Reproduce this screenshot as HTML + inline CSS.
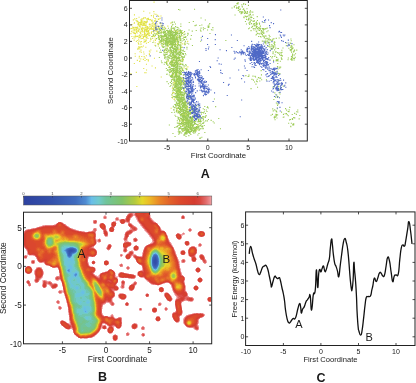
<!DOCTYPE html>
<html><head><meta charset="utf-8"><title>Figure</title>
<style>html,body{margin:0;padding:0;background:#fff;width:416px;height:383px;overflow:hidden}svg{display:block}</style>
</head><body>
<svg width="416" height="383" viewBox="0 0 416 383"><rect width="416" height="383" fill="#fff"/><defs><filter id="soft" x="-5%" y="-5%" width="110%" height="110%"><feGaussianBlur stdDeviation="0.45"/></filter><linearGradient id="cb" x1="0" x2="1" y1="0" y2="0"><stop offset="0.0000" stop-color="#2d41a0"/><stop offset="0.1538" stop-color="#3452ac"/><stop offset="0.2769" stop-color="#406cbe"/><stop offset="0.3308" stop-color="#508cd2"/><stop offset="0.3615" stop-color="#69bee8"/><stop offset="0.4000" stop-color="#70cacd"/><stop offset="0.4385" stop-color="#70c49b"/><stop offset="0.5231" stop-color="#80c269"/><stop offset="0.5923" stop-color="#b4ca3e"/><stop offset="0.6308" stop-color="#e4d82a"/><stop offset="0.6692" stop-color="#ecba28"/><stop offset="0.7231" stop-color="#ea8428"/><stop offset="0.7769" stop-color="#e2622a"/><stop offset="0.8308" stop-color="#dc4a2c"/><stop offset="0.9077" stop-color="#d53c30"/><stop offset="0.9385" stop-color="#d84840"/><stop offset="0.9692" stop-color="#e26c6c"/><stop offset="1.0000" stop-color="#f0a0a4"/></linearGradient></defs><g filter="url(#soft)"><path fill="#e2e246" d="M146 30.7h1.1v1.1h-1.1zM148.8 32.6h1.1v1.1h-1.1zM143.4 41.7h1.1v1.1h-1.1zM137.5 27.7h1.1v1.1h-1.1zM141.7 25.1h1.1v1.1h-1.1zM136.6 20.2h1.1v1.1h-1.1zM146.6 29.3h1.1v1.1h-1.1zM158.7 38.6h1.1v1.1h-1.1zM141.3 35.2h1.1v1.1h-1.1zM140.1 22.9h1.1v1.1h-1.1zM150.7 23.4h1.1v1.1h-1.1zM149.4 25.7h1.1v1.1h-1.1zM147 30.9h1.1v1.1h-1.1zM137.2 27.7h1.1v1.1h-1.1zM145.7 30.4h1.1v1.1h-1.1zM152.6 30.9h1.1v1.1h-1.1zM133.2 27.1h1.1v1.1h-1.1zM141.7 28.7h1.1v1.1h-1.1zM133.7 28.5h1.1v1.1h-1.1zM143.8 41.2h1.1v1.1h-1.1zM134 32.8h1.1v1.1h-1.1zM148.6 29.4h1.1v1.1h-1.1zM147.5 18h1.1v1.1h-1.1zM144.2 31.5h1.1v1.1h-1.1zM140.9 19.8h1.1v1.1h-1.1zM145.5 34.6h1.1v1.1h-1.1zM147.1 33.6h1.1v1.1h-1.1zM131.5 28h1.1v1.1h-1.1zM141.5 17.9h1.1v1.1h-1.1zM136.7 26.6h1.1v1.1h-1.1zM138.3 24.6h1.1v1.1h-1.1zM156.1 33.1h1.1v1.1h-1.1zM138.3 43.7h1.1v1.1h-1.1zM145.7 30.4h1.1v1.1h-1.1zM154.4 23.9h1.1v1.1h-1.1zM140.5 21.4h1.1v1.1h-1.1zM144.9 28.6h1.1v1.1h-1.1zM147 27.9h1.1v1.1h-1.1zM146.6 21.5h1.1v1.1h-1.1zM134.4 29.8h1.1v1.1h-1.1zM146.7 21.5h1.1v1.1h-1.1zM158.9 36.2h1.1v1.1h-1.1zM131.3 35.9h1.1v1.1h-1.1zM154.2 36.1h1.1v1.1h-1.1zM147.1 25.9h1.1v1.1h-1.1zM139.9 32.3h1.1v1.1h-1.1zM165 28.1h1.1v1.1h-1.1zM153.2 26.5h1.1v1.1h-1.1zM134.6 26.8h1.1v1.1h-1.1zM146.7 20.6h1.1v1.1h-1.1zM151.5 19.6h1.1v1.1h-1.1zM144.2 34.2h1.1v1.1h-1.1zM152.5 27.8h1.1v1.1h-1.1zM145.4 30.4h1.1v1.1h-1.1zM152.3 35.5h1.1v1.1h-1.1zM159.7 17.7h1.1v1.1h-1.1zM139.6 23.9h1.1v1.1h-1.1zM147.9 30.1h1.1v1.1h-1.1zM141.6 31.5h1.1v1.1h-1.1zM147.2 26.5h1.1v1.1h-1.1zM134.7 35.7h1.1v1.1h-1.1zM140.5 30.4h1.1v1.1h-1.1zM144.1 21.1h1.1v1.1h-1.1zM154.5 23h1.1v1.1h-1.1zM156.9 34.2h1.1v1.1h-1.1zM133.4 32h1.1v1.1h-1.1zM138.5 16.7h1.1v1.1h-1.1zM152.1 37.8h1.1v1.1h-1.1zM141.6 37.7h1.1v1.1h-1.1zM145.1 26.5h1.1v1.1h-1.1zM157.9 27.1h1.1v1.1h-1.1zM152.5 21.7h1.1v1.1h-1.1zM142.9 45.5h1.1v1.1h-1.1zM142.5 27.9h1.1v1.1h-1.1zM143.6 39.3h1.1v1.1h-1.1zM160.5 24.8h1.1v1.1h-1.1zM141.9 30.1h1.1v1.1h-1.1zM143.1 18.1h1.1v1.1h-1.1zM149.3 26.5h1.1v1.1h-1.1zM144.9 35.4h1.1v1.1h-1.1zM144.1 20.9h1.1v1.1h-1.1zM135.4 36h1.1v1.1h-1.1zM145.9 31.2h1.1v1.1h-1.1zM141.8 22.2h1.1v1.1h-1.1zM157.1 25.7h1.1v1.1h-1.1zM152.2 26h1.1v1.1h-1.1zM145.8 28.7h1.1v1.1h-1.1zM152.3 25.5h1.1v1.1h-1.1zM142.8 23.6h1.1v1.1h-1.1zM156 27h1.1v1.1h-1.1zM145.9 22.3h1.1v1.1h-1.1zM151.5 20.6h1.1v1.1h-1.1zM133.7 28.7h1.1v1.1h-1.1zM149.3 34.7h1.1v1.1h-1.1zM143.1 24.8h1.1v1.1h-1.1zM137.5 22.6h1.1v1.1h-1.1zM147.6 34.5h1.1v1.1h-1.1zM167.3 25.6h1.1v1.1h-1.1zM138.1 38.7h1.1v1.1h-1.1zM140.1 23.9h1.1v1.1h-1.1zM148 31.5h1.1v1.1h-1.1zM150.7 27.5h1.1v1.1h-1.1zM144.3 24.1h1.1v1.1h-1.1zM144 32.8h1.1v1.1h-1.1zM152.7 28h1.1v1.1h-1.1zM150.9 32.9h1.1v1.1h-1.1zM136.2 28.7h1.1v1.1h-1.1zM145.2 21.9h1.1v1.1h-1.1zM146.3 28.3h1.1v1.1h-1.1zM136 29.3h1.1v1.1h-1.1zM148.5 35.2h1.1v1.1h-1.1zM137.8 23.1h1.1v1.1h-1.1zM155.2 28.7h1.1v1.1h-1.1zM147.8 17.8h1.1v1.1h-1.1zM146.8 33.2h1.1v1.1h-1.1zM140.4 22h1.1v1.1h-1.1zM144.9 17.3h1.1v1.1h-1.1zM135.3 36.2h1.1v1.1h-1.1zM149.4 19.1h1.1v1.1h-1.1zM154 24.2h1.1v1.1h-1.1zM153.2 31.5h1.1v1.1h-1.1zM138 23.8h1.1v1.1h-1.1zM153.4 24.3h1.1v1.1h-1.1zM147.2 32.8h1.1v1.1h-1.1zM131.4 24.1h1.1v1.1h-1.1zM157.9 31.8h1.1v1.1h-1.1zM159.7 22.7h1.1v1.1h-1.1zM145.4 21.1h1.1v1.1h-1.1zM143.4 17.1h1.1v1.1h-1.1zM144.5 41.1h1.1v1.1h-1.1zM136.7 26.9h1.1v1.1h-1.1zM156.4 30.6h1.1v1.1h-1.1zM140.8 28.8h1.1v1.1h-1.1zM145.5 30h1.1v1.1h-1.1zM138.5 29.3h1.1v1.1h-1.1zM140.1 41.4h1.1v1.1h-1.1zM133.9 22.2h1.1v1.1h-1.1zM157.9 18.9h1.1v1.1h-1.1zM144.5 22.4h1.1v1.1h-1.1zM155.2 20.3h1.1v1.1h-1.1zM146.1 33.9h1.1v1.1h-1.1zM139.4 34.3h1.1v1.1h-1.1zM142.9 22.8h1.1v1.1h-1.1zM140.7 20h1.1v1.1h-1.1zM146.1 26.7h1.1v1.1h-1.1zM142.4 38h1.1v1.1h-1.1zM143.2 10.7h1.1v1.1h-1.1zM132.9 32.4h1.1v1.1h-1.1zM138.3 22h1.1v1.1h-1.1zM161.7 35.8h1.1v1.1h-1.1zM139.6 22h1.1v1.1h-1.1zM136 27.1h1.1v1.1h-1.1zM149.2 19.2h1.1v1.1h-1.1zM159.4 22.6h1.1v1.1h-1.1zM132.2 38h1.1v1.1h-1.1zM144 34.3h1.1v1.1h-1.1zM140 26.4h1.1v1.1h-1.1zM153 16.7h1.1v1.1h-1.1zM145.8 26.4h1.1v1.1h-1.1zM146.7 28.8h1.1v1.1h-1.1zM138.9 28.5h1.1v1.1h-1.1zM150.3 28.4h1.1v1.1h-1.1zM140.9 21.7h1.1v1.1h-1.1zM144.6 28.6h1.1v1.1h-1.1zM135.5 28.7h1.1v1.1h-1.1zM134.4 37.4h1.1v1.1h-1.1zM158.7 41.1h1.1v1.1h-1.1zM141.2 28.1h1.1v1.1h-1.1zM148.8 24h1.1v1.1h-1.1zM145.7 28.6h1.1v1.1h-1.1zM141.8 25.1h1.1v1.1h-1.1zM141.2 24.2h1.1v1.1h-1.1zM152 28.6h1.1v1.1h-1.1zM143.1 22.2h1.1v1.1h-1.1zM144.6 32.9h1.1v1.1h-1.1zM146.2 28.3h1.1v1.1h-1.1zM157.2 30.6h1.1v1.1h-1.1zM152.5 27.8h1.1v1.1h-1.1zM149.6 24.3h1.1v1.1h-1.1zM140.6 22.8h1.1v1.1h-1.1zM132.9 27.5h1.1v1.1h-1.1zM155 25.4h1.1v1.1h-1.1zM155.2 30.5h1.1v1.1h-1.1zM144.7 29h1.1v1.1h-1.1zM151.1 20.1h1.1v1.1h-1.1zM153.4 29.4h1.1v1.1h-1.1zM153.9 20.3h1.1v1.1h-1.1zM154.8 25h1.1v1.1h-1.1zM141.7 27.1h1.1v1.1h-1.1zM160.4 15.5h1.1v1.1h-1.1zM134.2 29.6h1.1v1.1h-1.1zM154.2 30h1.1v1.1h-1.1zM150.7 28h1.1v1.1h-1.1zM154.3 26.2h1.1v1.1h-1.1zM163.9 26.6h1.1v1.1h-1.1zM160.1 22.7h1.1v1.1h-1.1zM135.1 27.2h1.1v1.1h-1.1zM153.8 29.6h1.1v1.1h-1.1zM136.4 21.2h1.1v1.1h-1.1zM145.9 30.5h1.1v1.1h-1.1zM154 29.9h1.1v1.1h-1.1zM130.4 28.1h1.1v1.1h-1.1zM148.5 32.6h1.1v1.1h-1.1zM146.4 18.2h1.1v1.1h-1.1zM143.7 32h1.1v1.1h-1.1zM146.4 30.6h1.1v1.1h-1.1zM137.8 30.8h1.1v1.1h-1.1zM131.6 31.5h1.1v1.1h-1.1zM144.4 24.8h1.1v1.1h-1.1zM136.8 27.3h1.1v1.1h-1.1zM130.4 33.1h1.1v1.1h-1.1zM150.8 31.8h1.1v1.1h-1.1zM145.4 30.3h1.1v1.1h-1.1zM149.9 19.2h1.1v1.1h-1.1zM136.6 32.5h1.1v1.1h-1.1zM139.7 36.6h1.1v1.1h-1.1zM136.5 35.6h1.1v1.1h-1.1zM137.6 30.5h1.1v1.1h-1.1zM147.9 18.9h1.1v1.1h-1.1zM138.6 35.1h1.1v1.1h-1.1zM149.4 28h1.1v1.1h-1.1zM149.2 12.5h1.1v1.1h-1.1zM165.2 31.5h1.1v1.1h-1.1zM132.8 19.3h1.1v1.1h-1.1zM154.4 20.6h1.1v1.1h-1.1zM145.1 24.9h1.1v1.1h-1.1zM145.9 37.3h1.1v1.1h-1.1zM132.2 26.6h1.1v1.1h-1.1zM141.6 30.8h1.1v1.1h-1.1zM153.1 40.4h1.1v1.1h-1.1zM145.2 39.4h1.1v1.1h-1.1zM146.8 28.3h1.1v1.1h-1.1zM143.2 27.4h1.1v1.1h-1.1zM157 20.8h1.1v1.1h-1.1zM145.8 24.5h1.1v1.1h-1.1zM139.4 31.6h1.1v1.1h-1.1zM141 24h1.1v1.1h-1.1zM158.7 28.6h1.1v1.1h-1.1zM146.4 33.8h1.1v1.1h-1.1zM134.9 32.8h1.1v1.1h-1.1zM137.1 36h1.1v1.1h-1.1zM156.7 31.6h1.1v1.1h-1.1zM147.5 27h1.1v1.1h-1.1zM146.5 31.4h1.1v1.1h-1.1zM145.5 22.5h1.1v1.1h-1.1zM146.4 18.3h1.1v1.1h-1.1zM153.7 32.8h1.1v1.1h-1.1zM151.2 28.6h1.1v1.1h-1.1zM148 31h1.1v1.1h-1.1zM136.1 18h1.1v1.1h-1.1zM150.9 26.6h1.1v1.1h-1.1zM139.5 25.1h1.1v1.1h-1.1zM156.4 23.4h1.1v1.1h-1.1zM133.9 14.3h1.1v1.1h-1.1zM144.7 26.8h1.1v1.1h-1.1zM145.9 34.8h1.1v1.1h-1.1zM133.4 31.5h1.1v1.1h-1.1zM162.4 25.1h1.1v1.1h-1.1zM159.9 28.9h1.1v1.1h-1.1zM141.6 33.9h1.1v1.1h-1.1zM153.3 11.1h1.1v1.1h-1.1zM149.6 28.2h1.1v1.1h-1.1zM148.4 33.4h1.1v1.1h-1.1zM145.4 40.1h1.1v1.1h-1.1zM146.8 36.4h1.1v1.1h-1.1zM135.8 31h1.1v1.1h-1.1zM143.4 31h1.1v1.1h-1.1zM144.3 34.1h1.1v1.1h-1.1zM157.3 25.5h1.1v1.1h-1.1zM149.2 28.7h1.1v1.1h-1.1zM145.9 34.9h1.1v1.1h-1.1zM160.5 41.7h1.1v1.1h-1.1zM140.7 28h1.1v1.1h-1.1zM142.3 28.7h1.1v1.1h-1.1zM160.9 37.7h1.1v1.1h-1.1zM155.2 28.8h1.1v1.1h-1.1zM154.7 38.6h1.1v1.1h-1.1zM152.4 22.7h1.1v1.1h-1.1zM147 27.8h1.1v1.1h-1.1zM148 27.7h1.1v1.1h-1.1zM143.6 34.1h1.1v1.1h-1.1zM144.1 35.8h1.1v1.1h-1.1zM146.5 19.2h1.1v1.1h-1.1zM160.4 23.1h1.1v1.1h-1.1zM151.3 31.2h1.1v1.1h-1.1zM145.4 24.7h1.1v1.1h-1.1zM140.5 19.1h1.1v1.1h-1.1zM140 35.8h1.1v1.1h-1.1zM161.2 32.2h1.1v1.1h-1.1zM150.8 32.2h1.1v1.1h-1.1zM146.6 25.9h1.1v1.1h-1.1zM142.7 35.7h1.1v1.1h-1.1zM135.5 27.4h1.1v1.1h-1.1zM145.4 36.1h1.1v1.1h-1.1zM154.3 23.1h1.1v1.1h-1.1zM142.3 23.4h1.1v1.1h-1.1zM143.8 30.3h1.1v1.1h-1.1zM143.9 24.4h1.1v1.1h-1.1zM147 33.4h1.1v1.1h-1.1zM130.9 30.7h1.1v1.1h-1.1zM143.8 23h1.1v1.1h-1.1zM137.9 29.5h1.1v1.1h-1.1zM154.4 26.7h1.1v1.1h-1.1zM138.7 35h1.1v1.1h-1.1zM151.5 24.9h1.1v1.1h-1.1zM160.5 26.1h1.1v1.1h-1.1zM143 36.9h1.1v1.1h-1.1zM140.3 43.6h1.1v1.1h-1.1zM147.8 42h1.1v1.1h-1.1zM146 29.4h1.1v1.1h-1.1zM136.6 30.4h1.1v1.1h-1.1zM150.4 39h1.1v1.1h-1.1zM165.1 28.2h1.1v1.1h-1.1zM143.5 22.7h1.1v1.1h-1.1zM144.1 29.8h1.1v1.1h-1.1zM136.1 31.9h1.1v1.1h-1.1zM149 23.6h1.1v1.1h-1.1zM134.2 18.3h1.1v1.1h-1.1zM135.5 19.7h1.1v1.1h-1.1zM158.2 33.3h1.1v1.1h-1.1zM137.4 24.1h1.1v1.1h-1.1zM156.3 28.1h1.1v1.1h-1.1zM160.5 30.4h1.1v1.1h-1.1zM145.3 46.7h1.1v1.1h-1.1zM138.7 57.5h1.1v1.1h-1.1zM144.5 59.9h1.1v1.1h-1.1zM134.8 34.4h1.1v1.1h-1.1zM138.5 47.1h1.1v1.1h-1.1zM133.8 62.9h1.1v1.1h-1.1zM148.9 53.8h1.1v1.1h-1.1zM140.8 51.7h1.1v1.1h-1.1zM135.8 71.8h1.1v1.1h-1.1zM138.5 40.5h1.1v1.1h-1.1zM139.4 51.2h1.1v1.1h-1.1zM145.9 42.7h1.1v1.1h-1.1zM133.7 22.7h1.1v1.1h-1.1zM138.4 40.6h1.1v1.1h-1.1zM158.7 42.6h1.1v1.1h-1.1zM147.7 59.3h1.1v1.1h-1.1zM140.2 58.5h1.1v1.1h-1.1zM146 69.5h1.1v1.1h-1.1zM155.4 28h1.1v1.1h-1.1zM139.4 60.5h1.1v1.1h-1.1zM138.4 45.9h1.1v1.1h-1.1zM149.5 40.7h1.1v1.1h-1.1zM144.5 57.6h1.1v1.1h-1.1zM145.7 37.1h1.1v1.1h-1.1zM137.4 20.9h1.1v1.1h-1.1zM154.5 44.8h1.1v1.1h-1.1zM153 29h1.1v1.1h-1.1zM145 40.9h1.1v1.1h-1.1zM145.8 55.2h1.1v1.1h-1.1zM145.5 72.2h1.1v1.1h-1.1zM139.6 47.2h1.1v1.1h-1.1zM144 28.5h1.1v1.1h-1.1zM145.8 39.4h1.1v1.1h-1.1zM138.6 37.1h1.1v1.1h-1.1zM143.6 56.1h1.1v1.1h-1.1zM135.8 41h1.1v1.1h-1.1zM138.7 22.3h1.1v1.1h-1.1zM136.8 59.8h1.1v1.1h-1.1zM138.6 48.4h1.1v1.1h-1.1zM149.5 51.5h1.1v1.1h-1.1zM142.8 58.8h1.1v1.1h-1.1zM148.8 50.5h1.1v1.1h-1.1zM154.9 67.3h1.1v1.1h-1.1zM141.2 55.9h1.1v1.1h-1.1zM134.7 55.7h1.1v1.1h-1.1zM132.6 29.6h1.1v1.1h-1.1zM137.5 47.7h1.1v1.1h-1.1zM141.6 46.4h1.1v1.1h-1.1zM143.4 31h1.1v1.1h-1.1zM130.4 72.9h1.1v1.1h-1.1zM143.1 51.5h1.1v1.1h-1.1zM140.2 33h1.1v1.1h-1.1zM138.8 26.1h1.1v1.1h-1.1zM140.5 46.1h1.1v1.1h-1.1zM137.2 48.7h1.1v1.1h-1.1zM136.7 39.9h1.1v1.1h-1.1zM140.8 41h1.1v1.1h-1.1zM153.9 57.7h1.1v1.1h-1.1zM154.9 39.9h1.1v1.1h-1.1zM150.3 49.5h1.1v1.1h-1.1zM145.9 63.7h1.1v1.1h-1.1zM136.3 86h1.1v1.1h-1.1zM151.1 35.9h1.1v1.1h-1.1zM140.6 43.5h1.1v1.1h-1.1zM140.5 38.2h1.1v1.1h-1.1zM139 61h1.1v1.1h-1.1zM141.6 33.9h1.1v1.1h-1.1zM138 43.2h1.1v1.1h-1.1zM140.4 49.6h1.1v1.1h-1.1zM133.4 36.3h1.1v1.1h-1.1zM138.4 36.6h1.1v1.1h-1.1zM157 43.3h1.1v1.1h-1.1zM140.5 20.6h1.1v1.1h-1.1zM144.2 72.2h1.1v1.1h-1.1zM152.1 23.3h1.1v1.1h-1.1zM147.4 38h1.1v1.1h-1.1zM143.5 53.4h1.1v1.1h-1.1zM161.2 32.1h1.1v1.1h-1.1zM157.8 45.5h1.1v1.1h-1.1zM148.9 35h1.1v1.1h-1.1zM137.6 42.2h1.1v1.1h-1.1zM158.8 37.6h1.1v1.1h-1.1zM141.9 19.5h1.1v1.1h-1.1zM133.6 39.6h1.1v1.1h-1.1zM138.8 55.8h1.1v1.1h-1.1zM170.3 22.6h1.1v1.1h-1.1zM153.1 35.7h1.1v1.1h-1.1zM166.2 52h1.1v1.1h-1.1zM143.3 20.7h1.1v1.1h-1.1zM163.1 43.3h1.1v1.1h-1.1zM141.6 20.9h1.1v1.1h-1.1zM147.8 60.4h1.1v1.1h-1.1zM184.8 81.6h1.1v1.1h-1.1zM160.7 76.4h1.1v1.1h-1.1zM143 36.1h1.1v1.1h-1.1zM148.8 53.3h1.1v1.1h-1.1zM154.6 42.2h1.1v1.1h-1.1zM166.9 41.8h1.1v1.1h-1.1zM143.2 67.9h1.1v1.1h-1.1zM146.1 59h1.1v1.1h-1.1zM150.2 39.1h1.1v1.1h-1.1zM151.5 65.4h1.1v1.1h-1.1zM168.4 43.4h1.1v1.1h-1.1zM154.4 27.9h1.1v1.1h-1.1zM161.4 45h1.1v1.1h-1.1zM134.6 53.2h1.1v1.1h-1.1zM162.2 40.6h1.1v1.1h-1.1zM179.3 48.8h1.1v1.1h-1.1zM160.8 30.6h1.1v1.1h-1.1zM153.5 1.6h1.1v1.1h-1.1zM157.7 18.4h1.1v1.1h-1.1zM157.1 14.7h1.1v1.1h-1.1zM155.4 13.8h1.1v1.1h-1.1zM155.2 18.5h1.1v1.1h-1.1zM158.1 15.8h1.1v1.1h-1.1zM153.6 13.4h1.1v1.1h-1.1zM152.9 15.3h1.1v1.1h-1.1zM154.4 17.9h1.1v1.1h-1.1zM158.6 18.4h1.1v1.1h-1.1zM150.8 15.1h1.1v1.1h-1.1zM164.2 36.4h1.1v1.1h-1.1zM176.7 74.3h1.1v1.1h-1.1zM176.9 98.6h1.1v1.1h-1.1zM170.1 36h1.1v1.1h-1.1zM175.4 55.9h1.1v1.1h-1.1zM176.8 31.5h1.1v1.1h-1.1zM174.8 86.3h1.1v1.1h-1.1zM175.8 69.4h1.1v1.1h-1.1zM180.2 81.6h1.1v1.1h-1.1zM175.3 60.5h1.1v1.1h-1.1zM173.6 98.8h1.1v1.1h-1.1zM181 46.8h1.1v1.1h-1.1zM194.7 120.8h1.1v1.1h-1.1zM182.7 129.5h1.1v1.1h-1.1zM182.4 80.2h1.1v1.1h-1.1zM172.2 78.8h1.1v1.1h-1.1zM189.7 117h1.1v1.1h-1.1zM172.6 60.2h1.1v1.1h-1.1zM179.4 114.2h1.1v1.1h-1.1zM168.1 60.6h1.1v1.1h-1.1zM179.1 105h1.1v1.1h-1.1zM175.3 64.5h1.1v1.1h-1.1zM180.2 92.1h1.1v1.1h-1.1zM189.9 124.1h1.1v1.1h-1.1zM162.3 36.3h1.1v1.1h-1.1zM183.8 113h1.1v1.1h-1.1zM174.2 86.6h1.1v1.1h-1.1zM185.9 67.7h1.1v1.1h-1.1zM177 66h1.1v1.1h-1.1zM170.2 37.3h1.1v1.1h-1.1zM176.1 56.4h1.1v1.1h-1.1zM172.1 95.4h1.1v1.1h-1.1zM179.3 39.6h1.1v1.1h-1.1zM178.4 99.4h1.1v1.1h-1.1zM185.2 129.1h1.1v1.1h-1.1zM194 128.9h1.1v1.1h-1.1zM183.5 121.7h1.1v1.1h-1.1zM183.3 113.1h1.1v1.1h-1.1zM156.3 50.6h1.1v1.1h-1.1zM182.5 130.7h1.1v1.1h-1.1zM173.5 50.9h1.1v1.1h-1.1zM182.4 119.8h1.1v1.1h-1.1zM185.3 120.1h1.1v1.1h-1.1zM181 94h1.1v1.1h-1.1zM175.6 84.2h1.1v1.1h-1.1zM170.4 51.1h1.1v1.1h-1.1zM172.3 84.5h1.1v1.1h-1.1zM181.4 59h1.1v1.1h-1.1zM180.6 42.5h1.1v1.1h-1.1zM177 43h1.1v1.1h-1.1zM182 113h1.1v1.1h-1.1zM183.2 125.4h1.1v1.1h-1.1zM173.2 44.7h1.1v1.1h-1.1zM170 31.5h1.1v1.1h-1.1zM173.8 57.3h1.1v1.1h-1.1zM182.2 43.3h1.1v1.1h-1.1zM177.7 48.9h1.1v1.1h-1.1zM175.6 90.7h1.1v1.1h-1.1zM173 74.1h1.1v1.1h-1.1zM171.9 75h1.1v1.1h-1.1zM169.4 51.8h1.1v1.1h-1.1zM188.7 97.3h1.1v1.1h-1.1zM172.9 60.1h1.1v1.1h-1.1zM174.5 71.5h1.1v1.1h-1.1zM181.8 77.2h1.1v1.1h-1.1zM178.8 124.5h1.1v1.1h-1.1zM174.6 55.4h1.1v1.1h-1.1zM178.3 105.2h1.1v1.1h-1.1zM170.9 62.6h1.1v1.1h-1.1zM184.7 122h1.1v1.1h-1.1zM170.1 71.6h1.1v1.1h-1.1zM178.1 82.1h1.1v1.1h-1.1zM182.6 120.7h1.1v1.1h-1.1zM178.6 99.7h1.1v1.1h-1.1zM179.6 39.3h1.1v1.1h-1.1zM176.2 43.9h1.1v1.1h-1.1zM195.9 129.5h1.1v1.1h-1.1zM183 32.2h1.1v1.1h-1.1zM182.1 60h1.1v1.1h-1.1zM187 128.3h1.1v1.1h-1.1zM180.7 30.9h1.1v1.1h-1.1zM166.9 47.5h1.1v1.1h-1.1zM174.7 51.9h1.1v1.1h-1.1zM173.7 38.8h1.1v1.1h-1.1zM181.5 78.1h1.1v1.1h-1.1zM177.6 91.4h1.1v1.1h-1.1zM179.1 62.3h1.1v1.1h-1.1zM168.2 41.5h1.1v1.1h-1.1zM182.1 114h1.1v1.1h-1.1zM192.4 109.4h1.1v1.1h-1.1zM176.8 88.3h1.1v1.1h-1.1zM184.8 43.5h1.1v1.1h-1.1zM175.3 86.4h1.1v1.1h-1.1zM186.8 93.9h1.1v1.1h-1.1zM180.5 73.6h1.1v1.1h-1.1zM180.6 119.7h1.1v1.1h-1.1zM174.9 70.5h1.1v1.1h-1.1zM175.3 83.1h1.1v1.1h-1.1zM187.2 40.8h1.1v1.1h-1.1zM175.8 88.6h1.1v1.1h-1.1zM186.9 107.3h1.1v1.1h-1.1zM176 107.5h1.1v1.1h-1.1zM173.7 56.6h1.1v1.1h-1.1zM190.7 131h1.1v1.1h-1.1zM187.7 101.8h1.1v1.1h-1.1zM180 73.2h1.1v1.1h-1.1zM176.4 72.9h1.1v1.1h-1.1zM178.3 111.9h1.1v1.1h-1.1zM165.5 49.2h1.1v1.1h-1.1zM180.6 95.9h1.1v1.1h-1.1zM186 102.3h1.1v1.1h-1.1zM182.1 82.7h1.1v1.1h-1.1zM178.9 121.2h1.1v1.1h-1.1zM176 78.6h1.1v1.1h-1.1zM180.9 77.4h1.1v1.1h-1.1zM166.7 60.5h1.1v1.1h-1.1zM185.6 124.4h1.1v1.1h-1.1zM171.1 63.3h1.1v1.1h-1.1zM177.9 102.7h1.1v1.1h-1.1zM174.7 72.5h1.1v1.1h-1.1zM191.2 124.8h1.1v1.1h-1.1zM197 124.7h1.1v1.1h-1.1zM180.3 32.5h1.1v1.1h-1.1zM194.5 130.3h1.1v1.1h-1.1zM177.3 92.7h1.1v1.1h-1.1zM176.6 37.3h1.1v1.1h-1.1zM174.6 81.8h1.1v1.1h-1.1zM166 35.5h1.1v1.1h-1.1zM172.9 87.5h1.1v1.1h-1.1zM164.1 50.4h1.1v1.1h-1.1zM187.3 66.3h1.1v1.1h-1.1zM166.6 62.7h1.1v1.1h-1.1zM178.2 92.3h1.1v1.1h-1.1zM184.8 114.3h1.1v1.1h-1.1zM191.7 124.8h1.1v1.1h-1.1zM173.6 64.2h1.1v1.1h-1.1zM178.1 88.9h1.1v1.1h-1.1zM175.7 30.3h1.1v1.1h-1.1zM183.5 67.3h1.1v1.1h-1.1zM182.6 129.6h1.1v1.1h-1.1zM168.6 42.6h1.1v1.1h-1.1zM191.8 117.6h1.1v1.1h-1.1zM181.4 97.1h1.1v1.1h-1.1zM170.4 61h1.1v1.1h-1.1zM186.1 108.9h1.1v1.1h-1.1zM172.6 60.2h1.1v1.1h-1.1zM182.4 122.6h1.1v1.1h-1.1zM166.3 39h1.1v1.1h-1.1zM172.9 42.3h1.1v1.1h-1.1zM186.2 105.7h1.1v1.1h-1.1zM177.9 76.2h1.1v1.1h-1.1zM167.6 45.9h1.1v1.1h-1.1zM178.1 83h1.1v1.1h-1.1zM166.1 62h1.1v1.1h-1.1zM171.8 87.7h1.1v1.1h-1.1zM176.7 108.6h1.1v1.1h-1.1zM182.9 118.4h1.1v1.1h-1.1zM179.1 35.6h1.1v1.1h-1.1zM172.8 92.1h1.1v1.1h-1.1zM185.9 131.3h1.1v1.1h-1.1zM179.1 77.2h1.1v1.1h-1.1zM187 107.6h1.1v1.1h-1.1zM175.6 39.9h1.1v1.1h-1.1zM186.1 119.4h1.1v1.1h-1.1zM183.5 89.4h1.1v1.1h-1.1zM181.4 122.1h1.1v1.1h-1.1zM185.5 110.1h1.1v1.1h-1.1zM184 119.5h1.1v1.1h-1.1zM182.2 35.2h1.1v1.1h-1.1zM170.6 107.7h1.1v1.1h-1.1zM167 51.2h1.1v1.1h-1.1zM174.3 57.5h1.1v1.1h-1.1zM180.2 62.8h1.1v1.1h-1.1zM173.5 91.9h1.1v1.1h-1.1zM180.7 94.6h1.1v1.1h-1.1zM190.5 124.5h1.1v1.1h-1.1zM177.1 30.9h1.1v1.1h-1.1zM179.9 49.1h1.1v1.1h-1.1zM175.6 67.4h1.1v1.1h-1.1zM185.2 113.7h1.1v1.1h-1.1zM179.6 86.6h1.1v1.1h-1.1zM181.4 82.3h1.1v1.1h-1.1zM177.1 110.3h1.1v1.1h-1.1zM174.2 98.5h1.1v1.1h-1.1zM178.5 59.4h1.1v1.1h-1.1zM163.8 39.6h1.1v1.1h-1.1zM176.7 77.8h1.1v1.1h-1.1zM187.5 119.7h1.1v1.1h-1.1zM171.9 92.8h1.1v1.1h-1.1zM178.7 35.1h1.1v1.1h-1.1zM173.5 75.9h1.1v1.1h-1.1zM176.1 69.7h1.1v1.1h-1.1zM178.4 90.2h1.1v1.1h-1.1zM183.2 90h1.1v1.1h-1.1zM191.2 126.5h1.1v1.1h-1.1zM169 65.9h1.1v1.1h-1.1zM175.7 72.2h1.1v1.1h-1.1zM176.6 93.7h1.1v1.1h-1.1zM183.5 121.4h1.1v1.1h-1.1zM184.1 101.6h1.1v1.1h-1.1zM177.4 78.6h1.1v1.1h-1.1zM185.8 113.1h1.1v1.1h-1.1zM178.6 79.9h1.1v1.1h-1.1zM190.8 127.9h1.1v1.1h-1.1zM173.4 59.3h1.1v1.1h-1.1zM168 43.5h1.1v1.1h-1.1zM186.6 114.5h1.1v1.1h-1.1zM177.6 60.3h1.1v1.1h-1.1zM180.8 117.9h1.1v1.1h-1.1zM180 92.8h1.1v1.1h-1.1zM173.7 83.2h1.1v1.1h-1.1zM176.9 38.7h1.1v1.1h-1.1zM188.7 108.8h1.1v1.1h-1.1zM176.8 36.5h1.1v1.1h-1.1zM193.5 127.4h1.1v1.1h-1.1zM184.9 120.1h1.1v1.1h-1.1zM173.6 61.5h1.1v1.1h-1.1zM169.9 43.4h1.1v1.1h-1.1zM187.4 120.4h1.1v1.1h-1.1zM176 79.8h1.1v1.1h-1.1zM176.9 42.6h1.1v1.1h-1.1zM173.3 82.1h1.1v1.1h-1.1zM172.4 55.7h1.1v1.1h-1.1zM179.2 71.7h1.1v1.1h-1.1zM171.9 97.3h1.1v1.1h-1.1zM190.4 122.8h1.1v1.1h-1.1zM185.2 111.8h1.1v1.1h-1.1zM171.1 46.9h1.1v1.1h-1.1zM176.2 79.5h1.1v1.1h-1.1zM176.2 81h1.1v1.1h-1.1zM196.7 129.2h1.1v1.1h-1.1zM172 39h1.1v1.1h-1.1zM184.9 81.7h1.1v1.1h-1.1zM189.7 122.9h1.1v1.1h-1.1zM176.7 71.1h1.1v1.1h-1.1zM171.5 57.4h1.1v1.1h-1.1zM181.3 87h1.1v1.1h-1.1zM173.8 63.3h1.1v1.1h-1.1zM190.9 123.9h1.1v1.1h-1.1zM171.9 38.8h1.1v1.1h-1.1zM178.7 50.7h1.1v1.1h-1.1zM166.4 39.1h1.1v1.1h-1.1zM178.5 104.4h1.1v1.1h-1.1zM182.6 59.1h1.1v1.1h-1.1zM189.5 121.4h1.1v1.1h-1.1zM189.8 120.6h1.1v1.1h-1.1zM198.7 123h1.1v1.1h-1.1zM180.9 55.6h1.1v1.1h-1.1zM173.7 29.9h1.1v1.1h-1.1zM181.3 69.2h1.1v1.1h-1.1zM189.1 128.2h1.1v1.1h-1.1zM180.9 109.2h1.1v1.1h-1.1zM176.4 35.9h1.1v1.1h-1.1zM179.3 103h1.1v1.1h-1.1zM181.9 125.1h1.1v1.1h-1.1zM193 127.8h1.1v1.1h-1.1zM177.7 105.1h1.1v1.1h-1.1zM181.4 119.4h1.1v1.1h-1.1zM180.2 118.2h1.1v1.1h-1.1zM175.5 67h1.1v1.1h-1.1z"/><path fill="#9ccb55" d="M175.8 70.7h1.1v1.1h-1.1zM191.1 119.4h1.1v1.1h-1.1zM187.7 126.7h1.1v1.1h-1.1zM192.7 121h1.1v1.1h-1.1zM183.1 115.5h1.1v1.1h-1.1zM164.2 55.4h1.1v1.1h-1.1zM171.9 33.3h1.1v1.1h-1.1zM176.2 76.8h1.1v1.1h-1.1zM157.7 37.5h1.1v1.1h-1.1zM189.5 127.9h1.1v1.1h-1.1zM178 30.4h1.1v1.1h-1.1zM172.8 64h1.1v1.1h-1.1zM177.8 50.4h1.1v1.1h-1.1zM166.9 31.7h1.1v1.1h-1.1zM181.4 81h1.1v1.1h-1.1zM170.9 38h1.1v1.1h-1.1zM182 123.3h1.1v1.1h-1.1zM179 101.5h1.1v1.1h-1.1zM180 67.6h1.1v1.1h-1.1zM185 116.4h1.1v1.1h-1.1zM183.9 111.8h1.1v1.1h-1.1zM167.4 64.9h1.1v1.1h-1.1zM188 116.1h1.1v1.1h-1.1zM189.4 124.6h1.1v1.1h-1.1zM177.6 94.3h1.1v1.1h-1.1zM176 66.3h1.1v1.1h-1.1zM192.3 120.7h1.1v1.1h-1.1zM192 125.4h1.1v1.1h-1.1zM174.3 66h1.1v1.1h-1.1zM171.7 39h1.1v1.1h-1.1zM191.1 117.5h1.1v1.1h-1.1zM180.6 98.6h1.1v1.1h-1.1zM172.8 54.1h1.1v1.1h-1.1zM185.3 87.5h1.1v1.1h-1.1zM181.5 60.8h1.1v1.1h-1.1zM197.5 121.4h1.1v1.1h-1.1zM182.4 64.3h1.1v1.1h-1.1zM179.9 49.4h1.1v1.1h-1.1zM174.7 34.3h1.1v1.1h-1.1zM176.4 65.2h1.1v1.1h-1.1zM190.6 130.7h1.1v1.1h-1.1zM175 52.4h1.1v1.1h-1.1zM178 77.2h1.1v1.1h-1.1zM180.1 131.5h1.1v1.1h-1.1zM169.8 30.8h1.1v1.1h-1.1zM177.8 60h1.1v1.1h-1.1zM190.3 112.1h1.1v1.1h-1.1zM172.3 39.9h1.1v1.1h-1.1zM178.7 127.1h1.1v1.1h-1.1zM184.1 115.9h1.1v1.1h-1.1zM178.7 44.4h1.1v1.1h-1.1zM177.2 91.4h1.1v1.1h-1.1zM181.3 86.9h1.1v1.1h-1.1zM177.3 102.8h1.1v1.1h-1.1zM175.9 61.5h1.1v1.1h-1.1zM169.3 70.7h1.1v1.1h-1.1zM167.4 55.8h1.1v1.1h-1.1zM175.9 60h1.1v1.1h-1.1zM164 49.4h1.1v1.1h-1.1zM198 119.7h1.1v1.1h-1.1zM178.5 122.8h1.1v1.1h-1.1zM181.1 66.4h1.1v1.1h-1.1zM180.9 101.4h1.1v1.1h-1.1zM178.8 80.4h1.1v1.1h-1.1zM176.2 58.8h1.1v1.1h-1.1zM178.6 65.6h1.1v1.1h-1.1zM189.8 128.3h1.1v1.1h-1.1zM173.1 65.6h1.1v1.1h-1.1zM176.6 90.1h1.1v1.1h-1.1zM183.3 127.8h1.1v1.1h-1.1zM165.4 62.1h1.1v1.1h-1.1zM185 112.7h1.1v1.1h-1.1zM166.4 42.2h1.1v1.1h-1.1zM182.4 105.3h1.1v1.1h-1.1zM192.7 109.6h1.1v1.1h-1.1zM182.3 116.9h1.1v1.1h-1.1zM195.6 127.9h1.1v1.1h-1.1zM183.1 102.5h1.1v1.1h-1.1zM187.4 130.2h1.1v1.1h-1.1zM176.8 58.5h1.1v1.1h-1.1zM180.8 83.4h1.1v1.1h-1.1zM170.6 52.5h1.1v1.1h-1.1zM165.9 39.1h1.1v1.1h-1.1zM178.7 75h1.1v1.1h-1.1zM183 103.6h1.1v1.1h-1.1zM182.4 110.3h1.1v1.1h-1.1zM171.1 31.8h1.1v1.1h-1.1zM190 125.8h1.1v1.1h-1.1zM164.4 56.8h1.1v1.1h-1.1zM175.8 60h1.1v1.1h-1.1zM186.3 114.9h1.1v1.1h-1.1zM197.8 118.7h1.1v1.1h-1.1zM179.9 106.6h1.1v1.1h-1.1zM176.4 64.2h1.1v1.1h-1.1zM173.9 78.3h1.1v1.1h-1.1zM187.2 114.8h1.1v1.1h-1.1zM174.8 67h1.1v1.1h-1.1zM185.3 112.2h1.1v1.1h-1.1zM184 110.1h1.1v1.1h-1.1zM180.4 77.9h1.1v1.1h-1.1zM181.3 123.1h1.1v1.1h-1.1zM182.1 68.8h1.1v1.1h-1.1zM188.9 104.7h1.1v1.1h-1.1zM177.3 96.4h1.1v1.1h-1.1zM178.7 63.7h1.1v1.1h-1.1zM177.5 85h1.1v1.1h-1.1zM181.8 92.2h1.1v1.1h-1.1zM175.6 85.8h1.1v1.1h-1.1zM178.1 41.1h1.1v1.1h-1.1zM191 130.8h1.1v1.1h-1.1zM190.4 128.3h1.1v1.1h-1.1zM175.7 33.6h1.1v1.1h-1.1zM188.8 126.3h1.1v1.1h-1.1zM181.1 84.4h1.1v1.1h-1.1zM170.9 43.1h1.1v1.1h-1.1zM190.9 111.8h1.1v1.1h-1.1zM171.6 75.5h1.1v1.1h-1.1zM176.1 105.4h1.1v1.1h-1.1zM186.9 114.1h1.1v1.1h-1.1zM179.8 85.3h1.1v1.1h-1.1zM169.3 35.3h1.1v1.1h-1.1zM182.1 115.3h1.1v1.1h-1.1zM181.3 101.3h1.1v1.1h-1.1zM184.5 123.7h1.1v1.1h-1.1zM171.2 58.3h1.1v1.1h-1.1zM187.2 109.3h1.1v1.1h-1.1zM191.4 118h1.1v1.1h-1.1zM184.4 65.4h1.1v1.1h-1.1zM166.3 73.9h1.1v1.1h-1.1zM179.9 63.8h1.1v1.1h-1.1zM162.7 31.2h1.1v1.1h-1.1zM169.9 54.5h1.1v1.1h-1.1zM176.4 64.1h1.1v1.1h-1.1zM171.3 41.3h1.1v1.1h-1.1zM185.2 107.8h1.1v1.1h-1.1zM174.5 74.4h1.1v1.1h-1.1zM177.8 88.8h1.1v1.1h-1.1zM171.3 59.8h1.1v1.1h-1.1zM176.4 67.1h1.1v1.1h-1.1zM185 106.5h1.1v1.1h-1.1zM176.9 78.6h1.1v1.1h-1.1zM178.6 91.7h1.1v1.1h-1.1zM180.5 73.1h1.1v1.1h-1.1zM181.1 87.1h1.1v1.1h-1.1zM199.7 118.6h1.1v1.1h-1.1zM182.2 56.6h1.1v1.1h-1.1zM174.6 84.1h1.1v1.1h-1.1zM179.9 101.1h1.1v1.1h-1.1zM159.6 39.8h1.1v1.1h-1.1zM183.6 129.5h1.1v1.1h-1.1zM181 81h1.1v1.1h-1.1zM174.4 55.3h1.1v1.1h-1.1zM181.7 108.6h1.1v1.1h-1.1zM181.6 114.7h1.1v1.1h-1.1zM177.6 95.4h1.1v1.1h-1.1zM185.4 124.1h1.1v1.1h-1.1zM165.7 39.6h1.1v1.1h-1.1zM174.5 85h1.1v1.1h-1.1zM180 107.3h1.1v1.1h-1.1zM183.8 124.6h1.1v1.1h-1.1zM179.1 96.3h1.1v1.1h-1.1zM183.6 91.5h1.1v1.1h-1.1zM172.8 70.6h1.1v1.1h-1.1zM180.5 88.7h1.1v1.1h-1.1zM173.1 88.1h1.1v1.1h-1.1zM177.5 124.9h1.1v1.1h-1.1zM189.5 113.1h1.1v1.1h-1.1zM175.8 108.2h1.1v1.1h-1.1zM180.5 126.2h1.1v1.1h-1.1zM162.2 37.5h1.1v1.1h-1.1zM189.8 106.6h1.1v1.1h-1.1zM173.3 78.4h1.1v1.1h-1.1zM176 109.8h1.1v1.1h-1.1zM175.3 60.5h1.1v1.1h-1.1zM177.8 78.2h1.1v1.1h-1.1zM186.6 113.9h1.1v1.1h-1.1zM170.1 33.7h1.1v1.1h-1.1zM161.4 62.1h1.1v1.1h-1.1zM178.7 80.3h1.1v1.1h-1.1zM192.2 115.5h1.1v1.1h-1.1zM183.2 56.7h1.1v1.1h-1.1zM182.6 115.2h1.1v1.1h-1.1zM173.7 55.3h1.1v1.1h-1.1zM171.8 61.8h1.1v1.1h-1.1zM181.1 86.8h1.1v1.1h-1.1zM179.3 97.6h1.1v1.1h-1.1zM191 118.9h1.1v1.1h-1.1zM181.4 121.2h1.1v1.1h-1.1zM167.8 56.7h1.1v1.1h-1.1zM179.1 107.9h1.1v1.1h-1.1zM177 96h1.1v1.1h-1.1zM179.4 69.4h1.1v1.1h-1.1zM180.9 110.6h1.1v1.1h-1.1zM180.7 123.3h1.1v1.1h-1.1zM175.8 79.7h1.1v1.1h-1.1zM183 124.7h1.1v1.1h-1.1zM172.3 43.2h1.1v1.1h-1.1zM166.6 48h1.1v1.1h-1.1zM181.1 109.2h1.1v1.1h-1.1zM169 62.4h1.1v1.1h-1.1zM175.7 90.9h1.1v1.1h-1.1zM178.7 81.2h1.1v1.1h-1.1zM176.8 44.5h1.1v1.1h-1.1zM184.7 106.8h1.1v1.1h-1.1zM181.2 106.7h1.1v1.1h-1.1zM178.6 44.2h1.1v1.1h-1.1zM177.7 56.4h1.1v1.1h-1.1zM184.5 112h1.1v1.1h-1.1zM176.7 125.9h1.1v1.1h-1.1zM183.1 119.8h1.1v1.1h-1.1zM184.1 80.9h1.1v1.1h-1.1zM172.8 68.4h1.1v1.1h-1.1zM175 76.3h1.1v1.1h-1.1zM174.6 48h1.1v1.1h-1.1zM186.6 79.9h1.1v1.1h-1.1zM178.2 53.3h1.1v1.1h-1.1zM170.9 47h1.1v1.1h-1.1zM168.1 70.5h1.1v1.1h-1.1zM166.1 37h1.1v1.1h-1.1zM178.2 78.4h1.1v1.1h-1.1zM182.1 101.3h1.1v1.1h-1.1zM178.1 97.5h1.1v1.1h-1.1zM187.6 129.9h1.1v1.1h-1.1zM180.9 122h1.1v1.1h-1.1zM188.8 94h1.1v1.1h-1.1zM187.7 121.6h1.1v1.1h-1.1zM177.5 75.8h1.1v1.1h-1.1zM187.3 110.7h1.1v1.1h-1.1zM176.2 59.2h1.1v1.1h-1.1zM180.2 84.1h1.1v1.1h-1.1zM192.1 129.3h1.1v1.1h-1.1zM176.6 92.2h1.1v1.1h-1.1zM176.1 82.6h1.1v1.1h-1.1zM178.9 112.6h1.1v1.1h-1.1zM177.1 61.9h1.1v1.1h-1.1zM191.5 112.7h1.1v1.1h-1.1zM168.3 32.1h1.1v1.1h-1.1zM175 54.5h1.1v1.1h-1.1zM163.7 49.6h1.1v1.1h-1.1zM172.9 56.8h1.1v1.1h-1.1zM185.5 127.3h1.1v1.1h-1.1zM181.3 31.8h1.1v1.1h-1.1zM176.7 60.6h1.1v1.1h-1.1zM172.4 90.3h1.1v1.1h-1.1zM182.1 102h1.1v1.1h-1.1zM182.9 109.6h1.1v1.1h-1.1zM175.8 69.6h1.1v1.1h-1.1zM177.3 52.3h1.1v1.1h-1.1zM185.2 117.3h1.1v1.1h-1.1zM165.6 43.1h1.1v1.1h-1.1zM170 36.9h1.1v1.1h-1.1zM175.9 53.7h1.1v1.1h-1.1zM169.8 82h1.1v1.1h-1.1zM184.3 127.2h1.1v1.1h-1.1zM181.7 105h1.1v1.1h-1.1zM178.3 88.3h1.1v1.1h-1.1zM170.3 85h1.1v1.1h-1.1zM178.2 102.4h1.1v1.1h-1.1zM181.3 94.4h1.1v1.1h-1.1zM171.9 65.2h1.1v1.1h-1.1zM165.9 40h1.1v1.1h-1.1zM182.7 49.5h1.1v1.1h-1.1zM190.8 107.6h1.1v1.1h-1.1zM175.4 96.1h1.1v1.1h-1.1zM183.4 112h1.1v1.1h-1.1zM163.3 35.2h1.1v1.1h-1.1zM181 123.6h1.1v1.1h-1.1zM175.4 69.6h1.1v1.1h-1.1zM195 122.8h1.1v1.1h-1.1zM179.1 91.4h1.1v1.1h-1.1zM179.3 86.4h1.1v1.1h-1.1zM180.8 115.3h1.1v1.1h-1.1zM176.5 95h1.1v1.1h-1.1zM181.4 99.5h1.1v1.1h-1.1zM170.3 46.6h1.1v1.1h-1.1zM180.6 92.2h1.1v1.1h-1.1zM175.9 66.8h1.1v1.1h-1.1zM168.5 38.1h1.1v1.1h-1.1zM171.4 43.9h1.1v1.1h-1.1zM178.5 79.4h1.1v1.1h-1.1zM177.2 56.7h1.1v1.1h-1.1zM175.8 111.3h1.1v1.1h-1.1zM161.9 43.4h1.1v1.1h-1.1zM172.6 31.3h1.1v1.1h-1.1zM186.9 132.5h1.1v1.1h-1.1zM182.2 61.2h1.1v1.1h-1.1zM180.9 82.2h1.1v1.1h-1.1zM174.1 51.6h1.1v1.1h-1.1zM179.2 50.8h1.1v1.1h-1.1zM181 70.8h1.1v1.1h-1.1zM185.2 110.5h1.1v1.1h-1.1zM175.6 33.8h1.1v1.1h-1.1zM179.9 117.8h1.1v1.1h-1.1zM198.5 128.8h1.1v1.1h-1.1zM182.1 87.2h1.1v1.1h-1.1zM171.1 67.9h1.1v1.1h-1.1zM168.5 54.9h1.1v1.1h-1.1zM164.1 50.1h1.1v1.1h-1.1zM176.7 63.2h1.1v1.1h-1.1zM190.3 116h1.1v1.1h-1.1zM163.6 30.8h1.1v1.1h-1.1zM180.1 112h1.1v1.1h-1.1zM182.8 98.5h1.1v1.1h-1.1zM157.6 32.9h1.1v1.1h-1.1zM170 37.3h1.1v1.1h-1.1zM178.1 107.1h1.1v1.1h-1.1zM179.8 99.5h1.1v1.1h-1.1zM176.2 62.2h1.1v1.1h-1.1zM183.2 118.8h1.1v1.1h-1.1zM172.8 51.8h1.1v1.1h-1.1zM175.4 74.3h1.1v1.1h-1.1zM173.9 41.8h1.1v1.1h-1.1zM179.3 96.7h1.1v1.1h-1.1zM167.1 39.3h1.1v1.1h-1.1zM186.4 46.8h1.1v1.1h-1.1zM180.2 109.8h1.1v1.1h-1.1zM184.2 80.7h1.1v1.1h-1.1zM176.5 98.8h1.1v1.1h-1.1zM183.8 104.8h1.1v1.1h-1.1zM174.7 93.3h1.1v1.1h-1.1zM173.3 50.4h1.1v1.1h-1.1zM175.1 104.1h1.1v1.1h-1.1zM172.4 42h1.1v1.1h-1.1zM177.8 57.4h1.1v1.1h-1.1zM179.1 75.9h1.1v1.1h-1.1zM169.6 42h1.1v1.1h-1.1zM167.7 41.3h1.1v1.1h-1.1zM182.6 96.9h1.1v1.1h-1.1zM173.4 109.6h1.1v1.1h-1.1zM177.3 68.1h1.1v1.1h-1.1zM176.2 70.2h1.1v1.1h-1.1zM180.2 50.6h1.1v1.1h-1.1zM174.1 84.4h1.1v1.1h-1.1zM178.3 90h1.1v1.1h-1.1zM193.3 124h1.1v1.1h-1.1zM175.6 33.9h1.1v1.1h-1.1zM184.1 123.7h1.1v1.1h-1.1zM194.6 129.9h1.1v1.1h-1.1zM177 65.5h1.1v1.1h-1.1zM182.4 104.5h1.1v1.1h-1.1zM185.4 114.4h1.1v1.1h-1.1zM180.3 97.2h1.1v1.1h-1.1zM175.6 59.7h1.1v1.1h-1.1zM184.1 93.6h1.1v1.1h-1.1zM191 118.5h1.1v1.1h-1.1zM172.3 41.1h1.1v1.1h-1.1zM182.7 78.8h1.1v1.1h-1.1zM173.1 32.2h1.1v1.1h-1.1zM184.3 116.8h1.1v1.1h-1.1zM178.3 111.9h1.1v1.1h-1.1zM171.4 34.8h1.1v1.1h-1.1zM186.1 105.3h1.1v1.1h-1.1zM179.6 101.7h1.1v1.1h-1.1zM171.8 43.1h1.1v1.1h-1.1zM175.5 84.6h1.1v1.1h-1.1zM179.4 101.5h1.1v1.1h-1.1zM177.2 64.4h1.1v1.1h-1.1zM175.6 82.3h1.1v1.1h-1.1zM190.5 129.3h1.1v1.1h-1.1zM171.5 96.9h1.1v1.1h-1.1zM178 81.8h1.1v1.1h-1.1zM178.7 36.4h1.1v1.1h-1.1zM160.9 43.3h1.1v1.1h-1.1zM183.2 117.7h1.1v1.1h-1.1zM181.9 106.5h1.1v1.1h-1.1zM186.5 115.1h1.1v1.1h-1.1zM178.1 89.8h1.1v1.1h-1.1zM177.3 89.7h1.1v1.1h-1.1zM184.7 83.8h1.1v1.1h-1.1zM173.3 108.9h1.1v1.1h-1.1zM176.1 64h1.1v1.1h-1.1zM176.2 81.5h1.1v1.1h-1.1zM174.2 79h1.1v1.1h-1.1zM176.4 98.8h1.1v1.1h-1.1zM184.1 51h1.1v1.1h-1.1zM175.6 32.3h1.1v1.1h-1.1zM175.4 39h1.1v1.1h-1.1zM166.6 49.4h1.1v1.1h-1.1zM181.3 118.8h1.1v1.1h-1.1zM179.3 104.6h1.1v1.1h-1.1zM182.7 107h1.1v1.1h-1.1zM174.4 76.2h1.1v1.1h-1.1zM167.2 41h1.1v1.1h-1.1zM174.1 78.5h1.1v1.1h-1.1zM179 120h1.1v1.1h-1.1zM181.3 82h1.1v1.1h-1.1zM181.6 94.9h1.1v1.1h-1.1zM176.7 68.5h1.1v1.1h-1.1zM163.1 46.8h1.1v1.1h-1.1zM180.5 94.5h1.1v1.1h-1.1zM174.2 80.6h1.1v1.1h-1.1zM173.3 66h1.1v1.1h-1.1zM172.5 56.9h1.1v1.1h-1.1zM176.5 103.3h1.1v1.1h-1.1zM173.9 63h1.1v1.1h-1.1zM176.4 89.8h1.1v1.1h-1.1zM168.8 57.6h1.1v1.1h-1.1zM179 108.8h1.1v1.1h-1.1zM181.6 67.9h1.1v1.1h-1.1zM177.5 79.4h1.1v1.1h-1.1zM186.1 125.2h1.1v1.1h-1.1zM174.9 106.5h1.1v1.1h-1.1zM176.9 107.7h1.1v1.1h-1.1zM170.8 65.7h1.1v1.1h-1.1zM186.6 115.6h1.1v1.1h-1.1zM174 70.1h1.1v1.1h-1.1zM198.7 128.6h1.1v1.1h-1.1zM190.8 120.6h1.1v1.1h-1.1zM181.2 97.9h1.1v1.1h-1.1zM187.5 114.3h1.1v1.1h-1.1zM174.4 86.8h1.1v1.1h-1.1zM181.8 105.5h1.1v1.1h-1.1zM170 43.1h1.1v1.1h-1.1zM192.4 130.2h1.1v1.1h-1.1zM193.5 108.6h1.1v1.1h-1.1zM180.3 44.3h1.1v1.1h-1.1zM173.3 55.2h1.1v1.1h-1.1zM178.6 89.4h1.1v1.1h-1.1zM185 107.6h1.1v1.1h-1.1zM179.4 44.5h1.1v1.1h-1.1zM200.4 125.2h1.1v1.1h-1.1zM168.3 66.8h1.1v1.1h-1.1zM193.9 130.5h1.1v1.1h-1.1zM179.4 108.6h1.1v1.1h-1.1zM180.1 79.7h1.1v1.1h-1.1zM174 67.7h1.1v1.1h-1.1zM163.1 40.6h1.1v1.1h-1.1zM180.6 38.5h1.1v1.1h-1.1zM173.1 95.9h1.1v1.1h-1.1zM182.6 109.7h1.1v1.1h-1.1zM192.7 121.4h1.1v1.1h-1.1zM177.7 67.4h1.1v1.1h-1.1zM188 125.8h1.1v1.1h-1.1zM178.7 60.1h1.1v1.1h-1.1zM196.2 124h1.1v1.1h-1.1zM190.2 123.2h1.1v1.1h-1.1zM178.5 45.3h1.1v1.1h-1.1zM181.4 119.2h1.1v1.1h-1.1zM178.8 103.4h1.1v1.1h-1.1zM182.1 102h1.1v1.1h-1.1zM181.4 117.6h1.1v1.1h-1.1zM174.4 86h1.1v1.1h-1.1zM183.1 81.5h1.1v1.1h-1.1zM179 67.4h1.1v1.1h-1.1zM183.8 119.1h1.1v1.1h-1.1zM186.9 122.2h1.1v1.1h-1.1zM174 46.4h1.1v1.1h-1.1zM182.9 109.4h1.1v1.1h-1.1zM175.8 58.3h1.1v1.1h-1.1zM174.8 48.8h1.1v1.1h-1.1zM176.1 50h1.1v1.1h-1.1zM174.5 89.8h1.1v1.1h-1.1zM179 58.3h1.1v1.1h-1.1zM176.4 54.7h1.1v1.1h-1.1zM182.9 39.5h1.1v1.1h-1.1zM171.2 64.1h1.1v1.1h-1.1zM180 110.7h1.1v1.1h-1.1zM176.2 31.9h1.1v1.1h-1.1zM182.6 79.1h1.1v1.1h-1.1zM183.8 91.5h1.1v1.1h-1.1zM165.8 35.5h1.1v1.1h-1.1zM179.7 59.6h1.1v1.1h-1.1zM186.7 122.8h1.1v1.1h-1.1zM185.7 132.5h1.1v1.1h-1.1zM192.5 115.3h1.1v1.1h-1.1zM172.1 47.7h1.1v1.1h-1.1zM182.1 108.8h1.1v1.1h-1.1zM178.7 76.3h1.1v1.1h-1.1zM164.6 48.8h1.1v1.1h-1.1zM179.9 79.3h1.1v1.1h-1.1zM186.2 124.7h1.1v1.1h-1.1zM187.7 119.4h1.1v1.1h-1.1zM170.3 71.3h1.1v1.1h-1.1zM180.3 36h1.1v1.1h-1.1zM187.1 122h1.1v1.1h-1.1zM190.8 130.3h1.1v1.1h-1.1zM179.1 82.6h1.1v1.1h-1.1zM173.4 53.3h1.1v1.1h-1.1zM176.4 86.4h1.1v1.1h-1.1zM182.3 101.2h1.1v1.1h-1.1zM180.8 79.3h1.1v1.1h-1.1zM177.2 66.2h1.1v1.1h-1.1zM179.5 54.9h1.1v1.1h-1.1zM182.5 59.5h1.1v1.1h-1.1zM174.8 35h1.1v1.1h-1.1zM172.8 56.5h1.1v1.1h-1.1zM185 128.2h1.1v1.1h-1.1zM167.9 31.1h1.1v1.1h-1.1zM182.2 104.7h1.1v1.1h-1.1zM182.9 111.3h1.1v1.1h-1.1zM174.4 72.1h1.1v1.1h-1.1zM175.9 91.9h1.1v1.1h-1.1zM180.3 52h1.1v1.1h-1.1zM180.4 98.9h1.1v1.1h-1.1zM182.6 102.4h1.1v1.1h-1.1zM179.5 106.5h1.1v1.1h-1.1zM177.8 80.7h1.1v1.1h-1.1zM182.3 130.8h1.1v1.1h-1.1zM185.5 118.8h1.1v1.1h-1.1zM176.6 89.4h1.1v1.1h-1.1zM179.6 100.7h1.1v1.1h-1.1zM174.1 58.4h1.1v1.1h-1.1zM187.3 126.6h1.1v1.1h-1.1zM178.4 96.8h1.1v1.1h-1.1zM192.3 120.1h1.1v1.1h-1.1zM178.2 59.4h1.1v1.1h-1.1zM187.8 130.6h1.1v1.1h-1.1zM170.4 41.1h1.1v1.1h-1.1zM182.8 84.1h1.1v1.1h-1.1zM177.3 41.1h1.1v1.1h-1.1zM180.4 48.7h1.1v1.1h-1.1zM178 110.4h1.1v1.1h-1.1zM172.1 36.8h1.1v1.1h-1.1zM175.8 69.6h1.1v1.1h-1.1zM172.9 49.9h1.1v1.1h-1.1zM180.7 118.2h1.1v1.1h-1.1zM169.9 38.7h1.1v1.1h-1.1zM173.4 65.1h1.1v1.1h-1.1zM184.7 117.9h1.1v1.1h-1.1zM183.4 99.7h1.1v1.1h-1.1zM184.5 101.2h1.1v1.1h-1.1zM188.7 131.4h1.1v1.1h-1.1zM176.6 32.1h1.1v1.1h-1.1zM183.3 98.1h1.1v1.1h-1.1zM181.4 106.9h1.1v1.1h-1.1zM179.7 108h1.1v1.1h-1.1zM179.4 104.3h1.1v1.1h-1.1zM164.9 37.9h1.1v1.1h-1.1zM175.7 38.5h1.1v1.1h-1.1zM180.5 110.4h1.1v1.1h-1.1zM176.6 93.6h1.1v1.1h-1.1zM180.9 56.3h1.1v1.1h-1.1zM179 30.4h1.1v1.1h-1.1zM180.3 84.8h1.1v1.1h-1.1zM168.8 39.6h1.1v1.1h-1.1zM182.9 106.8h1.1v1.1h-1.1zM174.9 65.3h1.1v1.1h-1.1zM183.8 113h1.1v1.1h-1.1zM174.1 39.8h1.1v1.1h-1.1zM176.3 81.2h1.1v1.1h-1.1zM179.9 39.8h1.1v1.1h-1.1zM186.7 108.9h1.1v1.1h-1.1zM177 88.1h1.1v1.1h-1.1zM176.6 53.9h1.1v1.1h-1.1zM195 126.8h1.1v1.1h-1.1zM178.5 101h1.1v1.1h-1.1zM182.4 63.7h1.1v1.1h-1.1zM186.5 117.3h1.1v1.1h-1.1zM171.2 70h1.1v1.1h-1.1zM197.5 123.9h1.1v1.1h-1.1zM172.1 61.1h1.1v1.1h-1.1zM187.9 130.9h1.1v1.1h-1.1zM160.8 37.2h1.1v1.1h-1.1zM182.7 105.3h1.1v1.1h-1.1zM164.2 61.7h1.1v1.1h-1.1zM171.6 74.5h1.1v1.1h-1.1zM182.8 95.2h1.1v1.1h-1.1zM173.9 34.6h1.1v1.1h-1.1zM171.7 53.4h1.1v1.1h-1.1zM168.5 41h1.1v1.1h-1.1zM178.2 107.6h1.1v1.1h-1.1zM175.4 52.6h1.1v1.1h-1.1zM180.3 81.1h1.1v1.1h-1.1zM174.7 64h1.1v1.1h-1.1zM184.8 52.9h1.1v1.1h-1.1zM192.5 124.4h1.1v1.1h-1.1zM178.9 82.2h1.1v1.1h-1.1zM183.5 96.6h1.1v1.1h-1.1zM172.8 105.7h1.1v1.1h-1.1zM182.1 115.2h1.1v1.1h-1.1zM174.1 57.2h1.1v1.1h-1.1zM167.1 38.5h1.1v1.1h-1.1zM176.8 78.3h1.1v1.1h-1.1zM176.1 47.2h1.1v1.1h-1.1zM167.8 32.3h1.1v1.1h-1.1zM194 122.4h1.1v1.1h-1.1zM181.9 94.3h1.1v1.1h-1.1zM172.1 73.4h1.1v1.1h-1.1zM171.1 44.2h1.1v1.1h-1.1zM179.9 109.3h1.1v1.1h-1.1zM176.7 85.2h1.1v1.1h-1.1zM179.8 47.1h1.1v1.1h-1.1zM191.7 129.7h1.1v1.1h-1.1zM183.7 128.3h1.1v1.1h-1.1zM188.8 124.5h1.1v1.1h-1.1zM181.8 115.9h1.1v1.1h-1.1zM177.6 85h1.1v1.1h-1.1zM179.9 60.3h1.1v1.1h-1.1zM176.5 97.8h1.1v1.1h-1.1zM174 45.5h1.1v1.1h-1.1zM185.3 92.8h1.1v1.1h-1.1zM161.7 37.5h1.1v1.1h-1.1zM172.2 31.3h1.1v1.1h-1.1zM183.5 102.9h1.1v1.1h-1.1zM185.2 63.9h1.1v1.1h-1.1zM182.2 101.3h1.1v1.1h-1.1zM182.6 110.4h1.1v1.1h-1.1zM194.4 112.1h1.1v1.1h-1.1zM180.5 93.4h1.1v1.1h-1.1zM197.1 113.8h1.1v1.1h-1.1zM176.5 98.5h1.1v1.1h-1.1zM188 124.7h1.1v1.1h-1.1zM183 122.7h1.1v1.1h-1.1zM160.7 35.2h1.1v1.1h-1.1zM177.1 57.3h1.1v1.1h-1.1zM186.4 68.6h1.1v1.1h-1.1zM168.5 56.8h1.1v1.1h-1.1zM177.5 47.7h1.1v1.1h-1.1zM196.9 116.7h1.1v1.1h-1.1zM168.2 32.8h1.1v1.1h-1.1zM177.2 48.3h1.1v1.1h-1.1zM175.8 110.8h1.1v1.1h-1.1zM169.4 53.7h1.1v1.1h-1.1zM184 55.4h1.1v1.1h-1.1zM189.2 128.7h1.1v1.1h-1.1zM185.7 107.3h1.1v1.1h-1.1zM173.6 76.8h1.1v1.1h-1.1zM173.6 44.1h1.1v1.1h-1.1zM167.5 58.7h1.1v1.1h-1.1zM186.5 130.9h1.1v1.1h-1.1zM174.5 114.7h1.1v1.1h-1.1zM168.6 37.5h1.1v1.1h-1.1zM183.3 102h1.1v1.1h-1.1zM175.7 68.9h1.1v1.1h-1.1zM184.5 103h1.1v1.1h-1.1zM179.6 59.8h1.1v1.1h-1.1zM170.8 43.6h1.1v1.1h-1.1zM167.8 32.3h1.1v1.1h-1.1zM175.8 60.4h1.1v1.1h-1.1zM186.3 117.9h1.1v1.1h-1.1zM192.2 119.8h1.1v1.1h-1.1zM182.5 99.7h1.1v1.1h-1.1zM184.5 106.1h1.1v1.1h-1.1zM186.4 48.4h1.1v1.1h-1.1zM183.4 65.4h1.1v1.1h-1.1zM190.4 121.1h1.1v1.1h-1.1zM195.2 129.2h1.1v1.1h-1.1zM178.1 75.6h1.1v1.1h-1.1zM192.2 106.4h1.1v1.1h-1.1zM186.6 125.7h1.1v1.1h-1.1zM184.2 133.1h1.1v1.1h-1.1zM175.2 60.5h1.1v1.1h-1.1zM178.3 97.8h1.1v1.1h-1.1zM175.6 70.3h1.1v1.1h-1.1zM174.3 78.5h1.1v1.1h-1.1zM176.8 77.7h1.1v1.1h-1.1zM181.8 57.8h1.1v1.1h-1.1zM160.4 32.7h1.1v1.1h-1.1zM189.9 106.2h1.1v1.1h-1.1zM179 102.4h1.1v1.1h-1.1zM182.6 117.2h1.1v1.1h-1.1zM180.3 44.8h1.1v1.1h-1.1zM176.1 54.2h1.1v1.1h-1.1zM180.2 91.4h1.1v1.1h-1.1zM188.3 125.6h1.1v1.1h-1.1zM174.3 79.2h1.1v1.1h-1.1zM180.5 49.8h1.1v1.1h-1.1zM179.7 91.3h1.1v1.1h-1.1zM185 128.7h1.1v1.1h-1.1zM182.3 119.8h1.1v1.1h-1.1zM182.7 123h1.1v1.1h-1.1zM173 72.9h1.1v1.1h-1.1zM175.3 57h1.1v1.1h-1.1zM192.1 117.6h1.1v1.1h-1.1zM179.7 112.4h1.1v1.1h-1.1zM183.1 117.8h1.1v1.1h-1.1zM180 69.8h1.1v1.1h-1.1zM182.5 58.5h1.1v1.1h-1.1zM171.7 55.1h1.1v1.1h-1.1zM179.5 120.7h1.1v1.1h-1.1zM191 123.1h1.1v1.1h-1.1zM181.2 67.1h1.1v1.1h-1.1zM184.9 119.8h1.1v1.1h-1.1zM174.1 69.7h1.1v1.1h-1.1zM178.7 76h1.1v1.1h-1.1zM183.6 87.7h1.1v1.1h-1.1zM165.3 54h1.1v1.1h-1.1zM176.3 57.4h1.1v1.1h-1.1zM166.9 58.5h1.1v1.1h-1.1zM181.6 55.9h1.1v1.1h-1.1zM176.8 83.4h1.1v1.1h-1.1zM177.1 40.1h1.1v1.1h-1.1zM185.2 109.5h1.1v1.1h-1.1zM170.2 48.4h1.1v1.1h-1.1zM177.8 75.7h1.1v1.1h-1.1zM177.2 96.6h1.1v1.1h-1.1zM170.9 44.4h1.1v1.1h-1.1zM179.1 71.8h1.1v1.1h-1.1zM183 87.5h1.1v1.1h-1.1zM181.6 86.3h1.1v1.1h-1.1zM183.6 122.1h1.1v1.1h-1.1zM188.8 108.6h1.1v1.1h-1.1zM184.4 41.7h1.1v1.1h-1.1zM182.5 116.4h1.1v1.1h-1.1zM174.8 87.3h1.1v1.1h-1.1zM184.3 98.4h1.1v1.1h-1.1zM169.2 47h1.1v1.1h-1.1zM179.5 78.4h1.1v1.1h-1.1zM185 100.6h1.1v1.1h-1.1zM182.6 112.3h1.1v1.1h-1.1zM189.6 110.6h1.1v1.1h-1.1zM170.2 52.9h1.1v1.1h-1.1zM186.7 114.8h1.1v1.1h-1.1zM182.8 88.1h1.1v1.1h-1.1zM176.9 99.5h1.1v1.1h-1.1zM190.2 116h1.1v1.1h-1.1zM177.6 71.7h1.1v1.1h-1.1zM185.7 124.5h1.1v1.1h-1.1zM181.8 121.3h1.1v1.1h-1.1zM187.5 111.7h1.1v1.1h-1.1zM175.8 69.3h1.1v1.1h-1.1zM181.2 84.1h1.1v1.1h-1.1zM181.8 46.7h1.1v1.1h-1.1zM182 108.3h1.1v1.1h-1.1zM184.8 121.6h1.1v1.1h-1.1zM165.4 47.6h1.1v1.1h-1.1zM183.5 106.1h1.1v1.1h-1.1zM174.3 104h1.1v1.1h-1.1zM177.4 33.4h1.1v1.1h-1.1zM191.5 122.7h1.1v1.1h-1.1zM176.3 79.6h1.1v1.1h-1.1zM183.3 56.6h1.1v1.1h-1.1zM168.7 33.3h1.1v1.1h-1.1zM184.6 109.9h1.1v1.1h-1.1zM174.7 65h1.1v1.1h-1.1zM182.9 82.3h1.1v1.1h-1.1zM175 49.9h1.1v1.1h-1.1zM177.6 92.9h1.1v1.1h-1.1zM173.5 71.4h1.1v1.1h-1.1zM184.6 112.6h1.1v1.1h-1.1zM177.6 99.2h1.1v1.1h-1.1zM174.1 107.1h1.1v1.1h-1.1zM174.7 55.9h1.1v1.1h-1.1zM179.5 36.1h1.1v1.1h-1.1zM176.8 122.4h1.1v1.1h-1.1zM192.8 124.4h1.1v1.1h-1.1zM175.5 97.1h1.1v1.1h-1.1zM186.3 124.5h1.1v1.1h-1.1zM184.2 101.6h1.1v1.1h-1.1zM176.5 93h1.1v1.1h-1.1zM168.8 74.4h1.1v1.1h-1.1zM185.8 65.2h1.1v1.1h-1.1zM176.2 80.8h1.1v1.1h-1.1zM172.9 53.1h1.1v1.1h-1.1zM170.4 75.1h1.1v1.1h-1.1zM175 82.8h1.1v1.1h-1.1zM179 32.7h1.1v1.1h-1.1zM186.1 69.1h1.1v1.1h-1.1zM171.9 59.7h1.1v1.1h-1.1zM176.8 95.9h1.1v1.1h-1.1zM187 112.3h1.1v1.1h-1.1zM179.9 93.4h1.1v1.1h-1.1zM183.6 98h1.1v1.1h-1.1zM176.8 93.8h1.1v1.1h-1.1zM173.6 56.5h1.1v1.1h-1.1zM172.5 69.4h1.1v1.1h-1.1zM187.8 115.8h1.1v1.1h-1.1zM192.8 125.5h1.1v1.1h-1.1zM176.4 48.3h1.1v1.1h-1.1zM159.6 31.9h1.1v1.1h-1.1zM183.3 129.5h1.1v1.1h-1.1zM181.8 119h1.1v1.1h-1.1zM174.8 93.4h1.1v1.1h-1.1zM186.2 113.2h1.1v1.1h-1.1zM178.9 91.4h1.1v1.1h-1.1zM194.4 120.7h1.1v1.1h-1.1zM170.1 55.7h1.1v1.1h-1.1zM172.1 76.6h1.1v1.1h-1.1zM181.3 99h1.1v1.1h-1.1zM163.4 53.6h1.1v1.1h-1.1zM184.9 102.3h1.1v1.1h-1.1zM174.5 57.1h1.1v1.1h-1.1zM180.8 103.3h1.1v1.1h-1.1zM180 114.1h1.1v1.1h-1.1zM171.3 74.6h1.1v1.1h-1.1zM193.6 130h1.1v1.1h-1.1zM176.3 95.7h1.1v1.1h-1.1zM171.3 112h1.1v1.1h-1.1zM174.9 31.9h1.1v1.1h-1.1zM167.2 42h1.1v1.1h-1.1zM182.1 103h1.1v1.1h-1.1zM184.5 127.3h1.1v1.1h-1.1zM180.3 94.7h1.1v1.1h-1.1zM183.7 124.2h1.1v1.1h-1.1zM190.8 34.9h1.1v1.1h-1.1zM191 120.1h1.1v1.1h-1.1zM186 119.8h1.1v1.1h-1.1zM177.1 95.3h1.1v1.1h-1.1zM176.1 74.4h1.1v1.1h-1.1zM183.1 101.9h1.1v1.1h-1.1zM165.1 56.4h1.1v1.1h-1.1zM186.9 97.9h1.1v1.1h-1.1zM181.9 101.1h1.1v1.1h-1.1zM174.2 86.3h1.1v1.1h-1.1zM175 56.8h1.1v1.1h-1.1zM168.2 30.4h1.1v1.1h-1.1zM171 50.5h1.1v1.1h-1.1zM187.3 114.6h1.1v1.1h-1.1zM172.8 52h1.1v1.1h-1.1zM179.4 37.2h1.1v1.1h-1.1zM174.7 55.4h1.1v1.1h-1.1zM178 83.6h1.1v1.1h-1.1zM178.5 90.6h1.1v1.1h-1.1zM190.8 118.6h1.1v1.1h-1.1zM189.7 116.5h1.1v1.1h-1.1zM198.5 126.5h1.1v1.1h-1.1zM182.3 121.5h1.1v1.1h-1.1zM179 76.2h1.1v1.1h-1.1zM178.3 44.3h1.1v1.1h-1.1zM199.6 124.8h1.1v1.1h-1.1zM176.7 53.3h1.1v1.1h-1.1zM176.1 94.7h1.1v1.1h-1.1zM165.4 58.5h1.1v1.1h-1.1zM194.3 110.1h1.1v1.1h-1.1zM164.2 52h1.1v1.1h-1.1zM178.6 73.1h1.1v1.1h-1.1zM179 52h1.1v1.1h-1.1zM186.9 117.8h1.1v1.1h-1.1zM179.8 93.9h1.1v1.1h-1.1zM176.4 95.6h1.1v1.1h-1.1zM175.5 62.4h1.1v1.1h-1.1zM174 48.1h1.1v1.1h-1.1zM186.4 117.6h1.1v1.1h-1.1zM181.1 109.2h1.1v1.1h-1.1zM177.5 107.3h1.1v1.1h-1.1zM189.6 131.8h1.1v1.1h-1.1zM176.2 88.1h1.1v1.1h-1.1zM167.4 49.2h1.1v1.1h-1.1zM176.8 93.3h1.1v1.1h-1.1zM173.5 59.8h1.1v1.1h-1.1zM180.2 82.6h1.1v1.1h-1.1zM178.6 77.2h1.1v1.1h-1.1zM180.7 87.9h1.1v1.1h-1.1zM180.6 125.9h1.1v1.1h-1.1zM191.9 110.3h1.1v1.1h-1.1zM171.8 73.6h1.1v1.1h-1.1zM180.1 115.5h1.1v1.1h-1.1zM184.4 118.4h1.1v1.1h-1.1zM185.6 108.6h1.1v1.1h-1.1zM177.8 87h1.1v1.1h-1.1zM185.4 122.3h1.1v1.1h-1.1zM176.9 80.9h1.1v1.1h-1.1zM181.6 40.4h1.1v1.1h-1.1zM177.8 57.7h1.1v1.1h-1.1zM180.6 97.8h1.1v1.1h-1.1zM179 68.7h1.1v1.1h-1.1zM174.9 73.9h1.1v1.1h-1.1zM175.6 71.6h1.1v1.1h-1.1zM163 51.2h1.1v1.1h-1.1zM174 39.6h1.1v1.1h-1.1zM172.5 35h1.1v1.1h-1.1zM174.5 100.3h1.1v1.1h-1.1zM170.5 64.2h1.1v1.1h-1.1zM180.1 76.7h1.1v1.1h-1.1zM184.9 126.3h1.1v1.1h-1.1zM182.1 94.3h1.1v1.1h-1.1zM183 113.7h1.1v1.1h-1.1zM173.9 111.7h1.1v1.1h-1.1zM189.9 127.1h1.1v1.1h-1.1zM165.7 37.3h1.1v1.1h-1.1zM172.9 70.1h1.1v1.1h-1.1zM181.5 128.7h1.1v1.1h-1.1zM178.4 77.8h1.1v1.1h-1.1zM188.1 126.9h1.1v1.1h-1.1zM168.7 49.7h1.1v1.1h-1.1zM173.1 36.1h1.1v1.1h-1.1zM189.8 120.8h1.1v1.1h-1.1zM174.6 72.7h1.1v1.1h-1.1zM174.6 83h1.1v1.1h-1.1zM185.5 126.3h1.1v1.1h-1.1zM177.1 52.2h1.1v1.1h-1.1zM187.9 129.1h1.1v1.1h-1.1zM175 71.1h1.1v1.1h-1.1zM166.5 56.6h1.1v1.1h-1.1zM176.6 53.8h1.1v1.1h-1.1zM178.6 83.4h1.1v1.1h-1.1zM170.9 79.2h1.1v1.1h-1.1zM188.3 120.2h1.1v1.1h-1.1zM176.7 34.9h1.1v1.1h-1.1zM173.7 34.4h1.1v1.1h-1.1zM174.6 45.5h1.1v1.1h-1.1zM180.4 92.3h1.1v1.1h-1.1zM177.5 112.5h1.1v1.1h-1.1zM179.2 79.3h1.1v1.1h-1.1zM183.8 92.7h1.1v1.1h-1.1zM175.1 97h1.1v1.1h-1.1zM169.7 32.1h1.1v1.1h-1.1zM170.6 55.9h1.1v1.1h-1.1zM188.8 132.1h1.1v1.1h-1.1zM172.4 64.6h1.1v1.1h-1.1zM185.5 127.4h1.1v1.1h-1.1zM176.2 81h1.1v1.1h-1.1zM180.8 52.1h1.1v1.1h-1.1zM170.5 30.3h1.1v1.1h-1.1zM177.8 51.9h1.1v1.1h-1.1zM173 63.5h1.1v1.1h-1.1zM175.9 75.5h1.1v1.1h-1.1zM171.3 77h1.1v1.1h-1.1zM185.5 85.5h1.1v1.1h-1.1zM179.7 78.6h1.1v1.1h-1.1zM176.9 33h1.1v1.1h-1.1zM178.5 57h1.1v1.1h-1.1zM186.3 128.8h1.1v1.1h-1.1zM177.6 32.4h1.1v1.1h-1.1zM185.6 104.2h1.1v1.1h-1.1zM174.4 79.6h1.1v1.1h-1.1zM185 101.4h1.1v1.1h-1.1zM181.5 63.4h1.1v1.1h-1.1zM179.3 67.7h1.1v1.1h-1.1zM177.1 83.5h1.1v1.1h-1.1zM194 121.3h1.1v1.1h-1.1zM174.5 64h1.1v1.1h-1.1zM175.8 38.6h1.1v1.1h-1.1zM165.8 34.3h1.1v1.1h-1.1zM188 119.8h1.1v1.1h-1.1zM166 63.7h1.1v1.1h-1.1zM172.5 42.4h1.1v1.1h-1.1zM181.5 91.2h1.1v1.1h-1.1zM185.8 116.4h1.1v1.1h-1.1zM179.6 91.8h1.1v1.1h-1.1zM175.2 45.3h1.1v1.1h-1.1zM166.5 73.4h1.1v1.1h-1.1zM167.4 58.5h1.1v1.1h-1.1zM164.6 32.2h1.1v1.1h-1.1zM184.2 129.8h1.1v1.1h-1.1zM179.9 77h1.1v1.1h-1.1zM175.1 43.8h1.1v1.1h-1.1zM192.6 119h1.1v1.1h-1.1zM184.5 131.8h1.1v1.1h-1.1zM177.2 116.4h1.1v1.1h-1.1zM175.5 56h1.1v1.1h-1.1zM173 49.7h1.1v1.1h-1.1zM179 84.1h1.1v1.1h-1.1zM177.3 90.5h1.1v1.1h-1.1zM186.2 119.9h1.1v1.1h-1.1zM187.7 129.1h1.1v1.1h-1.1zM185.3 123.5h1.1v1.1h-1.1zM174.2 65.5h1.1v1.1h-1.1zM179.4 90.4h1.1v1.1h-1.1zM164.2 43.4h1.1v1.1h-1.1zM176.1 83.9h1.1v1.1h-1.1zM176 37.1h1.1v1.1h-1.1zM163.3 42.1h1.1v1.1h-1.1zM172.2 42.7h1.1v1.1h-1.1zM169.9 61.9h1.1v1.1h-1.1zM174.6 62h1.1v1.1h-1.1zM175.1 104.9h1.1v1.1h-1.1zM161 38.6h1.1v1.1h-1.1zM171.5 41.6h1.1v1.1h-1.1zM180.1 97.7h1.1v1.1h-1.1zM180.9 99.4h1.1v1.1h-1.1zM179.4 103.9h1.1v1.1h-1.1zM179.5 104.9h1.1v1.1h-1.1zM190.6 96.9h1.1v1.1h-1.1zM184.3 86.2h1.1v1.1h-1.1zM185.7 105h1.1v1.1h-1.1zM163.1 39h1.1v1.1h-1.1zM171.9 52.1h1.1v1.1h-1.1zM189.6 103.5h1.1v1.1h-1.1zM172.5 50h1.1v1.1h-1.1zM180.2 84.5h1.1v1.1h-1.1zM175.6 56.7h1.1v1.1h-1.1zM179.8 74.1h1.1v1.1h-1.1zM187.5 114.6h1.1v1.1h-1.1zM183.4 97.7h1.1v1.1h-1.1zM178.2 75.8h1.1v1.1h-1.1zM177.9 57.8h1.1v1.1h-1.1zM181 113.8h1.1v1.1h-1.1zM180.9 97.7h1.1v1.1h-1.1zM175.5 75.6h1.1v1.1h-1.1zM189.7 118h1.1v1.1h-1.1zM178.1 102.4h1.1v1.1h-1.1zM188.6 130.3h1.1v1.1h-1.1zM181.4 98.4h1.1v1.1h-1.1zM182.5 123.1h1.1v1.1h-1.1zM178.7 86.8h1.1v1.1h-1.1zM172.8 106.3h1.1v1.1h-1.1zM184.9 116.3h1.1v1.1h-1.1zM170.7 39.5h1.1v1.1h-1.1zM176.2 79.1h1.1v1.1h-1.1zM174.4 93.2h1.1v1.1h-1.1zM170.2 36.1h1.1v1.1h-1.1zM185.8 110.2h1.1v1.1h-1.1zM185.5 102.2h1.1v1.1h-1.1zM180.1 127.6h1.1v1.1h-1.1zM169.8 69.3h1.1v1.1h-1.1zM171.3 79.3h1.1v1.1h-1.1zM188 123h1.1v1.1h-1.1zM180.2 71.9h1.1v1.1h-1.1zM184.4 115.8h1.1v1.1h-1.1zM179.5 73.1h1.1v1.1h-1.1zM176.9 64.7h1.1v1.1h-1.1zM167.7 59.6h1.1v1.1h-1.1zM175.7 51.8h1.1v1.1h-1.1zM180.8 73.9h1.1v1.1h-1.1zM171.7 46.9h1.1v1.1h-1.1zM193 111.8h1.1v1.1h-1.1zM186.8 130h1.1v1.1h-1.1zM177.4 39.8h1.1v1.1h-1.1zM163.1 36.3h1.1v1.1h-1.1zM179.8 29.8h1.1v1.1h-1.1zM194.1 123.7h1.1v1.1h-1.1zM174.3 37.5h1.1v1.1h-1.1zM188.4 97.1h1.1v1.1h-1.1zM180.2 60.6h1.1v1.1h-1.1zM173.6 50.5h1.1v1.1h-1.1zM170.8 55.9h1.1v1.1h-1.1zM181.3 100.9h1.1v1.1h-1.1zM168.3 32.1h1.1v1.1h-1.1zM185.8 118.5h1.1v1.1h-1.1zM178.5 88.6h1.1v1.1h-1.1zM178.1 53.8h1.1v1.1h-1.1zM174.5 51.4h1.1v1.1h-1.1zM176.4 98.1h1.1v1.1h-1.1zM176.2 95.5h1.1v1.1h-1.1zM171.8 63.3h1.1v1.1h-1.1zM178.4 64h1.1v1.1h-1.1zM172.3 78.6h1.1v1.1h-1.1zM191.2 122.1h1.1v1.1h-1.1zM177.8 85.6h1.1v1.1h-1.1zM178.2 118.7h1.1v1.1h-1.1zM185.8 95.3h1.1v1.1h-1.1zM178.2 88.1h1.1v1.1h-1.1zM174.5 81h1.1v1.1h-1.1zM181.2 99.9h1.1v1.1h-1.1zM183.2 79.9h1.1v1.1h-1.1zM178.6 105.9h1.1v1.1h-1.1zM165.8 49.8h1.1v1.1h-1.1zM167.4 64.4h1.1v1.1h-1.1zM191.9 117.9h1.1v1.1h-1.1zM182 69.9h1.1v1.1h-1.1zM184.7 116.5h1.1v1.1h-1.1zM179 128.1h1.1v1.1h-1.1zM179.3 89.7h1.1v1.1h-1.1zM165.7 41h1.1v1.1h-1.1zM185.3 106.8h1.1v1.1h-1.1zM177.9 99.1h1.1v1.1h-1.1zM170.4 60.7h1.1v1.1h-1.1zM188.4 117.7h1.1v1.1h-1.1zM170.9 80.8h1.1v1.1h-1.1zM159.9 36.7h1.1v1.1h-1.1zM175.6 36.8h1.1v1.1h-1.1zM179.7 52.8h1.1v1.1h-1.1zM185.2 92.1h1.1v1.1h-1.1zM180.3 115.2h1.1v1.1h-1.1zM170.3 40.4h1.1v1.1h-1.1zM173.7 32.1h1.1v1.1h-1.1zM181.6 93.9h1.1v1.1h-1.1zM177.8 72.1h1.1v1.1h-1.1zM171.4 76.4h1.1v1.1h-1.1zM182.7 114.9h1.1v1.1h-1.1zM198.9 121.1h1.1v1.1h-1.1zM195.7 127.1h1.1v1.1h-1.1zM190.1 107.5h1.1v1.1h-1.1zM169 30.5h1.1v1.1h-1.1zM171.5 45.7h1.1v1.1h-1.1zM175.5 91.1h1.1v1.1h-1.1zM191.1 126.9h1.1v1.1h-1.1zM173.9 38.3h1.1v1.1h-1.1zM179.7 82.9h1.1v1.1h-1.1zM172.8 71.5h1.1v1.1h-1.1zM180.5 71.4h1.1v1.1h-1.1zM176.7 57.4h1.1v1.1h-1.1zM183.6 56.8h1.1v1.1h-1.1zM169.3 55.2h1.1v1.1h-1.1zM180.2 40.2h1.1v1.1h-1.1zM179.9 87h1.1v1.1h-1.1zM176.7 76.1h1.1v1.1h-1.1zM182.8 102.9h1.1v1.1h-1.1zM187.4 94.9h1.1v1.1h-1.1zM186.4 127.8h1.1v1.1h-1.1zM171.4 65.7h1.1v1.1h-1.1zM186.6 120.2h1.1v1.1h-1.1zM177.3 69.5h1.1v1.1h-1.1zM180.1 98.2h1.1v1.1h-1.1zM175.3 115.9h1.1v1.1h-1.1zM179.7 70.5h1.1v1.1h-1.1zM173.3 76.6h1.1v1.1h-1.1zM173.1 96.1h1.1v1.1h-1.1zM165.3 41.9h1.1v1.1h-1.1zM177.7 85h1.1v1.1h-1.1zM190.1 38.6h1.1v1.1h-1.1zM163.5 54.6h1.1v1.1h-1.1zM181 94.1h1.1v1.1h-1.1zM186.5 129.9h1.1v1.1h-1.1zM198.5 129.8h1.1v1.1h-1.1zM169.2 57.6h1.1v1.1h-1.1zM172.3 45.2h1.1v1.1h-1.1zM173 84.3h1.1v1.1h-1.1zM186.2 74.2h1.1v1.1h-1.1zM173.7 69.5h1.1v1.1h-1.1zM183.6 108.8h1.1v1.1h-1.1zM181.9 102.8h1.1v1.1h-1.1zM177.4 88.2h1.1v1.1h-1.1zM180.2 94h1.1v1.1h-1.1zM175.8 90.5h1.1v1.1h-1.1zM184.1 99.3h1.1v1.1h-1.1zM185.9 125.3h1.1v1.1h-1.1zM183.1 128h1.1v1.1h-1.1zM194.3 128.7h1.1v1.1h-1.1zM176.8 120.2h1.1v1.1h-1.1zM172.1 40.9h1.1v1.1h-1.1zM179 76.3h1.1v1.1h-1.1zM181.5 111h1.1v1.1h-1.1zM171.6 60.9h1.1v1.1h-1.1zM177.8 92.9h1.1v1.1h-1.1zM168.4 35.9h1.1v1.1h-1.1zM173.1 51.1h1.1v1.1h-1.1zM183 70.3h1.1v1.1h-1.1zM162.5 37.9h1.1v1.1h-1.1zM175.1 74h1.1v1.1h-1.1zM180 53h1.1v1.1h-1.1zM182.7 119h1.1v1.1h-1.1zM171.8 63.4h1.1v1.1h-1.1zM173.5 69.7h1.1v1.1h-1.1zM182.2 113h1.1v1.1h-1.1zM173 88.6h1.1v1.1h-1.1zM178.7 34.7h1.1v1.1h-1.1zM166.7 53.4h1.1v1.1h-1.1zM171.3 94.3h1.1v1.1h-1.1zM171 50.9h1.1v1.1h-1.1zM185.3 54.2h1.1v1.1h-1.1zM179.4 94.3h1.1v1.1h-1.1zM180.9 80.6h1.1v1.1h-1.1zM179.4 57.1h1.1v1.1h-1.1zM179.7 87.6h1.1v1.1h-1.1zM173.9 96.3h1.1v1.1h-1.1zM176.1 33.8h1.1v1.1h-1.1zM173.8 58.4h1.1v1.1h-1.1zM170.3 62.5h1.1v1.1h-1.1zM188.8 119.3h1.1v1.1h-1.1zM166.2 35.7h1.1v1.1h-1.1zM177.2 65.6h1.1v1.1h-1.1zM160.7 51.8h1.1v1.1h-1.1zM179.7 102h1.1v1.1h-1.1zM187.2 112.2h1.1v1.1h-1.1zM173.5 35.8h1.1v1.1h-1.1zM189.6 117.4h1.1v1.1h-1.1zM181.7 101.4h1.1v1.1h-1.1zM175.7 52.1h1.1v1.1h-1.1zM197.9 121h1.1v1.1h-1.1zM174.7 60.3h1.1v1.1h-1.1zM191.4 108.1h1.1v1.1h-1.1zM176.6 37.5h1.1v1.1h-1.1zM178.1 76.9h1.1v1.1h-1.1zM178.5 82.1h1.1v1.1h-1.1zM187.8 121.4h1.1v1.1h-1.1zM182.8 116.6h1.1v1.1h-1.1zM179.3 86.3h1.1v1.1h-1.1zM164 35.8h1.1v1.1h-1.1zM172.2 75.1h1.1v1.1h-1.1zM172 69.3h1.1v1.1h-1.1zM187.9 132h1.1v1.1h-1.1zM179.6 100.5h1.1v1.1h-1.1zM175.7 71.9h1.1v1.1h-1.1zM176.8 67.5h1.1v1.1h-1.1zM182.3 109.1h1.1v1.1h-1.1zM183.9 39.1h1.1v1.1h-1.1zM192.3 110.9h1.1v1.1h-1.1zM179.4 99.4h1.1v1.1h-1.1zM169.9 76h1.1v1.1h-1.1zM183.2 102.4h1.1v1.1h-1.1zM178.9 70.7h1.1v1.1h-1.1zM184.4 44.1h1.1v1.1h-1.1zM176 73.1h1.1v1.1h-1.1zM173.5 35.2h1.1v1.1h-1.1zM176.2 38.8h1.1v1.1h-1.1zM183.1 74.4h1.1v1.1h-1.1zM178.4 117h1.1v1.1h-1.1zM170.8 51.4h1.1v1.1h-1.1zM172.3 82.5h1.1v1.1h-1.1zM185.6 130.8h1.1v1.1h-1.1zM189.9 113h1.1v1.1h-1.1zM187.4 122.1h1.1v1.1h-1.1zM178.4 100h1.1v1.1h-1.1zM179.9 90.7h1.1v1.1h-1.1zM179.9 89.9h1.1v1.1h-1.1zM181.1 91.8h1.1v1.1h-1.1zM179.1 77.7h1.1v1.1h-1.1zM175 67.3h1.1v1.1h-1.1zM182.3 53.6h1.1v1.1h-1.1zM185.3 35.9h1.1v1.1h-1.1zM177.4 67.9h1.1v1.1h-1.1zM190.9 106.2h1.1v1.1h-1.1zM177.8 87.2h1.1v1.1h-1.1zM176.9 46.4h1.1v1.1h-1.1zM185.7 113h1.1v1.1h-1.1zM160.6 35h1.1v1.1h-1.1zM190.1 124.6h1.1v1.1h-1.1zM179.1 97.4h1.1v1.1h-1.1zM177.3 87.6h1.1v1.1h-1.1zM172 73.3h1.1v1.1h-1.1zM190 112.7h1.1v1.1h-1.1zM164.9 31.1h1.1v1.1h-1.1zM170.8 31.7h1.1v1.1h-1.1zM177.1 83.8h1.1v1.1h-1.1zM171 61.2h1.1v1.1h-1.1zM172.2 72.1h1.1v1.1h-1.1zM176.6 85.6h1.1v1.1h-1.1zM161.2 35.2h1.1v1.1h-1.1zM181.1 132.4h1.1v1.1h-1.1zM177.3 100.4h1.1v1.1h-1.1zM166.5 40.6h1.1v1.1h-1.1zM177.9 107.6h1.1v1.1h-1.1zM176.3 85.3h1.1v1.1h-1.1zM175.8 102.6h1.1v1.1h-1.1zM184.8 104.9h1.1v1.1h-1.1zM186.2 132h1.1v1.1h-1.1zM174.5 42.1h1.1v1.1h-1.1zM192.9 130.9h1.1v1.1h-1.1zM173.3 79.8h1.1v1.1h-1.1zM166.1 51.7h1.1v1.1h-1.1zM170.4 69.4h1.1v1.1h-1.1zM176.8 67.5h1.1v1.1h-1.1zM185.8 121.8h1.1v1.1h-1.1zM179.2 84h1.1v1.1h-1.1zM173.1 36.8h1.1v1.1h-1.1zM179.5 104.3h1.1v1.1h-1.1zM176.9 81.5h1.1v1.1h-1.1zM181.8 114.6h1.1v1.1h-1.1zM172 34.8h1.1v1.1h-1.1zM197.4 115.7h1.1v1.1h-1.1zM179.8 123h1.1v1.1h-1.1zM168 31.1h1.1v1.1h-1.1zM178.5 79.1h1.1v1.1h-1.1zM160.6 43.4h1.1v1.1h-1.1zM169.5 86h1.1v1.1h-1.1zM176.1 39h1.1v1.1h-1.1zM189.3 120h1.1v1.1h-1.1zM179.8 48.1h1.1v1.1h-1.1zM181.7 98.7h1.1v1.1h-1.1zM181.9 97.2h1.1v1.1h-1.1zM175.6 63.1h1.1v1.1h-1.1zM179.5 51.4h1.1v1.1h-1.1zM191.4 122.5h1.1v1.1h-1.1zM158 35h1.1v1.1h-1.1zM164 57.6h1.1v1.1h-1.1zM174.9 63.8h1.1v1.1h-1.1zM178.5 90.4h1.1v1.1h-1.1zM176.5 68h1.1v1.1h-1.1zM169.7 41.7h1.1v1.1h-1.1zM179.6 88.7h1.1v1.1h-1.1zM183.4 103.9h1.1v1.1h-1.1zM176.7 104.3h1.1v1.1h-1.1zM179.6 80.2h1.1v1.1h-1.1zM174.9 61.7h1.1v1.1h-1.1zM178.9 30.5h1.1v1.1h-1.1zM176.4 85.3h1.1v1.1h-1.1zM183.3 94.3h1.1v1.1h-1.1zM182.8 74.7h1.1v1.1h-1.1zM193.8 126.7h1.1v1.1h-1.1zM175.1 50.7h1.1v1.1h-1.1zM189.6 111.6h1.1v1.1h-1.1zM175.1 106.4h1.1v1.1h-1.1zM186 122.2h1.1v1.1h-1.1zM188.4 124.3h1.1v1.1h-1.1zM173 54.6h1.1v1.1h-1.1zM185.4 124.7h1.1v1.1h-1.1zM176.7 71.6h1.1v1.1h-1.1zM176.1 101.6h1.1v1.1h-1.1zM189.3 127.1h1.1v1.1h-1.1zM179.7 91.4h1.1v1.1h-1.1zM175.9 90.6h1.1v1.1h-1.1zM172.7 37.3h1.1v1.1h-1.1zM184.4 90.8h1.1v1.1h-1.1zM182.9 53.7h1.1v1.1h-1.1zM176.7 70h1.1v1.1h-1.1zM175 69.2h1.1v1.1h-1.1zM178.8 131.9h1.1v1.1h-1.1zM183.5 95.3h1.1v1.1h-1.1zM184 103.7h1.1v1.1h-1.1zM175.7 47.5h1.1v1.1h-1.1zM166.1 62.7h1.1v1.1h-1.1zM188.4 119.2h1.1v1.1h-1.1zM172.9 42.4h1.1v1.1h-1.1zM186.3 127.9h1.1v1.1h-1.1zM188.1 72.4h1.1v1.1h-1.1zM171 71h1.1v1.1h-1.1zM177.3 83.2h1.1v1.1h-1.1zM174 76.2h1.1v1.1h-1.1zM183.1 77.7h1.1v1.1h-1.1zM171.8 74.5h1.1v1.1h-1.1zM178.2 103.3h1.1v1.1h-1.1zM160.9 60.4h1.1v1.1h-1.1zM172.5 47.3h1.1v1.1h-1.1zM171 75.7h1.1v1.1h-1.1zM165.9 39.6h1.1v1.1h-1.1zM176.6 76.2h1.1v1.1h-1.1zM183.6 80.1h1.1v1.1h-1.1zM179.9 111.9h1.1v1.1h-1.1zM171.6 41.3h1.1v1.1h-1.1zM169 72.1h1.1v1.1h-1.1zM183.4 110.2h1.1v1.1h-1.1zM181.4 64h1.1v1.1h-1.1zM185.3 115.7h1.1v1.1h-1.1zM181.1 104.1h1.1v1.1h-1.1zM168.3 34.5h1.1v1.1h-1.1zM172.5 70.3h1.1v1.1h-1.1zM183.2 108.7h1.1v1.1h-1.1zM183.5 83.5h1.1v1.1h-1.1zM184.2 98.9h1.1v1.1h-1.1zM189.5 131.1h1.1v1.1h-1.1zM179.7 99.8h1.1v1.1h-1.1zM174.1 87h1.1v1.1h-1.1zM185.3 116.6h1.1v1.1h-1.1zM172.1 75.1h1.1v1.1h-1.1zM169.3 31.2h1.1v1.1h-1.1zM175.6 58h1.1v1.1h-1.1zM172.3 92.4h1.1v1.1h-1.1zM188.9 126.7h1.1v1.1h-1.1zM179.1 92.7h1.1v1.1h-1.1zM172.9 59.5h1.1v1.1h-1.1zM184.9 132.5h1.1v1.1h-1.1zM176.6 71.3h1.1v1.1h-1.1zM171.7 53.8h1.1v1.1h-1.1zM180.1 86.8h1.1v1.1h-1.1zM172.7 65.9h1.1v1.1h-1.1zM185 40.7h1.1v1.1h-1.1zM183.6 102.6h1.1v1.1h-1.1zM182.2 100.7h1.1v1.1h-1.1zM190.1 129h1.1v1.1h-1.1zM174.4 44.1h1.1v1.1h-1.1zM182.8 124.2h1.1v1.1h-1.1zM181.1 112.9h1.1v1.1h-1.1zM178.4 55.6h1.1v1.1h-1.1zM176 79.7h1.1v1.1h-1.1zM174.1 95.9h1.1v1.1h-1.1zM177.1 62.2h1.1v1.1h-1.1zM173.5 41.1h1.1v1.1h-1.1zM183.2 116.5h1.1v1.1h-1.1zM180.1 46.1h1.1v1.1h-1.1zM177.3 80.7h1.1v1.1h-1.1zM171.3 76h1.1v1.1h-1.1zM178.7 124.4h1.1v1.1h-1.1zM181.2 87.3h1.1v1.1h-1.1zM171.2 74.6h1.1v1.1h-1.1zM194.9 128.3h1.1v1.1h-1.1zM165.8 67.9h1.1v1.1h-1.1zM179.5 105.6h1.1v1.1h-1.1zM173.5 54.2h1.1v1.1h-1.1zM183.9 107.4h1.1v1.1h-1.1zM180.1 108.1h1.1v1.1h-1.1zM178.1 117.5h1.1v1.1h-1.1zM174.5 80.5h1.1v1.1h-1.1zM166.2 54h1.1v1.1h-1.1zM175.4 95.9h1.1v1.1h-1.1zM182.7 124.2h1.1v1.1h-1.1zM163.7 63.7h1.1v1.1h-1.1zM163 32.6h1.1v1.1h-1.1zM171.2 49.4h1.1v1.1h-1.1zM185.8 125.8h1.1v1.1h-1.1zM179.4 30.1h1.1v1.1h-1.1zM180.7 35h1.1v1.1h-1.1zM172.9 40.1h1.1v1.1h-1.1zM186.5 121.2h1.1v1.1h-1.1zM176.3 69.5h1.1v1.1h-1.1zM180.7 101.3h1.1v1.1h-1.1zM176.8 104.3h1.1v1.1h-1.1zM174.5 75.1h1.1v1.1h-1.1zM188 103.1h1.1v1.1h-1.1zM173.3 78.2h1.1v1.1h-1.1zM174.8 86.5h1.1v1.1h-1.1zM173.4 61.9h1.1v1.1h-1.1zM168.5 30.4h1.1v1.1h-1.1zM180.1 91.1h1.1v1.1h-1.1zM170.6 57.9h1.1v1.1h-1.1zM175.6 58.3h1.1v1.1h-1.1zM186.8 119.8h1.1v1.1h-1.1zM170.5 68.1h1.1v1.1h-1.1zM170.2 40.7h1.1v1.1h-1.1zM178.6 95.2h1.1v1.1h-1.1zM172.2 86.5h1.1v1.1h-1.1zM172 35.9h1.1v1.1h-1.1zM169.5 66.9h1.1v1.1h-1.1zM177.5 93.4h1.1v1.1h-1.1zM175.7 58.7h1.1v1.1h-1.1zM191 130.3h1.1v1.1h-1.1zM181.3 113h1.1v1.1h-1.1zM170.9 83.1h1.1v1.1h-1.1zM191.4 122.6h1.1v1.1h-1.1zM177.7 33.2h1.1v1.1h-1.1zM164.6 54.4h1.1v1.1h-1.1zM183 124.6h1.1v1.1h-1.1zM176.1 82.8h1.1v1.1h-1.1zM180 46.7h1.1v1.1h-1.1zM174 89.6h1.1v1.1h-1.1zM187 103.2h1.1v1.1h-1.1zM175.2 92.9h1.1v1.1h-1.1zM171.9 34.7h1.1v1.1h-1.1zM170 33.9h1.1v1.1h-1.1zM176.8 72h1.1v1.1h-1.1zM175.6 31.4h1.1v1.1h-1.1zM173.2 38.6h1.1v1.1h-1.1zM177 96.8h1.1v1.1h-1.1zM183.6 74.3h1.1v1.1h-1.1zM179.5 38.4h1.1v1.1h-1.1zM182.7 120.6h1.1v1.1h-1.1zM173.4 68.4h1.1v1.1h-1.1zM177.3 122.6h1.1v1.1h-1.1zM182.8 92.4h1.1v1.1h-1.1zM182 93.7h1.1v1.1h-1.1zM175.8 73.9h1.1v1.1h-1.1zM179.1 99.5h1.1v1.1h-1.1zM171.3 55.5h1.1v1.1h-1.1zM171.7 56.9h1.1v1.1h-1.1zM182.7 120.4h1.1v1.1h-1.1zM182.2 49.9h1.1v1.1h-1.1zM174 70.2h1.1v1.1h-1.1zM184 105.9h1.1v1.1h-1.1zM176.9 63.8h1.1v1.1h-1.1zM167.3 69.1h1.1v1.1h-1.1zM188.7 122.6h1.1v1.1h-1.1zM165.3 52.4h1.1v1.1h-1.1zM158.8 56.9h1.1v1.1h-1.1zM188.1 120.3h1.1v1.1h-1.1zM173.1 58.6h1.1v1.1h-1.1zM174.4 64.3h1.1v1.1h-1.1zM185.7 120.4h1.1v1.1h-1.1zM167 64.4h1.1v1.1h-1.1zM185 132.9h1.1v1.1h-1.1zM184 114.5h1.1v1.1h-1.1zM185.3 116.7h1.1v1.1h-1.1zM177.1 52.9h1.1v1.1h-1.1zM170.3 52.9h1.1v1.1h-1.1zM187.1 105.7h1.1v1.1h-1.1zM188.4 113.4h1.1v1.1h-1.1zM171.9 53.5h1.1v1.1h-1.1zM176.2 50.9h1.1v1.1h-1.1zM180.4 54.3h1.1v1.1h-1.1zM172 44.3h1.1v1.1h-1.1zM179.6 73h1.1v1.1h-1.1zM175 82.3h1.1v1.1h-1.1zM178.2 95.1h1.1v1.1h-1.1zM179 35.2h1.1v1.1h-1.1zM169.9 50.3h1.1v1.1h-1.1zM166.9 42.5h1.1v1.1h-1.1zM172.2 58.2h1.1v1.1h-1.1zM173.1 49.2h1.1v1.1h-1.1zM190 125.2h1.1v1.1h-1.1zM166.6 69.9h1.1v1.1h-1.1zM170.3 44.5h1.1v1.1h-1.1zM179.2 98.9h1.1v1.1h-1.1zM190.2 129h1.1v1.1h-1.1zM188.8 109.7h1.1v1.1h-1.1zM180.9 96.8h1.1v1.1h-1.1zM172.4 69.6h1.1v1.1h-1.1zM173.9 72h1.1v1.1h-1.1zM172.1 61.6h1.1v1.1h-1.1zM183.6 112.9h1.1v1.1h-1.1zM188 111h1.1v1.1h-1.1zM176.5 80.7h1.1v1.1h-1.1zM181.3 119.3h1.1v1.1h-1.1zM179.3 97.4h1.1v1.1h-1.1zM187.7 98h1.1v1.1h-1.1zM177.1 57.4h1.1v1.1h-1.1zM182.8 53.8h1.1v1.1h-1.1zM177.5 53h1.1v1.1h-1.1zM176.6 126h1.1v1.1h-1.1zM185.9 111.4h1.1v1.1h-1.1zM191.2 120.9h1.1v1.1h-1.1zM192.3 111.5h1.1v1.1h-1.1zM185.3 112.2h1.1v1.1h-1.1zM171 75.9h1.1v1.1h-1.1zM186.2 107.4h1.1v1.1h-1.1zM169.2 47.7h1.1v1.1h-1.1zM178.6 97.9h1.1v1.1h-1.1zM174.5 34.2h1.1v1.1h-1.1zM185.1 129.5h1.1v1.1h-1.1zM188.5 119.4h1.1v1.1h-1.1zM176.2 46.6h1.1v1.1h-1.1zM185.7 108h1.1v1.1h-1.1zM183.8 114.8h1.1v1.1h-1.1zM158.5 35.2h1.1v1.1h-1.1zM174.6 89.1h1.1v1.1h-1.1zM178.5 73.1h1.1v1.1h-1.1zM178.6 94h1.1v1.1h-1.1zM190.8 119.6h1.1v1.1h-1.1zM184.7 103.3h1.1v1.1h-1.1zM182.6 50.6h1.1v1.1h-1.1zM176.5 87.6h1.1v1.1h-1.1zM179.9 87.8h1.1v1.1h-1.1zM171.9 31.1h1.1v1.1h-1.1zM186.7 42.7h1.1v1.1h-1.1zM173.1 67.5h1.1v1.1h-1.1zM180.1 47.5h1.1v1.1h-1.1zM179.2 53.8h1.1v1.1h-1.1zM178.1 100.1h1.1v1.1h-1.1zM187 128.6h1.1v1.1h-1.1zM175.7 77.5h1.1v1.1h-1.1zM178.6 96.9h1.1v1.1h-1.1zM180.7 109.1h1.1v1.1h-1.1zM183.2 99h1.1v1.1h-1.1zM185.9 96.9h1.1v1.1h-1.1zM175.4 29.8h1.1v1.1h-1.1zM187.2 118.7h1.1v1.1h-1.1zM172 46.8h1.1v1.1h-1.1zM169.7 49.1h1.1v1.1h-1.1zM180.7 82.2h1.1v1.1h-1.1zM176.2 91h1.1v1.1h-1.1zM186.7 106.1h1.1v1.1h-1.1zM170.6 60.9h1.1v1.1h-1.1zM192.9 125.4h1.1v1.1h-1.1zM175.2 95.5h1.1v1.1h-1.1zM185.6 116.4h1.1v1.1h-1.1zM183.2 78.4h1.1v1.1h-1.1zM173 37.3h1.1v1.1h-1.1zM156.9 32.2h1.1v1.1h-1.1zM176.1 96.6h1.1v1.1h-1.1zM178.4 73.7h1.1v1.1h-1.1zM170.5 76.4h1.1v1.1h-1.1zM174.9 63.7h1.1v1.1h-1.1zM173.5 48.4h1.1v1.1h-1.1zM174.4 79.3h1.1v1.1h-1.1zM175.7 56.1h1.1v1.1h-1.1zM187.3 121.2h1.1v1.1h-1.1zM176.4 48h1.1v1.1h-1.1zM178.3 131.5h1.1v1.1h-1.1zM191.9 116.5h1.1v1.1h-1.1zM185.1 68.2h1.1v1.1h-1.1zM177.5 111.5h1.1v1.1h-1.1zM183.4 89.3h1.1v1.1h-1.1zM173.9 78.6h1.1v1.1h-1.1zM187.8 112h1.1v1.1h-1.1zM188.5 113.9h1.1v1.1h-1.1zM168.6 51.5h1.1v1.1h-1.1zM192.7 121.2h1.1v1.1h-1.1zM170 33.4h1.1v1.1h-1.1zM167.4 30.8h1.1v1.1h-1.1zM173.5 80.5h1.1v1.1h-1.1zM177.6 60.7h1.1v1.1h-1.1zM180.6 73h1.1v1.1h-1.1zM166.5 81.1h1.1v1.1h-1.1zM180.7 77.8h1.1v1.1h-1.1zM185.6 123.2h1.1v1.1h-1.1zM187.8 123.8h1.1v1.1h-1.1zM176.5 65.6h1.1v1.1h-1.1zM166.2 60.8h1.1v1.1h-1.1zM180.7 97.4h1.1v1.1h-1.1zM166.9 51.4h1.1v1.1h-1.1zM179 70.9h1.1v1.1h-1.1zM178.2 105.2h1.1v1.1h-1.1zM180 30h1.1v1.1h-1.1zM182.2 109.7h1.1v1.1h-1.1zM181.9 105.5h1.1v1.1h-1.1zM177.6 69.8h1.1v1.1h-1.1zM178.6 55h1.1v1.1h-1.1zM179.7 85.5h1.1v1.1h-1.1zM180.3 59.7h1.1v1.1h-1.1zM188.1 112.9h1.1v1.1h-1.1zM177.9 91.1h1.1v1.1h-1.1zM170.6 62.3h1.1v1.1h-1.1zM187.1 111.8h1.1v1.1h-1.1zM176.6 93.1h1.1v1.1h-1.1zM165.3 44.2h1.1v1.1h-1.1zM175.6 72.9h1.1v1.1h-1.1zM174.8 81h1.1v1.1h-1.1zM185.6 127.2h1.1v1.1h-1.1zM177.9 62.7h1.1v1.1h-1.1zM174 76.7h1.1v1.1h-1.1zM191 129.3h1.1v1.1h-1.1zM170.9 74.9h1.1v1.1h-1.1zM187.2 113.9h1.1v1.1h-1.1zM164.7 40.5h1.1v1.1h-1.1zM177.7 70.4h1.1v1.1h-1.1zM173.8 48.9h1.1v1.1h-1.1zM188.7 119.9h1.1v1.1h-1.1zM176 87.4h1.1v1.1h-1.1zM173 52.7h1.1v1.1h-1.1zM176.7 39.2h1.1v1.1h-1.1zM175.2 73.7h1.1v1.1h-1.1zM173.4 39.9h1.1v1.1h-1.1zM176.4 80.3h1.1v1.1h-1.1zM184.5 104h1.1v1.1h-1.1zM169.2 62.9h1.1v1.1h-1.1zM177.4 46.7h1.1v1.1h-1.1zM172 67.9h1.1v1.1h-1.1zM169.7 47.6h1.1v1.1h-1.1zM177.6 118.3h1.1v1.1h-1.1zM168.2 40.2h1.1v1.1h-1.1zM183.2 105.8h1.1v1.1h-1.1zM171.1 65.1h1.1v1.1h-1.1zM183 104.5h1.1v1.1h-1.1zM189.3 106.9h1.1v1.1h-1.1zM172.6 44h1.1v1.1h-1.1zM181.7 108.1h1.1v1.1h-1.1zM188.6 126.5h1.1v1.1h-1.1zM172.4 89.5h1.1v1.1h-1.1zM181.4 96.3h1.1v1.1h-1.1zM169.6 64.1h1.1v1.1h-1.1zM169.9 48.5h1.1v1.1h-1.1zM183.1 106.3h1.1v1.1h-1.1zM188.8 112.6h1.1v1.1h-1.1zM172.3 51.5h1.1v1.1h-1.1zM176.5 41.5h1.1v1.1h-1.1zM179.6 65.8h1.1v1.1h-1.1zM183.5 94h1.1v1.1h-1.1zM169.1 68.7h1.1v1.1h-1.1zM185.7 129.2h1.1v1.1h-1.1zM185.9 110.4h1.1v1.1h-1.1zM187.2 123.7h1.1v1.1h-1.1zM181.5 91.5h1.1v1.1h-1.1zM181.6 108.1h1.1v1.1h-1.1zM191.4 126.4h1.1v1.1h-1.1zM172.6 33.6h1.1v1.1h-1.1zM180.9 89h1.1v1.1h-1.1zM175.8 49h1.1v1.1h-1.1zM182.5 112.1h1.1v1.1h-1.1zM182.8 52.9h1.1v1.1h-1.1zM177.9 107.9h1.1v1.1h-1.1zM171.9 64.9h1.1v1.1h-1.1zM186.1 96.3h1.1v1.1h-1.1zM179.1 100.5h1.1v1.1h-1.1zM189.6 122.3h1.1v1.1h-1.1zM189.7 118.4h1.1v1.1h-1.1zM177.2 75.2h1.1v1.1h-1.1zM181 100.9h1.1v1.1h-1.1zM177.4 48.3h1.1v1.1h-1.1zM174.8 40h1.1v1.1h-1.1zM177.5 105h1.1v1.1h-1.1zM195.2 120.7h1.1v1.1h-1.1zM179.1 108h1.1v1.1h-1.1zM180.4 83h1.1v1.1h-1.1zM177.6 95.3h1.1v1.1h-1.1zM179.6 106h1.1v1.1h-1.1zM179.3 88.7h1.1v1.1h-1.1zM175.3 67.6h1.1v1.1h-1.1zM187.5 116.6h1.1v1.1h-1.1zM169.4 69.1h1.1v1.1h-1.1zM179.6 124.3h1.1v1.1h-1.1zM186.6 111.1h1.1v1.1h-1.1zM185.1 110.9h1.1v1.1h-1.1zM189.9 113.6h1.1v1.1h-1.1zM187.5 131.2h1.1v1.1h-1.1zM190 130.9h1.1v1.1h-1.1zM167.9 83.2h1.1v1.1h-1.1zM175.5 69h1.1v1.1h-1.1zM182.6 105.2h1.1v1.1h-1.1zM189.6 128.7h1.1v1.1h-1.1zM176.1 95.6h1.1v1.1h-1.1zM171.3 32.7h1.1v1.1h-1.1zM170.6 34.1h1.1v1.1h-1.1zM176.7 78h1.1v1.1h-1.1zM189.6 108.7h1.1v1.1h-1.1zM178.9 122.7h1.1v1.1h-1.1zM181.4 67.9h1.1v1.1h-1.1zM178.7 83.3h1.1v1.1h-1.1zM178.3 82.9h1.1v1.1h-1.1zM169.4 40h1.1v1.1h-1.1zM167.1 30.4h1.1v1.1h-1.1zM184.4 83.1h1.1v1.1h-1.1zM171.3 33.9h1.1v1.1h-1.1zM175.3 38h1.1v1.1h-1.1zM161.8 29.1h1.1v1.1h-1.1zM165.1 34h1.1v1.1h-1.1zM173.6 34.9h1.1v1.1h-1.1zM154.8 35h1.1v1.1h-1.1zM154.5 33.4h1.1v1.1h-1.1zM168.1 37.6h1.1v1.1h-1.1zM171.9 46h1.1v1.1h-1.1zM166.1 36h1.1v1.1h-1.1zM151.7 36h1.1v1.1h-1.1zM170.1 34.5h1.1v1.1h-1.1zM159.4 51.8h1.1v1.1h-1.1zM175.1 46.3h1.1v1.1h-1.1zM169.1 40.1h1.1v1.1h-1.1zM172 41h1.1v1.1h-1.1zM175 32.6h1.1v1.1h-1.1zM165.7 35.9h1.1v1.1h-1.1zM176.5 38h1.1v1.1h-1.1zM179.7 37.5h1.1v1.1h-1.1zM173 31.8h1.1v1.1h-1.1zM180.4 32.2h1.1v1.1h-1.1zM164.9 39.8h1.1v1.1h-1.1zM177.2 38.7h1.1v1.1h-1.1zM172 24.4h1.1v1.1h-1.1zM162.1 37.4h1.1v1.1h-1.1zM169.3 44.3h1.1v1.1h-1.1zM165.7 33h1.1v1.1h-1.1zM165.5 38.2h1.1v1.1h-1.1zM170.6 28.3h1.1v1.1h-1.1zM178.3 41.7h1.1v1.1h-1.1zM167.4 30.3h1.1v1.1h-1.1zM170.9 29.4h1.1v1.1h-1.1zM158.3 34.9h1.1v1.1h-1.1zM170.8 50.8h1.1v1.1h-1.1zM179 33.2h1.1v1.1h-1.1zM176.3 29.4h1.1v1.1h-1.1zM173.7 39.5h1.1v1.1h-1.1zM165.7 38.2h1.1v1.1h-1.1zM162.2 46.6h1.1v1.1h-1.1zM169.2 29.4h1.1v1.1h-1.1zM159.3 27.4h1.1v1.1h-1.1zM160.1 35h1.1v1.1h-1.1zM177.4 39h1.1v1.1h-1.1zM162.6 38.9h1.1v1.1h-1.1zM184.1 43.2h1.1v1.1h-1.1zM158.6 28h1.1v1.1h-1.1zM173.3 32h1.1v1.1h-1.1zM160.6 36h1.1v1.1h-1.1zM171.3 41.8h1.1v1.1h-1.1zM161.7 39.6h1.1v1.1h-1.1zM170.2 34.3h1.1v1.1h-1.1zM168.7 30.8h1.1v1.1h-1.1zM166.3 42h1.1v1.1h-1.1zM174 42.4h1.1v1.1h-1.1zM181.9 52.8h1.1v1.1h-1.1zM165.2 35.8h1.1v1.1h-1.1zM176.9 46.4h1.1v1.1h-1.1zM170.6 29.7h1.1v1.1h-1.1zM169.7 33.6h1.1v1.1h-1.1zM187.3 32.8h1.1v1.1h-1.1zM152.7 34.1h1.1v1.1h-1.1zM164.5 31.7h1.1v1.1h-1.1zM155.6 33.6h1.1v1.1h-1.1zM167.4 36.5h1.1v1.1h-1.1zM168.1 34.2h1.1v1.1h-1.1zM200.1 40.7h1.1v1.1h-1.1zM172.7 36.3h1.1v1.1h-1.1zM184.1 36.8h1.1v1.1h-1.1zM180.2 45.5h1.1v1.1h-1.1zM166.4 38.7h1.1v1.1h-1.1zM173.7 37.7h1.1v1.1h-1.1zM183.1 36.7h1.1v1.1h-1.1zM171.3 37.2h1.1v1.1h-1.1zM171.6 40.2h1.1v1.1h-1.1zM173.9 32.1h1.1v1.1h-1.1zM158 43.6h1.1v1.1h-1.1zM163.5 46.1h1.1v1.1h-1.1zM172.6 43.6h1.1v1.1h-1.1zM174.2 33.9h1.1v1.1h-1.1zM162.6 27.5h1.1v1.1h-1.1zM167.3 34.3h1.1v1.1h-1.1zM168.9 37.7h1.1v1.1h-1.1zM168.7 41.7h1.1v1.1h-1.1zM175.4 35.8h1.1v1.1h-1.1zM170.7 35h1.1v1.1h-1.1zM171.2 45.8h1.1v1.1h-1.1zM158.7 32.9h1.1v1.1h-1.1zM161.5 43.1h1.1v1.1h-1.1zM172.4 42.1h1.1v1.1h-1.1zM157.3 29h1.1v1.1h-1.1zM172 38.5h1.1v1.1h-1.1zM164.6 33.5h1.1v1.1h-1.1zM163.4 31.3h1.1v1.1h-1.1zM175 25.9h1.1v1.1h-1.1zM164.5 27.6h1.1v1.1h-1.1zM163.1 39.3h1.1v1.1h-1.1zM164.5 34.5h1.1v1.1h-1.1zM170.3 38.4h1.1v1.1h-1.1zM191.7 30.6h1.1v1.1h-1.1zM153.1 34.9h1.1v1.1h-1.1zM169.7 35.2h1.1v1.1h-1.1zM167.9 27.7h1.1v1.1h-1.1zM177.4 27.1h1.1v1.1h-1.1zM166.9 39.4h1.1v1.1h-1.1zM150.2 37.7h1.1v1.1h-1.1zM180.4 31.3h1.1v1.1h-1.1zM161.2 36.2h1.1v1.1h-1.1zM169.4 40.7h1.1v1.1h-1.1zM159 47.6h1.1v1.1h-1.1zM161.1 31.6h1.1v1.1h-1.1zM165.9 40.5h1.1v1.1h-1.1zM176.6 49.3h1.1v1.1h-1.1zM176.5 37.2h1.1v1.1h-1.1zM165.1 45.5h1.1v1.1h-1.1zM173.8 21.6h1.1v1.1h-1.1zM166.9 45.3h1.1v1.1h-1.1zM170.7 36.8h1.1v1.1h-1.1zM171 25.8h1.1v1.1h-1.1zM174.7 41.4h1.1v1.1h-1.1zM164.9 43h1.1v1.1h-1.1zM168.8 43.9h1.1v1.1h-1.1zM171.5 43.9h1.1v1.1h-1.1zM170.5 36.6h1.1v1.1h-1.1zM163.5 32.4h1.1v1.1h-1.1zM183.5 34.1h1.1v1.1h-1.1zM166.1 36.6h1.1v1.1h-1.1zM175.8 39.2h1.1v1.1h-1.1zM171.4 34h1.1v1.1h-1.1zM179.5 37.1h1.1v1.1h-1.1zM152.4 42h1.1v1.1h-1.1zM186.1 38.7h1.1v1.1h-1.1zM168.1 50.3h1.1v1.1h-1.1zM160 49.5h1.1v1.1h-1.1zM170.8 30.1h1.1v1.1h-1.1zM187.7 33.5h1.1v1.1h-1.1zM173.8 29.1h1.1v1.1h-1.1zM160 30h1.1v1.1h-1.1zM166.1 40h1.1v1.1h-1.1zM180.4 31h1.1v1.1h-1.1zM158.6 30.7h1.1v1.1h-1.1zM168.3 35.2h1.1v1.1h-1.1zM167.4 41.5h1.1v1.1h-1.1zM187 34.7h1.1v1.1h-1.1zM167.4 34.7h1.1v1.1h-1.1zM180.2 42.2h1.1v1.1h-1.1zM164.4 39.6h1.1v1.1h-1.1zM163.4 39.5h1.1v1.1h-1.1zM177.7 42.4h1.1v1.1h-1.1zM174.7 30.9h1.1v1.1h-1.1zM156 38.1h1.1v1.1h-1.1zM174.8 33.1h1.1v1.1h-1.1zM174.9 42.9h1.1v1.1h-1.1zM164.9 41.6h1.1v1.1h-1.1zM171.5 30.7h1.1v1.1h-1.1zM171.9 44.7h1.1v1.1h-1.1zM165.9 29.9h1.1v1.1h-1.1zM165.1 43.7h1.1v1.1h-1.1zM164.4 38h1.1v1.1h-1.1zM167.6 31.7h1.1v1.1h-1.1zM159.2 30.2h1.1v1.1h-1.1zM169.4 35h1.1v1.1h-1.1zM157.9 36.7h1.1v1.1h-1.1zM170.3 32.6h1.1v1.1h-1.1zM169.1 40.1h1.1v1.1h-1.1zM161.5 28.6h1.1v1.1h-1.1zM176.5 36.8h1.1v1.1h-1.1zM185.1 36.8h1.1v1.1h-1.1zM180.3 25.8h1.1v1.1h-1.1zM158.9 38.6h1.1v1.1h-1.1zM179.9 29.4h1.1v1.1h-1.1zM171.5 22.1h1.1v1.1h-1.1zM169.3 33.2h1.1v1.1h-1.1zM165 35.5h1.1v1.1h-1.1zM169.7 42.2h1.1v1.1h-1.1zM180.8 34h1.1v1.1h-1.1zM174.1 45.5h1.1v1.1h-1.1zM166.4 45.3h1.1v1.1h-1.1zM164.4 43.3h1.1v1.1h-1.1zM166.4 44.6h1.1v1.1h-1.1zM174.4 38.9h1.1v1.1h-1.1zM184.5 33.5h1.1v1.1h-1.1zM161.3 40.7h1.1v1.1h-1.1zM169.7 42.5h1.1v1.1h-1.1zM166.7 38.2h1.1v1.1h-1.1zM163.8 35.4h1.1v1.1h-1.1zM172.9 27.6h1.1v1.1h-1.1zM174.1 40.8h1.1v1.1h-1.1zM158.5 38.9h1.1v1.1h-1.1zM161.5 29.1h1.1v1.1h-1.1zM179.2 37.4h1.1v1.1h-1.1zM172.2 41.1h1.1v1.1h-1.1zM173.9 36.2h1.1v1.1h-1.1zM165.7 41.5h1.1v1.1h-1.1zM166.7 41.3h1.1v1.1h-1.1zM173.4 28.1h1.1v1.1h-1.1zM165.8 35h1.1v1.1h-1.1zM160.9 39.7h1.1v1.1h-1.1zM169.7 42.2h1.1v1.1h-1.1zM176.9 45.2h1.1v1.1h-1.1zM161.6 25.5h1.1v1.1h-1.1zM178.1 36.4h1.1v1.1h-1.1zM175.3 41.1h1.1v1.1h-1.1zM162.9 44.1h1.1v1.1h-1.1zM169.8 46.8h1.1v1.1h-1.1zM169.4 31.3h1.1v1.1h-1.1zM174.7 34.6h1.1v1.1h-1.1zM175 30.6h1.1v1.1h-1.1zM159.4 41.7h1.1v1.1h-1.1zM159 29h1.1v1.1h-1.1zM177.9 43.8h1.1v1.1h-1.1zM170.6 42.4h1.1v1.1h-1.1zM173 39.7h1.1v1.1h-1.1zM172.4 24h1.1v1.1h-1.1zM181.9 32.8h1.1v1.1h-1.1zM160.2 41.3h1.1v1.1h-1.1zM178.4 28.4h1.1v1.1h-1.1zM163.2 35.4h1.1v1.1h-1.1zM175.5 36.2h1.1v1.1h-1.1zM180.3 42.1h1.1v1.1h-1.1zM158.8 38.5h1.1v1.1h-1.1zM172.9 38.4h1.1v1.1h-1.1zM167.5 34.2h1.1v1.1h-1.1zM167.4 36.8h1.1v1.1h-1.1zM170.1 36h1.1v1.1h-1.1zM161.4 41.1h1.1v1.1h-1.1zM162.1 35.8h1.1v1.1h-1.1zM174.9 42.9h1.1v1.1h-1.1zM176.4 26.7h1.1v1.1h-1.1zM165.2 43.9h1.1v1.1h-1.1zM158.2 35.8h1.1v1.1h-1.1zM188.1 43.5h1.1v1.1h-1.1zM178.4 37.3h1.1v1.1h-1.1zM172.6 41.9h1.1v1.1h-1.1zM161.6 45.7h1.1v1.1h-1.1zM165.1 33.5h1.1v1.1h-1.1zM171.6 37.3h1.1v1.1h-1.1zM162.1 35.8h1.1v1.1h-1.1zM182.4 38h1.1v1.1h-1.1zM170.8 27.2h1.1v1.1h-1.1zM172.8 35.8h1.1v1.1h-1.1zM161.6 35.3h1.1v1.1h-1.1zM162.6 32.1h1.1v1.1h-1.1zM163.5 35.7h1.1v1.1h-1.1zM171.9 27.7h1.1v1.1h-1.1zM167.6 45.1h1.1v1.1h-1.1zM167.4 39.5h1.1v1.1h-1.1zM172.2 48h1.1v1.1h-1.1zM171.5 31.6h1.1v1.1h-1.1zM181.4 29.9h1.1v1.1h-1.1zM168.2 38.5h1.1v1.1h-1.1zM161.7 26.9h1.1v1.1h-1.1zM169.6 38.1h1.1v1.1h-1.1zM181.3 32.6h1.1v1.1h-1.1zM165.4 34.8h1.1v1.1h-1.1zM170.1 38.3h1.1v1.1h-1.1zM166.9 37.1h1.1v1.1h-1.1zM172.9 47.8h1.1v1.1h-1.1zM171.8 40.5h1.1v1.1h-1.1zM163.3 29.1h1.1v1.1h-1.1zM167.9 42.6h1.1v1.1h-1.1zM177.1 28.9h1.1v1.1h-1.1zM178.4 37.3h1.1v1.1h-1.1zM177 29.4h1.1v1.1h-1.1zM176.5 31.9h1.1v1.1h-1.1zM167.1 44.6h1.1v1.1h-1.1zM166.9 33.5h1.1v1.1h-1.1zM177 33h1.1v1.1h-1.1zM160.5 33.5h1.1v1.1h-1.1zM169.3 34.9h1.1v1.1h-1.1zM155.1 45.3h1.1v1.1h-1.1zM166.7 29.8h1.1v1.1h-1.1zM164.2 29.5h1.1v1.1h-1.1zM160.3 40.2h1.1v1.1h-1.1zM174.3 27.3h1.1v1.1h-1.1zM164 34.6h1.1v1.1h-1.1zM166.8 43.5h1.1v1.1h-1.1zM167.7 36.8h1.1v1.1h-1.1zM163.9 33.9h1.1v1.1h-1.1zM180.9 32.6h1.1v1.1h-1.1zM269.2 39.3h1.1v1.1h-1.1zM241.6 5.7h1.1v1.1h-1.1zM255.9 23.3h1.1v1.1h-1.1zM277.3 47.9h1.1v1.1h-1.1zM259.8 28h1.1v1.1h-1.1zM263.3 32.3h1.1v1.1h-1.1zM261.9 34h1.1v1.1h-1.1zM280.3 55h1.1v1.1h-1.1zM249.9 10.2h1.1v1.1h-1.1zM269.6 39h1.1v1.1h-1.1zM256.9 27.7h1.1v1.1h-1.1zM248.5 14.6h1.1v1.1h-1.1zM236.5 7.1h1.1v1.1h-1.1zM265.4 35.7h1.1v1.1h-1.1zM246.9 11.1h1.1v1.1h-1.1zM262.4 35.7h1.1v1.1h-1.1zM255.8 26.8h1.1v1.1h-1.1zM256 24.3h1.1v1.1h-1.1zM277.2 52h1.1v1.1h-1.1zM245 3.8h1.1v1.1h-1.1zM261.9 34.1h1.1v1.1h-1.1zM250.5 30.1h1.1v1.1h-1.1zM241.4 12.7h1.1v1.1h-1.1zM253.7 25.4h1.1v1.1h-1.1zM275.4 51.1h1.1v1.1h-1.1zM246.4 12.8h1.1v1.1h-1.1zM264.3 42.2h1.1v1.1h-1.1zM248.2 18h1.1v1.1h-1.1zM258.4 33.2h1.1v1.1h-1.1zM262.8 32.3h1.1v1.1h-1.1zM237.9 8.2h1.1v1.1h-1.1zM271.4 48.7h1.1v1.1h-1.1zM256 21.6h1.1v1.1h-1.1zM249.2 11.6h1.1v1.1h-1.1zM244.6 15.4h1.1v1.1h-1.1zM276.1 60h1.1v1.1h-1.1zM276 56.8h1.1v1.1h-1.1zM259.4 27.4h1.1v1.1h-1.1zM252.5 14.3h1.1v1.1h-1.1zM271.5 40.1h1.1v1.1h-1.1zM236.2 7.9h1.1v1.1h-1.1zM273 51.5h1.1v1.1h-1.1zM237.2 2.6h1.1v1.1h-1.1zM236.5 7.2h1.1v1.1h-1.1zM252.4 20.6h1.1v1.1h-1.1zM259.9 25.6h1.1v1.1h-1.1zM236.4 3.1h1.1v1.1h-1.1zM251.3 16.9h1.1v1.1h-1.1zM276.1 59.9h1.1v1.1h-1.1zM274.2 44h1.1v1.1h-1.1zM238.4 6.5h1.1v1.1h-1.1zM272.5 53.1h1.1v1.1h-1.1zM258.5 27.9h1.1v1.1h-1.1zM281.2 58.3h1.1v1.1h-1.1zM249.1 22.3h1.1v1.1h-1.1zM249.6 20.7h1.1v1.1h-1.1zM265.5 41.4h1.1v1.1h-1.1zM259.6 29h1.1v1.1h-1.1zM248.1 18.8h1.1v1.1h-1.1zM261.5 30.9h1.1v1.1h-1.1zM265.3 38.3h1.1v1.1h-1.1zM250.7 20h1.1v1.1h-1.1zM275.2 47.6h1.1v1.1h-1.1zM274.3 41.8h1.1v1.1h-1.1zM273.4 42.7h1.1v1.1h-1.1zM268.6 37.6h1.1v1.1h-1.1zM245.9 16.3h1.1v1.1h-1.1zM268.3 42h1.1v1.1h-1.1zM244.8 12h1.1v1.1h-1.1zM240.8 12.3h1.1v1.1h-1.1zM256.1 33.7h1.1v1.1h-1.1zM245.2 11.5h1.1v1.1h-1.1zM240.5 11.2h1.1v1.1h-1.1zM263.5 35.6h1.1v1.1h-1.1zM277.6 58.7h1.1v1.1h-1.1zM238.5 6.1h1.1v1.1h-1.1zM262.7 21.9h1.1v1.1h-1.1zM237.8 10h1.1v1.1h-1.1zM266.6 27.6h1.1v1.1h-1.1zM267.5 30.2h1.1v1.1h-1.1zM258.9 29.9h1.1v1.1h-1.1zM236 6.7h1.1v1.1h-1.1zM267.8 41.8h1.1v1.1h-1.1zM262.8 28h1.1v1.1h-1.1zM266.3 31.2h1.1v1.1h-1.1zM267.8 39.1h1.1v1.1h-1.1zM281.5 51.7h1.1v1.1h-1.1zM253.4 29.4h1.1v1.1h-1.1zM272.1 56h1.1v1.1h-1.1zM244.7 12.2h1.1v1.1h-1.1zM258.2 27h1.1v1.1h-1.1zM243.9 13h1.1v1.1h-1.1zM249 27.4h1.1v1.1h-1.1zM279.4 52.3h1.1v1.1h-1.1zM280.8 57.3h1.1v1.1h-1.1zM257.6 29.3h1.1v1.1h-1.1zM250.3 16.9h1.1v1.1h-1.1zM249.3 22.2h1.1v1.1h-1.1zM270.1 55.9h1.1v1.1h-1.1zM255.1 28.3h1.1v1.1h-1.1zM247 12.4h1.1v1.1h-1.1zM274.1 49.3h1.1v1.1h-1.1zM261 29.9h1.1v1.1h-1.1zM259 23.6h1.1v1.1h-1.1zM274.5 54.3h1.1v1.1h-1.1zM267.6 45.8h1.1v1.1h-1.1zM235.3 4.9h1.1v1.1h-1.1zM273 59.8h1.1v1.1h-1.1zM259.7 25.7h1.1v1.1h-1.1zM244.9 12.4h1.1v1.1h-1.1zM280.8 52.3h1.1v1.1h-1.1zM255.7 25.9h1.1v1.1h-1.1zM265 42.2h1.1v1.1h-1.1zM271.3 43.9h1.1v1.1h-1.1zM246.1 12.8h1.1v1.1h-1.1zM276.4 59.8h1.1v1.1h-1.1zM259.9 36h1.1v1.1h-1.1zM238.2 6.5h1.1v1.1h-1.1zM261.8 31.7h1.1v1.1h-1.1zM233.8 6.7h1.1v1.1h-1.1zM277 59.2h1.1v1.1h-1.1zM264.6 41.7h1.1v1.1h-1.1zM255.5 22.2h1.1v1.1h-1.1zM273.1 46.8h1.1v1.1h-1.1zM274.5 45.5h1.1v1.1h-1.1zM273.4 38.2h1.1v1.1h-1.1zM249.6 13.6h1.1v1.1h-1.1zM239.1 9.2h1.1v1.1h-1.1zM272.6 51.4h1.1v1.1h-1.1zM276.9 52.2h1.1v1.1h-1.1zM253.4 20.8h1.1v1.1h-1.1zM251.2 26.8h1.1v1.1h-1.1zM256.8 23.3h1.1v1.1h-1.1zM247.7 19.3h1.1v1.1h-1.1zM280.9 54.4h1.1v1.1h-1.1zM265.3 28.1h1.1v1.1h-1.1zM269.2 41.7h1.1v1.1h-1.1zM265.2 35.3h1.1v1.1h-1.1zM241.8 6.5h1.1v1.1h-1.1zM243.1 3.7h1.1v1.1h-1.1zM242.3 11.6h1.1v1.1h-1.1zM261.7 28h1.1v1.1h-1.1zM261.8 40.6h1.1v1.1h-1.1zM277.4 60.3h1.1v1.1h-1.1zM278.1 52.7h1.1v1.1h-1.1zM273.8 41.3h1.1v1.1h-1.1zM254.3 23.6h1.1v1.1h-1.1zM253.9 20.2h1.1v1.1h-1.1zM272.5 38.5h1.1v1.1h-1.1zM250.9 23.1h1.1v1.1h-1.1zM273.9 43.5h1.1v1.1h-1.1zM268.8 43.5h1.1v1.1h-1.1zM243.1 8.3h1.1v1.1h-1.1zM272.3 47.8h1.1v1.1h-1.1zM239.8 8.6h1.1v1.1h-1.1zM248.5 22.6h1.1v1.1h-1.1zM275.8 59.3h1.1v1.1h-1.1zM269.4 36h1.1v1.1h-1.1zM272.6 51.4h1.1v1.1h-1.1zM271.4 57.3h1.1v1.1h-1.1zM250.5 15.6h1.1v1.1h-1.1zM270.9 47.9h1.1v1.1h-1.1zM253.8 23h1.1v1.1h-1.1zM238.1 7.3h1.1v1.1h-1.1zM234.5 14.4h1.1v1.1h-1.1zM247.9 4.8h1.1v1.1h-1.1zM268.6 34.8h1.1v1.1h-1.1zM266.4 37.7h1.1v1.1h-1.1zM277.9 47.9h1.1v1.1h-1.1zM250.3 18.7h1.1v1.1h-1.1zM269.1 46.3h1.1v1.1h-1.1zM248.5 17.5h1.1v1.1h-1.1zM253.1 17.9h1.1v1.1h-1.1zM265 40.4h1.1v1.1h-1.1zM253.5 25.2h1.1v1.1h-1.1zM281.3 58.9h1.1v1.1h-1.1zM249.7 21.3h1.1v1.1h-1.1zM252.2 11.6h1.1v1.1h-1.1zM281.3 49.7h1.1v1.1h-1.1zM275.1 51.7h1.1v1.1h-1.1zM244.3 11.3h1.1v1.1h-1.1zM249.1 23.9h1.1v1.1h-1.1zM260.6 30.3h1.1v1.1h-1.1zM243.2 3.1h1.1v1.1h-1.1zM248 28.2h1.1v1.1h-1.1zM271.8 45.2h1.1v1.1h-1.1zM271.3 45.4h1.1v1.1h-1.1zM246.4 8.2h1.1v1.1h-1.1zM245.9 23.5h1.1v1.1h-1.1zM244.9 21h1.1v1.1h-1.1zM264.7 42.4h1.1v1.1h-1.1zM241 11.2h1.1v1.1h-1.1zM275.6 60.3h1.1v1.1h-1.1zM239.3 11.2h1.1v1.1h-1.1zM264.5 28.5h1.1v1.1h-1.1zM265.6 43.4h1.1v1.1h-1.1zM281.3 55.1h1.1v1.1h-1.1zM263.7 37.5h1.1v1.1h-1.1zM282.4 47.4h1.1v1.1h-1.1zM259.2 33.5h1.1v1.1h-1.1zM250.5 11.5h1.1v1.1h-1.1zM253.6 27.9h1.1v1.1h-1.1zM263.8 36.7h1.1v1.1h-1.1zM260.4 32.5h1.1v1.1h-1.1zM273.2 45.3h1.1v1.1h-1.1zM261.1 32.6h1.1v1.1h-1.1zM251.9 25.8h1.1v1.1h-1.1zM262.5 29.1h1.1v1.1h-1.1zM263.4 28.6h1.1v1.1h-1.1zM233.8 5.8h1.1v1.1h-1.1zM256.7 16.1h1.1v1.1h-1.1zM260.5 36.5h1.1v1.1h-1.1zM275.7 37.8h1.1v1.1h-1.1zM256.5 25.9h1.1v1.1h-1.1zM267.4 46h1.1v1.1h-1.1zM257.1 32.8h1.1v1.1h-1.1zM256.9 19.9h1.1v1.1h-1.1zM248.5 15.3h1.1v1.1h-1.1zM270.3 48.5h1.1v1.1h-1.1zM274.2 55.9h1.1v1.1h-1.1zM278.6 37.4h1.1v1.1h-1.1zM245.2 16h1.1v1.1h-1.1zM272.1 39.5h1.1v1.1h-1.1zM255.5 34.4h1.1v1.1h-1.1zM279.1 54.1h1.1v1.1h-1.1zM231.5 7.4h1.1v1.1h-1.1zM270.4 46.4h1.1v1.1h-1.1zM255.6 30.5h1.1v1.1h-1.1zM272.3 51.5h1.1v1.1h-1.1zM263.8 36.7h1.1v1.1h-1.1zM237.7 2.2h1.1v1.1h-1.1zM270.3 39.5h1.1v1.1h-1.1zM263 30.4h1.1v1.1h-1.1zM249.9 13.8h1.1v1.1h-1.1zM242.6 8.9h1.1v1.1h-1.1zM254.6 24.9h1.1v1.1h-1.1zM263.3 32.8h1.1v1.1h-1.1zM256.1 31.2h1.1v1.1h-1.1zM237.4 3.4h1.1v1.1h-1.1zM240.5 13.2h1.1v1.1h-1.1zM267.1 40.6h1.1v1.1h-1.1zM258.1 36h1.1v1.1h-1.1zM269.2 44.5h1.1v1.1h-1.1zM252.6 28.2h1.1v1.1h-1.1zM246 18.8h1.1v1.1h-1.1zM272.8 47h1.1v1.1h-1.1zM243.6 17.2h1.1v1.1h-1.1zM241.3 4.2h1.1v1.1h-1.1zM252.8 23.5h1.1v1.1h-1.1zM256.8 28h1.1v1.1h-1.1zM243.3 16.6h1.1v1.1h-1.1zM281.9 55.4h1.1v1.1h-1.1zM246.7 15.8h1.1v1.1h-1.1zM240 11.2h1.1v1.1h-1.1zM265.5 40.5h1.1v1.1h-1.1zM243.9 9.8h1.1v1.1h-1.1zM248 19.3h1.1v1.1h-1.1zM258.8 22.5h1.1v1.1h-1.1zM248.5 18.3h1.1v1.1h-1.1zM267.2 38.2h1.1v1.1h-1.1zM241.8 11.3h1.1v1.1h-1.1zM263.5 40.6h1.1v1.1h-1.1zM239 11.4h1.1v1.1h-1.1zM262.4 35.4h1.1v1.1h-1.1zM276.1 59.5h1.1v1.1h-1.1zM272.7 46.1h1.1v1.1h-1.1zM276.2 57h1.1v1.1h-1.1zM261.1 33.3h1.1v1.1h-1.1zM244.5 10.7h1.1v1.1h-1.1zM253 23.6h1.1v1.1h-1.1zM282.7 85.6h1.1v1.1h-1.1zM278.6 66.6h1.1v1.1h-1.1zM280.1 66.6h1.1v1.1h-1.1zM277.5 68.4h1.1v1.1h-1.1zM279.2 67.7h1.1v1.1h-1.1zM272.2 108.3h1.1v1.1h-1.1zM279.1 89.3h1.1v1.1h-1.1zM278 73.2h1.1v1.1h-1.1zM274.3 84.9h1.1v1.1h-1.1zM277.2 62.9h1.1v1.1h-1.1zM275.4 71.3h1.1v1.1h-1.1zM274.3 92.3h1.1v1.1h-1.1zM277.5 96.1h1.1v1.1h-1.1zM278.6 92.1h1.1v1.1h-1.1zM281 111.6h1.1v1.1h-1.1zM275.9 110.9h1.1v1.1h-1.1zM276.8 103.4h1.1v1.1h-1.1zM277.7 84.2h1.1v1.1h-1.1zM273.3 99h1.1v1.1h-1.1zM279.3 73h1.1v1.1h-1.1zM277 105h1.1v1.1h-1.1zM277.7 72.7h1.1v1.1h-1.1zM276.2 111.5h1.1v1.1h-1.1zM279.8 60.7h1.1v1.1h-1.1zM278.4 101.5h1.1v1.1h-1.1zM278.2 86.1h1.1v1.1h-1.1zM275.8 102.4h1.1v1.1h-1.1zM280.2 87.3h1.1v1.1h-1.1zM277.7 103.4h1.1v1.1h-1.1zM277 96.8h1.1v1.1h-1.1zM279.5 93.4h1.1v1.1h-1.1zM274.2 109.3h1.1v1.1h-1.1zM276.9 66.1h1.1v1.1h-1.1zM276.8 108.2h1.1v1.1h-1.1zM272.5 86.6h1.1v1.1h-1.1zM275 96.6h1.1v1.1h-1.1zM276.2 94.6h1.1v1.1h-1.1zM278 80.3h1.1v1.1h-1.1zM275.5 87.2h1.1v1.1h-1.1zM272.7 110.3h1.1v1.1h-1.1zM293.9 54.5h1.1v1.1h-1.1zM293.4 51.1h1.1v1.1h-1.1zM292.9 51.4h1.1v1.1h-1.1zM288.3 47.7h1.1v1.1h-1.1zM296.2 49.6h1.1v1.1h-1.1zM291.6 48.3h1.1v1.1h-1.1zM291 58.1h1.1v1.1h-1.1zM287.8 57.4h1.1v1.1h-1.1zM291.3 48.1h1.1v1.1h-1.1zM293.9 49.5h1.1v1.1h-1.1zM290.2 46.4h1.1v1.1h-1.1zM293.2 50.8h1.1v1.1h-1.1zM289.6 42.4h1.1v1.1h-1.1zM291.6 59.3h1.1v1.1h-1.1zM290.9 49.3h1.1v1.1h-1.1zM290.4 38.4h1.1v1.1h-1.1zM291.3 45.6h1.1v1.1h-1.1zM290.4 58.9h1.1v1.1h-1.1zM291.4 45.9h1.1v1.1h-1.1zM290 49.2h1.1v1.1h-1.1zM293.7 59.5h1.1v1.1h-1.1zM291.8 55.4h1.1v1.1h-1.1zM291.3 47.4h1.1v1.1h-1.1zM290.2 42.8h1.1v1.1h-1.1zM292.4 47.3h1.1v1.1h-1.1zM291.4 47.7h1.1v1.1h-1.1zM292.8 57.8h1.1v1.1h-1.1zM290.3 50.2h1.1v1.1h-1.1zM290.6 58.4h1.1v1.1h-1.1zM291.2 59.7h1.1v1.1h-1.1zM291.8 57.2h1.1v1.1h-1.1zM292.1 48h1.1v1.1h-1.1zM290.4 49h1.1v1.1h-1.1zM293.6 50.4h1.1v1.1h-1.1zM295 53.2h1.1v1.1h-1.1zM294.6 56.8h1.1v1.1h-1.1zM290.9 56.1h1.1v1.1h-1.1zM290.4 46.9h1.1v1.1h-1.1zM292.3 54.4h1.1v1.1h-1.1zM289.6 49.3h1.1v1.1h-1.1zM292 55.3h1.1v1.1h-1.1zM285.8 42.4h1.1v1.1h-1.1zM291.7 56.8h1.1v1.1h-1.1zM292 53.6h1.1v1.1h-1.1zM288.3 44h1.1v1.1h-1.1zM290.6 44.9h1.1v1.1h-1.1zM293.4 44.2h1.1v1.1h-1.1zM294.1 49.7h1.1v1.1h-1.1zM294 58h1.1v1.1h-1.1zM293.5 59.4h1.1v1.1h-1.1zM291 51.6h1.1v1.1h-1.1zM285.8 45.1h1.1v1.1h-1.1zM291.8 59.5h1.1v1.1h-1.1zM287.5 59.2h1.1v1.1h-1.1zM290.7 40.2h1.1v1.1h-1.1zM254.5 75.8h1.1v1.1h-1.1zM251.4 78.8h1.1v1.1h-1.1zM257.9 77.1h1.1v1.1h-1.1zM252.4 75.6h1.1v1.1h-1.1zM245.3 75.1h1.1v1.1h-1.1zM256 80.6h1.1v1.1h-1.1zM256.7 78.7h1.1v1.1h-1.1zM259.2 77.5h1.1v1.1h-1.1zM260.6 70.1h1.1v1.1h-1.1zM257 86.7h1.1v1.1h-1.1zM255 76.5h1.1v1.1h-1.1zM252.9 79.6h1.1v1.1h-1.1zM248.3 75.7h1.1v1.1h-1.1zM254 81.5h1.1v1.1h-1.1zM260.9 74.3h1.1v1.1h-1.1zM259.2 80.4h1.1v1.1h-1.1zM265.9 79.3h1.1v1.1h-1.1zM255.4 83.6h1.1v1.1h-1.1zM247.6 75.9h1.1v1.1h-1.1zM260.1 77.6h1.1v1.1h-1.1zM261.1 79.2h1.1v1.1h-1.1zM250.5 88.1h1.1v1.1h-1.1zM248.4 74.4h1.1v1.1h-1.1zM256.8 81.2h1.1v1.1h-1.1zM259.5 77.6h1.1v1.1h-1.1zM275.6 115.3h1.1v1.1h-1.1zM276.3 114h1.1v1.1h-1.1zM275.3 113.7h1.1v1.1h-1.1zM275.5 110.3h1.1v1.1h-1.1zM275.6 115.6h1.1v1.1h-1.1zM273.9 117.3h1.1v1.1h-1.1zM274.6 117h1.1v1.1h-1.1zM271.9 113.8h1.1v1.1h-1.1zM274.3 115.8h1.1v1.1h-1.1zM273.6 116.7h1.1v1.1h-1.1zM274.5 119.2h1.1v1.1h-1.1zM276.4 117.5h1.1v1.1h-1.1zM275.7 114.4h1.1v1.1h-1.1zM275.9 114.3h1.1v1.1h-1.1zM277.1 114.5h1.1v1.1h-1.1zM270.5 114.7h1.1v1.1h-1.1zM293.2 123.3h1.1v1.1h-1.1zM286.8 114.2h1.1v1.1h-1.1zM292.6 123.4h1.1v1.1h-1.1zM283.4 116.4h1.1v1.1h-1.1zM287.8 115.2h1.1v1.1h-1.1zM290.8 122.7h1.1v1.1h-1.1zM282.7 116.7h1.1v1.1h-1.1zM293.1 124.3h1.1v1.1h-1.1zM292.2 124.3h1.1v1.1h-1.1zM282.9 113.8h1.1v1.1h-1.1zM292 119h1.1v1.1h-1.1zM290.2 125.7h1.1v1.1h-1.1zM289.1 119.3h1.1v1.1h-1.1zM289.1 119.3h1.1v1.1h-1.1zM291.8 118.1h1.1v1.1h-1.1zM290 118.9h1.1v1.1h-1.1zM293.1 117.1h1.1v1.1h-1.1zM288.1 122.7h1.1v1.1h-1.1zM290.3 126.2h1.1v1.1h-1.1zM285.9 113.1h1.1v1.1h-1.1zM298.6 118.3h1.1v1.1h-1.1zM294.2 117.3h1.1v1.1h-1.1zM295.8 113.8h1.1v1.1h-1.1zM291.7 114h1.1v1.1h-1.1zM289.2 106.8h1.1v1.1h-1.1zM297.2 109.5h1.1v1.1h-1.1zM288.4 111.1h1.1v1.1h-1.1zM297.3 111.5h1.1v1.1h-1.1zM285 108.1h1.1v1.1h-1.1zM288.6 109.3h1.1v1.1h-1.1zM286.1 109.6h1.1v1.1h-1.1zM299.3 115h1.1v1.1h-1.1zM284.6 113.2h1.1v1.1h-1.1zM287.6 111h1.1v1.1h-1.1zM296.2 111.2h1.1v1.1h-1.1zM294.1 112.8h1.1v1.1h-1.1zM188.7 21.9h1.1v1.1h-1.1zM194.5 25.1h1.1v1.1h-1.1zM174.9 23.5h1.1v1.1h-1.1zM207 29.5h1.1v1.1h-1.1zM210.9 29.2h1.1v1.1h-1.1zM202.8 27.3h1.1v1.1h-1.1zM204.4 27.9h1.1v1.1h-1.1zM202.9 29.2h1.1v1.1h-1.1zM225.3 40h1.1v1.1h-1.1zM200.7 37.2h1.1v1.1h-1.1zM180.3 23.5h1.1v1.1h-1.1zM184 31.1h1.1v1.1h-1.1zM207.5 25.4h1.1v1.1h-1.1zM212.3 27.1h1.1v1.1h-1.1zM208.3 26h1.1v1.1h-1.1zM209.2 23.1h1.1v1.1h-1.1zM200.5 17.4h1.1v1.1h-1.1zM178 8.9h1.1v1.1h-1.1zM188.5 29.4h1.1v1.1h-1.1zM173.7 37h1.1v1.1h-1.1zM192.8 20.9h1.1v1.1h-1.1zM179.7 31.8h1.1v1.1h-1.1zM199.3 24.9h1.1v1.1h-1.1zM195.7 30h1.1v1.1h-1.1zM171.8 21.6h1.1v1.1h-1.1zM207.8 26.1h1.1v1.1h-1.1zM208.2 27h1.1v1.1h-1.1zM179.3 9.5h1.1v1.1h-1.1zM199.9 29.5h1.1v1.1h-1.1zM207.6 26.8h1.1v1.1h-1.1zM194 8.7h1.1v1.1h-1.1zM209.4 32.9h1.1v1.1h-1.1zM200.5 27.6h1.1v1.1h-1.1zM212.3 29.4h1.1v1.1h-1.1zM200.4 30.6h1.1v1.1h-1.1zM195.7 24.6h1.1v1.1h-1.1zM204.8 19.5h1.1v1.1h-1.1zM208.4 24.4h1.1v1.1h-1.1zM201.3 24.5h1.1v1.1h-1.1zM191.9 45h1.1v1.1h-1.1zM201.3 136.7h1.1v1.1h-1.1zM185.5 135.9h1.1v1.1h-1.1zM186 127.5h1.1v1.1h-1.1zM191 128.5h1.1v1.1h-1.1zM192.7 130.4h1.1v1.1h-1.1zM184.2 134.6h1.1v1.1h-1.1zM182.1 129.4h1.1v1.1h-1.1zM201.9 125.5h1.1v1.1h-1.1zM196 125.9h1.1v1.1h-1.1zM178.3 133.5h1.1v1.1h-1.1zM183.2 124.7h1.1v1.1h-1.1zM190.3 117.7h1.1v1.1h-1.1zM192.5 131.9h1.1v1.1h-1.1zM186.5 127.5h1.1v1.1h-1.1zM177.9 128.5h1.1v1.1h-1.1zM190.3 134h1.1v1.1h-1.1zM192.9 128.2h1.1v1.1h-1.1zM188.8 121.3h1.1v1.1h-1.1zM185.4 118.1h1.1v1.1h-1.1zM192.7 127.6h1.1v1.1h-1.1zM188.4 122.1h1.1v1.1h-1.1zM181.2 129.3h1.1v1.1h-1.1zM189.4 121.5h1.1v1.1h-1.1zM180 126.1h1.1v1.1h-1.1zM195.3 120.5h1.1v1.1h-1.1zM192 126h1.1v1.1h-1.1zM182 125.6h1.1v1.1h-1.1zM190.2 130.8h1.1v1.1h-1.1zM197.3 134.5h1.1v1.1h-1.1zM174.2 126.9h1.1v1.1h-1.1zM187.8 123.6h1.1v1.1h-1.1zM200 137.6h1.1v1.1h-1.1zM178.2 129.7h1.1v1.1h-1.1zM187.7 130.9h1.1v1.1h-1.1zM179.1 130.9h1.1v1.1h-1.1zM188.3 135.1h1.1v1.1h-1.1zM172.4 132.9h1.1v1.1h-1.1zM177.7 131.2h1.1v1.1h-1.1zM185.1 131.7h1.1v1.1h-1.1zM189.7 123.6h1.1v1.1h-1.1zM191.4 124.8h1.1v1.1h-1.1zM191.7 127.3h1.1v1.1h-1.1zM196.6 128.3h1.1v1.1h-1.1zM193.6 128h1.1v1.1h-1.1zM193.8 129.4h1.1v1.1h-1.1zM182.1 128h1.1v1.1h-1.1zM187.7 125.7h1.1v1.1h-1.1zM210.6 119.8h1.1v1.1h-1.1zM204.3 132h1.1v1.1h-1.1zM194.5 130.8h1.1v1.1h-1.1zM193.9 123.5h1.1v1.1h-1.1zM195.6 130.4h1.1v1.1h-1.1zM186 129.8h1.1v1.1h-1.1zM202.2 128.2h1.1v1.1h-1.1zM186.2 118.7h1.1v1.1h-1.1zM188.2 121.9h1.1v1.1h-1.1zM203.7 124.9h1.1v1.1h-1.1zM174.5 135.9h1.1v1.1h-1.1zM191.3 123.6h1.1v1.1h-1.1zM177 126.1h1.1v1.1h-1.1zM184.3 122.3h1.1v1.1h-1.1zM188.2 125.4h1.1v1.1h-1.1zM186.4 129.6h1.1v1.1h-1.1zM190 117.5h1.1v1.1h-1.1zM183.5 113.7h1.1v1.1h-1.1zM188.1 131.2h1.1v1.1h-1.1zM180.6 128h1.1v1.1h-1.1zM186.1 124.9h1.1v1.1h-1.1zM179.2 132.7h1.1v1.1h-1.1zM193.3 132.7h1.1v1.1h-1.1zM179.9 117.4h1.1v1.1h-1.1zM193.6 127h1.1v1.1h-1.1zM185.9 133.4h1.1v1.1h-1.1zM186.7 124.5h1.1v1.1h-1.1zM196.9 126.3h1.1v1.1h-1.1zM189.5 132.6h1.1v1.1h-1.1zM175.7 126.5h1.1v1.1h-1.1zM192.2 121.9h1.1v1.1h-1.1zM168.8 124.4h1.1v1.1h-1.1zM190.6 121.2h1.1v1.1h-1.1zM186 130.6h1.1v1.1h-1.1zM179.1 119.3h1.1v1.1h-1.1zM189.3 132.9h1.1v1.1h-1.1zM186.7 119.7h1.1v1.1h-1.1zM202.7 128.1h1.1v1.1h-1.1zM185.8 120.5h1.1v1.1h-1.1zM202.2 126.3h1.1v1.1h-1.1zM198.4 133h1.1v1.1h-1.1zM184.6 133.5h1.1v1.1h-1.1zM183.1 134.4h1.1v1.1h-1.1zM197.9 127.4h1.1v1.1h-1.1zM187.8 128.4h1.1v1.1h-1.1zM189.9 129h1.1v1.1h-1.1zM187 130.9h1.1v1.1h-1.1zM180.4 125.9h1.1v1.1h-1.1zM186.2 133.4h1.1v1.1h-1.1zM182.1 129.5h1.1v1.1h-1.1zM178.2 133.6h1.1v1.1h-1.1zM186.8 130.3h1.1v1.1h-1.1zM202.9 118.6h1.1v1.1h-1.1zM194.5 114.5h1.1v1.1h-1.1zM196.3 109h1.1v1.1h-1.1zM191.1 117h1.1v1.1h-1.1zM197.1 117h1.1v1.1h-1.1zM197.8 125.4h1.1v1.1h-1.1zM203.9 109.2h1.1v1.1h-1.1zM191.3 127.8h1.1v1.1h-1.1zM218.2 118h1.1v1.1h-1.1zM198.1 126.1h1.1v1.1h-1.1zM206.4 110.9h1.1v1.1h-1.1zM205.1 120.2h1.1v1.1h-1.1zM183.7 126.3h1.1v1.1h-1.1zM197.3 118.5h1.1v1.1h-1.1zM207.7 107.4h1.1v1.1h-1.1zM184.3 115.4h1.1v1.1h-1.1zM203.5 121.5h1.1v1.1h-1.1zM193.3 107.9h1.1v1.1h-1.1zM196 107.6h1.1v1.1h-1.1zM200.2 119.4h1.1v1.1h-1.1zM187.6 111.1h1.1v1.1h-1.1zM200 122.5h1.1v1.1h-1.1zM195 109.5h1.1v1.1h-1.1zM194.3 104.8h1.1v1.1h-1.1zM203 112.3h1.1v1.1h-1.1zM219.9 128.2h1.1v1.1h-1.1zM200.9 111.7h1.1v1.1h-1.1zM202.2 117.7h1.1v1.1h-1.1zM198.5 119.5h1.1v1.1h-1.1zM194.5 111.1h1.1v1.1h-1.1zM200.4 125.4h1.1v1.1h-1.1zM207.9 119h1.1v1.1h-1.1zM200 120.8h1.1v1.1h-1.1zM204.2 105.9h1.1v1.1h-1.1zM197.5 105.5h1.1v1.1h-1.1zM213.9 98.4h1.1v1.1h-1.1zM188.9 116.4h1.1v1.1h-1.1zM202.3 116.1h1.1v1.1h-1.1zM202.1 122.8h1.1v1.1h-1.1zM200.4 128.1h1.1v1.1h-1.1zM192.1 116h1.1v1.1h-1.1zM192 115.8h1.1v1.1h-1.1zM197.4 120.9h1.1v1.1h-1.1zM199.4 128.5h1.1v1.1h-1.1zM191.5 112h1.1v1.1h-1.1zM192.4 122.1h1.1v1.1h-1.1zM202.2 116h1.1v1.1h-1.1zM205 115.4h1.1v1.1h-1.1zM195.4 123.5h1.1v1.1h-1.1zM194.6 112.2h1.1v1.1h-1.1zM194.4 110.2h1.1v1.1h-1.1zM213.7 122.4h1.1v1.1h-1.1zM201.7 117.6h1.1v1.1h-1.1zM198.4 115.9h1.1v1.1h-1.1zM204.8 116.8h1.1v1.1h-1.1zM212.6 121.2h1.1v1.1h-1.1zM205.8 115.2h1.1v1.1h-1.1zM190.2 123.1h1.1v1.1h-1.1zM198.3 120.6h1.1v1.1h-1.1zM196.4 128.1h1.1v1.1h-1.1zM196.7 126.6h1.1v1.1h-1.1zM191.5 123.8h1.1v1.1h-1.1zM196.4 116.3h1.1v1.1h-1.1zM192.3 118.6h1.1v1.1h-1.1zM200.8 113.6h1.1v1.1h-1.1zM199 137.7h1.1v1.1h-1.1zM190.3 116.2h1.1v1.1h-1.1zM188.5 121.6h1.1v1.1h-1.1zM195.9 127.3h1.1v1.1h-1.1zM202.7 108.2h1.1v1.1h-1.1zM201.7 112h1.1v1.1h-1.1zM198.4 115h1.1v1.1h-1.1zM178.9 110.8h1.1v1.1h-1.1zM195.8 108.9h1.1v1.1h-1.1zM194.3 114.1h1.1v1.1h-1.1zM196.7 126.8h1.1v1.1h-1.1zM191.4 122.8h1.1v1.1h-1.1zM196.2 118h1.1v1.1h-1.1zM194.8 118h1.1v1.1h-1.1zM215.1 106.1h1.1v1.1h-1.1zM203 122.6h1.1v1.1h-1.1zM197.6 120.8h1.1v1.1h-1.1zM198.5 110.2h1.1v1.1h-1.1zM198 119.2h1.1v1.1h-1.1zM199.9 116.4h1.1v1.1h-1.1zM196.3 114.1h1.1v1.1h-1.1zM198.7 110.9h1.1v1.1h-1.1zM204.9 113h1.1v1.1h-1.1zM203.8 111.2h1.1v1.1h-1.1zM200.6 121h1.1v1.1h-1.1zM206.8 120.3h1.1v1.1h-1.1zM200.1 120h1.1v1.1h-1.1zM192.9 116.5h1.1v1.1h-1.1zM188.2 114.9h1.1v1.1h-1.1zM194.6 132.1h1.1v1.1h-1.1zM198.4 104.7h1.1v1.1h-1.1zM201.2 126.2h1.1v1.1h-1.1zM205.2 120.3h1.1v1.1h-1.1zM195.3 118.3h1.1v1.1h-1.1zM193.9 114.2h1.1v1.1h-1.1zM203.4 116.3h1.1v1.1h-1.1zM205.8 109.5h1.1v1.1h-1.1zM195.9 108.1h1.1v1.1h-1.1zM200.8 117h1.1v1.1h-1.1zM207 106.2h1.1v1.1h-1.1zM200.7 123.7h1.1v1.1h-1.1zM198.4 125.6h1.1v1.1h-1.1zM186.3 93.7h1.1v1.1h-1.1zM206.7 106.9h1.1v1.1h-1.1zM202.6 119.7h1.1v1.1h-1.1z"/><path fill="#4f69c6" d="M195.1 107.5h1.1v1.1h-1.1zM197.4 112.7h1.1v1.1h-1.1zM192.1 89.9h1.1v1.1h-1.1zM182.6 87.8h1.1v1.1h-1.1zM196.7 111.4h1.1v1.1h-1.1zM185.8 83.3h1.1v1.1h-1.1zM199.5 111.8h1.1v1.1h-1.1zM197.4 103.8h1.1v1.1h-1.1zM194.5 111.9h1.1v1.1h-1.1zM190.1 102.2h1.1v1.1h-1.1zM189.9 75.8h1.1v1.1h-1.1zM193.2 105.5h1.1v1.1h-1.1zM187.1 95.8h1.1v1.1h-1.1zM184.8 80.4h1.1v1.1h-1.1zM189.2 75.7h1.1v1.1h-1.1zM183.9 84.5h1.1v1.1h-1.1zM183.5 77.7h1.1v1.1h-1.1zM185 78h1.1v1.1h-1.1zM198 110.6h1.1v1.1h-1.1zM197.8 116.2h1.1v1.1h-1.1zM195.8 119.1h1.1v1.1h-1.1zM191.1 98.2h1.1v1.1h-1.1zM190.8 98.5h1.1v1.1h-1.1zM185.6 74.1h1.1v1.1h-1.1zM186.6 76.9h1.1v1.1h-1.1zM191.7 108.8h1.1v1.1h-1.1zM187.2 99.5h1.1v1.1h-1.1zM190.3 98.7h1.1v1.1h-1.1zM194 107.2h1.1v1.1h-1.1zM194.1 110.3h1.1v1.1h-1.1zM195.3 104.6h1.1v1.1h-1.1zM186.1 71.6h1.1v1.1h-1.1zM187.8 98h1.1v1.1h-1.1zM199 109.9h1.1v1.1h-1.1zM198.4 109.2h1.1v1.1h-1.1zM193.8 117.4h1.1v1.1h-1.1zM192 96h1.1v1.1h-1.1zM190.8 96.4h1.1v1.1h-1.1zM185.4 72.4h1.1v1.1h-1.1zM186.1 96.8h1.1v1.1h-1.1zM188.6 98.9h1.1v1.1h-1.1zM193.3 115.9h1.1v1.1h-1.1zM193.5 114.2h1.1v1.1h-1.1zM188.8 73.8h1.1v1.1h-1.1zM186.3 78.1h1.1v1.1h-1.1zM185.5 90.4h1.1v1.1h-1.1zM199.6 106.8h1.1v1.1h-1.1zM192.3 78.4h1.1v1.1h-1.1zM192.1 108.9h1.1v1.1h-1.1zM194 99.2h1.1v1.1h-1.1zM195.7 113.1h1.1v1.1h-1.1zM188.1 87.8h1.1v1.1h-1.1zM185.3 91.4h1.1v1.1h-1.1zM186.8 74h1.1v1.1h-1.1zM189.9 96.3h1.1v1.1h-1.1zM190.4 109.4h1.1v1.1h-1.1zM192.1 95.6h1.1v1.1h-1.1zM193.8 95.7h1.1v1.1h-1.1zM192.5 116h1.1v1.1h-1.1zM198.4 106.5h1.1v1.1h-1.1zM192.4 85.8h1.1v1.1h-1.1zM198.9 115.5h1.1v1.1h-1.1zM191 106.7h1.1v1.1h-1.1zM186.6 86h1.1v1.1h-1.1zM186.5 81.5h1.1v1.1h-1.1zM189.6 104.6h1.1v1.1h-1.1zM192.3 95.3h1.1v1.1h-1.1zM191.8 100h1.1v1.1h-1.1zM188.7 77.1h1.1v1.1h-1.1zM193.3 108.1h1.1v1.1h-1.1zM194.8 112.5h1.1v1.1h-1.1zM192.3 90.9h1.1v1.1h-1.1zM187.7 86h1.1v1.1h-1.1zM195.1 118.3h1.1v1.1h-1.1zM194.8 118.4h1.1v1.1h-1.1zM187.7 77h1.1v1.1h-1.1zM190.2 97.4h1.1v1.1h-1.1zM190.4 92.1h1.1v1.1h-1.1zM192.7 84h1.1v1.1h-1.1zM187.6 96.8h1.1v1.1h-1.1zM189.1 104.3h1.1v1.1h-1.1zM191.3 88.4h1.1v1.1h-1.1zM189.2 85.9h1.1v1.1h-1.1zM194.3 112.8h1.1v1.1h-1.1zM190.8 103.2h1.1v1.1h-1.1zM188.2 85.9h1.1v1.1h-1.1zM187.5 78.6h1.1v1.1h-1.1zM188.6 89.9h1.1v1.1h-1.1zM199.3 115.1h1.1v1.1h-1.1zM193.8 111.3h1.1v1.1h-1.1zM188.3 81.2h1.1v1.1h-1.1zM186.5 101.4h1.1v1.1h-1.1zM182.3 71.9h1.1v1.1h-1.1zM194.5 115h1.1v1.1h-1.1zM196.8 116.1h1.1v1.1h-1.1zM185.9 81.9h1.1v1.1h-1.1zM190.9 87.4h1.1v1.1h-1.1zM185.1 86.2h1.1v1.1h-1.1zM188.3 80h1.1v1.1h-1.1zM192 104.2h1.1v1.1h-1.1zM191.3 88.9h1.1v1.1h-1.1zM188.2 71h1.1v1.1h-1.1zM183.6 82.4h1.1v1.1h-1.1zM190.6 103.5h1.1v1.1h-1.1zM193.1 104.8h1.1v1.1h-1.1zM183.9 72.2h1.1v1.1h-1.1zM191.2 97.7h1.1v1.1h-1.1zM191 102.1h1.1v1.1h-1.1zM190.8 102.1h1.1v1.1h-1.1zM187.3 103.5h1.1v1.1h-1.1zM194 108.6h1.1v1.1h-1.1zM188.1 87.4h1.1v1.1h-1.1zM194.3 112.1h1.1v1.1h-1.1zM186.4 93.2h1.1v1.1h-1.1zM189.4 73.6h1.1v1.1h-1.1zM193.7 102.3h1.1v1.1h-1.1zM190.4 87.5h1.1v1.1h-1.1zM189 102.4h1.1v1.1h-1.1zM192.6 88.5h1.1v1.1h-1.1zM187.6 95.8h1.1v1.1h-1.1zM194.4 97.3h1.1v1.1h-1.1zM192.2 105.4h1.1v1.1h-1.1zM186 85.8h1.1v1.1h-1.1zM190.4 104h1.1v1.1h-1.1zM189.3 82.2h1.1v1.1h-1.1zM193.7 109.2h1.1v1.1h-1.1zM189 82.1h1.1v1.1h-1.1zM186.8 74.5h1.1v1.1h-1.1zM189.6 72.5h1.1v1.1h-1.1zM186.3 101.1h1.1v1.1h-1.1zM191.3 86.4h1.1v1.1h-1.1zM191.7 98.8h1.1v1.1h-1.1zM191.5 85.7h1.1v1.1h-1.1zM190.1 92.3h1.1v1.1h-1.1zM197.6 112.1h1.1v1.1h-1.1zM193.2 116.2h1.1v1.1h-1.1zM188.1 72.9h1.1v1.1h-1.1zM196.8 116.4h1.1v1.1h-1.1zM187.8 96.1h1.1v1.1h-1.1zM194 106.5h1.1v1.1h-1.1zM193.5 116.5h1.1v1.1h-1.1zM187.1 80.3h1.1v1.1h-1.1zM190.9 89.3h1.1v1.1h-1.1zM196.6 113.3h1.1v1.1h-1.1zM189.3 96.5h1.1v1.1h-1.1zM193.6 114.8h1.1v1.1h-1.1zM192.7 112h1.1v1.1h-1.1zM193.9 119.9h1.1v1.1h-1.1zM190.2 103.6h1.1v1.1h-1.1zM185.4 74.5h1.1v1.1h-1.1zM195.9 114.3h1.1v1.1h-1.1zM187.7 80h1.1v1.1h-1.1zM189.9 78.3h1.1v1.1h-1.1zM190.3 88.7h1.1v1.1h-1.1zM187.8 81.1h1.1v1.1h-1.1zM188.2 77.7h1.1v1.1h-1.1zM196 101.1h1.1v1.1h-1.1zM198.2 114h1.1v1.1h-1.1zM184.7 84.4h1.1v1.1h-1.1zM192.1 88.6h1.1v1.1h-1.1zM188.7 102.7h1.1v1.1h-1.1zM187.7 85.8h1.1v1.1h-1.1zM188.8 95.3h1.1v1.1h-1.1zM194.1 115.4h1.1v1.1h-1.1zM188.2 76.6h1.1v1.1h-1.1zM192.5 96.6h1.1v1.1h-1.1zM189.1 81.2h1.1v1.1h-1.1zM191.9 108.9h1.1v1.1h-1.1zM190.4 80.8h1.1v1.1h-1.1zM193.9 110.2h1.1v1.1h-1.1zM188.7 90.8h1.1v1.1h-1.1zM194.6 116.2h1.1v1.1h-1.1zM188 88.9h1.1v1.1h-1.1zM193.4 94.4h1.1v1.1h-1.1zM182.8 76.9h1.1v1.1h-1.1zM189.7 84.3h1.1v1.1h-1.1zM187.8 91.6h1.1v1.1h-1.1zM195.5 113.9h1.1v1.1h-1.1zM191.5 99.4h1.1v1.1h-1.1zM195.3 109.7h1.1v1.1h-1.1zM191.3 113.2h1.1v1.1h-1.1zM187.8 75.3h1.1v1.1h-1.1zM191.5 85.9h1.1v1.1h-1.1zM197.4 110.2h1.1v1.1h-1.1zM194.6 107.1h1.1v1.1h-1.1zM188.4 98.9h1.1v1.1h-1.1zM190.2 90.5h1.1v1.1h-1.1zM190.1 95.3h1.1v1.1h-1.1zM183.8 72.1h1.1v1.1h-1.1zM185.3 77.6h1.1v1.1h-1.1zM186.8 88.8h1.1v1.1h-1.1zM185.8 78.1h1.1v1.1h-1.1zM187.8 82.3h1.1v1.1h-1.1zM193.4 110.1h1.1v1.1h-1.1zM192.2 108.5h1.1v1.1h-1.1zM192.3 106.6h1.1v1.1h-1.1zM190.7 98.6h1.1v1.1h-1.1zM196.8 115h1.1v1.1h-1.1zM190.1 81.9h1.1v1.1h-1.1zM192 101h1.1v1.1h-1.1zM191.3 91.1h1.1v1.1h-1.1zM199.3 115.3h1.1v1.1h-1.1zM186.6 88.1h1.1v1.1h-1.1zM190.4 82.3h1.1v1.1h-1.1zM191.4 108.8h1.1v1.1h-1.1zM192.7 110.6h1.1v1.1h-1.1zM192.7 105.8h1.1v1.1h-1.1zM190 110h1.1v1.1h-1.1zM191 79.9h1.1v1.1h-1.1zM191.1 100.4h1.1v1.1h-1.1zM187.4 97.8h1.1v1.1h-1.1zM194.7 115h1.1v1.1h-1.1zM191.1 90h1.1v1.1h-1.1zM191.1 82.6h1.1v1.1h-1.1zM188.3 86h1.1v1.1h-1.1zM193.8 95.2h1.1v1.1h-1.1zM194.7 118.8h1.1v1.1h-1.1zM191 105.3h1.1v1.1h-1.1zM197.8 104.3h1.1v1.1h-1.1zM191.2 93.5h1.1v1.1h-1.1zM186.1 91h1.1v1.1h-1.1zM194.2 116.4h1.1v1.1h-1.1zM192.2 92.5h1.1v1.1h-1.1zM190.2 76.7h1.1v1.1h-1.1zM196.4 107.9h1.1v1.1h-1.1zM189.7 80.6h1.1v1.1h-1.1zM188.1 90.2h1.1v1.1h-1.1zM190.8 100.8h1.1v1.1h-1.1zM191.1 112.2h1.1v1.1h-1.1zM183.9 71.7h1.1v1.1h-1.1zM197.6 101.5h1.1v1.1h-1.1zM187.8 77.6h1.1v1.1h-1.1zM192.7 101.4h1.1v1.1h-1.1zM193 100h1.1v1.1h-1.1zM193.3 95.5h1.1v1.1h-1.1zM196.7 90.3h1.1v1.1h-1.1zM186.3 98.2h1.1v1.1h-1.1zM198.3 116.4h1.1v1.1h-1.1zM186.3 88.7h1.1v1.1h-1.1zM191 93.7h1.1v1.1h-1.1zM186.2 78.4h1.1v1.1h-1.1zM187.8 90.2h1.1v1.1h-1.1zM183.6 74h1.1v1.1h-1.1zM197 114.3h1.1v1.1h-1.1zM188.3 87.9h1.1v1.1h-1.1zM196.9 115.8h1.1v1.1h-1.1zM185.8 77.8h1.1v1.1h-1.1zM189.1 104h1.1v1.1h-1.1zM193.4 99.9h1.1v1.1h-1.1zM190 103.7h1.1v1.1h-1.1zM194.6 109.2h1.1v1.1h-1.1zM190.7 74.1h1.1v1.1h-1.1zM199.1 104.9h1.1v1.1h-1.1zM188.7 72h1.1v1.1h-1.1zM187.4 85.9h1.1v1.1h-1.1zM194.2 112h1.1v1.1h-1.1zM192.8 98.4h1.1v1.1h-1.1zM196.7 115.5h1.1v1.1h-1.1zM194.6 112.6h1.1v1.1h-1.1zM187.6 92h1.1v1.1h-1.1zM190.7 84.4h1.1v1.1h-1.1zM188 80.9h1.1v1.1h-1.1zM188 72.9h1.1v1.1h-1.1zM195.6 104.8h1.1v1.1h-1.1zM199 108.4h1.1v1.1h-1.1zM189.5 72.9h1.1v1.1h-1.1zM189.4 95.1h1.1v1.1h-1.1zM194.3 111.1h1.1v1.1h-1.1zM192.9 101.8h1.1v1.1h-1.1zM189.4 91.3h1.1v1.1h-1.1zM199.2 115.7h1.1v1.1h-1.1zM189.3 91.7h1.1v1.1h-1.1zM185 86.8h1.1v1.1h-1.1zM188 95.6h1.1v1.1h-1.1zM186.1 88.3h1.1v1.1h-1.1zM188.3 90.3h1.1v1.1h-1.1zM190.3 95.2h1.1v1.1h-1.1zM189.8 74.4h1.1v1.1h-1.1zM192.8 100h1.1v1.1h-1.1zM186.7 100.2h1.1v1.1h-1.1zM199.2 103.4h1.1v1.1h-1.1zM186.6 83.1h1.1v1.1h-1.1zM187.3 72.9h1.1v1.1h-1.1zM198.1 103.6h1.1v1.1h-1.1zM188 89.2h1.1v1.1h-1.1zM193.9 99.5h1.1v1.1h-1.1zM189.9 84h1.1v1.1h-1.1zM191.3 87.6h1.1v1.1h-1.1zM187.3 84h1.1v1.1h-1.1zM186.2 95.8h1.1v1.1h-1.1zM193.1 102.2h1.1v1.1h-1.1zM192.6 81.8h1.1v1.1h-1.1zM194.7 85.5h1.1v1.1h-1.1zM186.7 94.2h1.1v1.1h-1.1zM193.2 104.5h1.1v1.1h-1.1zM186.8 89.5h1.1v1.1h-1.1zM186.3 74.1h1.1v1.1h-1.1zM193.2 95.7h1.1v1.1h-1.1zM195.1 92.1h1.1v1.1h-1.1zM200.6 117.7h1.1v1.1h-1.1zM192.8 98.9h1.1v1.1h-1.1zM184.9 73.5h1.1v1.1h-1.1zM190.4 102.5h1.1v1.1h-1.1zM187.2 75h1.1v1.1h-1.1zM194.8 88h1.1v1.1h-1.1zM186.8 72.7h1.1v1.1h-1.1zM191.7 100.1h1.1v1.1h-1.1zM188.2 79.3h1.1v1.1h-1.1zM199.7 115.3h1.1v1.1h-1.1zM184.8 80.9h1.1v1.1h-1.1zM199.7 116.5h1.1v1.1h-1.1zM194.6 115.3h1.1v1.1h-1.1zM192 95.9h1.1v1.1h-1.1zM187.2 94.1h1.1v1.1h-1.1zM191.1 89.6h1.1v1.1h-1.1zM195 106.7h1.1v1.1h-1.1zM185.6 80.5h1.1v1.1h-1.1zM191.3 87.8h1.1v1.1h-1.1zM185.3 74.1h1.1v1.1h-1.1zM190.7 91.6h1.1v1.1h-1.1zM188 80.3h1.1v1.1h-1.1zM193.4 116h1.1v1.1h-1.1zM187.9 93.3h1.1v1.1h-1.1zM189.2 81.7h1.1v1.1h-1.1zM187.3 84.5h1.1v1.1h-1.1zM186.5 79.9h1.1v1.1h-1.1zM185.3 75.6h1.1v1.1h-1.1zM188.1 73.4h1.1v1.1h-1.1zM188.7 107h1.1v1.1h-1.1zM188.8 75.9h1.1v1.1h-1.1zM197.6 110.7h1.1v1.1h-1.1zM197.2 117.3h1.1v1.1h-1.1zM195.4 115.1h1.1v1.1h-1.1zM182 80.4h1.1v1.1h-1.1zM195.9 108.7h1.1v1.1h-1.1zM191.6 100h1.1v1.1h-1.1zM197.6 116h1.1v1.1h-1.1zM188.4 85.3h1.1v1.1h-1.1zM192 100.3h1.1v1.1h-1.1zM188.6 101.5h1.1v1.1h-1.1zM189.8 80h1.1v1.1h-1.1zM192.9 99.8h1.1v1.1h-1.1zM191.8 106.5h1.1v1.1h-1.1zM194.1 109.9h1.1v1.1h-1.1zM192.4 113h1.1v1.1h-1.1zM187.9 72.1h1.1v1.1h-1.1zM191.3 108.3h1.1v1.1h-1.1zM190 86.6h1.1v1.1h-1.1zM195.3 107.4h1.1v1.1h-1.1zM185.6 78.7h1.1v1.1h-1.1zM188.6 89.4h1.1v1.1h-1.1zM189 90.9h1.1v1.1h-1.1zM195 103.9h1.1v1.1h-1.1zM192.9 100.6h1.1v1.1h-1.1zM193.6 110.5h1.1v1.1h-1.1zM188 71.1h1.1v1.1h-1.1zM190.9 84.5h1.1v1.1h-1.1zM194.6 106.1h1.1v1.1h-1.1zM188.3 82.7h1.1v1.1h-1.1zM197.5 110.8h1.1v1.1h-1.1zM186.6 86.4h1.1v1.1h-1.1zM195.2 102.4h1.1v1.1h-1.1zM187.5 73.6h1.1v1.1h-1.1zM195.4 115.2h1.1v1.1h-1.1zM188.7 76.3h1.1v1.1h-1.1zM189.8 91h1.1v1.1h-1.1zM193.5 89.1h1.1v1.1h-1.1zM189.9 85.6h1.1v1.1h-1.1zM189.5 97.3h1.1v1.1h-1.1zM190.2 96.6h1.1v1.1h-1.1zM194.7 109.1h1.1v1.1h-1.1zM195.7 118h1.1v1.1h-1.1zM194.9 109.4h1.1v1.1h-1.1zM193.9 105.7h1.1v1.1h-1.1zM186.2 80.9h1.1v1.1h-1.1zM189 81.2h1.1v1.1h-1.1zM188.2 71.4h1.1v1.1h-1.1zM185.3 75.8h1.1v1.1h-1.1zM189 110.3h1.1v1.1h-1.1zM191.5 73.1h1.1v1.1h-1.1zM185.3 84.6h1.1v1.1h-1.1zM185.5 90.4h1.1v1.1h-1.1zM189.2 78.4h1.1v1.1h-1.1zM192 87.1h1.1v1.1h-1.1zM186.5 83.5h1.1v1.1h-1.1zM192.6 90.3h1.1v1.1h-1.1zM191.3 79.2h1.1v1.1h-1.1zM190 71.8h1.1v1.1h-1.1zM196.1 114.6h1.1v1.1h-1.1zM191.7 107.4h1.1v1.1h-1.1zM195.2 107.7h1.1v1.1h-1.1zM186.9 83.6h1.1v1.1h-1.1zM196 116.2h1.1v1.1h-1.1zM195.8 110.8h1.1v1.1h-1.1zM192.3 90.3h1.1v1.1h-1.1zM192.4 84.5h1.1v1.1h-1.1zM197.2 108.3h1.1v1.1h-1.1zM184.5 72.3h1.1v1.1h-1.1zM192.2 98.6h1.1v1.1h-1.1zM195.2 112.7h1.1v1.1h-1.1zM189.7 116.8h1.1v1.1h-1.1zM193 116.4h1.1v1.1h-1.1zM189.1 92h1.1v1.1h-1.1zM185.3 72h1.1v1.1h-1.1zM189.5 87.9h1.1v1.1h-1.1zM188.1 84.2h1.1v1.1h-1.1zM194.8 98.4h1.1v1.1h-1.1zM195.9 105.2h1.1v1.1h-1.1zM198.6 117.5h1.1v1.1h-1.1zM183.5 87.3h1.1v1.1h-1.1zM192 88.1h1.1v1.1h-1.1zM189.9 74.8h1.1v1.1h-1.1zM191.6 112.1h1.1v1.1h-1.1zM188.3 95.7h1.1v1.1h-1.1zM193 81.7h1.1v1.1h-1.1zM190.7 95.4h1.1v1.1h-1.1zM187.2 95.2h1.1v1.1h-1.1zM194.1 110.5h1.1v1.1h-1.1zM185.6 82.6h1.1v1.1h-1.1zM193.2 95.1h1.1v1.1h-1.1zM188.9 92.8h1.1v1.1h-1.1zM190.3 75.4h1.1v1.1h-1.1zM191.7 77.1h1.1v1.1h-1.1zM188.8 82.6h1.1v1.1h-1.1zM188.5 92.4h1.1v1.1h-1.1zM191.1 98h1.1v1.1h-1.1zM194.6 106.6h1.1v1.1h-1.1zM198.7 113.8h1.1v1.1h-1.1zM187.9 75.3h1.1v1.1h-1.1zM195.2 118.2h1.1v1.1h-1.1zM203.6 88.1h1.1v1.1h-1.1zM198.9 74.7h1.1v1.1h-1.1zM205.5 91.1h1.1v1.1h-1.1zM199.4 72.4h1.1v1.1h-1.1zM198.8 79.8h1.1v1.1h-1.1zM205.3 84.5h1.1v1.1h-1.1zM201.9 76.5h1.1v1.1h-1.1zM192.7 80.8h1.1v1.1h-1.1zM200.7 79.9h1.1v1.1h-1.1zM208.1 89.6h1.1v1.1h-1.1zM200.6 80.9h1.1v1.1h-1.1zM193.5 73.3h1.1v1.1h-1.1zM198.4 78.7h1.1v1.1h-1.1zM205.3 82h1.1v1.1h-1.1zM204.1 81.3h1.1v1.1h-1.1zM204.5 93.6h1.1v1.1h-1.1zM200.5 82.2h1.1v1.1h-1.1zM204.1 88.7h1.1v1.1h-1.1zM204.3 87.3h1.1v1.1h-1.1zM199.8 81.3h1.1v1.1h-1.1zM202.8 78.4h1.1v1.1h-1.1zM201.6 80.2h1.1v1.1h-1.1zM194.6 73.7h1.1v1.1h-1.1zM193.8 73.1h1.1v1.1h-1.1zM197 72.3h1.1v1.1h-1.1zM196.4 73.1h1.1v1.1h-1.1zM196.3 71.8h1.1v1.1h-1.1zM199.8 79.2h1.1v1.1h-1.1zM195.7 74h1.1v1.1h-1.1zM205.3 93.7h1.1v1.1h-1.1zM203 77.9h1.1v1.1h-1.1zM197.5 68.9h1.1v1.1h-1.1zM200.2 86.7h1.1v1.1h-1.1zM202.7 87.2h1.1v1.1h-1.1zM210.4 89.5h1.1v1.1h-1.1zM198.3 75.5h1.1v1.1h-1.1zM198.6 77.5h1.1v1.1h-1.1zM202.9 88.1h1.1v1.1h-1.1zM200.9 85.4h1.1v1.1h-1.1zM202.1 84.7h1.1v1.1h-1.1zM208.3 90.5h1.1v1.1h-1.1zM206 93.9h1.1v1.1h-1.1zM196.2 69.6h1.1v1.1h-1.1zM198.1 79.8h1.1v1.1h-1.1zM203.8 93.6h1.1v1.1h-1.1zM194.8 70.6h1.1v1.1h-1.1zM200.6 77.2h1.1v1.1h-1.1zM206.7 86.2h1.1v1.1h-1.1zM194.9 72.2h1.1v1.1h-1.1zM198.5 85.5h1.1v1.1h-1.1zM204.6 92.3h1.1v1.1h-1.1zM200.7 82.8h1.1v1.1h-1.1zM190.7 72.3h1.1v1.1h-1.1zM193.2 74.2h1.1v1.1h-1.1zM198.6 80.2h1.1v1.1h-1.1zM195.5 70.1h1.1v1.1h-1.1zM202.4 85.6h1.1v1.1h-1.1zM200.5 75.1h1.1v1.1h-1.1zM197.9 78.6h1.1v1.1h-1.1zM203.8 88.6h1.1v1.1h-1.1zM205.4 86.1h1.1v1.1h-1.1zM205.8 87.8h1.1v1.1h-1.1zM197.6 74.2h1.1v1.1h-1.1zM200.9 77.1h1.1v1.1h-1.1zM201.2 85.5h1.1v1.1h-1.1zM201.1 81.7h1.1v1.1h-1.1zM202.3 90.3h1.1v1.1h-1.1zM198.2 80.5h1.1v1.1h-1.1zM204.6 92.1h1.1v1.1h-1.1zM198.8 74.6h1.1v1.1h-1.1zM199.9 86.7h1.1v1.1h-1.1zM205.6 88h1.1v1.1h-1.1zM207.6 92.6h1.1v1.1h-1.1zM199.9 78.6h1.1v1.1h-1.1zM206 90.4h1.1v1.1h-1.1zM202 84.1h1.1v1.1h-1.1zM203.5 84.6h1.1v1.1h-1.1zM195 77.5h1.1v1.1h-1.1zM208.7 88.4h1.1v1.1h-1.1zM200.6 69.2h1.1v1.1h-1.1zM205.1 94.3h1.1v1.1h-1.1zM202.1 83h1.1v1.1h-1.1zM199.8 84.6h1.1v1.1h-1.1zM196.4 74.4h1.1v1.1h-1.1zM200 87.3h1.1v1.1h-1.1zM197.8 73.2h1.1v1.1h-1.1zM206.8 88.3h1.1v1.1h-1.1zM200.9 89.4h1.1v1.1h-1.1zM196.7 74.1h1.1v1.1h-1.1zM201.1 90.5h1.1v1.1h-1.1zM200.3 85.9h1.1v1.1h-1.1zM198.7 76.9h1.1v1.1h-1.1zM201.1 86.4h1.1v1.1h-1.1zM203.9 85.8h1.1v1.1h-1.1zM200.6 81.8h1.1v1.1h-1.1zM204.2 85.6h1.1v1.1h-1.1zM204 88.7h1.1v1.1h-1.1zM204.8 91.4h1.1v1.1h-1.1zM203 90.6h1.1v1.1h-1.1zM198.7 71.3h1.1v1.1h-1.1zM203.5 91.2h1.1v1.1h-1.1zM207.8 91.3h1.1v1.1h-1.1zM200.3 81.5h1.1v1.1h-1.1zM205.6 91.3h1.1v1.1h-1.1zM194.9 76.6h1.1v1.1h-1.1zM196.9 70.2h1.1v1.1h-1.1zM199.4 80.9h1.1v1.1h-1.1zM198.4 71.8h1.1v1.1h-1.1zM196.4 73.1h1.1v1.1h-1.1zM198.8 81.1h1.1v1.1h-1.1zM208.7 91.4h1.1v1.1h-1.1zM204.4 80.5h1.1v1.1h-1.1zM207.6 92.5h1.1v1.1h-1.1zM198.4 83.2h1.1v1.1h-1.1zM201.5 80.3h1.1v1.1h-1.1zM195.3 70.5h1.1v1.1h-1.1zM196.9 71.5h1.1v1.1h-1.1zM204.1 91.2h1.1v1.1h-1.1zM203 86.1h1.1v1.1h-1.1zM203.7 82.2h1.1v1.1h-1.1zM208.8 88.8h1.1v1.1h-1.1zM201.5 85.8h1.1v1.1h-1.1zM200.5 75.5h1.1v1.1h-1.1zM204.2 90.9h1.1v1.1h-1.1zM199.5 89.7h1.1v1.1h-1.1zM197.4 71.1h1.1v1.1h-1.1zM208.1 87.4h1.1v1.1h-1.1zM197.5 79.5h1.1v1.1h-1.1zM204.2 90.3h1.1v1.1h-1.1zM201.8 91.3h1.1v1.1h-1.1zM208.2 89.6h1.1v1.1h-1.1zM196.8 72.4h1.1v1.1h-1.1zM204 87h1.1v1.1h-1.1zM199.4 77h1.1v1.1h-1.1zM203.5 91.2h1.1v1.1h-1.1zM195.9 72.9h1.1v1.1h-1.1zM207.8 88.9h1.1v1.1h-1.1zM202.9 95.1h1.1v1.1h-1.1zM202.8 81.2h1.1v1.1h-1.1zM202.4 82.4h1.1v1.1h-1.1zM202.8 84h1.1v1.1h-1.1zM206 90.8h1.1v1.1h-1.1zM199 70.6h1.1v1.1h-1.1zM204 90.6h1.1v1.1h-1.1zM196.9 79.3h1.1v1.1h-1.1zM202.2 78.3h1.1v1.1h-1.1zM207.3 89.2h1.1v1.1h-1.1zM194.2 74h1.1v1.1h-1.1zM196.7 73.3h1.1v1.1h-1.1zM202.4 86.3h1.1v1.1h-1.1zM207.8 84.4h1.1v1.1h-1.1zM197.1 75.6h1.1v1.1h-1.1zM204.3 85.5h1.1v1.1h-1.1zM197.2 79.4h1.1v1.1h-1.1zM195.6 70.5h1.1v1.1h-1.1zM197.8 76.3h1.1v1.1h-1.1zM194.2 75.1h1.1v1.1h-1.1zM201.8 79.8h1.1v1.1h-1.1zM198.5 81.5h1.1v1.1h-1.1zM198.9 79.3h1.1v1.1h-1.1zM205.5 91.4h1.1v1.1h-1.1zM201.3 78.2h1.1v1.1h-1.1zM197 74.6h1.1v1.1h-1.1zM207.3 91.5h1.1v1.1h-1.1zM200 86.2h1.1v1.1h-1.1zM206.4 92.2h1.1v1.1h-1.1zM201.7 79.9h1.1v1.1h-1.1zM203 83.8h1.1v1.1h-1.1zM197.3 78.5h1.1v1.1h-1.1zM207.6 91.8h1.1v1.1h-1.1zM256.6 50.8h1.1v1.1h-1.1zM259.7 50.5h1.1v1.1h-1.1zM261.5 58.4h1.1v1.1h-1.1zM248.7 54.1h1.1v1.1h-1.1zM255.1 45.5h1.1v1.1h-1.1zM252.3 56.5h1.1v1.1h-1.1zM264.1 57.2h1.1v1.1h-1.1zM256.6 48.8h1.1v1.1h-1.1zM259.7 51h1.1v1.1h-1.1zM265.9 53.3h1.1v1.1h-1.1zM255.4 51.8h1.1v1.1h-1.1zM257.6 53.6h1.1v1.1h-1.1zM259.3 56.2h1.1v1.1h-1.1zM255.8 50.5h1.1v1.1h-1.1zM263.6 63.4h1.1v1.1h-1.1zM261.4 49.4h1.1v1.1h-1.1zM262.3 50.3h1.1v1.1h-1.1zM257.5 62.8h1.1v1.1h-1.1zM255.5 64.9h1.1v1.1h-1.1zM255.4 53.2h1.1v1.1h-1.1zM255.3 52.1h1.1v1.1h-1.1zM248.8 47.6h1.1v1.1h-1.1zM259.1 58.7h1.1v1.1h-1.1zM261.4 53.9h1.1v1.1h-1.1zM257.2 48.8h1.1v1.1h-1.1zM254.7 55h1.1v1.1h-1.1zM257.4 59.9h1.1v1.1h-1.1zM258.3 56.4h1.1v1.1h-1.1zM258.9 64h1.1v1.1h-1.1zM266.4 58.8h1.1v1.1h-1.1zM252.8 55.2h1.1v1.1h-1.1zM259.1 52.8h1.1v1.1h-1.1zM260.7 55.8h1.1v1.1h-1.1zM257.6 59.1h1.1v1.1h-1.1zM256 57.3h1.1v1.1h-1.1zM252 58.3h1.1v1.1h-1.1zM254.2 54.1h1.1v1.1h-1.1zM260.8 56.8h1.1v1.1h-1.1zM264.6 59.1h1.1v1.1h-1.1zM253.9 52.2h1.1v1.1h-1.1zM259.6 46.5h1.1v1.1h-1.1zM259.8 61.6h1.1v1.1h-1.1zM262.3 55.9h1.1v1.1h-1.1zM258.4 50.8h1.1v1.1h-1.1zM259.4 54.2h1.1v1.1h-1.1zM261.7 51.8h1.1v1.1h-1.1zM251.3 44.5h1.1v1.1h-1.1zM257.4 52.1h1.1v1.1h-1.1zM248.2 45.9h1.1v1.1h-1.1zM247.2 54h1.1v1.1h-1.1zM253 52.5h1.1v1.1h-1.1zM249.4 58.7h1.1v1.1h-1.1zM259.8 52.4h1.1v1.1h-1.1zM262.2 54.9h1.1v1.1h-1.1zM255.6 51.5h1.1v1.1h-1.1zM256.5 51.1h1.1v1.1h-1.1zM256 46h1.1v1.1h-1.1zM255.9 58h1.1v1.1h-1.1zM257.9 53.9h1.1v1.1h-1.1zM259 50.1h1.1v1.1h-1.1zM254.8 54h1.1v1.1h-1.1zM253.2 50.9h1.1v1.1h-1.1zM254.6 49.4h1.1v1.1h-1.1zM261.2 54.2h1.1v1.1h-1.1zM255.1 59.1h1.1v1.1h-1.1zM264.5 51.7h1.1v1.1h-1.1zM256 45.9h1.1v1.1h-1.1zM264.1 49.9h1.1v1.1h-1.1zM251.2 62h1.1v1.1h-1.1zM253.7 48.9h1.1v1.1h-1.1zM259.6 58.9h1.1v1.1h-1.1zM259.6 51.8h1.1v1.1h-1.1zM256.4 56.7h1.1v1.1h-1.1zM267.5 52.5h1.1v1.1h-1.1zM257.5 45.1h1.1v1.1h-1.1zM258.6 50.9h1.1v1.1h-1.1zM254.3 63.6h1.1v1.1h-1.1zM265.5 52.3h1.1v1.1h-1.1zM261.5 55.8h1.1v1.1h-1.1zM259.3 51.3h1.1v1.1h-1.1zM248.9 52.3h1.1v1.1h-1.1zM259 54.6h1.1v1.1h-1.1zM254.8 55.4h1.1v1.1h-1.1zM259.2 64.1h1.1v1.1h-1.1zM261.8 52.9h1.1v1.1h-1.1zM253.4 52.1h1.1v1.1h-1.1zM258.3 49.7h1.1v1.1h-1.1zM261.6 46.4h1.1v1.1h-1.1zM258 45h1.1v1.1h-1.1zM255.5 56.3h1.1v1.1h-1.1zM251.8 43.7h1.1v1.1h-1.1zM253.8 60h1.1v1.1h-1.1zM250.8 57.3h1.1v1.1h-1.1zM262.1 51.5h1.1v1.1h-1.1zM257.7 47.2h1.1v1.1h-1.1zM251.1 53.2h1.1v1.1h-1.1zM257.1 53.1h1.1v1.1h-1.1zM250.7 58.6h1.1v1.1h-1.1zM240.7 49.3h1.1v1.1h-1.1zM263.2 51.1h1.1v1.1h-1.1zM263 52.7h1.1v1.1h-1.1zM249.8 51.6h1.1v1.1h-1.1zM253.6 49.9h1.1v1.1h-1.1zM258.2 44.4h1.1v1.1h-1.1zM255.2 44.8h1.1v1.1h-1.1zM252.9 49.6h1.1v1.1h-1.1zM254.6 51.9h1.1v1.1h-1.1zM256 58h1.1v1.1h-1.1zM254.4 64.6h1.1v1.1h-1.1zM258.2 61.6h1.1v1.1h-1.1zM256 55h1.1v1.1h-1.1zM253.3 62.4h1.1v1.1h-1.1zM257.3 52.4h1.1v1.1h-1.1zM248.8 50.4h1.1v1.1h-1.1zM264.4 64.6h1.1v1.1h-1.1zM248.4 47.7h1.1v1.1h-1.1zM256.7 50.9h1.1v1.1h-1.1zM258.9 51.7h1.1v1.1h-1.1zM259.2 60.3h1.1v1.1h-1.1zM258.5 50h1.1v1.1h-1.1zM263.5 56.9h1.1v1.1h-1.1zM251.5 51h1.1v1.1h-1.1zM256.8 46.9h1.1v1.1h-1.1zM257.9 54.2h1.1v1.1h-1.1zM254.7 53.9h1.1v1.1h-1.1zM254.2 47.2h1.1v1.1h-1.1zM263.6 48.7h1.1v1.1h-1.1zM253.6 49.1h1.1v1.1h-1.1zM254.7 57.8h1.1v1.1h-1.1zM255.8 55.3h1.1v1.1h-1.1zM256.1 54.2h1.1v1.1h-1.1zM257.9 55.5h1.1v1.1h-1.1zM256.1 50.6h1.1v1.1h-1.1zM259 55.4h1.1v1.1h-1.1zM257.8 50h1.1v1.1h-1.1zM259.5 46.4h1.1v1.1h-1.1zM264 49.5h1.1v1.1h-1.1zM252.9 54.1h1.1v1.1h-1.1zM265.4 53.5h1.1v1.1h-1.1zM254.9 58.3h1.1v1.1h-1.1zM260.5 44.6h1.1v1.1h-1.1zM257.9 51.9h1.1v1.1h-1.1zM255.6 55h1.1v1.1h-1.1zM247.3 48.2h1.1v1.1h-1.1zM265.2 54.3h1.1v1.1h-1.1zM253.3 51h1.1v1.1h-1.1zM253.2 47.4h1.1v1.1h-1.1zM262.4 58.6h1.1v1.1h-1.1zM257.5 46.1h1.1v1.1h-1.1zM266.6 58h1.1v1.1h-1.1zM265.5 51h1.1v1.1h-1.1zM260.7 48.3h1.1v1.1h-1.1zM258.4 48.6h1.1v1.1h-1.1zM260.9 49.3h1.1v1.1h-1.1zM250.6 48.8h1.1v1.1h-1.1zM258 54.4h1.1v1.1h-1.1zM257.9 43.7h1.1v1.1h-1.1zM254.8 59.2h1.1v1.1h-1.1zM258.4 57.2h1.1v1.1h-1.1zM249.8 60h1.1v1.1h-1.1zM261.6 48.1h1.1v1.1h-1.1zM263.5 41.5h1.1v1.1h-1.1zM250.7 49.9h1.1v1.1h-1.1zM257.8 52.2h1.1v1.1h-1.1zM264.8 54.6h1.1v1.1h-1.1zM259.2 50.4h1.1v1.1h-1.1zM252 52.6h1.1v1.1h-1.1zM252.2 53.8h1.1v1.1h-1.1zM261.4 45.3h1.1v1.1h-1.1zM266.2 62.1h1.1v1.1h-1.1zM251.7 47.4h1.1v1.1h-1.1zM257.3 54.4h1.1v1.1h-1.1zM253.2 58.4h1.1v1.1h-1.1zM255.7 49.1h1.1v1.1h-1.1zM258.6 53.1h1.1v1.1h-1.1zM256.9 61.2h1.1v1.1h-1.1zM253.7 51.6h1.1v1.1h-1.1zM267.6 58.3h1.1v1.1h-1.1zM256.3 54.5h1.1v1.1h-1.1zM256.2 54.2h1.1v1.1h-1.1zM262.6 56.6h1.1v1.1h-1.1zM257.2 51.9h1.1v1.1h-1.1zM256.1 52h1.1v1.1h-1.1zM261.8 57.9h1.1v1.1h-1.1zM252 54.4h1.1v1.1h-1.1zM260.8 55.5h1.1v1.1h-1.1zM262.2 47.1h1.1v1.1h-1.1zM260.4 53.1h1.1v1.1h-1.1zM256.2 59.1h1.1v1.1h-1.1zM257.1 57.6h1.1v1.1h-1.1zM248.6 54.8h1.1v1.1h-1.1zM256.5 50.5h1.1v1.1h-1.1zM258.5 50h1.1v1.1h-1.1zM261.4 55.3h1.1v1.1h-1.1zM257.8 60.2h1.1v1.1h-1.1zM255.2 53.3h1.1v1.1h-1.1zM252.9 59.6h1.1v1.1h-1.1zM256.9 51.6h1.1v1.1h-1.1zM257.8 59.1h1.1v1.1h-1.1zM263.1 48.1h1.1v1.1h-1.1zM257.1 54h1.1v1.1h-1.1zM254.6 47.7h1.1v1.1h-1.1zM256.6 56.4h1.1v1.1h-1.1zM254.7 55.9h1.1v1.1h-1.1zM255.9 48.3h1.1v1.1h-1.1zM246.2 49.4h1.1v1.1h-1.1zM249.2 50.9h1.1v1.1h-1.1zM251.2 45.6h1.1v1.1h-1.1zM259.4 48.5h1.1v1.1h-1.1zM256.7 48.8h1.1v1.1h-1.1zM257.8 57h1.1v1.1h-1.1zM262.8 60h1.1v1.1h-1.1zM251.9 50.9h1.1v1.1h-1.1zM262.7 51.6h1.1v1.1h-1.1zM259 54.1h1.1v1.1h-1.1zM253.6 50.5h1.1v1.1h-1.1zM264.5 51.7h1.1v1.1h-1.1zM250 57.3h1.1v1.1h-1.1zM251.5 54.2h1.1v1.1h-1.1zM256.1 52.7h1.1v1.1h-1.1zM259.1 50.2h1.1v1.1h-1.1zM256.1 60.4h1.1v1.1h-1.1zM246.5 50h1.1v1.1h-1.1zM255.6 53.7h1.1v1.1h-1.1zM256.7 47.9h1.1v1.1h-1.1zM269.7 50.1h1.1v1.1h-1.1zM263.9 53.5h1.1v1.1h-1.1zM257.7 51.1h1.1v1.1h-1.1zM251.7 55.7h1.1v1.1h-1.1zM258.8 53.4h1.1v1.1h-1.1zM251.3 46.2h1.1v1.1h-1.1zM258.1 41.5h1.1v1.1h-1.1zM258.9 58h1.1v1.1h-1.1zM255.1 50.2h1.1v1.1h-1.1zM258.3 60.5h1.1v1.1h-1.1zM255.5 53.1h1.1v1.1h-1.1zM254.3 49.3h1.1v1.1h-1.1zM264.7 55.9h1.1v1.1h-1.1zM260 51.7h1.1v1.1h-1.1zM255.6 53.1h1.1v1.1h-1.1zM253.3 48.4h1.1v1.1h-1.1zM258 56.3h1.1v1.1h-1.1zM259.9 58.5h1.1v1.1h-1.1zM261.3 50.4h1.1v1.1h-1.1zM264.4 62h1.1v1.1h-1.1zM259.4 50.2h1.1v1.1h-1.1zM251.6 54.3h1.1v1.1h-1.1zM267.1 44.9h1.1v1.1h-1.1zM262.8 43.5h1.1v1.1h-1.1zM261.2 63.6h1.1v1.1h-1.1zM263.7 60.2h1.1v1.1h-1.1zM249.7 58.8h1.1v1.1h-1.1zM255.2 44.6h1.1v1.1h-1.1zM254.6 54.2h1.1v1.1h-1.1zM262.9 55.2h1.1v1.1h-1.1zM251.3 53.5h1.1v1.1h-1.1zM255.5 54.6h1.1v1.1h-1.1zM264.6 48.5h1.1v1.1h-1.1zM260.3 52.3h1.1v1.1h-1.1zM255.2 47.4h1.1v1.1h-1.1zM266.3 51.3h1.1v1.1h-1.1zM250.5 54.9h1.1v1.1h-1.1zM259.3 49.2h1.1v1.1h-1.1zM255.9 51.7h1.1v1.1h-1.1zM259.6 50.9h1.1v1.1h-1.1zM255.7 53.1h1.1v1.1h-1.1zM252.9 57.7h1.1v1.1h-1.1zM258.1 54.2h1.1v1.1h-1.1zM250.6 55h1.1v1.1h-1.1zM259.7 45.9h1.1v1.1h-1.1zM255.5 51.2h1.1v1.1h-1.1zM261.6 57.1h1.1v1.1h-1.1zM254.9 48.8h1.1v1.1h-1.1zM253.8 50.9h1.1v1.1h-1.1zM259 48.2h1.1v1.1h-1.1zM263.1 59.7h1.1v1.1h-1.1zM246.9 50.8h1.1v1.1h-1.1zM257.6 49.4h1.1v1.1h-1.1zM260.1 56.1h1.1v1.1h-1.1zM250.1 58.5h1.1v1.1h-1.1zM252.7 55.5h1.1v1.1h-1.1zM260.2 58h1.1v1.1h-1.1zM253 54.1h1.1v1.1h-1.1zM253.9 52.4h1.1v1.1h-1.1zM265.5 50.8h1.1v1.1h-1.1zM252.4 50.5h1.1v1.1h-1.1zM252.8 50.1h1.1v1.1h-1.1zM245.7 54.9h1.1v1.1h-1.1zM251.7 52.5h1.1v1.1h-1.1zM251 53.5h1.1v1.1h-1.1zM265.5 56.1h1.1v1.1h-1.1zM263.1 52.8h1.1v1.1h-1.1zM250.8 46.2h1.1v1.1h-1.1zM266.7 49.1h1.1v1.1h-1.1zM260.8 47.5h1.1v1.1h-1.1zM256.2 43.5h1.1v1.1h-1.1zM261 53.6h1.1v1.1h-1.1zM258.9 47.1h1.1v1.1h-1.1zM253.3 46.6h1.1v1.1h-1.1zM248.4 47.7h1.1v1.1h-1.1zM252.6 57.4h1.1v1.1h-1.1zM257 51.5h1.1v1.1h-1.1zM255.3 58h1.1v1.1h-1.1zM253.4 52.6h1.1v1.1h-1.1zM261.8 50.9h1.1v1.1h-1.1zM251.8 55.9h1.1v1.1h-1.1zM261.4 56h1.1v1.1h-1.1zM254.7 53.6h1.1v1.1h-1.1zM257.6 47.9h1.1v1.1h-1.1zM251.5 50.7h1.1v1.1h-1.1zM257 47.1h1.1v1.1h-1.1zM253.2 51.7h1.1v1.1h-1.1zM248.4 53.5h1.1v1.1h-1.1zM256.9 60.4h1.1v1.1h-1.1zM256.8 60.1h1.1v1.1h-1.1zM261.1 56.4h1.1v1.1h-1.1zM258.4 57.8h1.1v1.1h-1.1zM252 54.2h1.1v1.1h-1.1zM254 66.9h1.1v1.1h-1.1zM244.8 60.7h1.1v1.1h-1.1zM251.5 66.2h1.1v1.1h-1.1zM263.4 54.9h1.1v1.1h-1.1zM264.5 55.1h1.1v1.1h-1.1zM260.8 58.3h1.1v1.1h-1.1zM258.5 54h1.1v1.1h-1.1zM259.9 54.6h1.1v1.1h-1.1zM259.4 48.1h1.1v1.1h-1.1zM248.5 57.7h1.1v1.1h-1.1zM252.7 53.7h1.1v1.1h-1.1zM262.9 57.1h1.1v1.1h-1.1zM262.9 51.9h1.1v1.1h-1.1zM258.2 44.1h1.1v1.1h-1.1zM255.5 55.5h1.1v1.1h-1.1zM255.1 58.8h1.1v1.1h-1.1zM254.3 46.6h1.1v1.1h-1.1zM252.5 48.2h1.1v1.1h-1.1zM247.5 51.5h1.1v1.1h-1.1zM257.8 51.8h1.1v1.1h-1.1zM254.8 44.5h1.1v1.1h-1.1zM256 61.8h1.1v1.1h-1.1zM265.5 58.1h1.1v1.1h-1.1zM259.9 49.9h1.1v1.1h-1.1zM253.6 43.9h1.1v1.1h-1.1zM259.9 54.8h1.1v1.1h-1.1zM249.6 62.9h1.1v1.1h-1.1zM262.2 57.1h1.1v1.1h-1.1zM258.3 58.8h1.1v1.1h-1.1zM256.1 48.3h1.1v1.1h-1.1zM259.8 54.2h1.1v1.1h-1.1zM264.2 45.5h1.1v1.1h-1.1zM254.7 62.9h1.1v1.1h-1.1zM252.1 55.8h1.1v1.1h-1.1zM267.5 42.5h1.1v1.1h-1.1zM257.1 43.8h1.1v1.1h-1.1zM264.4 55.4h1.1v1.1h-1.1zM253.7 53.7h1.1v1.1h-1.1zM258.9 51.4h1.1v1.1h-1.1zM253.9 56.1h1.1v1.1h-1.1zM260.2 63h1.1v1.1h-1.1zM255.7 54.8h1.1v1.1h-1.1zM253.7 44h1.1v1.1h-1.1zM264.7 52.2h1.1v1.1h-1.1zM258.7 46.4h1.1v1.1h-1.1zM247 49h1.1v1.1h-1.1zM255.9 54.6h1.1v1.1h-1.1zM252.5 52.1h1.1v1.1h-1.1zM251 47.7h1.1v1.1h-1.1zM254.1 52.8h1.1v1.1h-1.1zM254.7 48.9h1.1v1.1h-1.1zM257.2 55.6h1.1v1.1h-1.1zM253.1 51.8h1.1v1.1h-1.1zM247.8 54.9h1.1v1.1h-1.1zM254.4 51.6h1.1v1.1h-1.1zM261.4 56.7h1.1v1.1h-1.1zM250.3 52.3h1.1v1.1h-1.1zM260.1 52.9h1.1v1.1h-1.1zM259.3 50.1h1.1v1.1h-1.1zM254.8 53.7h1.1v1.1h-1.1zM258.5 44.1h1.1v1.1h-1.1zM253.3 66.3h1.1v1.1h-1.1zM255 49.6h1.1v1.1h-1.1zM251.9 53.4h1.1v1.1h-1.1zM259.3 50.6h1.1v1.1h-1.1zM263.8 50.5h1.1v1.1h-1.1zM253.6 55h1.1v1.1h-1.1zM262.9 50.4h1.1v1.1h-1.1zM246.4 50.8h1.1v1.1h-1.1zM252.6 46.1h1.1v1.1h-1.1zM252 48.3h1.1v1.1h-1.1zM265.6 47.1h1.1v1.1h-1.1zM254.1 61.9h1.1v1.1h-1.1zM260.9 46.3h1.1v1.1h-1.1zM246.8 47.6h1.1v1.1h-1.1zM257.6 53.9h1.1v1.1h-1.1zM259.8 60.1h1.1v1.1h-1.1zM256.8 44.5h1.1v1.1h-1.1zM243.5 45.2h1.1v1.1h-1.1zM257.9 53.6h1.1v1.1h-1.1zM261 54.6h1.1v1.1h-1.1zM263.6 45.9h1.1v1.1h-1.1zM259 43.9h1.1v1.1h-1.1zM248.6 48.1h1.1v1.1h-1.1zM256 56.7h1.1v1.1h-1.1zM261.5 52.7h1.1v1.1h-1.1zM252.9 56.6h1.1v1.1h-1.1zM259.8 52.4h1.1v1.1h-1.1zM254.6 52.8h1.1v1.1h-1.1zM257.5 56h1.1v1.1h-1.1zM260.8 52.3h1.1v1.1h-1.1zM253.5 54.1h1.1v1.1h-1.1zM271.3 48.4h1.1v1.1h-1.1zM257.8 49.9h1.1v1.1h-1.1zM258.7 55.3h1.1v1.1h-1.1zM253.3 51.7h1.1v1.1h-1.1zM257.3 49.2h1.1v1.1h-1.1zM255.7 56.2h1.1v1.1h-1.1zM249.7 55.6h1.1v1.1h-1.1zM249.4 52.9h1.1v1.1h-1.1zM258.4 49.1h1.1v1.1h-1.1zM256.6 57.4h1.1v1.1h-1.1zM243.9 65.4h1.1v1.1h-1.1zM246.3 48.8h1.1v1.1h-1.1zM255.5 45.2h1.1v1.1h-1.1zM256.7 49h1.1v1.1h-1.1zM260 48.2h1.1v1.1h-1.1zM250.8 46.6h1.1v1.1h-1.1zM260 47h1.1v1.1h-1.1zM255.5 57.1h1.1v1.1h-1.1zM254.5 57.2h1.1v1.1h-1.1zM256.3 60.3h1.1v1.1h-1.1zM261.9 56.6h1.1v1.1h-1.1zM259.8 50.5h1.1v1.1h-1.1zM261.4 58.3h1.1v1.1h-1.1zM253.6 49.8h1.1v1.1h-1.1zM255.6 51.1h1.1v1.1h-1.1zM251.2 47h1.1v1.1h-1.1zM254.2 59h1.1v1.1h-1.1zM255 57.9h1.1v1.1h-1.1zM254.7 50.6h1.1v1.1h-1.1zM260.6 51.3h1.1v1.1h-1.1zM259.1 53.1h1.1v1.1h-1.1zM260.8 53.9h1.1v1.1h-1.1zM257.6 57.1h1.1v1.1h-1.1zM262.4 53.2h1.1v1.1h-1.1zM257.6 54.9h1.1v1.1h-1.1zM261.8 45.4h1.1v1.1h-1.1zM259.5 51.4h1.1v1.1h-1.1zM260.7 43.9h1.1v1.1h-1.1zM256.7 61.8h1.1v1.1h-1.1zM250.8 59.8h1.1v1.1h-1.1zM249.8 56.4h1.1v1.1h-1.1zM266.8 58.4h1.1v1.1h-1.1zM258.9 62.9h1.1v1.1h-1.1zM259.2 57.6h1.1v1.1h-1.1zM256.2 44.9h1.1v1.1h-1.1zM254.7 51.8h1.1v1.1h-1.1zM271.4 41.1h1.1v1.1h-1.1zM251.4 48.8h1.1v1.1h-1.1zM256.7 46.6h1.1v1.1h-1.1zM256.7 52.8h1.1v1.1h-1.1zM251.3 54.8h1.1v1.1h-1.1zM250.6 48.2h1.1v1.1h-1.1zM253.5 51.4h1.1v1.1h-1.1zM255.3 54.2h1.1v1.1h-1.1zM254.6 52.1h1.1v1.1h-1.1zM261.1 51.9h1.1v1.1h-1.1zM251.1 40.8h1.1v1.1h-1.1zM259 50.6h1.1v1.1h-1.1zM264.3 56.8h1.1v1.1h-1.1zM261.5 54.1h1.1v1.1h-1.1zM251.3 45.4h1.1v1.1h-1.1zM242.2 51.5h1.1v1.1h-1.1zM261.2 54.2h1.1v1.1h-1.1zM259.5 48h1.1v1.1h-1.1zM254.1 56.2h1.1v1.1h-1.1zM263.4 48.8h1.1v1.1h-1.1zM255 51.2h1.1v1.1h-1.1zM257.5 52.3h1.1v1.1h-1.1zM251.8 64h1.1v1.1h-1.1zM258.6 51.2h1.1v1.1h-1.1zM276.3 73.6h1.1v1.1h-1.1zM267.1 68.6h1.1v1.1h-1.1zM284.3 84.7h1.1v1.1h-1.1zM269.3 59.7h1.1v1.1h-1.1zM271.9 73.1h1.1v1.1h-1.1zM260.7 60.1h1.1v1.1h-1.1zM265.3 67.8h1.1v1.1h-1.1zM279.8 77.9h1.1v1.1h-1.1zM271.8 77.9h1.1v1.1h-1.1zM275.6 87.9h1.1v1.1h-1.1zM266.8 61.5h1.1v1.1h-1.1zM272.7 71.4h1.1v1.1h-1.1zM262.5 62.4h1.1v1.1h-1.1zM272.9 80.8h1.1v1.1h-1.1zM262.3 62.7h1.1v1.1h-1.1zM283.7 85.7h1.1v1.1h-1.1zM273.9 71.7h1.1v1.1h-1.1zM275.3 73.2h1.1v1.1h-1.1zM271.2 68.2h1.1v1.1h-1.1zM272.7 68.7h1.1v1.1h-1.1zM281.2 84.5h1.1v1.1h-1.1zM283 79.6h1.1v1.1h-1.1zM274.4 67.4h1.1v1.1h-1.1zM274.5 84.3h1.1v1.1h-1.1zM268.5 69.9h1.1v1.1h-1.1zM268.1 56.9h1.1v1.1h-1.1zM264.6 66.7h1.1v1.1h-1.1zM275.9 68.1h1.1v1.1h-1.1zM270.7 71.5h1.1v1.1h-1.1zM263.4 65.1h1.1v1.1h-1.1zM274.5 80.3h1.1v1.1h-1.1zM262.2 69h1.1v1.1h-1.1zM272.6 79h1.1v1.1h-1.1zM273.4 73.6h1.1v1.1h-1.1zM270.6 79.9h1.1v1.1h-1.1zM276.1 86.8h1.1v1.1h-1.1zM277.1 79.3h1.1v1.1h-1.1zM275.7 76.1h1.1v1.1h-1.1zM275.4 79h1.1v1.1h-1.1zM268.1 75.8h1.1v1.1h-1.1zM272.6 91.6h1.1v1.1h-1.1zM278 83.3h1.1v1.1h-1.1zM266.4 61.9h1.1v1.1h-1.1zM265.4 62.6h1.1v1.1h-1.1zM266.5 73.3h1.1v1.1h-1.1zM275.1 88.2h1.1v1.1h-1.1zM260.4 66h1.1v1.1h-1.1zM265.7 66.3h1.1v1.1h-1.1zM282.3 89h1.1v1.1h-1.1zM276.4 81.1h1.1v1.1h-1.1zM274.4 73.8h1.1v1.1h-1.1zM266.9 61.9h1.1v1.1h-1.1zM264.9 57.2h1.1v1.1h-1.1zM265.3 70.9h1.1v1.1h-1.1zM266.6 63.2h1.1v1.1h-1.1zM276.4 86.3h1.1v1.1h-1.1zM276.5 71.6h1.1v1.1h-1.1zM266.5 76.1h1.1v1.1h-1.1zM266.4 80.6h1.1v1.1h-1.1zM273 72.4h1.1v1.1h-1.1zM268 64.3h1.1v1.1h-1.1zM279.3 79.7h1.1v1.1h-1.1zM278.4 80.1h1.1v1.1h-1.1zM280 86.2h1.1v1.1h-1.1zM271 73.2h1.1v1.1h-1.1zM265.7 61.2h1.1v1.1h-1.1zM285.3 86.7h1.1v1.1h-1.1zM263.5 57.5h1.1v1.1h-1.1zM262.3 65.2h1.1v1.1h-1.1zM275.3 80h1.1v1.1h-1.1zM276.7 85.5h1.1v1.1h-1.1zM276.7 88.5h1.1v1.1h-1.1zM272.8 76.7h1.1v1.1h-1.1zM266.7 67.2h1.1v1.1h-1.1zM259.4 61.5h1.1v1.1h-1.1zM273.6 81.5h1.1v1.1h-1.1zM276.4 76.8h1.1v1.1h-1.1zM265.1 61h1.1v1.1h-1.1zM272.6 82.2h1.1v1.1h-1.1zM280 87.8h1.1v1.1h-1.1zM263.2 65.8h1.1v1.1h-1.1zM275.5 75.6h1.1v1.1h-1.1zM274.8 68.4h1.1v1.1h-1.1zM274.5 76.7h1.1v1.1h-1.1zM267.5 59.1h1.1v1.1h-1.1zM273 87.9h1.1v1.1h-1.1zM268.4 66.6h1.1v1.1h-1.1zM268.6 80.7h1.1v1.1h-1.1zM269.6 62.9h1.1v1.1h-1.1zM261.3 67h1.1v1.1h-1.1zM277.8 88.8h1.1v1.1h-1.1zM273 61.3h1.1v1.1h-1.1zM275.8 89.2h1.1v1.1h-1.1zM281.6 83.9h1.1v1.1h-1.1zM273.3 74.9h1.1v1.1h-1.1zM275.7 73.9h1.1v1.1h-1.1zM264.8 57.2h1.1v1.1h-1.1zM277.3 81.7h1.1v1.1h-1.1zM273.7 79.8h1.1v1.1h-1.1zM272.7 76.3h1.1v1.1h-1.1zM276.2 83.7h1.1v1.1h-1.1zM272.1 71.9h1.1v1.1h-1.1zM273.1 67.8h1.1v1.1h-1.1zM280.3 79.7h1.1v1.1h-1.1zM276.6 70.7h1.1v1.1h-1.1zM272.8 77.2h1.1v1.1h-1.1zM265.2 62.6h1.1v1.1h-1.1zM266.7 63.7h1.1v1.1h-1.1zM265.7 63.6h1.1v1.1h-1.1zM275.5 83.5h1.1v1.1h-1.1zM281.1 89.1h1.1v1.1h-1.1zM277.1 89.6h1.1v1.1h-1.1zM276.6 73h1.1v1.1h-1.1zM273.6 83.4h1.1v1.1h-1.1zM263.3 62.6h1.1v1.1h-1.1zM268.5 68.3h1.1v1.1h-1.1zM280.8 87.1h1.1v1.1h-1.1zM268.7 66.6h1.1v1.1h-1.1zM269.5 59.4h1.1v1.1h-1.1zM267 73h1.1v1.1h-1.1zM277.7 81.5h1.1v1.1h-1.1zM280.3 89.1h1.1v1.1h-1.1zM262.3 59.3h1.1v1.1h-1.1zM273.1 78.2h1.1v1.1h-1.1zM280.6 83.4h1.1v1.1h-1.1zM281 82.3h1.1v1.1h-1.1zM277.2 87.4h1.1v1.1h-1.1zM273.4 78.5h1.1v1.1h-1.1zM273.2 85.9h1.1v1.1h-1.1zM269.9 70.2h1.1v1.1h-1.1zM271.8 77h1.1v1.1h-1.1zM274.2 74.1h1.1v1.1h-1.1zM271.9 70.8h1.1v1.1h-1.1zM269.7 72.2h1.1v1.1h-1.1zM274.3 80.5h1.1v1.1h-1.1zM263.1 64.2h1.1v1.1h-1.1zM281.9 82.8h1.1v1.1h-1.1zM277.6 79h1.1v1.1h-1.1zM264.9 65.1h1.1v1.1h-1.1zM269.8 68.2h1.1v1.1h-1.1zM281.9 83h1.1v1.1h-1.1zM276.8 67.6h1.1v1.1h-1.1zM285.2 82.3h1.1v1.1h-1.1zM273.4 68.3h1.1v1.1h-1.1zM281.4 89h1.1v1.1h-1.1zM271.6 68.9h1.1v1.1h-1.1zM276.6 90.1h1.1v1.1h-1.1zM268.7 70.1h1.1v1.1h-1.1zM274.2 68.8h1.1v1.1h-1.1zM267.1 62.1h1.1v1.1h-1.1zM277 82.4h1.1v1.1h-1.1zM264 60.1h1.1v1.1h-1.1zM273.7 83.2h1.1v1.1h-1.1zM270.1 74.1h1.1v1.1h-1.1zM273.5 86.3h1.1v1.1h-1.1zM273.4 77.5h1.1v1.1h-1.1zM271 90.4h1.1v1.1h-1.1zM273.1 73.2h1.1v1.1h-1.1zM267.6 64.1h1.1v1.1h-1.1zM276.3 87.9h1.1v1.1h-1.1zM275.7 86.9h1.1v1.1h-1.1zM274 85.4h1.1v1.1h-1.1zM270.7 77.9h1.1v1.1h-1.1zM263.3 69.3h1.1v1.1h-1.1zM257.9 62.1h1.1v1.1h-1.1zM274.7 84.1h1.1v1.1h-1.1zM273.6 78.9h1.1v1.1h-1.1zM273.8 69.9h1.1v1.1h-1.1zM274.8 72.3h1.1v1.1h-1.1zM276.3 82.7h1.1v1.1h-1.1zM266.6 65.2h1.1v1.1h-1.1zM261.9 59h1.1v1.1h-1.1zM261.2 63h1.1v1.1h-1.1zM278.2 89.8h1.1v1.1h-1.1zM266 64.6h1.1v1.1h-1.1zM280.2 88.8h1.1v1.1h-1.1zM265.3 56.7h1.1v1.1h-1.1zM273.6 79.4h1.1v1.1h-1.1zM274.3 73.1h1.1v1.1h-1.1zM271.6 73.2h1.1v1.1h-1.1zM267.1 53.9h1.1v1.1h-1.1zM271.9 76h1.1v1.1h-1.1zM278.1 74.9h1.1v1.1h-1.1zM278.4 83.8h1.1v1.1h-1.1zM277.3 84h1.1v1.1h-1.1zM279.3 82.7h1.1v1.1h-1.1zM265.2 58.2h1.1v1.1h-1.1zM280.3 84.9h1.1v1.1h-1.1zM274.4 73h1.1v1.1h-1.1zM277 85.6h1.1v1.1h-1.1zM272.4 88.5h1.1v1.1h-1.1zM263 61h1.1v1.1h-1.1zM273 69h1.1v1.1h-1.1zM268.7 75.1h1.1v1.1h-1.1zM279.2 73.8h1.1v1.1h-1.1zM278.1 87.9h1.1v1.1h-1.1zM259.8 61.4h1.1v1.1h-1.1zM271.2 77.8h1.1v1.1h-1.1zM270.9 73.4h1.1v1.1h-1.1zM266 61.1h1.1v1.1h-1.1zM229.5 77.5h1.1v1.1h-1.1zM208.3 46.4h1.1v1.1h-1.1zM221.7 73h1.1v1.1h-1.1zM214.9 34.1h1.1v1.1h-1.1zM236.8 39.9h1.1v1.1h-1.1zM210 66.9h1.1v1.1h-1.1zM207.1 38h1.1v1.1h-1.1zM234.6 57.6h1.1v1.1h-1.1zM233.6 58.7h1.1v1.1h-1.1zM230.9 34.5h1.1v1.1h-1.1zM198.3 76.6h1.1v1.1h-1.1zM197.1 72.1h1.1v1.1h-1.1zM242.4 74.9h1.1v1.1h-1.1zM244.6 67.6h1.1v1.1h-1.1zM205.4 47.9h1.1v1.1h-1.1zM220.1 69.8h1.1v1.1h-1.1zM218.6 63.3h1.1v1.1h-1.1zM209.5 66h1.1v1.1h-1.1zM199 72.9h1.1v1.1h-1.1zM207.9 48.3h1.1v1.1h-1.1zM244 81.4h1.1v1.1h-1.1zM217.6 57.5h1.1v1.1h-1.1zM205.5 49.8h1.1v1.1h-1.1zM198.9 61h1.1v1.1h-1.1zM227.9 84.6h1.1v1.1h-1.1zM283.5 35.4h1.1v1.1h-1.1zM264.3 21.7h1.1v1.1h-1.1zM269.5 27.1h1.1v1.1h-1.1zM282.7 34.4h1.1v1.1h-1.1zM287.9 44.4h1.1v1.1h-1.1zM279 30.8h1.1v1.1h-1.1zM278.3 31.5h1.1v1.1h-1.1zM262.8 16.5h1.1v1.1h-1.1zM268 19.4h1.1v1.1h-1.1zM282.7 40.8h1.1v1.1h-1.1zM269 25.1h1.1v1.1h-1.1zM278.8 30.8h1.1v1.1h-1.1zM280.9 36.8h1.1v1.1h-1.1zM281 31.9h1.1v1.1h-1.1zM281.1 40.1h1.1v1.1h-1.1zM280.2 35.4h1.1v1.1h-1.1zM273 23.1h1.1v1.1h-1.1zM280.3 32h1.1v1.1h-1.1zM284.3 34.4h1.1v1.1h-1.1zM264 20.1h1.1v1.1h-1.1zM287.2 45.3h1.1v1.1h-1.1zM279.7 34.5h1.1v1.1h-1.1zM288.9 44.6h1.1v1.1h-1.1zM285 42h1.1v1.1h-1.1zM261.8 21.2h1.1v1.1h-1.1zM265 19.3h1.1v1.1h-1.1zM287.8 39.6h1.1v1.1h-1.1zM270.7 22.1h1.1v1.1h-1.1zM287.6 42.5h1.1v1.1h-1.1zM291.4 43.1h1.1v1.1h-1.1zM242.6 52.2h1.1v1.1h-1.1zM241.6 52.4h1.1v1.1h-1.1zM243.3 51.8h1.1v1.1h-1.1zM239.7 52.5h1.1v1.1h-1.1zM244.2 52.2h1.1v1.1h-1.1zM244.8 53.6h1.1v1.1h-1.1zM236.8 52.1h1.1v1.1h-1.1zM241 51.2h1.1v1.1h-1.1zM238.1 52.5h1.1v1.1h-1.1zM235.7 51.1h1.1v1.1h-1.1zM239.5 51.6h1.1v1.1h-1.1zM242 50.6h1.1v1.1h-1.1zM240.6 54.2h1.1v1.1h-1.1zM239.1 51.3h1.1v1.1h-1.1zM241.2 53.2h1.1v1.1h-1.1zM240.6 52.3h1.1v1.1h-1.1zM234.3 52.7h1.1v1.1h-1.1zM242.9 53.3h1.1v1.1h-1.1zM155.6 25.6h1.1v1.1h-1.1zM161.4 17.5h1.1v1.1h-1.1zM155.5 22.1h1.1v1.1h-1.1zM158.3 25.8h1.1v1.1h-1.1zM155.1 27.1h1.1v1.1h-1.1zM156.3 15.7h1.1v1.1h-1.1zM156.2 21h1.1v1.1h-1.1zM155 23.3h1.1v1.1h-1.1zM157.7 25.9h1.1v1.1h-1.1zM161 28.1h1.1v1.1h-1.1zM162.6 22.9h1.1v1.1h-1.1zM161.4 19.4h1.1v1.1h-1.1zM156.5 28.5h1.1v1.1h-1.1zM161.4 25.3h1.1v1.1h-1.1zM158.3 31.5h1.1v1.1h-1.1zM162.4 24.4h1.1v1.1h-1.1zM153.2 30.3h1.1v1.1h-1.1zM161.5 22.5h1.1v1.1h-1.1zM155.2 28.4h1.1v1.1h-1.1zM160.5 27.5h1.1v1.1h-1.1zM155.6 29.3h1.1v1.1h-1.1zM159.8 22.3h1.1v1.1h-1.1zM201.9 35.8h1.1v1.1h-1.1zM183.6 47.1h1.1v1.1h-1.1zM201 39.4h1.1v1.1h-1.1zM220.7 63.7h1.1v1.1h-1.1zM280.2 9.5h1.1v1.1h-1.1zM205.9 81.1h1.1v1.1h-1.1zM223 81.9h1.1v1.1h-1.1zM207.9 70h1.1v1.1h-1.1zM233.6 50.8h1.1v1.1h-1.1zM216.7 60.2h1.1v1.1h-1.1zM231.3 47h1.1v1.1h-1.1zM214 92.3h1.1v1.1h-1.1zM265.4 74.3h1.1v1.1h-1.1zM239.7 116.2h1.1v1.1h-1.1zM162.2 49.8h1.1v1.1h-1.1zM212.6 100.9h1.1v1.1h-1.1zM207 43.9h1.1v1.1h-1.1zM149.6 55.3h1.1v1.1h-1.1zM273.9 96h1.1v1.1h-1.1zM278.6 102.7h1.1v1.1h-1.1zM276.8 107.5h1.1v1.1h-1.1zM278.9 97.2h1.1v1.1h-1.1zM281.5 102.2h1.1v1.1h-1.1zM276.8 96.3h1.1v1.1h-1.1zM278.2 101h1.1v1.1h-1.1zM279.7 110.5h1.1v1.1h-1.1zM276.8 101.1h1.1v1.1h-1.1zM275.4 94.2h1.1v1.1h-1.1zM278.1 102.1h1.1v1.1h-1.1zM278.5 101.3h1.1v1.1h-1.1zM279.4 106.8h1.1v1.1h-1.1zM279.5 91.8h1.1v1.1h-1.1zM225.9 50.1h1.1v1.1h-1.1zM234.3 52.3h1.1v1.1h-1.1zM219.5 49.2h1.1v1.1h-1.1zM246.5 70h1.1v1.1h-1.1zM214.8 43.9h1.1v1.1h-1.1zM226.7 94.9h1.1v1.1h-1.1zM220.3 72.1h1.1v1.1h-1.1zM228.5 83.8h1.1v1.1h-1.1zM243.1 75.4h1.1v1.1h-1.1zM241.1 78.1h1.1v1.1h-1.1zM244.4 59.3h1.1v1.1h-1.1zM241.1 99.5h1.1v1.1h-1.1zM214.7 39.1h1.1v1.1h-1.1zM238.1 69.4h1.1v1.1h-1.1zM216.6 60.2h1.1v1.1h-1.1z"/></g><rect x="129.5" y="0.5" width="177.8" height="140.5" fill="none" stroke="#222" stroke-width="1"/><path d="M167.2 141v-2.5M167.2 0.5v2.5M207.8 141v-2.5M207.8 0.5v2.5M248.4 141v-2.5M248.4 0.5v2.5M289 141v-2.5M289 0.5v2.5M129.5 124.2h2.5M307.3 124.2h-2.5M129.5 107.7h2.5M307.3 107.7h-2.5M129.5 91.1h2.5M307.3 91.1h-2.5M129.5 74.6h2.5M307.3 74.6h-2.5M129.5 58h2.5M307.3 58h-2.5M129.5 41.4h2.5M307.3 41.4h-2.5M129.5 24.9h2.5M307.3 24.9h-2.5M129.5 8.3h2.5M307.3 8.3h-2.5" stroke="#222" stroke-width="0.8" fill="none"/><g filter="url(#soft)"><path fill="#f6c4c7" d="M128 213h1v1h-1zM127 214h1v1h-1zM104 215h2v1h-2zM150 215h1v1h-1zM103 216h1v1h-1zM106 216h1v1h-1zM150 216h1v1h-1zM118 217h1v1h-1zM135 217h1v1h-1zM103 218h1v1h-1zM106 218h1v1h-1zM119 219h1v1h-1zM130 219h1v1h-1zM136 219h1v1h-1zM152 219h1v1h-1zM115 220h1v1h-1zM118 220h1v1h-1zM153 220h1v1h-1zM119 221h1v1h-1zM137 221h1v1h-1zM154 221h1v1h-1zM62 222h1v1h-1zM111 222h1v1h-1zM125 222h2v1h-2zM138 222h1v1h-1zM56 223h1v1h-1zM93 223h1v1h-1zM96 223h1v1h-1zM116 223h1v1h-1zM124 223h1v1h-1zM131 223h1v1h-1zM157 223h1v1h-1zM54 224h1v1h-1zM99 224h1v1h-1zM132 224h1v1h-1zM42 225h1v1h-1zM140 225h1v1h-1zM39 226h1v1h-1zM68 226h1v1h-1zM99 226h1v1h-1zM135 226h1v1h-1zM141 226h1v1h-1zM36 227h1v1h-1zM114 227h1v1h-1zM160 227h1v1h-1zM31 228h1v1h-1zM72 228h1v1h-1zM93 228h1v1h-1zM96 228h1v1h-1zM137 228h1v1h-1zM26 229h1v1h-1zM75 229h1v1h-1zM106 229h1v1h-1zM114 229h1v1h-1zM129 229h1v1h-1zM137 229h1v1h-1zM161 229h1v1h-1zM78 230h1v1h-1zM92 230h1v1h-1zM127 230h1v1h-1zM144 230h1v1h-1zM163 230h1v1h-1zM84 231h1v1h-1zM88 231h1v1h-1zM107 231h1v1h-1zM109 231h1v1h-1zM134 231h1v1h-1zM145 231h1v1h-1zM146 232h1v1h-1zM183 232h1v1h-1zM147 233h1v1h-1zM166 233h1v1h-1zM179 233h1v1h-1zM197 233h1v1h-1zM124 234h1v1h-1zM130 234h1v1h-1zM184 234h1v1h-1zM197 234h1v1h-1zM124 235h1v1h-1zM167 235h1v1h-1zM175 235h1v1h-1zM182 235h1v1h-1zM107 236h1v1h-1zM149 236h1v1h-1zM135 237h1v1h-1zM150 237h1v1h-1zM99 238h1v1h-1zM123 238h1v1h-1zM133 238h1v1h-1zM168 238h1v1h-1zM181 238h1v1h-1zM96 239h2v1h-2zM123 239h1v1h-1zM127 239h1v1h-1zM180 239h1v1h-1zM127 240h1v1h-1zM169 240h1v1h-1zM124 241h1v1h-1zM128 241h1v1h-1zM133 241h1v1h-1zM98 242h2v1h-2zM151 242h1v1h-1zM184 242h1v1h-1zM189 242h1v1h-1zM96 243h1v1h-1zM131 243h1v1h-1zM171 243h1v1h-1zM184 243h1v1h-1zM131 244h1v1h-1zM189 244h1v1h-1zM107 245h1v1h-1zM172 245h1v1h-1zM188 245h1v1h-1zM129 246h1v1h-1zM138 246h1v1h-1zM198 246h1v1h-1zM106 247h1v1h-1zM189 247h1v1h-1zM196 247h1v1h-1zM123 248h1v1h-1zM133 249h1v1h-1zM138 249h1v1h-1zM143 249h1v1h-1zM174 249h1v1h-1zM26 250h1v1h-1zM108 250h1v1h-1zM127 250h1v1h-1zM131 250h2v1h-2zM137 250h1v1h-1zM181 250h1v1h-1zM184 250h1v1h-1zM133 251h1v1h-1zM175 251h1v1h-1zM180 251h1v1h-1zM124 252h2v1h-2zM128 252h1v1h-1zM142 252h1v1h-1zM127 253h1v1h-1zM185 253h1v1h-1zM27 254h1v1h-1zM122 254h1v1h-1zM135 254h1v1h-1zM176 254h1v1h-1zM24 255h1v1h-1zM27 255h1v1h-1zM29 255h4v1h-4zM125 255h1v1h-1zM188 255h1v1h-1zM195 255h1v1h-1zM27 256h1v1h-1zM120 256h1v1h-1zM131 256h1v1h-1zM189 256h1v1h-1zM195 256h1v1h-1zM204 256h1v1h-1zM133 257h1v1h-1zM24 258h1v1h-1zM26 258h1v1h-1zM88 258h1v1h-1zM134 258h1v1h-1zM196 258h1v1h-1zM127 259h2v1h-2zM178 259h1v1h-1zM200 259h1v1h-1zM31 260h1v1h-1zM93 260h1v1h-1zM107 260h1v1h-1zM185 260h1v1h-1zM191 260h1v1h-1zM206 260h1v1h-1zM179 261h1v1h-1zM185 261h1v1h-1zM202 261h1v1h-1zM88 262h1v1h-1zM91 262h1v1h-1zM95 262h1v1h-1zM179 262h1v1h-1zM181 262h1v1h-1zM31 263h1v1h-1zM34 263h1v1h-1zM121 263h1v1h-1zM179 263h1v1h-1zM93 264h1v1h-1zM108 264h1v1h-1zM119 264h1v1h-1zM46 265h1v1h-1zM89 265h1v1h-1zM105 265h1v1h-1zM26 266h1v1h-1zM30 266h1v1h-1zM91 266h2v1h-2zM31 267h1v1h-1zM36 267h1v1h-1zM41 267h1v1h-1zM95 268h1v1h-1zM180 268h1v1h-1zM32 269h1v1h-1zM32 270h1v1h-1zM34 270h1v1h-1zM113 270h1v1h-1zM140 270h1v1h-1zM43 271h1v1h-1zM105 271h1v1h-1zM114 271h1v1h-1zM94 272h1v1h-1zM119 272h1v1h-1zM137 272h1v1h-1zM181 272h1v1h-1zM26 273h1v1h-1zM30 273h1v1h-1zM115 273h1v1h-1zM118 273h1v1h-1zM128 273h1v1h-1zM34 274h1v1h-1zM43 274h1v1h-1zM99 274h1v1h-1zM115 274h1v1h-1zM96 275h1v1h-1zM98 275h1v1h-1zM137 275h1v1h-1zM116 276h2v1h-2zM42 277h1v1h-1zM117 277h1v1h-1zM119 277h1v1h-1zM140 277h1v1h-1zM41 278h1v1h-1zM128 278h1v1h-1zM144 278h1v1h-1zM34 279h1v1h-1zM40 279h1v1h-1zM145 279h1v1h-1zM39 280h1v1h-1zM42 280h1v1h-1zM46 280h1v1h-1zM56 280h1v1h-1zM58 280h1v1h-1zM60 280h1v1h-1zM146 280h1v1h-1zM34 281h1v1h-1zM42 281h1v1h-1zM134 281h1v1h-1zM147 281h1v1h-1zM184 281h1v1h-1zM42 282h1v1h-1zM61 282h1v1h-1zM133 282h1v1h-1zM42 283h1v1h-1zM53 283h1v1h-1zM56 283h1v1h-1zM132 283h1v1h-1zM164 283h1v1h-1zM47 284h1v1h-1zM116 284h1v1h-1zM136 284h1v1h-1zM151 284h1v1h-1zM161 284h1v1h-1zM49 285h1v1h-1zM124 285h1v1h-1zM129 285h1v1h-1zM135 285h1v1h-1zM157 285h2v1h-2zM185 285h1v1h-1zM29 286h1v1h-1zM50 286h1v1h-1zM62 286h1v1h-1zM120 286h1v1h-1zM124 286h1v1h-1zM120 287h1v1h-1zM124 287h1v1h-1zM128 287h1v1h-1zM159 287h1v1h-1zM171 287h1v1h-1zM55 288h1v1h-1zM121 288h1v1h-1zM123 288h1v1h-1zM128 288h1v1h-1zM134 288h1v1h-1zM118 289h1v1h-1zM158 289h1v1h-1zM62 290h1v1h-1zM117 290h1v1h-1zM129 290h1v1h-1zM172 290h1v1h-1zM114 291h1v1h-1zM163 291h1v1h-1zM186 291h1v1h-1zM62 292h1v1h-1zM161 292h1v1h-1zM165 292h1v1h-1zM167 292h1v1h-1zM173 292h1v1h-1zM61 293h1v1h-1zM119 293h1v1h-1zM123 293h1v1h-1zM146 293h1v1h-1zM118 294h1v1h-1zM145 294h1v1h-1zM174 294h1v1h-1zM64 295h1v1h-1zM126 295h1v1h-1zM164 296h1v1h-1zM171 296h1v1h-1zM118 297h1v1h-1zM126 297h1v1h-1zM176 297h1v1h-1zM65 298h1v1h-1zM119 298h1v1h-1zM172 298h1v1h-1zM112 299h1v1h-1zM166 299h1v1h-1zM172 299h1v1h-1zM175 299h1v1h-1zM112 300h1v1h-1zM193 300h1v1h-1zM207 300h1v1h-1zM183 301h1v1h-1zM188 301h2v1h-2zM192 301h1v1h-1zM66 302h1v1h-1zM159 302h2v1h-2zM59 303h1v1h-1zM109 303h1v1h-1zM114 303h1v1h-1zM161 303h1v1h-1zM181 303h1v1h-1zM104 304h1v1h-1zM114 304h1v1h-1zM161 304h1v1h-1zM181 304h1v1h-1zM125 305h1v1h-1zM128 305h1v1h-1zM58 306h1v1h-1zM67 306h1v1h-1zM102 307h1v1h-1zM153 307h1v1h-1zM155 307h1v1h-1zM102 308h1v1h-1zM164 308h1v1h-1zM175 308h1v1h-1zM164 309h1v1h-1zM139 310h1v1h-1zM141 310h1v1h-1zM182 310h1v1h-1zM68 313h1v1h-1zM102 313h1v1h-1zM182 313h1v1h-1zM192 313h1v1h-1zM203 313h1v1h-1zM68 314h1v1h-1zM111 314h1v1h-1zM188 314h1v1h-1zM110 315h1v1h-1zM113 315h1v1h-1zM181 315h1v1h-1zM108 316h2v1h-2zM156 316h1v1h-1zM159 316h1v1h-1zM114 317h1v1h-1zM121 317h1v1h-1zM202 317h1v1h-1zM183 318h1v1h-1zM63 320h1v1h-1zM65 321h1v1h-1zM69 321h1v1h-1zM157 321h2v1h-2zM179 321h1v1h-1zM69 322h1v1h-1zM178 322h1v1h-1zM69 323h1v1h-1zM133 323h1v1h-1zM136 323h1v1h-1zM183 323h1v1h-1zM198 323h1v1h-1zM102 324h1v1h-1zM105 324h1v1h-1zM137 324h1v1h-1zM61 325h1v1h-1zM131 325h1v1h-1zM198 325h1v1h-1zM106 326h1v1h-1zM108 326h1v1h-1zM114 326h1v1h-1zM121 326h1v1h-1zM131 327h1v1h-1zM137 327h1v1h-1zM187 327h1v1h-1zM101 328h1v1h-1zM107 328h1v1h-1zM136 328h1v1h-1zM193 328h1v1h-1zM67 329h1v1h-1zM69 329h1v1h-1zM104 329h1v1h-1zM134 329h1v1h-1zM141 329h1v1h-1zM144 329h1v1h-1zM194 329h1v1h-1zM196 330h2v1h-2zM99 331h1v1h-1zM128 332h1v1h-1zM111 333h1v1h-1zM129 333h1v1h-1zM144 333h1v1h-1zM114 334h1v1h-1zM129 334h1v1h-1zM75 335h1v1h-1zM95 335h1v1h-1zM117 335h1v1h-1zM141 335h1v1h-1zM76 336h1v1h-1zM94 336h1v1h-1zM112 336h1v1h-1zM142 336h1v1h-1zM92 337h1v1h-1zM112 337h1v1h-1zM82 338h2v1h-2zM87 338h1v1h-1zM112 338h1v1h-1zM117 339h1v1h-1zM113 340h1v1h-1zM116 340h1v1h-1z"/><path fill="#e78081" d="M129 213h1v1h-1zM132 213h1v1h-1zM134 214h1v1h-1zM104 216h2v1h-2zM126 216h1v1h-1zM136 217h1v1h-1zM181 217h1v1h-1zM184 217h1v1h-1zM104 218h2v1h-2zM118 219h1v1h-1zM124 219h2v1h-2zM137 219h1v1h-1zM151 219h1v1h-1zM94 220h1v1h-1zM152 220h1v1h-1zM93 221h1v1h-1zM129 221h1v1h-1zM138 221h1v1h-1zM153 221h1v1h-1zM61 222h1v1h-1zM93 222h1v1h-1zM96 222h1v1h-1zM128 222h2v1h-2zM155 222h1v1h-1zM94 223h2v1h-2zM103 223h1v1h-1zM111 223h1v1h-1zM128 223h1v1h-1zM130 223h1v1h-1zM45 225h8v1h-8zM111 225h1v1h-1zM128 225h1v1h-1zM141 225h1v1h-1zM41 226h1v1h-1zM67 226h1v1h-1zM111 226h1v1h-1zM134 226h1v1h-1zM142 226h1v1h-1zM159 226h1v1h-1zM37 227h1v1h-1zM130 227h1v1h-1zM33 228h2v1h-2zM94 228h2v1h-2zM109 228h1v1h-1zM131 228h1v1h-1zM160 228h1v1h-1zM28 229h2v1h-2zM73 229h1v1h-1zM93 229h1v1h-1zM102 229h1v1h-1zM131 229h1v1h-1zM25 230h1v1h-1zM76 230h1v1h-1zM93 230h1v1h-1zM103 230h1v1h-1zM145 230h1v1h-1zM161 230h1v1h-1zM24 231h1v1h-1zM81 231h1v1h-1zM91 231h1v1h-1zM95 231h1v1h-1zM103 231h1v1h-1zM146 231h1v1h-1zM199 231h1v1h-1zM107 232h1v1h-1zM147 232h1v1h-1zM95 233h1v1h-1zM148 233h1v1h-1zM177 233h2v1h-2zM183 233h1v1h-1zM129 234h1v1h-1zM166 234h1v1h-1zM180 234h1v1h-1zM107 235h1v1h-1zM198 235h1v1h-1zM204 235h1v1h-1zM128 236h1v1h-1zM150 236h1v1h-1zM167 236h1v1h-1zM181 236h1v1h-1zM95 237h1v1h-1zM124 237h1v1h-1zM151 237h1v1h-1zM176 237h1v1h-1zM181 237h1v1h-1zM95 238h1v1h-1zM136 238h1v1h-1zM98 239h1v1h-1zM133 239h1v1h-1zM152 239h1v1h-1zM168 239h1v1h-1zM179 239h1v1h-1zM100 240h1v1h-1zM124 240h3v1h-3zM98 241h1v1h-1zM100 241h1v1h-1zM125 241h1v1h-1zM134 241h1v1h-1zM153 241h1v1h-1zM185 241h1v1h-1zM188 241h1v1h-1zM124 242h1v1h-1zM130 242h1v1h-1zM123 243h1v1h-1zM151 243h1v1h-1zM170 243h1v1h-1zM95 244h1v1h-1zM110 244h1v1h-1zM94 245h1v1h-1zM130 245h1v1h-1zM136 245h1v1h-1zM186 245h2v1h-2zM93 246h1v1h-1zM107 246h1v1h-1zM128 246h1v1h-1zM145 246h1v1h-1zM172 246h1v1h-1zM192 246h2v1h-2zM92 247h1v1h-1zM138 247h1v1h-1zM195 247h1v1h-1zM25 248h1v1h-1zM126 248h1v1h-1zM138 248h1v1h-1zM26 249h1v1h-1zM95 249h1v1h-1zM107 249h1v1h-1zM109 249h1v1h-1zM123 250h1v1h-1zM135 250h2v1h-2zM143 250h1v1h-1zM174 250h1v1h-1zM182 250h2v1h-2zM27 251h1v1h-1zM126 251h1v1h-1zM132 251h1v1h-1zM128 253h1v1h-1zM175 253h1v1h-1zM188 253h1v1h-1zM28 254h1v1h-1zM96 254h1v1h-1zM121 254h1v1h-1zM132 254h1v1h-1zM181 254h1v1h-1zM184 254h1v1h-1zM195 254h1v1h-1zM201 254h1v1h-1zM25 255h1v1h-1zM34 255h1v1h-1zM120 255h1v1h-1zM131 255h1v1h-1zM133 255h1v1h-1zM142 255h1v1h-1zM203 255h1v1h-1zM35 256h1v1h-1zM89 256h2v1h-2zM94 256h1v1h-1zM125 256h1v1h-1zM133 256h1v1h-1zM138 256h1v1h-1zM199 256h1v1h-1zM36 257h1v1h-1zM130 257h1v1h-1zM191 257h1v1h-1zM195 257h1v1h-1zM204 257h1v1h-1zM177 258h1v1h-1zM183 259h1v1h-1zM32 260h2v1h-2zM106 260h1v1h-1zM202 260h1v1h-1zM31 261h1v1h-1zM34 261h1v1h-1zM38 261h1v1h-1zM136 261h1v1h-1zM178 261h1v1h-1zM31 262h1v1h-1zM34 262h1v1h-1zM40 262h2v1h-2zM182 262h2v1h-2zM203 262h1v1h-1zM32 263h2v1h-2zM45 264h1v1h-1zM88 264h1v1h-1zM104 264h1v1h-1zM120 264h1v1h-1zM48 265h1v1h-1zM122 265h1v1h-1zM50 266h1v1h-1zM120 266h2v1h-2zM179 266h1v1h-1zM38 267h2v1h-2zM52 267h1v1h-1zM55 267h1v1h-1zM57 267h1v1h-1zM142 267h1v1h-1zM179 267h1v1h-1zM36 268h1v1h-1zM41 268h1v1h-1zM109 269h1v1h-1zM111 269h1v1h-1zM142 270h1v1h-1zM180 271h1v1h-1zM103 272h1v1h-1zM120 272h1v1h-1zM122 272h1v1h-1zM126 273h1v1h-1zM118 274h1v1h-1zM132 274h1v1h-1zM181 274h1v1h-1zM99 275h1v1h-1zM118 275h1v1h-1zM182 275h1v1h-1zM35 276h1v1h-1zM57 276h3v1h-3zM96 276h1v1h-1zM99 276h1v1h-1zM135 276h1v1h-1zM35 277h1v1h-1zM41 277h1v1h-1zM98 277h1v1h-1zM116 277h1v1h-1zM120 277h1v1h-1zM184 277h1v1h-1zM35 278h1v1h-1zM40 278h1v1h-1zM55 278h1v1h-1zM131 278h3v1h-3zM39 279h1v1h-1zM58 279h1v1h-1zM60 279h1v1h-1zM28 280h1v1h-1zM44 280h1v1h-1zM147 280h1v1h-1zM29 281h1v1h-1zM38 281h1v1h-1zM46 281h1v1h-1zM49 281h1v1h-1zM61 281h1v1h-1zM124 281h1v1h-1zM148 281h1v1h-1zM36 282h1v1h-1zM47 282h1v1h-1zM51 282h1v1h-1zM117 282h1v1h-1zM121 282h1v1h-1zM136 282h1v1h-1zM149 282h1v1h-1zM166 282h2v1h-2zM27 283h1v1h-1zM47 283h1v1h-1zM124 283h1v1h-1zM133 283h1v1h-1zM136 283h1v1h-1zM184 283h1v1h-1zM28 284h1v1h-1zM30 284h1v1h-1zM46 284h1v1h-1zM49 284h1v1h-1zM131 284h1v1h-1zM153 284h2v1h-2zM160 284h1v1h-1zM30 285h1v1h-1zM42 285h1v1h-1zM46 285h1v1h-1zM50 285h1v1h-1zM57 285h1v1h-1zM62 285h1v1h-1zM121 285h1v1h-1zM171 285h1v1h-1zM117 286h1v1h-1zM121 286h1v1h-1zM43 287h1v1h-1zM51 287h1v1h-1zM121 287h1v1h-1zM134 287h1v1h-1zM162 287h1v1h-1zM52 288h2v1h-2zM118 288h1v1h-1zM163 288h1v1h-1zM172 288h1v1h-1zM133 289h1v1h-1zM63 290h1v1h-1zM113 290h4v1h-4zM130 290h1v1h-1zM61 291h1v1h-1zM63 291h1v1h-1zM173 291h1v1h-1zM61 292h1v1h-1zM168 293h1v1h-1zM164 294h1v1h-1zM169 294h1v1h-1zM175 294h1v1h-1zM187 294h1v1h-1zM118 295h1v1h-1zM164 295h1v1h-1zM176 295h1v1h-1zM187 295h1v1h-1zM177 296h1v1h-1zM187 296h1v1h-1zM65 297h1v1h-1zM165 297h1v1h-1zM171 297h1v1h-1zM177 297h1v1h-1zM190 297h2v1h-2zM208 297h1v1h-1zM125 298h1v1h-1zM177 298h1v1h-1zM122 299h2v1h-2zM185 299h1v1h-1zM193 299h1v1h-1zM207 299h1v1h-1zM66 300h1v1h-1zM171 300h1v1h-1zM175 300h1v1h-1zM184 300h1v1h-1zM187 300h1v1h-1zM182 301h1v1h-1zM109 302h1v1h-1zM126 302h2v1h-2zM181 302h1v1h-1zM58 303h1v1h-1zM104 303h1v1h-1zM110 303h1v1h-1zM125 303h1v1h-1zM128 303h1v1h-1zM160 303h1v1h-1zM67 304h1v1h-1zM128 304h1v1h-1zM158 304h1v1h-1zM102 305h1v1h-1zM112 305h1v1h-1zM159 305h1v1h-1zM59 306h1v1h-1zM175 306h1v1h-1zM181 306h1v1h-1zM156 308h1v1h-1zM139 309h1v1h-1zM141 309h1v1h-1zM68 310h1v1h-1zM68 311h1v1h-1zM152 311h1v1h-1zM156 311h1v1h-1zM154 312h1v1h-1zM174 312h1v1h-1zM194 313h2v1h-2zM198 313h2v1h-2zM201 313h2v1h-2zM190 314h1v1h-1zM111 315h2v1h-2zM180 315h1v1h-1zM187 315h1v1h-1zM157 316h2v1h-2zM179 316h1v1h-1zM203 316h1v1h-1zM69 317h1v1h-1zM119 317h2v1h-2zM201 317h1v1h-1zM69 318h1v1h-1zM121 318h1v1h-1zM179 318h1v1h-1zM184 318h1v1h-1zM199 318h1v1h-1zM69 319h1v1h-1zM121 319h1v1h-1zM179 319h1v1h-1zM198 319h1v1h-1zM62 320h1v1h-1zM121 320h1v1h-1zM179 320h1v1h-1zM60 321h1v1h-1zM121 321h1v1h-1zM60 323h1v1h-1zM70 323h1v1h-1zM102 323h1v1h-1zM134 323h1v1h-1zM69 324h2v1h-2zM121 324h1v1h-1zM132 324h1v1h-1zM197 324h1v1h-1zM104 325h1v1h-1zM113 325h1v1h-1zM121 325h1v1h-1zM185 325h1v1h-1zM197 325h1v1h-1zM101 326h2v1h-2zM112 326h1v1h-1zM115 326h1v1h-1zM186 326h1v1h-1zM64 327h1v1h-1zM71 327h1v1h-1zM120 327h1v1h-1zM189 327h5v1h-5zM198 327h1v1h-1zM70 328h1v1h-1zM72 328h1v1h-1zM113 328h1v1h-1zM118 328h1v1h-1zM132 328h1v1h-1zM141 328h1v1h-1zM194 328h1v1h-1zM198 328h1v1h-1zM107 329h1v1h-1zM142 329h2v1h-2zM195 329h1v1h-1zM107 330h1v1h-1zM113 330h1v1h-1zM73 332h1v1h-1zM126 333h1v1h-1zM128 333h1v1h-1zM142 333h2v1h-2zM126 334h1v1h-1zM144 334h1v1h-1zM113 335h1v1h-1zM127 335h1v1h-1zM144 335h1v1h-1zM93 336h1v1h-1zM117 336h1v1h-1zM91 337h1v1h-1zM117 337h1v1h-1zM117 338h1v1h-1zM114 340h1v1h-1z"/><path fill="#e06361" d="M130 213h2v1h-2zM149 213h1v1h-1zM128 214h1v1h-1zM132 214h1v1h-1zM127 215h1v1h-1zM132 215h1v1h-1zM135 215h1v1h-1zM131 216h1v1h-1zM104 217h2v1h-2zM126 217h1v1h-1zM130 217h1v1h-1zM116 218h2v1h-2zM137 218h1v1h-1zM150 218h1v1h-1zM182 218h2v1h-2zM116 219h2v1h-2zM121 219h1v1h-1zM95 220h1v1h-1zM125 220h1v1h-1zM129 220h1v1h-1zM96 221h1v1h-1zM125 221h2v1h-2zM58 222h1v1h-1zM115 222h1v1h-1zM120 222h1v1h-1zM139 222h1v1h-1zM154 222h1v1h-1zM101 223h1v1h-1zM121 223h1v1h-1zM123 223h1v1h-1zM129 223h1v1h-1zM140 223h1v1h-1zM64 224h1v1h-1zM104 224h1v1h-1zM111 224h1v1h-1zM128 224h1v1h-1zM131 224h1v1h-1zM141 224h1v1h-1zM53 225h2v1h-2zM65 225h1v1h-1zM115 225h1v1h-1zM132 225h1v1h-1zM158 225h1v1h-1zM42 226h1v1h-1zM105 226h1v1h-1zM114 226h1v1h-1zM129 226h1v1h-1zM133 226h1v1h-1zM38 227h1v1h-1zM68 227h1v1h-1zM100 227h1v1h-1zM105 227h1v1h-1zM110 227h1v1h-1zM113 227h1v1h-1zM135 227h1v1h-1zM143 227h1v1h-1zM35 228h1v1h-1zM70 228h1v1h-1zM101 228h1v1h-1zM105 228h1v1h-1zM136 228h1v1h-1zM144 228h1v1h-1zM30 229h1v1h-1zM72 229h1v1h-1zM94 229h2v1h-2zM105 229h1v1h-1zM109 229h1v1h-1zM132 229h1v1h-1zM136 229h1v1h-1zM145 229h1v1h-1zM160 229h1v1h-1zM189 229h2v1h-2zM26 230h1v1h-1zM75 230h1v1h-1zM94 230h2v1h-2zM109 230h1v1h-1zM129 230h1v1h-1zM132 230h4v1h-4zM146 230h1v1h-1zM189 230h2v1h-2zM79 231h2v1h-2zM92 231h3v1h-3zM110 231h1v1h-1zM127 231h1v1h-1zM132 231h1v1h-1zM164 231h1v1h-1zM202 231h1v1h-1zM24 232h1v1h-1zM85 232h2v1h-2zM165 232h1v1h-1zM198 232h1v1h-1zM107 233h1v1h-1zM125 233h1v1h-1zM130 233h1v1h-1zM95 234h1v1h-1zM104 234h1v1h-1zM107 234h1v1h-1zM149 234h1v1h-1zM176 234h1v1h-1zM95 235h1v1h-1zM128 235h1v1h-1zM150 235h1v1h-1zM95 236h1v1h-1zM151 236h1v1h-1zM200 236h1v1h-1zM202 236h1v1h-1zM127 237h1v1h-1zM167 237h1v1h-1zM124 238h1v1h-1zM134 238h2v1h-2zM152 238h1v1h-1zM177 238h1v1h-1zM95 239h1v1h-1zM99 239h1v1h-1zM124 239h1v1h-1zM126 239h1v1h-1zM153 239h1v1h-1zM98 240h1v1h-1zM153 240h1v1h-1zM168 240h1v1h-1zM99 241h1v1h-1zM135 241h1v1h-1zM125 242h1v1h-1zM129 242h1v1h-1zM153 242h1v1h-1zM169 242h1v1h-1zM152 243h1v1h-1zM109 244h1v1h-1zM149 244h1v1h-1zM185 244h1v1h-1zM199 244h2v1h-2zM171 245h1v1h-1zM199 245h2v1h-2zM24 246h1v1h-1zM92 246h1v1h-1zM134 246h1v1h-1zM91 247h1v1h-1zM107 247h1v1h-1zM190 247h1v1h-1zM93 248h1v1h-1zM124 248h1v1h-1zM144 248h1v1h-1zM173 248h1v1h-1zM189 248h1v1h-1zM108 249h1v1h-1zM126 249h1v1h-1zM196 249h1v1h-1zM27 250h1v1h-1zM126 250h1v1h-1zM188 250h1v1h-1zM96 251h1v1h-1zM124 251h1v1h-1zM130 251h2v1h-2zM143 251h1v1h-1zM174 251h1v1h-1zM188 251h1v1h-1zM196 251h1v1h-1zM129 252h1v1h-1zM143 252h1v1h-1zM188 252h1v1h-1zM196 252h1v1h-1zM96 253h1v1h-1zM175 254h1v1h-1zM95 255h1v1h-1zM121 255h1v1h-1zM134 255h2v1h-2zM194 255h1v1h-1zM24 256h1v1h-1zM26 256h1v1h-1zM88 256h1v1h-1zM91 256h1v1h-1zM93 256h1v1h-1zM130 256h1v1h-1zM137 256h1v1h-1zM142 256h1v1h-1zM176 256h1v1h-1zM190 256h1v1h-1zM194 256h1v1h-1zM24 257h1v1h-1zM26 257h1v1h-1zM134 257h1v1h-1zM87 258h1v1h-1zM126 258h1v1h-1zM129 258h1v1h-1zM135 258h1v1h-1zM200 258h1v1h-1zM204 258h1v1h-1zM37 259h1v1h-1zM87 259h1v1h-1zM177 259h1v1h-1zM201 259h1v1h-1zM204 259h1v1h-1zM87 260h1v1h-1zM182 260h1v1h-1zM184 260h1v1h-1zM205 260h1v1h-1zM87 261h1v1h-1zM92 261h1v1h-1zM94 261h1v1h-1zM104 261h1v1h-1zM182 261h1v1h-1zM184 261h1v1h-1zM193 261h2v1h-2zM203 261h1v1h-1zM205 261h1v1h-1zM44 262h1v1h-1zM87 262h1v1h-1zM108 262h1v1h-1zM178 262h1v1h-1zM204 262h2v1h-2zM94 263h1v1h-1zM108 263h1v1h-1zM138 263h1v1h-1zM178 263h1v1h-1zM121 264h1v1h-1zM140 264h1v1h-1zM88 265h1v1h-1zM120 265h2v1h-2zM27 266h1v1h-1zM29 266h1v1h-1zM89 266h1v1h-1zM142 266h1v1h-1zM53 267h2v1h-2zM127 267h2v1h-2zM31 268h1v1h-1zM58 268h1v1h-1zM127 268h2v1h-2zM179 268h1v1h-1zM196 268h1v1h-1zM199 268h1v1h-1zM110 269h1v1h-1zM35 270h1v1h-1zM42 270h1v1h-1zM108 270h1v1h-1zM94 271h1v1h-1zM107 271h1v1h-1zM196 271h1v1h-1zM199 271h1v1h-1zM59 272h1v1h-1zM93 272h1v1h-1zM104 272h1v1h-1zM121 272h1v1h-1zM180 272h1v1h-1zM27 273h1v1h-1zM29 273h1v1h-1zM119 273h1v1h-1zM125 273h1v1h-1zM93 274h1v1h-1zM131 274h1v1h-1zM35 275h1v1h-1zM42 275h1v1h-1zM94 275h1v1h-1zM134 275h1v1h-1zM138 275h1v1h-1zM181 275h1v1h-1zM139 276h1v1h-1zM183 276h1v1h-1zM56 277h1v1h-1zM58 277h2v1h-2zM97 277h1v1h-1zM99 277h1v1h-1zM115 277h1v1h-1zM121 277h1v1h-1zM124 277h1v1h-1zM144 277h1v1h-1zM39 278h1v1h-1zM59 278h1v1h-1zM184 278h1v1h-1zM198 278h1v1h-1zM201 278h1v1h-1zM35 279h1v1h-1zM56 279h2v1h-2zM146 279h1v1h-1zM184 279h1v1h-1zM38 280h1v1h-1zM35 281h1v1h-1zM43 281h1v1h-1zM45 281h1v1h-1zM198 281h1v1h-1zM201 281h1v1h-1zM29 282h1v1h-1zM43 282h1v1h-1zM46 282h1v1h-1zM48 282h1v1h-1zM50 282h1v1h-1zM124 282h1v1h-1zM134 282h2v1h-2zM165 282h1v1h-1zM168 282h1v1h-1zM29 283h1v1h-1zM46 283h1v1h-1zM48 283h1v1h-1zM51 283h1v1h-1zM116 283h1v1h-1zM151 283h1v1h-1zM162 283h1v1h-1zM29 284h1v1h-1zM50 284h4v1h-4zM62 284h1v1h-1zM122 284h2v1h-2zM132 284h1v1h-1zM135 284h1v1h-1zM155 284h1v1h-1zM171 284h1v1h-1zM184 284h1v1h-1zM29 285h1v1h-1zM51 285h1v1h-1zM115 285h1v1h-1zM122 285h2v1h-2zM134 285h1v1h-1zM51 286h1v1h-1zM123 286h1v1h-1zM129 286h1v1h-1zM134 286h1v1h-1zM194 286h1v1h-1zM197 286h1v1h-1zM44 287h1v1h-1zM122 287h2v1h-2zM160 287h1v1h-1zM172 287h1v1h-1zM63 289h1v1h-1zM112 289h2v1h-2zM129 289h1v1h-1zM163 289h1v1h-1zM194 289h1v1h-1zM197 289h1v1h-1zM112 290h1v1h-1zM131 290h1v1h-1zM163 290h1v1h-1zM173 290h1v1h-1zM59 291h2v1h-2zM113 291h1v1h-1zM185 291h1v1h-1zM59 292h2v1h-2zM174 292h1v1h-1zM186 292h1v1h-1zM64 293h1v1h-1zM114 293h1v1h-1zM175 293h1v1h-1zM114 294h1v1h-1zM119 294h1v1h-1zM148 294h1v1h-1zM176 294h1v1h-1zM114 295h1v1h-1zM148 295h1v1h-1zM177 295h1v1h-1zM65 296h1v1h-1zM146 296h2v1h-2zM178 296h1v1h-1zM186 296h1v1h-1zM119 297h1v1h-1zM178 297h2v1h-2zM185 297h5v1h-5zM120 298h1v1h-1zM178 298h1v1h-1zM185 298h2v1h-2zM192 298h1v1h-1zM111 299h1v1h-1zM176 299h1v1h-1zM184 299h1v1h-1zM186 299h1v1h-1zM111 300h1v1h-1zM183 300h1v1h-1zM188 300h1v1h-1zM192 300h1v1h-1zM57 301h2v1h-2zM106 301h2v1h-2zM111 301h1v1h-1zM181 301h1v1h-1zM209 301h2v1h-2zM57 302h2v1h-2zM105 302h1v1h-1zM110 302h3v1h-3zM67 303h1v1h-1zM103 303h1v1h-1zM111 303h1v1h-1zM113 303h1v1h-1zM159 303h1v1h-1zM102 304h1v1h-1zM111 304h1v1h-1zM113 304h1v1h-1zM125 304h1v1h-1zM159 304h2v1h-2zM126 305h2v1h-2zM175 305h1v1h-1zM59 307h2v1h-2zM101 307h1v1h-1zM181 307h1v1h-1zM59 308h2v1h-2zM68 308h1v1h-1zM101 308h1v1h-1zM140 308h1v1h-1zM165 308h2v1h-2zM68 309h1v1h-1zM101 309h1v1h-1zM165 309h2v1h-2zM101 310h1v1h-1zM101 311h1v1h-1zM101 312h1v1h-1zM175 312h1v1h-1zM101 313h1v1h-1zM196 313h2v1h-2zM200 313h1v1h-1zM172 314h1v1h-1zM181 314h1v1h-1zM191 314h1v1h-1zM203 314h1v1h-1zM69 315h1v1h-1zM102 315h1v1h-1zM172 315h1v1h-1zM188 315h1v1h-1zM69 316h1v1h-1zM104 316h1v1h-1zM107 316h1v1h-1zM111 316h2v1h-2zM172 316h1v1h-1zM186 316h1v1h-1zM113 317h1v1h-1zM185 317h1v1h-1zM200 317h1v1h-1zM114 318h1v1h-1zM117 318h1v1h-1zM184 319h1v1h-1zM156 320h1v1h-1zM159 320h1v1h-1zM174 320h1v1h-1zM64 321h1v1h-1zM70 321h1v1h-1zM175 321h1v1h-1zM178 321h1v1h-1zM60 322h1v1h-1zM70 322h1v1h-1zM121 322h1v1h-1zM197 322h1v1h-1zM67 323h1v1h-1zM105 323h1v1h-1zM121 323h1v1h-1zM184 323h1v1h-1zM197 323h1v1h-1zM136 324h1v1h-1zM70 325h2v1h-2zM101 325h1v1h-1zM108 325h1v1h-1zM112 325h1v1h-1zM114 325h1v1h-1zM63 326h1v1h-1zM71 326h1v1h-1zM109 326h1v1h-1zM197 326h1v1h-1zM70 327h1v1h-1zM102 327h1v1h-1zM116 327h1v1h-1zM136 327h1v1h-1zM142 327h2v1h-2zM194 327h1v1h-1zM100 328h1v1h-1zM135 328h1v1h-1zM142 328h2v1h-2zM113 329h1v1h-1zM196 329h2v1h-2zM99 330h1v1h-1zM73 331h1v1h-1zM108 332h1v1h-1zM127 333h1v1h-1zM127 334h2v1h-2zM142 334h1v1h-1zM94 335h1v1h-1zM116 335h1v1h-1zM142 335h1v1h-1zM77 336h1v1h-1zM78 337h1v1h-1zM89 337h2v1h-2zM113 339h1v1h-1zM115 340h1v1h-1z"/><path fill="#f0a0a4" d="M133 213h2v1h-2zM133 214h1v1h-1zM133 215h2v1h-2zM182 215h2v1h-2zM132 216h1v1h-1zM135 216h1v1h-1zM181 216h1v1h-1zM184 216h1v1h-1zM103 217h1v1h-1zM106 217h1v1h-1zM116 217h2v1h-2zM131 217h1v1h-1zM150 217h1v1h-1zM115 218h1v1h-1zM118 218h1v1h-1zM125 218h1v1h-1zM130 218h1v1h-1zM136 218h1v1h-1zM151 218h1v1h-1zM181 218h1v1h-1zM184 218h1v1h-1zM115 219h1v1h-1zM120 219h1v1h-1zM93 220h1v1h-1zM96 220h1v1h-1zM116 220h2v1h-2zM119 220h1v1h-1zM137 220h1v1h-1zM113 221h3v1h-3zM127 222h1v1h-1zM63 223h1v1h-1zM100 223h1v1h-1zM139 223h1v1h-1zM55 224h1v1h-1zM65 224h1v1h-1zM140 224h1v1h-1zM43 225h2v1h-2zM66 225h1v1h-1zM99 225h1v1h-1zM105 225h1v1h-1zM133 225h1v1h-1zM40 226h1v1h-1zM69 227h1v1h-1zM136 227h1v1h-1zM142 227h1v1h-1zM32 228h1v1h-1zM71 228h1v1h-1zM130 228h1v1h-1zM143 228h1v1h-1zM189 228h2v1h-2zM27 229h1v1h-1zM74 229h1v1h-1zM96 229h1v1h-1zM130 229h1v1h-1zM144 229h1v1h-1zM188 229h1v1h-1zM191 229h1v1h-1zM77 230h1v1h-1zM96 230h1v1h-1zM106 230h1v1h-1zM128 230h1v1h-1zM136 230h1v1h-1zM162 230h1v1h-1zM188 230h1v1h-1zM191 230h1v1h-1zM82 231h2v1h-2zM89 231h2v1h-2zM113 231h1v1h-1zM126 231h1v1h-1zM133 231h1v1h-1zM189 231h2v1h-2zM203 231h1v1h-1zM95 232h1v1h-1zM103 232h1v1h-1zM125 232h1v1h-1zM132 232h1v1h-1zM204 232h1v1h-1zM103 233h1v1h-1zM131 233h1v1h-1zM182 233h1v1h-1zM184 233h1v1h-1zM148 234h1v1h-1zM181 234h3v1h-3zM104 235h1v1h-1zM149 235h1v1h-1zM181 235h1v1h-1zM105 236h2v1h-2zM124 236h1v1h-1zM199 236h1v1h-1zM203 236h1v1h-1zM127 238h1v1h-1zM151 238h1v1h-1zM100 239h1v1h-1zM137 239h1v1h-1zM178 239h1v1h-1zM96 240h2v1h-2zM133 240h1v1h-1zM137 240h1v1h-1zM152 240h1v1h-1zM96 241h2v1h-2zM126 241h2v1h-2zM136 241h1v1h-1zM152 241h1v1h-1zM169 241h1v1h-1zM96 242h1v1h-1zM152 242h1v1h-1zM170 242h1v1h-1zM150 243h1v1h-1zM189 243h1v1h-1zM199 243h2v1h-2zM108 244h1v1h-1zM148 244h1v1h-1zM171 244h1v1h-1zM198 244h1v1h-1zM201 244h1v1h-1zM111 245h1v1h-1zM135 245h1v1h-1zM146 245h1v1h-1zM198 245h1v1h-1zM201 245h1v1h-1zM111 246h1v1h-1zM191 246h1v1h-1zM194 246h1v1h-1zM199 246h2v1h-2zM24 247h1v1h-1zM93 247h1v1h-1zM123 247h1v1h-1zM127 247h1v1h-1zM133 247h1v1h-1zM144 247h1v1h-1zM173 247h1v1h-1zM94 248h1v1h-1zM106 248h1v1h-1zM110 248h1v1h-1zM133 248h1v1h-1zM196 248h1v1h-1zM123 249h1v1h-1zM188 249h1v1h-1zM96 250h1v1h-1zM134 250h1v1h-1zM123 251h1v1h-1zM129 251h1v1h-1zM27 252h1v1h-1zM133 252h1v1h-1zM175 252h1v1h-1zM180 252h1v1h-1zM185 252h1v1h-1zM27 253h1v1h-1zM133 253h1v1h-1zM142 253h1v1h-1zM180 253h1v1h-1zM196 253h1v1h-1zM120 254h1v1h-1zM126 254h1v1h-1zM133 254h2v1h-2zM142 254h1v1h-1zM188 254h1v1h-1zM200 254h1v1h-1zM202 254h1v1h-1zM26 255h1v1h-1zM33 255h1v1h-1zM122 255h1v1h-1zM132 255h1v1h-1zM136 255h1v1h-1zM176 255h1v1h-1zM199 255h1v1h-1zM121 256h1v1h-1zM139 256h3v1h-3zM88 257h1v1h-1zM125 257h1v1h-1zM177 257h1v1h-1zM199 257h1v1h-1zM25 258h1v1h-1zM36 258h1v1h-1zM191 258h1v1h-1zM135 259h1v1h-1zM182 259h1v1h-1zM184 259h1v1h-1zM191 259h1v1h-1zM196 259h1v1h-1zM205 259h1v1h-1zM34 260h1v1h-1zM37 260h1v1h-1zM105 260h1v1h-1zM178 260h1v1h-1zM181 260h1v1h-1zM108 261h1v1h-1zM181 261h1v1h-1zM192 261h1v1h-1zM195 261h1v1h-1zM206 261h1v1h-1zM39 262h1v1h-1zM42 262h2v1h-2zM184 262h1v1h-1zM206 262h1v1h-1zM44 263h1v1h-1zM88 263h1v1h-1zM204 263h2v1h-2zM122 264h1v1h-1zM139 264h1v1h-1zM179 264h1v1h-1zM47 265h1v1h-1zM106 265h1v1h-1zM119 265h1v1h-1zM141 265h1v1h-1zM179 265h1v1h-1zM90 266h1v1h-1zM122 266h1v1h-1zM127 266h2v1h-2zM25 267h1v1h-1zM37 267h1v1h-1zM40 267h1v1h-1zM56 267h1v1h-1zM94 267h1v1h-1zM126 267h1v1h-1zM129 267h1v1h-1zM197 267h2v1h-2zM126 268h1v1h-1zM129 268h1v1h-1zM142 268h1v1h-1zM35 269h1v1h-1zM42 269h1v1h-1zM58 269h1v1h-1zM95 269h1v1h-1zM127 269h2v1h-2zM142 269h1v1h-1zM180 269h1v1h-1zM195 269h1v1h-1zM200 269h1v1h-1zM95 270h1v1h-1zM141 270h1v1h-1zM180 270h1v1h-1zM195 270h1v1h-1zM200 270h1v1h-1zM34 271h1v1h-1zM106 271h1v1h-1zM138 271h1v1h-1zM25 272h1v1h-1zM31 272h1v1h-1zM34 272h1v1h-1zM43 272h1v1h-1zM102 272h1v1h-1zM123 272h1v1h-1zM197 272h2v1h-2zM34 273h1v1h-1zM43 273h1v1h-1zM59 273h1v1h-1zM93 273h1v1h-1zM100 273h1v1h-1zM127 273h1v1h-1zM137 273h1v1h-1zM181 273h1v1h-1zM59 274h1v1h-1zM94 274h1v1h-1zM133 274h1v1h-1zM137 274h1v1h-1zM59 275h1v1h-1zM95 275h1v1h-1zM115 275h1v1h-1zM135 275h1v1h-1zM42 276h1v1h-1zM56 276h1v1h-1zM97 276h2v1h-2zM115 276h1v1h-1zM118 276h1v1h-1zM55 277h1v1h-1zM135 277h1v1h-1zM141 277h3v1h-3zM199 277h2v1h-2zM117 278h1v1h-1zM129 278h2v1h-2zM134 278h1v1h-1zM55 279h1v1h-1zM59 279h1v1h-1zM197 279h1v1h-1zM202 279h1v1h-1zM27 280h1v1h-1zM34 280h1v1h-1zM43 280h1v1h-1zM45 280h1v1h-1zM57 280h1v1h-1zM122 280h2v1h-2zM184 280h1v1h-1zM197 280h1v1h-1zM202 280h1v1h-1zM26 281h1v1h-1zM47 281h2v1h-2zM50 281h1v1h-1zM121 281h1v1h-1zM135 281h1v1h-1zM26 282h1v1h-1zM35 282h1v1h-1zM37 282h1v1h-1zM184 282h1v1h-1zM199 282h2v1h-2zM30 283h1v1h-1zM52 283h1v1h-1zM54 283h2v1h-2zM121 283h1v1h-1zM150 283h1v1h-1zM163 283h1v1h-1zM169 283h1v1h-1zM42 284h1v1h-1zM48 284h1v1h-1zM57 284h1v1h-1zM121 284h1v1h-1zM124 284h1v1h-1zM152 284h1v1h-1zM170 284h1v1h-1zM28 285h1v1h-1zM116 285h1v1h-1zM195 285h2v1h-2zM42 286h1v1h-1zM46 286h1v1h-1zM57 286h1v1h-1zM171 286h1v1h-1zM185 286h1v1h-1zM45 287h1v1h-1zM56 287h1v1h-1zM118 287h1v1h-1zM185 287h1v1h-1zM193 287h1v1h-1zM198 287h1v1h-1zM54 288h1v1h-1zM122 288h1v1h-1zM185 288h1v1h-1zM193 288h1v1h-1zM198 288h1v1h-1zM172 289h1v1h-1zM185 289h1v1h-1zM59 290h3v1h-3zM132 290h1v1h-1zM185 290h1v1h-1zM195 290h2v1h-2zM58 291h1v1h-1zM62 291h1v1h-1zM159 291h1v1h-1zM58 292h1v1h-1zM63 292h1v1h-1zM114 292h1v1h-1zM166 292h1v1h-1zM59 293h2v1h-2zM120 293h3v1h-3zM147 293h1v1h-1zM164 293h1v1h-1zM174 293h1v1h-1zM187 293h1v1h-1zM64 294h1v1h-1zM125 294h1v1h-1zM145 295h1v1h-1zM170 295h1v1h-1zM175 295h1v1h-1zM114 296h1v1h-1zM118 296h1v1h-1zM126 296h1v1h-1zM148 296h1v1h-1zM176 296h1v1h-1zM188 296h1v1h-1zM113 297h1v1h-1zM192 297h1v1h-1zM112 298h1v1h-1zM176 298h1v1h-1zM193 298h1v1h-1zM207 298h1v1h-1zM121 299h1v1h-1zM124 299h1v1h-1zM57 300h2v1h-2zM167 300h1v1h-1zM185 300h2v1h-2zM56 301h1v1h-1zM59 301h1v1h-1zM66 301h1v1h-1zM112 301h1v1h-1zM169 301h2v1h-2zM190 301h2v1h-2zM208 301h1v1h-1zM56 302h1v1h-1zM59 302h1v1h-1zM106 302h3v1h-3zM113 302h1v1h-1zM57 303h1v1h-1zM105 303h1v1h-1zM158 303h1v1h-1zM103 304h1v1h-1zM110 304h1v1h-1zM67 305h1v1h-1zM111 305h1v1h-1zM113 305h1v1h-1zM158 305h1v1h-1zM160 305h1v1h-1zM181 305h1v1h-1zM60 306h1v1h-1zM102 306h1v1h-1zM58 307h1v1h-1zM61 307h1v1h-1zM154 307h1v1h-1zM165 307h2v1h-2zM175 307h1v1h-1zM58 308h1v1h-1zM61 308h1v1h-1zM139 308h1v1h-1zM141 308h1v1h-1zM152 308h1v1h-1zM167 308h1v1h-1zM59 309h2v1h-2zM167 309h1v1h-1zM140 310h1v1h-1zM165 310h2v1h-2zM175 311h1v1h-1zM182 311h1v1h-1zM68 312h1v1h-1zM153 312h1v1h-1zM155 312h1v1h-1zM173 312h1v1h-1zM182 312h1v1h-1zM172 313h1v1h-1zM193 313h1v1h-1zM102 314h1v1h-1zM112 314h1v1h-1zM189 314h1v1h-1zM204 314h1v1h-1zM103 315h1v1h-1zM186 315h1v1h-1zM204 315h1v1h-1zM110 316h1v1h-1zM113 316h1v1h-1zM185 316h1v1h-1zM118 317h1v1h-1zM172 317h1v1h-1zM179 317h1v1h-1zM184 317h1v1h-1zM115 318h2v1h-2zM155 318h1v1h-1zM160 318h1v1h-1zM155 319h1v1h-1zM160 319h1v1h-1zM173 319h1v1h-1zM183 319h1v1h-1zM61 320h1v1h-1zM69 320h1v1h-1zM183 320h1v1h-1zM198 320h1v1h-1zM183 321h1v1h-1zM198 321h1v1h-1zM66 322h1v1h-1zM176 322h2v1h-2zM183 322h1v1h-1zM198 322h1v1h-1zM68 323h1v1h-1zM103 323h2v1h-2zM135 323h1v1h-1zM106 324h1v1h-1zM184 324h1v1h-1zM102 325h2v1h-2zM105 325h1v1h-1zM107 325h1v1h-1zM137 325h1v1h-1zM113 326h1v1h-1zM131 326h1v1h-1zM137 326h1v1h-1zM142 326h2v1h-2zM198 326h1v1h-1zM101 327h1v1h-1zM106 327h1v1h-1zM108 327h1v1h-1zM113 327h1v1h-1zM141 327h1v1h-1zM144 327h1v1h-1zM188 327h1v1h-1zM65 328h1v1h-1zM71 328h1v1h-1zM102 328h1v1h-1zM106 328h1v1h-1zM117 328h1v1h-1zM119 328h1v1h-1zM144 328h1v1h-1zM68 329h1v1h-1zM72 329h1v1h-1zM100 329h1v1h-1zM198 329h1v1h-1zM107 331h1v1h-1zM98 332h1v1h-1zM112 332h1v1h-1zM127 332h1v1h-1zM97 333h1v1h-1zM109 333h2v1h-2zM74 334h1v1h-1zM96 334h1v1h-1zM115 334h1v1h-1zM141 334h1v1h-1zM126 335h1v1h-1zM128 335h1v1h-1zM143 336h1v1h-1zM80 338h2v1h-2zM84 338h3v1h-3z"/><path fill="#d94d46" d="M135 213h1v1h-1zM131 214h1v1h-1zM135 214h1v1h-1zM149 214h1v1h-1zM131 215h1v1h-1zM149 215h1v1h-1zM127 216h1v1h-1zM136 216h1v1h-1zM149 216h1v1h-1zM182 216h2v1h-2zM137 217h1v1h-1zM149 217h1v1h-1zM126 218h1v1h-1zM129 218h1v1h-1zM122 219h2v1h-2zM129 219h1v1h-1zM150 219h1v1h-1zM120 220h1v1h-1zM126 220h1v1h-1zM138 220h1v1h-1zM151 220h1v1h-1zM94 221h2v1h-2zM120 221h1v1h-1zM127 221h2v1h-2zM152 221h1v1h-1zM59 222h2v1h-2zM94 222h2v1h-2zM112 222h1v1h-1zM124 222h1v1h-1zM153 222h1v1h-1zM57 223h1v1h-1zM62 223h1v1h-1zM102 223h1v1h-1zM122 223h1v1h-1zM156 223h1v1h-1zM56 224h1v1h-1zM63 224h1v1h-1zM100 224h1v1h-1zM157 224h1v1h-1zM55 225h1v1h-1zM142 225h1v1h-1zM43 226h2v1h-2zM66 226h1v1h-1zM112 226h1v1h-1zM130 226h1v1h-1zM132 226h1v1h-1zM143 226h1v1h-1zM39 227h2v1h-2zM131 227h4v1h-4zM144 227h1v1h-1zM36 228h1v1h-1zM69 228h1v1h-1zM113 228h1v1h-1zM132 228h2v1h-2zM135 228h1v1h-1zM31 229h2v1h-2zM71 229h1v1h-1zM103 229h2v1h-2zM133 229h1v1h-1zM135 229h1v1h-1zM27 230h1v1h-1zM74 230h1v1h-1zM104 230h2v1h-2zM113 230h1v1h-1zM130 230h2v1h-2zM160 230h1v1h-1zM25 231h1v1h-1zM78 231h1v1h-1zM106 231h1v1h-1zM112 231h1v1h-1zM128 231h1v1h-1zM131 231h1v1h-1zM147 231h1v1h-1zM200 231h2v1h-2zM83 232h2v1h-2zM87 232h1v1h-1zM94 232h1v1h-1zM126 232h1v1h-1zM131 232h1v1h-1zM148 232h1v1h-1zM24 233h1v1h-1zM129 233h1v1h-1zM149 233h1v1h-1zM204 233h1v1h-1zM125 234h1v1h-1zM128 234h1v1h-1zM150 234h1v1h-1zM179 234h1v1h-1zM198 234h1v1h-1zM204 234h1v1h-1zM105 235h2v1h-2zM125 235h1v1h-1zM125 236h1v1h-1zM176 236h1v1h-1zM201 236h1v1h-1zM125 237h1v1h-1zM152 237h1v1h-1zM125 238h2v1h-2zM153 238h1v1h-1zM167 238h1v1h-1zM180 238h1v1h-1zM125 239h1v1h-1zM134 239h1v1h-1zM136 239h1v1h-1zM95 240h1v1h-1zM99 240h1v1h-1zM134 240h1v1h-1zM136 240h1v1h-1zM154 241h1v1h-1zM168 241h1v1h-1zM186 241h2v1h-2zM126 242h3v1h-3zM130 243h1v1h-1zM169 243h1v1h-1zM130 244h1v1h-1zM150 244h1v1h-1zM170 244h1v1h-1zM188 244h1v1h-1zM24 245h1v1h-1zM108 245h1v1h-1zM110 245h1v1h-1zM129 245h1v1h-1zM147 245h1v1h-1zM123 246h1v1h-1zM127 246h1v1h-1zM137 246h1v1h-1zM25 247h1v1h-1zM90 247h1v1h-1zM110 247h1v1h-1zM124 247h1v1h-1zM126 247h1v1h-1zM145 247h1v1h-1zM26 248h1v1h-1zM89 248h4v1h-4zM107 248h1v1h-1zM109 248h1v1h-1zM125 248h1v1h-1zM27 249h1v1h-1zM124 249h1v1h-1zM134 249h1v1h-1zM137 249h1v1h-1zM144 249h1v1h-1zM173 249h1v1h-1zM196 250h1v1h-1zM125 251h1v1h-1zM181 251h1v1h-1zM184 251h1v1h-1zM96 252h1v1h-1zM132 252h1v1h-1zM174 252h1v1h-1zM28 253h1v1h-1zM129 253h1v1h-1zM132 253h1v1h-1zM143 253h1v1h-1zM29 254h1v1h-1zM31 254h3v1h-3zM127 254h1v1h-1zM130 254h2v1h-2zM182 254h2v1h-2zM35 255h1v1h-1zM130 255h1v1h-1zM189 255h1v1h-1zM200 255h1v1h-1zM202 255h1v1h-1zM25 256h1v1h-1zM87 256h1v1h-1zM92 256h1v1h-1zM134 256h1v1h-1zM136 256h1v1h-1zM191 256h3v1h-3zM203 256h1v1h-1zM25 257h1v1h-1zM87 257h1v1h-1zM141 257h1v1h-1zM176 257h1v1h-1zM192 257h1v1h-1zM37 258h1v1h-1zM202 259h1v1h-1zM38 260h1v1h-1zM136 260h1v1h-1zM177 260h1v1h-1zM183 260h1v1h-1zM192 260h1v1h-1zM195 260h1v1h-1zM203 260h2v1h-2zM32 261h1v1h-1zM39 261h1v1h-1zM43 261h2v1h-2zM183 261h1v1h-1zM204 261h1v1h-1zM32 262h1v1h-1zM137 262h1v1h-1zM87 263h1v1h-1zM92 263h1v1h-1zM107 264h1v1h-1zM141 264h1v1h-1zM178 264h1v1h-1zM49 265h1v1h-1zM142 265h1v1h-1zM178 265h1v1h-1zM28 266h1v1h-1zM93 267h1v1h-1zM25 268h1v1h-1zM37 268h1v1h-1zM40 268h1v1h-1zM36 269h1v1h-1zM41 269h1v1h-1zM143 269h1v1h-1zM179 269h1v1h-1zM143 270h1v1h-1zM25 271h1v1h-1zM31 271h1v1h-1zM35 271h1v1h-1zM42 271h1v1h-1zM59 271h1v1h-1zM139 271h1v1h-1zM142 271h2v1h-2zM35 272h1v1h-1zM42 272h1v1h-1zM92 272h1v1h-1zM114 272h1v1h-1zM28 273h1v1h-1zM35 273h1v1h-1zM42 273h1v1h-1zM92 273h1v1h-1zM101 273h1v1h-1zM124 273h1v1h-1zM180 273h1v1h-1zM35 274h1v1h-1zM42 274h1v1h-1zM100 274h1v1h-1zM129 274h2v1h-2zM180 274h1v1h-1zM114 275h1v1h-1zM41 276h1v1h-1zM95 276h1v1h-1zM114 276h1v1h-1zM119 276h1v1h-1zM143 276h1v1h-1zM36 277h1v1h-1zM40 277h1v1h-1zM57 277h1v1h-1zM60 277h1v1h-1zM96 277h1v1h-1zM122 277h2v1h-2zM125 277h3v1h-3zM134 277h1v1h-1zM36 278h1v1h-1zM38 278h1v1h-1zM56 278h3v1h-3zM60 278h1v1h-1zM98 278h2v1h-2zM145 278h1v1h-1zM38 279h1v1h-1zM117 279h1v1h-1zM35 280h1v1h-1zM108 280h2v1h-2zM148 280h1v1h-1zM27 281h2v1h-2zM36 281h2v1h-2zM44 281h1v1h-1zM109 281h2v1h-2zM117 281h1v1h-1zM122 281h2v1h-2zM149 281h1v1h-1zM183 281h1v1h-1zM27 282h1v1h-1zM45 282h1v1h-1zM49 282h1v1h-1zM150 282h1v1h-1zM164 282h1v1h-1zM183 282h1v1h-1zM28 283h1v1h-1zM43 283h1v1h-1zM45 283h1v1h-1zM49 283h2v1h-2zM122 283h2v1h-2zM134 283h2v1h-2zM152 283h1v1h-1zM170 283h1v1h-1zM54 284h1v1h-1zM56 284h1v1h-1zM115 284h1v1h-1zM133 284h2v1h-2zM156 284h1v1h-1zM159 284h1v1h-1zM52 285h1v1h-1zM130 285h1v1h-1zM184 285h1v1h-1zM45 286h1v1h-1zM56 286h1v1h-1zM116 286h1v1h-1zM122 286h1v1h-1zM172 286h1v1h-1zM52 287h1v1h-1zM55 287h1v1h-1zM161 287h1v1h-1zM63 288h1v1h-1zM111 288h3v1h-3zM159 288h1v1h-1zM184 288h1v1h-1zM111 289h1v1h-1zM114 289h1v1h-1zM184 289h1v1h-1zM159 290h1v1h-1zM184 290h1v1h-1zM160 291h1v1h-1zM162 291h1v1h-1zM174 291h1v1h-1zM184 291h1v1h-1zM64 292h1v1h-1zM165 293h1v1h-1zM124 294h1v1h-1zM146 294h1v1h-1zM125 295h1v1h-1zM178 295h4v1h-4zM113 296h1v1h-1zM170 296h1v1h-1zM179 296h4v1h-4zM185 296h1v1h-1zM112 297h1v1h-1zM180 297h1v1h-1zM184 297h1v1h-1zM209 297h2v1h-2zM111 298h1v1h-1zM166 298h1v1h-1zM171 298h1v1h-1zM179 298h1v1h-1zM184 298h1v1h-1zM187 298h2v1h-2zM66 299h1v1h-1zM171 299h1v1h-1zM177 299h1v1h-1zM187 299h2v1h-2zM192 299h1v1h-1zM106 300h2v1h-2zM168 300h1v1h-1zM189 300h3v1h-3zM105 301h1v1h-1zM108 301h3v1h-3zM175 301h1v1h-1zM104 302h1v1h-1zM175 302h1v1h-1zM102 303h1v1h-1zM112 303h1v1h-1zM175 303h1v1h-1zM101 304h1v1h-1zM112 304h1v1h-1zM175 304h1v1h-1zM101 305h1v1h-1zM101 306h1v1h-1zM68 307h1v1h-1zM153 308h1v1h-1zM181 308h1v1h-1zM140 309h1v1h-1zM152 309h1v1h-1zM156 309h1v1h-1zM152 310h1v1h-1zM156 310h1v1h-1zM176 310h1v1h-1zM176 311h1v1h-1zM69 313h1v1h-1zM173 313h1v1h-1zM181 313h1v1h-1zM69 314h1v1h-1zM101 314h1v1h-1zM192 314h1v1h-1zM179 315h1v1h-1zM189 315h1v1h-1zM203 315h1v1h-1zM103 316h1v1h-1zM105 316h2v1h-2zM178 316h1v1h-1zM202 316h1v1h-1zM109 317h2v1h-2zM156 317h1v1h-1zM159 317h1v1h-1zM118 318h1v1h-1zM120 318h1v1h-1zM173 318h1v1h-1zM198 318h1v1h-1zM197 319h1v1h-1zM70 320h1v1h-1zM184 320h1v1h-1zM197 320h1v1h-1zM184 321h1v1h-1zM197 321h1v1h-1zM103 322h1v1h-1zM184 322h1v1h-1zM61 324h1v1h-1zM68 324h1v1h-1zM71 324h1v1h-1zM101 324h1v1h-1zM107 324h1v1h-1zM133 324h1v1h-1zM196 324h1v1h-1zM62 325h1v1h-1zM69 325h1v1h-1zM111 325h1v1h-1zM132 325h1v1h-1zM196 325h1v1h-1zM70 326h1v1h-1zM103 326h1v1h-1zM105 326h1v1h-1zM110 326h2v1h-2zM187 326h1v1h-1zM193 326h2v1h-2zM196 326h1v1h-1zM72 327h1v1h-1zM100 327h1v1h-1zM112 327h1v1h-1zM132 327h1v1h-1zM197 327h1v1h-1zM66 328h1v1h-1zM69 328h1v1h-1zM103 328h1v1h-1zM105 328h1v1h-1zM108 328h1v1h-1zM133 328h2v1h-2zM195 328h1v1h-1zM73 330h1v1h-1zM98 331h1v1h-1zM97 332h1v1h-1zM111 332h1v1h-1zM96 333h1v1h-1zM95 334h1v1h-1zM143 334h1v1h-1zM76 335h1v1h-1zM114 335h2v1h-2zM143 335h1v1h-1zM92 336h1v1h-1zM113 336h1v1h-1zM88 337h1v1h-1zM116 339h1v1h-1z"/><path fill="#d7402f" d="M136 213h1v1h-1zM141 213h2v1h-2zM145 213h1v1h-1zM148 213h1v1h-1zM136 214h1v1h-1zM143 214h1v1h-1zM137 215h1v1h-1zM138 216h1v1h-1zM148 216h1v1h-1zM147 217h1v1h-1zM147 218h1v1h-1zM127 219h1v1h-1zM148 219h1v1h-1zM121 220h1v1h-1zM123 220h1v1h-1zM139 220h1v1h-1zM149 220h1v1h-1zM123 222h1v1h-1zM141 222h1v1h-1zM150 222h1v1h-1zM112 223h1v1h-1zM143 223h1v1h-1zM151 223h2v1h-2zM57 224h1v1h-1zM101 224h1v1h-1zM103 224h1v1h-1zM112 224h1v1h-1zM144 224h1v1h-1zM113 225h1v1h-1zM144 225h1v1h-1zM157 225h1v1h-1zM56 226h1v1h-1zM64 226h1v1h-1zM104 226h1v1h-1zM145 226h1v1h-1zM44 227h10v1h-10zM65 227h1v1h-1zM101 227h1v1h-1zM146 227h1v1h-1zM39 228h4v1h-4zM66 228h1v1h-1zM112 228h1v1h-1zM147 228h1v1h-1zM68 229h1v1h-1zM110 229h1v1h-1zM148 229h1v1h-1zM159 229h1v1h-1zM32 230h2v1h-2zM70 230h1v1h-1zM112 230h1v1h-1zM149 230h1v1h-1zM159 230h1v1h-1zM28 231h3v1h-3zM72 231h3v1h-3zM149 231h1v1h-1zM26 232h1v1h-1zM77 232h1v1h-1zM89 232h4v1h-4zM150 232h1v1h-1zM160 232h1v1h-1zM164 232h1v1h-1zM81 233h3v1h-3zM151 233h1v1h-1zM25 234h1v1h-1zM152 234h1v1h-1zM25 235h1v1h-1zM153 235h1v1h-1zM179 235h1v1h-1zM25 236h1v1h-1zM166 236h1v1h-1zM25 237h1v1h-1zM94 237h1v1h-1zM154 237h1v1h-1zM25 238h1v1h-1zM94 238h1v1h-1zM25 239h1v1h-1zM155 239h1v1h-1zM25 240h1v1h-1zM155 240h1v1h-1zM25 241h1v1h-1zM155 241h1v1h-1zM25 242h1v1h-1zM155 242h1v1h-1zM167 242h1v1h-1zM186 242h2v1h-2zM25 243h1v1h-1zM125 243h2v1h-2zM25 244h1v1h-1zM128 244h1v1h-1zM153 244h1v1h-1zM92 245h1v1h-1zM127 245h1v1h-1zM150 245h2v1h-2zM26 246h1v1h-1zM124 246h1v1h-1zM126 246h1v1h-1zM27 247h1v1h-1zM88 247h1v1h-1zM137 247h1v1h-1zM28 248h1v1h-1zM87 248h1v1h-1zM137 248h1v1h-1zM172 248h1v1h-1zM190 248h1v1h-1zM194 248h1v1h-1zM87 249h1v1h-1zM91 249h2v1h-2zM145 249h1v1h-1zM195 249h1v1h-1zM87 250h1v1h-1zM89 250h1v1h-1zM145 250h1v1h-1zM195 250h1v1h-1zM87 251h2v1h-2zM95 251h1v1h-1zM195 251h1v1h-1zM87 252h2v1h-2zM173 252h1v1h-1zM195 252h1v1h-1zM29 253h1v1h-1zM31 253h1v1h-1zM34 253h1v1h-1zM87 253h2v1h-2zM144 253h1v1h-1zM182 253h2v1h-2zM86 254h1v1h-1zM89 254h1v1h-1zM193 254h1v1h-1zM36 255h1v1h-1zM86 255h1v1h-1zM91 255h1v1h-1zM127 255h1v1h-1zM174 255h1v1h-1zM37 256h1v1h-1zM129 256h1v1h-1zM201 256h2v1h-2zM138 257h1v1h-1zM143 257h1v1h-1zM175 257h1v1h-1zM201 257h2v1h-2zM38 258h1v1h-1zM141 258h2v1h-2zM193 258h2v1h-2zM44 259h3v1h-3zM39 260h1v1h-1zM42 260h1v1h-1zM46 260h1v1h-1zM176 260h1v1h-1zM193 260h2v1h-2zM106 261h1v1h-1zM137 261h1v1h-1zM93 262h1v1h-1zM107 262h1v1h-1zM107 263h1v1h-1zM140 263h3v1h-3zM86 264h1v1h-1zM143 264h1v1h-1zM177 264h1v1h-1zM50 265h1v1h-1zM86 265h1v1h-1zM143 265h1v1h-1zM177 265h1v1h-1zM58 266h1v1h-1zM87 266h1v1h-1zM89 267h1v1h-1zM144 268h1v1h-1zM38 269h2v1h-2zM59 269h1v1h-1zM144 269h1v1h-1zM178 269h1v1h-1zM37 270h1v1h-1zM40 270h1v1h-1zM109 270h1v1h-1zM91 271h2v1h-2zM36 272h1v1h-1zM41 272h1v1h-1zM90 272h1v1h-1zM108 272h1v1h-1zM145 272h1v1h-1zM36 273h1v1h-1zM41 273h1v1h-1zM90 273h1v1h-1zM104 273h1v1h-1zM121 273h2v1h-2zM145 273h1v1h-1zM60 274h1v1h-1zM90 274h1v1h-1zM101 274h1v1h-1zM124 274h2v1h-2zM145 274h1v1h-1zM179 274h1v1h-1zM37 275h1v1h-1zM40 275h1v1h-1zM92 275h1v1h-1zM127 275h4v1h-4zM139 275h1v1h-1zM142 275h1v1h-1zM38 276h2v1h-2zM113 276h1v1h-1zM121 276h1v1h-1zM123 276h10v1h-10zM180 276h1v1h-1zM95 277h1v1h-1zM96 278h1v1h-1zM101 278h1v1h-1zM114 278h2v1h-2zM146 278h1v1h-1zM61 279h1v1h-1zM97 279h1v1h-1zM109 279h1v1h-1zM148 279h2v1h-2zM183 279h1v1h-1zM98 280h1v1h-1zM101 280h1v1h-1zM150 280h1v1h-1zM182 280h1v1h-1zM100 281h1v1h-1zM105 281h1v1h-1zM112 281h1v1h-1zM152 281h1v1h-1zM165 281h1v1h-1zM168 281h1v1h-1zM105 282h4v1h-4zM112 282h1v1h-1zM116 282h1v1h-1zM154 282h1v1h-1zM182 282h1v1h-1zM110 283h2v1h-2zM156 283h1v1h-1zM160 283h1v1h-1zM183 284h1v1h-1zM44 285h1v1h-1zM63 285h1v1h-1zM109 287h1v1h-1zM112 287h1v1h-1zM115 287h2v1h-2zM130 287h1v1h-1zM173 287h1v1h-1zM130 288h1v1h-1zM132 288h1v1h-1zM160 288h2v1h-2zM116 289h1v1h-1zM162 289h1v1h-1zM183 289h1v1h-1zM64 290h1v1h-1zM110 290h1v1h-1zM162 290h1v1h-1zM111 291h1v1h-1zM175 291h1v1h-1zM182 291h1v1h-1zM112 292h1v1h-1zM181 292h1v1h-1zM113 293h1v1h-1zM178 293h3v1h-3zM184 293h2v1h-2zM65 294h1v1h-1zM184 294h2v1h-2zM113 295h1v1h-1zM124 295h1v1h-1zM106 296h2v1h-2zM112 296h1v1h-1zM120 296h1v1h-1zM66 297h1v1h-1zM105 297h1v1h-1zM109 297h1v1h-1zM121 297h1v1h-1zM124 297h1v1h-1zM105 298h1v1h-1zM167 298h1v1h-1zM170 298h1v1h-1zM109 299h1v1h-1zM168 299h1v1h-1zM170 299h1v1h-1zM208 299h1v1h-1zM177 300h2v1h-2zM209 300h2v1h-2zM176 301h1v1h-1zM179 301h1v1h-1zM100 302h1v1h-1zM100 303h1v1h-1zM68 304h1v1h-1zM176 305h1v1h-1zM176 306h1v1h-1zM180 306h1v1h-1zM180 307h1v1h-1zM69 308h1v1h-1zM69 309h1v1h-1zM153 309h1v1h-1zM155 309h1v1h-1zM153 310h1v1h-1zM155 310h1v1h-1zM177 311h1v1h-1zM177 312h1v1h-1zM180 313h1v1h-1zM70 314h1v1h-1zM100 314h1v1h-1zM176 314h1v1h-1zM195 314h3v1h-3zM70 315h1v1h-1zM173 315h1v1h-1zM192 315h1v1h-1zM200 315h2v1h-2zM101 316h1v1h-1zM173 316h1v1h-1zM177 316h1v1h-1zM189 316h2v1h-2zM199 316h1v1h-1zM102 317h1v1h-1zM104 317h1v1h-1zM157 317h2v1h-2zM187 317h1v1h-1zM197 317h1v1h-1zM113 318h1v1h-1zM174 318h1v1h-1zM186 318h1v1h-1zM196 318h1v1h-1zM117 319h2v1h-2zM196 319h1v1h-1zM71 320h1v1h-1zM176 320h2v1h-2zM185 320h1v1h-1zM71 321h1v1h-1zM102 321h1v1h-1zM185 321h1v1h-1zM61 322h1v1h-1zM64 322h1v1h-1zM105 322h1v1h-1zM120 322h1v1h-1zM72 323h1v1h-1zM112 323h1v1h-1zM114 323h1v1h-1zM120 323h1v1h-1zM185 323h1v1h-1zM195 323h1v1h-1zM62 324h1v1h-1zM111 324h1v1h-1zM115 324h1v1h-1zM194 324h1v1h-1zM63 325h1v1h-1zM68 325h1v1h-1zM100 325h1v1h-1zM116 325h1v1h-1zM133 325h3v1h-3zM192 325h1v1h-1zM73 326h1v1h-1zM133 326h1v1h-1zM135 326h1v1h-1zM189 326h1v1h-1zM66 327h1v1h-1zM104 327h1v1h-1zM110 327h1v1h-1zM118 327h1v1h-1zM134 327h1v1h-1zM99 328h1v1h-1zM112 328h1v1h-1zM98 330h1v1h-1zM108 330h1v1h-1zM112 330h1v1h-1zM95 333h1v1h-1zM77 335h1v1h-1zM78 336h1v1h-1zM90 336h1v1h-1zM115 336h1v1h-1zM80 337h2v1h-2zM84 337h3v1h-3zM114 337h1v1h-1zM114 338h1v1h-1z"/><path fill="#db472d" d="M137 213h2v1h-2zM147 213h1v1h-1zM137 214h3v1h-3zM145 214h1v1h-1zM145 215h1v1h-1zM140 216h7v1h-7zM144 217h2v1h-2zM139 218h1v1h-1zM145 218h1v1h-1zM139 219h1v1h-1zM145 219h2v1h-2zM145 220h3v1h-3zM122 221h1v1h-1zM141 221h1v1h-1zM144 221h4v1h-4zM144 222h5v1h-5zM59 223h1v1h-1zM145 223h5v1h-5zM113 224h1v1h-1zM146 224h5v1h-5zM154 224h2v1h-2zM61 225h1v1h-1zM101 225h1v1h-1zM103 225h1v1h-1zM147 225h6v1h-6zM61 226h1v1h-1zM101 226h1v1h-1zM103 226h1v1h-1zM147 226h6v1h-6zM157 226h1v1h-1zM57 227h6v1h-6zM148 227h5v1h-5zM158 227h1v1h-1zM52 228h13v1h-13zM149 228h4v1h-4zM37 229h1v1h-1zM40 229h1v1h-1zM43 229h9v1h-9zM57 229h3v1h-3zM64 229h2v1h-2zM111 229h1v1h-1zM150 229h3v1h-3zM35 230h1v1h-1zM42 230h9v1h-9zM65 230h2v1h-2zM151 230h2v1h-2zM32 231h1v1h-1zM42 231h5v1h-5zM66 231h3v1h-3zM152 231h1v1h-1zM30 232h2v1h-2zM66 232h7v1h-7zM152 232h1v1h-1zM162 232h2v1h-2zM201 232h1v1h-1zM28 233h3v1h-3zM68 233h4v1h-4zM77 233h2v1h-2zM93 233h1v1h-1zM153 233h1v1h-1zM159 233h2v1h-2zM203 233h1v1h-1zM27 234h3v1h-3zM80 234h3v1h-3zM154 234h1v1h-1zM203 234h1v1h-1zM27 235h3v1h-3zM84 235h3v1h-3zM155 235h1v1h-1zM201 235h1v1h-1zM27 236h3v1h-3zM155 236h2v1h-2zM178 236h1v1h-1zM27 237h3v1h-3zM156 237h1v1h-1zM166 237h1v1h-1zM27 238h3v1h-3zM156 238h1v1h-1zM166 238h1v1h-1zM27 239h4v1h-4zM166 239h1v1h-1zM27 240h4v1h-4zM94 240h1v1h-1zM166 240h1v1h-1zM27 241h6v1h-6zM27 242h7v1h-7zM27 243h9v1h-9zM94 243h1v1h-1zM166 243h1v1h-1zM27 244h9v1h-9zM93 244h1v1h-1zM125 244h2v1h-2zM167 244h1v1h-1zM28 245h8v1h-8zM90 245h1v1h-1zM125 245h2v1h-2zM168 245h1v1h-1zM28 246h8v1h-8zM88 246h1v1h-1zM148 246h3v1h-3zM29 247h6v1h-6zM87 247h1v1h-1zM136 247h1v1h-1zM30 248h5v1h-5zM86 248h1v1h-1zM136 248h1v1h-1zM146 248h1v1h-1zM191 248h3v1h-3zM31 249h4v1h-4zM85 249h1v1h-1zM172 249h1v1h-1zM194 249h1v1h-1zM30 250h5v1h-5zM84 250h2v1h-2zM172 250h1v1h-1zM30 251h3v1h-3zM34 251h2v1h-2zM84 251h2v1h-2zM172 251h1v1h-1zM30 252h2v1h-2zM36 252h1v1h-1zM84 252h1v1h-1zM89 252h1v1h-1zM145 252h1v1h-1zM172 252h1v1h-1zM194 252h1v1h-1zM36 253h1v1h-1zM84 253h1v1h-1zM145 253h1v1h-1zM190 253h1v1h-1zM193 253h1v1h-1zM45 254h2v1h-2zM83 254h2v1h-2zM90 254h1v1h-1zM94 254h1v1h-1zM173 254h1v1h-1zM191 254h1v1h-1zM37 255h1v1h-1zM45 255h5v1h-5zM83 255h2v1h-2zM44 256h6v1h-6zM84 256h1v1h-1zM127 256h2v1h-2zM144 256h1v1h-1zM44 257h1v1h-1zM47 257h3v1h-3zM85 257h1v1h-1zM144 257h1v1h-1zM174 257h1v1h-1zM43 258h1v1h-1zM48 258h2v1h-2zM85 258h1v1h-1zM140 258h1v1h-1zM39 259h1v1h-1zM42 259h1v1h-1zM48 259h1v1h-1zM143 259h1v1h-1zM175 259h1v1h-1zM47 260h1v1h-1zM85 260h1v1h-1zM137 260h1v1h-1zM143 260h1v1h-1zM143 261h1v1h-1zM46 262h1v1h-1zM84 262h1v1h-1zM106 262h1v1h-1zM142 262h2v1h-2zM83 263h2v1h-2zM106 263h1v1h-1zM176 263h1v1h-1zM49 264h1v1h-1zM83 264h2v1h-2zM176 264h1v1h-1zM57 265h1v1h-1zM84 265h1v1h-1zM144 265h1v1h-1zM53 266h2v1h-2zM84 266h2v1h-2zM144 266h1v1h-1zM28 267h1v1h-1zM84 267h4v1h-4zM26 268h1v1h-1zM90 268h3v1h-3zM145 268h1v1h-1zM177 268h1v1h-1zM93 269h1v1h-1zM145 269h1v1h-1zM90 270h3v1h-3zM110 270h1v1h-1zM26 271h1v1h-1zM38 271h2v1h-2zM89 271h1v1h-1zM146 271h1v1h-1zM178 271h1v1h-1zM28 272h1v1h-1zM37 272h1v1h-1zM40 272h1v1h-1zM60 272h1v1h-1zM87 272h2v1h-2zM113 272h1v1h-1zM140 272h1v1h-1zM146 272h1v1h-1zM178 272h1v1h-1zM37 273h1v1h-1zM40 273h1v1h-1zM87 273h2v1h-2zM106 273h1v1h-1zM109 273h1v1h-1zM139 273h1v1h-1zM146 273h1v1h-1zM38 274h2v1h-2zM88 274h1v1h-1zM102 274h3v1h-3zM113 274h1v1h-1zM121 274h2v1h-2zM139 274h1v1h-1zM88 275h3v1h-3zM101 275h1v1h-1zM109 275h1v1h-1zM121 275h3v1h-3zM140 275h2v1h-2zM89 276h2v1h-2zM92 276h1v1h-1zM101 276h1v1h-1zM107 276h2v1h-2zM61 277h1v1h-1zM94 277h1v1h-1zM107 277h2v1h-2zM179 277h1v1h-1zM181 277h2v1h-2zM102 278h1v1h-1zM147 278h5v1h-5zM179 278h2v1h-2zM106 279h1v1h-1zM110 279h4v1h-4zM152 279h1v1h-1zM179 279h4v1h-4zM103 280h2v1h-2zM153 280h1v1h-1zM179 280h2v1h-2zM116 281h1v1h-1zM154 281h1v1h-1zM164 281h1v1h-1zM169 281h1v1h-1zM100 282h1v1h-1zM104 282h1v1h-1zM113 282h1v1h-1zM161 282h1v1h-1zM181 282h1v1h-1zM105 283h1v1h-1zM107 283h1v1h-1zM109 283h1v1h-1zM157 283h1v1h-1zM159 283h1v1h-1zM182 283h1v1h-1zM63 284h1v1h-1zM110 284h4v1h-4zM110 285h1v1h-1zM113 285h1v1h-1zM173 285h1v1h-1zM108 286h1v1h-1zM111 286h2v1h-2zM183 286h1v1h-1zM108 287h1v1h-1zM131 287h1v1h-1zM183 287h1v1h-1zM116 288h1v1h-1zM109 289h1v1h-1zM161 289h1v1h-1zM175 290h1v1h-1zM110 291h1v1h-1zM111 292h1v1h-1zM112 293h1v1h-1zM105 295h3v1h-3zM112 295h1v1h-1zM166 295h2v1h-2zM66 296h1v1h-1zM110 296h1v1h-1zM122 296h2v1h-2zM168 296h1v1h-1zM123 297h1v1h-1zM167 297h1v1h-1zM169 297h1v1h-1zM168 298h2v1h-2zM67 299h1v1h-1zM104 299h1v1h-1zM209 299h2v1h-2zM99 300h2v1h-2zM98 301h1v1h-1zM98 302h1v1h-1zM178 302h1v1h-1zM68 303h1v1h-1zM179 304h1v1h-1zM179 305h1v1h-1zM69 306h1v1h-1zM177 307h1v1h-1zM98 308h1v1h-1zM177 308h1v1h-1zM98 309h1v1h-1zM98 310h1v1h-1zM180 310h1v1h-1zM98 311h1v1h-1zM180 311h1v1h-1zM70 312h1v1h-1zM98 312h1v1h-1zM178 312h2v1h-2zM99 314h1v1h-1zM174 315h2v1h-2zM194 315h3v1h-3zM100 316h1v1h-1zM174 316h1v1h-1zM176 316h1v1h-1zM192 316h2v1h-2zM196 316h1v1h-1zM71 317h1v1h-1zM101 317h1v1h-1zM105 317h2v1h-2zM176 317h1v1h-1zM189 317h2v1h-2zM195 317h1v1h-1zM71 318h1v1h-1zM157 318h2v1h-2zM175 318h2v1h-2zM195 318h1v1h-1zM102 319h2v1h-2zM113 319h1v1h-1zM176 319h1v1h-1zM102 320h1v1h-1zM113 320h1v1h-1zM115 320h1v1h-1zM112 321h3v1h-3zM106 322h1v1h-1zM114 322h1v1h-1zM194 322h1v1h-1zM62 323h3v1h-3zM111 323h1v1h-1zM115 323h1v1h-1zM63 324h1v1h-1zM65 324h1v1h-1zM73 324h1v1h-1zM100 324h1v1h-1zM109 324h2v1h-2zM116 324h1v1h-1zM119 324h1v1h-1zM64 325h1v1h-1zM67 325h1v1h-1zM119 325h1v1h-1zM187 325h1v1h-1zM191 325h1v1h-1zM66 326h2v1h-2zM117 326h1v1h-1zM119 326h1v1h-1zM74 327h1v1h-1zM99 327h1v1h-1zM111 328h1v1h-1zM74 330h1v1h-1zM74 331h1v1h-1zM110 331h1v1h-1zM76 334h1v1h-1zM93 334h1v1h-1zM91 335h1v1h-1z"/><path fill="#d9442e" d="M139 213h2v1h-2zM146 213h1v1h-1zM140 214h3v1h-3zM144 214h1v1h-1zM148 214h1v1h-1zM138 215h7v1h-7zM148 215h1v1h-1zM139 216h1v1h-1zM147 216h1v1h-1zM139 217h1v1h-1zM146 217h1v1h-1zM146 218h1v1h-1zM147 219h1v1h-1zM122 220h1v1h-1zM148 220h1v1h-1zM121 221h1v1h-1zM123 221h1v1h-1zM140 221h1v1h-1zM148 221h2v1h-2zM122 222h1v1h-1zM142 222h2v1h-2zM149 222h1v1h-1zM58 223h1v1h-1zM60 223h1v1h-1zM113 223h2v1h-2zM144 223h1v1h-1zM150 223h1v1h-1zM61 224h1v1h-1zM102 224h1v1h-1zM114 224h1v1h-1zM145 224h1v1h-1zM151 224h3v1h-3zM156 224h1v1h-1zM57 225h1v1h-1zM62 225h1v1h-1zM145 225h2v1h-2zM57 226h1v1h-1zM62 226h2v1h-2zM146 226h1v1h-1zM54 227h3v1h-3zM63 227h2v1h-2zM102 227h2v1h-2zM147 227h1v1h-1zM43 228h9v1h-9zM65 228h1v1h-1zM111 228h1v1h-1zM148 228h1v1h-1zM36 229h1v1h-1zM41 229h2v1h-2zM66 229h2v1h-2zM112 229h1v1h-1zM149 229h1v1h-1zM34 230h1v1h-1zM67 230h3v1h-3zM111 230h1v1h-1zM150 230h1v1h-1zM31 231h1v1h-1zM69 231h3v1h-3zM150 231h2v1h-2zM159 231h1v1h-1zM27 232h3v1h-3zM73 232h4v1h-4zM151 232h1v1h-1zM159 232h1v1h-1zM161 232h1v1h-1zM200 232h1v1h-1zM202 232h1v1h-1zM26 233h2v1h-2zM79 233h2v1h-2zM87 233h1v1h-1zM152 233h1v1h-1zM199 233h1v1h-1zM26 234h1v1h-1zM83 234h4v1h-4zM94 234h1v1h-1zM153 234h1v1h-1zM165 234h1v1h-1zM199 234h1v1h-1zM26 235h1v1h-1zM94 235h1v1h-1zM154 235h1v1h-1zM177 235h2v1h-2zM200 235h1v1h-1zM202 235h1v1h-1zM26 236h1v1h-1zM94 236h1v1h-1zM154 236h1v1h-1zM177 236h1v1h-1zM179 236h1v1h-1zM26 237h1v1h-1zM155 237h1v1h-1zM178 237h2v1h-2zM26 238h1v1h-1zM155 238h1v1h-1zM26 239h1v1h-1zM94 239h1v1h-1zM26 240h1v1h-1zM26 241h1v1h-1zM166 241h1v1h-1zM26 242h1v1h-1zM166 242h1v1h-1zM26 243h1v1h-1zM155 243h1v1h-1zM167 243h1v1h-1zM186 243h2v1h-2zM26 244h1v1h-1zM124 244h1v1h-1zM127 244h1v1h-1zM154 244h1v1h-1zM168 244h1v1h-1zM26 245h2v1h-2zM91 245h1v1h-1zM124 245h1v1h-1zM152 245h1v1h-1zM169 245h1v1h-1zM27 246h1v1h-1zM89 246h1v1h-1zM125 246h1v1h-1zM147 246h1v1h-1zM170 246h1v1h-1zM28 247h1v1h-1zM135 247h1v1h-1zM146 247h1v1h-1zM171 247h1v1h-1zM29 248h1v1h-1zM135 248h1v1h-1zM29 249h2v1h-2zM86 249h1v1h-1zM29 250h1v1h-1zM86 250h1v1h-1zM90 250h1v1h-1zM94 250h1v1h-1zM189 250h1v1h-1zM29 251h1v1h-1zM33 251h1v1h-1zM86 251h1v1h-1zM89 251h1v1h-1zM145 251h1v1h-1zM189 251h1v1h-1zM29 252h1v1h-1zM32 252h4v1h-4zM85 252h2v1h-2zM95 252h1v1h-1zM182 252h2v1h-2zM189 252h1v1h-1zM30 253h1v1h-1zM35 253h1v1h-1zM85 253h2v1h-2zM89 253h1v1h-1zM95 253h1v1h-1zM173 253h1v1h-1zM194 253h1v1h-1zM36 254h1v1h-1zM85 254h1v1h-1zM144 254h1v1h-1zM190 254h1v1h-1zM192 254h1v1h-1zM85 255h1v1h-1zM92 255h2v1h-2zM128 255h1v1h-1zM144 255h1v1h-1zM85 256h1v1h-1zM174 256h1v1h-1zM38 257h1v1h-1zM45 257h2v1h-2zM127 257h2v1h-2zM44 258h4v1h-4zM137 258h1v1h-1zM143 258h1v1h-1zM175 258h1v1h-1zM43 259h1v1h-1zM47 259h1v1h-1zM142 259h1v1h-1zM193 259h2v1h-2zM40 260h2v1h-2zM46 261h1v1h-1zM85 261h1v1h-1zM176 261h1v1h-1zM85 262h1v1h-1zM105 262h1v1h-1zM138 262h1v1h-1zM176 262h1v1h-1zM46 263h1v1h-1zM85 263h1v1h-1zM105 263h1v1h-1zM143 263h1v1h-1zM48 264h1v1h-1zM85 264h1v1h-1zM85 265h1v1h-1zM52 266h1v1h-1zM55 266h1v1h-1zM86 266h1v1h-1zM177 266h1v1h-1zM27 267h1v1h-1zM29 267h1v1h-1zM88 267h1v1h-1zM144 267h1v1h-1zM177 267h1v1h-1zM30 268h1v1h-1zM59 268h1v1h-1zM93 268h1v1h-1zM197 269h2v1h-2zM38 270h2v1h-2zM93 270h1v1h-1zM111 270h1v1h-1zM145 270h1v1h-1zM178 270h1v1h-1zM197 270h2v1h-2zM30 271h1v1h-1zM37 271h1v1h-1zM40 271h1v1h-1zM90 271h1v1h-1zM145 271h1v1h-1zM27 272h1v1h-1zM29 272h1v1h-1zM89 272h1v1h-1zM139 272h1v1h-1zM141 272h1v1h-1zM60 273h1v1h-1zM89 273h1v1h-1zM105 273h1v1h-1zM107 273h2v1h-2zM142 273h1v1h-1zM37 274h1v1h-1zM40 274h1v1h-1zM89 274h1v1h-1zM108 274h2v1h-2zM120 274h1v1h-1zM123 274h1v1h-1zM142 274h1v1h-1zM38 275h2v1h-2zM91 275h1v1h-1zM108 275h1v1h-1zM113 275h1v1h-1zM120 275h1v1h-1zM124 275h3v1h-3zM145 275h1v1h-1zM179 275h1v1h-1zM93 276h1v1h-1zM122 276h1v1h-1zM145 276h1v1h-1zM179 276h1v1h-1zM101 277h1v1h-1zM113 277h1v1h-1zM180 277h1v1h-1zM61 278h1v1h-1zM107 278h2v1h-2zM113 278h1v1h-1zM183 278h1v1h-1zM102 279h1v1h-1zM116 279h1v1h-1zM150 279h2v1h-2zM199 279h2v1h-2zM102 280h1v1h-1zM105 280h1v1h-1zM112 280h1v1h-1zM151 280h2v1h-2zM181 280h1v1h-1zM199 280h2v1h-2zM62 281h1v1h-1zM99 281h1v1h-1zM101 281h4v1h-4zM153 281h1v1h-1zM181 281h1v1h-1zM155 282h1v1h-1zM162 282h1v1h-1zM170 282h1v1h-1zM106 283h1v1h-1zM112 283h3v1h-3zM172 283h1v1h-1zM183 285h1v1h-1zM109 286h2v1h-2zM113 286h1v1h-1zM131 286h2v1h-2zM173 286h1v1h-1zM132 287h1v1h-1zM195 287h2v1h-2zM109 288h1v1h-1zM115 288h1v1h-1zM131 288h1v1h-1zM183 288h1v1h-1zM195 288h2v1h-2zM64 289h1v1h-1zM160 289h1v1h-1zM174 289h1v1h-1zM160 290h2v1h-2zM182 290h1v1h-1zM176 291h1v1h-1zM181 291h1v1h-1zM177 292h4v1h-4zM65 293h1v1h-1zM113 294h1v1h-1zM166 294h2v1h-2zM121 295h3v1h-3zM168 295h1v1h-1zM105 296h1v1h-1zM108 296h2v1h-2zM111 296h1v1h-1zM121 296h1v1h-1zM124 296h1v1h-1zM166 296h1v1h-1zM169 296h1v1h-1zM122 297h1v1h-1zM209 298h2v1h-2zM169 299h1v1h-1zM67 300h1v1h-1zM104 300h1v1h-1zM99 301h5v1h-5zM177 301h2v1h-2zM99 302h1v1h-1zM176 302h1v1h-1zM179 302h1v1h-1zM99 303h1v1h-1zM176 303h1v1h-1zM179 303h1v1h-1zM99 304h1v1h-1zM176 304h1v1h-1zM99 305h1v1h-1zM99 306h1v1h-1zM69 307h1v1h-1zM99 307h1v1h-1zM99 308h1v1h-1zM180 308h1v1h-1zM99 309h1v1h-1zM154 309h1v1h-1zM177 309h1v1h-1zM180 309h1v1h-1zM99 310h1v1h-1zM154 310h1v1h-1zM177 310h1v1h-1zM99 311h1v1h-1zM99 312h1v1h-1zM180 312h1v1h-1zM70 313h1v1h-1zM99 313h1v1h-1zM178 313h2v1h-2zM174 314h2v1h-2zM100 315h1v1h-1zM176 315h1v1h-1zM193 315h1v1h-1zM197 315h3v1h-3zM191 316h1v1h-1zM197 316h2v1h-2zM107 317h1v1h-1zM174 317h1v1h-1zM177 317h1v1h-1zM188 317h1v1h-1zM196 317h1v1h-1zM102 318h2v1h-2zM109 318h4v1h-4zM177 318h1v1h-1zM187 318h1v1h-1zM71 319h1v1h-1zM157 319h2v1h-2zM175 319h1v1h-1zM177 319h1v1h-1zM186 319h1v1h-1zM195 319h1v1h-1zM103 320h1v1h-1zM114 320h1v1h-1zM119 320h1v1h-1zM195 320h1v1h-1zM104 321h1v1h-1zM195 321h1v1h-1zM62 322h2v1h-2zM72 322h1v1h-1zM101 322h1v1h-1zM112 322h2v1h-2zM185 322h1v1h-1zM195 322h1v1h-1zM65 323h1v1h-1zM107 323h1v1h-1zM194 323h1v1h-1zM66 324h1v1h-1zM108 324h1v1h-1zM193 324h1v1h-1zM73 325h1v1h-1zM65 326h1v1h-1zM68 326h1v1h-1zM134 326h1v1h-1zM67 327h2v1h-2zM74 328h1v1h-1zM109 328h1v1h-1zM74 329h1v1h-1zM112 329h1v1h-1zM97 331h1v1h-1zM109 331h1v1h-1zM111 331h1v1h-1zM74 332h1v1h-1zM96 332h1v1h-1zM92 335h1v1h-1zM88 336h2v1h-2zM115 337h1v1h-1zM115 338h1v1h-1z"/><path fill="#d53d30" d="M143 213h2v1h-2zM129 215h1v1h-1zM128 216h2v1h-2zM128 217h1v1h-1zM138 217h1v1h-1zM148 217h1v1h-1zM127 218h2v1h-2zM138 218h1v1h-1zM148 218h1v1h-1zM128 219h1v1h-1zM149 219h1v1h-1zM127 220h2v1h-2zM150 221h1v1h-1zM113 222h1v1h-1zM121 222h1v1h-1zM151 222h1v1h-1zM61 223h1v1h-1zM142 223h1v1h-1zM153 223h3v1h-3zM62 224h1v1h-1zM143 224h1v1h-1zM56 225h1v1h-1zM63 225h1v1h-1zM100 225h1v1h-1zM104 225h1v1h-1zM112 225h1v1h-1zM114 225h1v1h-1zM130 225h1v1h-1zM54 226h2v1h-2zM65 226h1v1h-1zM100 226h1v1h-1zM144 226h1v1h-1zM158 226h1v1h-1zM42 227h2v1h-2zM66 227h1v1h-1zM104 227h1v1h-1zM145 227h1v1h-1zM38 228h1v1h-1zM67 228h1v1h-1zM103 228h1v1h-1zM110 228h1v1h-1zM146 228h1v1h-1zM159 228h1v1h-1zM35 229h1v1h-1zM69 229h1v1h-1zM147 229h1v1h-1zM30 230h2v1h-2zM71 230h2v1h-2zM110 230h1v1h-1zM148 230h1v1h-1zM27 231h1v1h-1zM75 231h1v1h-1zM160 231h1v1h-1zM78 232h3v1h-3zM88 232h1v1h-1zM93 232h1v1h-1zM105 232h1v1h-1zM199 232h1v1h-1zM203 232h1v1h-1zM25 233h1v1h-1zM84 233h3v1h-3zM94 233h1v1h-1zM105 233h2v1h-2zM127 233h1v1h-1zM150 233h1v1h-1zM165 233h1v1h-1zM126 234h2v1h-2zM151 234h1v1h-1zM178 234h1v1h-1zM126 235h2v1h-2zM152 235h1v1h-1zM203 235h1v1h-1zM126 236h1v1h-1zM153 236h1v1h-1zM180 236h1v1h-1zM177 237h1v1h-1zM180 237h1v1h-1zM154 238h1v1h-1zM178 238h2v1h-2zM167 241h1v1h-1zM95 242h1v1h-1zM124 243h1v1h-1zM127 243h3v1h-3zM154 243h1v1h-1zM168 243h1v1h-1zM94 244h1v1h-1zM129 244h1v1h-1zM152 244h1v1h-1zM169 244h1v1h-1zM186 244h2v1h-2zM25 245h1v1h-1zM149 245h1v1h-1zM90 246h1v1h-1zM109 246h1v1h-1zM135 246h2v1h-2zM26 247h1v1h-1zM109 247h1v1h-1zM134 247h1v1h-1zM192 247h2v1h-2zM27 248h1v1h-1zM88 248h1v1h-1zM134 248h1v1h-1zM145 248h1v1h-1zM28 249h1v1h-1zM88 249h1v1h-1zM90 249h1v1h-1zM93 249h1v1h-1zM135 249h2v1h-2zM189 249h1v1h-1zM28 250h1v1h-1zM88 250h1v1h-1zM28 251h1v1h-1zM144 251h1v1h-1zM173 251h1v1h-1zM182 251h2v1h-2zM28 252h1v1h-1zM144 252h1v1h-1zM181 252h1v1h-1zM184 252h1v1h-1zM32 253h2v1h-2zM189 253h1v1h-1zM35 254h1v1h-1zM87 254h2v1h-2zM95 254h1v1h-1zM174 254h1v1h-1zM90 255h1v1h-1zM94 255h1v1h-1zM129 255h1v1h-1zM190 255h3v1h-3zM86 256h1v1h-1zM126 256h1v1h-1zM143 256h1v1h-1zM175 256h1v1h-1zM37 257h1v1h-1zM86 257h1v1h-1zM126 257h1v1h-1zM129 257h1v1h-1zM137 257h1v1h-1zM139 257h1v1h-1zM86 258h1v1h-1zM136 258h1v1h-1zM202 258h1v1h-1zM38 259h1v1h-1zM86 259h1v1h-1zM136 259h1v1h-1zM176 259h1v1h-1zM192 259h1v1h-1zM195 259h1v1h-1zM43 260h3v1h-3zM86 260h1v1h-1zM41 261h1v1h-1zM45 261h1v1h-1zM86 261h1v1h-1zM105 261h1v1h-1zM45 262h1v1h-1zM86 262h1v1h-1zM177 262h1v1h-1zM86 263h1v1h-1zM139 263h1v1h-1zM177 263h1v1h-1zM47 264h1v1h-1zM106 264h1v1h-1zM51 266h1v1h-1zM56 266h1v1h-1zM143 266h1v1h-1zM178 268h1v1h-1zM197 268h2v1h-2zM25 269h1v1h-1zM37 269h1v1h-1zM40 269h1v1h-1zM94 269h1v1h-1zM196 269h1v1h-1zM199 269h1v1h-1zM25 270h1v1h-1zM144 270h1v1h-1zM196 270h1v1h-1zM199 270h1v1h-1zM36 271h1v1h-1zM41 271h1v1h-1zM93 271h1v1h-1zM108 271h1v1h-1zM113 271h1v1h-1zM144 271h1v1h-1zM197 271h2v1h-2zM91 272h1v1h-1zM106 272h2v1h-2zM142 272h1v1h-1zM144 272h1v1h-1zM179 272h1v1h-1zM102 273h2v1h-2zM120 273h1v1h-1zM123 273h1v1h-1zM138 273h1v1h-1zM143 273h2v1h-2zM179 273h1v1h-1zM36 274h1v1h-1zM41 274h1v1h-1zM91 274h1v1h-1zM126 274h1v1h-1zM138 274h1v1h-1zM143 274h2v1h-2zM36 275h1v1h-1zM60 275h1v1h-1zM100 275h1v1h-1zM131 275h2v1h-2zM143 275h2v1h-2zM37 276h1v1h-1zM40 276h1v1h-1zM94 276h1v1h-1zM100 276h1v1h-1zM120 276h1v1h-1zM133 276h1v1h-1zM141 276h1v1h-1zM181 276h1v1h-1zM130 277h3v1h-3zM145 277h1v1h-1zM183 277h1v1h-1zM199 278h2v1h-2zM101 279h1v1h-1zM107 279h2v1h-2zM198 279h1v1h-1zM201 279h1v1h-1zM99 280h2v1h-2zM106 280h1v1h-1zM111 280h1v1h-1zM149 280h1v1h-1zM198 280h1v1h-1zM201 280h1v1h-1zM106 281h1v1h-1zM151 281h1v1h-1zM166 281h2v1h-2zM182 281h1v1h-1zM199 281h2v1h-2zM62 282h1v1h-1zM109 282h1v1h-1zM152 282h2v1h-2zM163 282h1v1h-1zM115 283h1v1h-1zM155 283h1v1h-1zM171 283h1v1h-1zM183 283h1v1h-1zM44 284h1v1h-1zM114 284h1v1h-1zM158 284h1v1h-1zM172 284h1v1h-1zM54 285h2v1h-2zM114 285h1v1h-1zM131 285h2v1h-2zM44 286h1v1h-1zM53 286h3v1h-3zM63 286h1v1h-1zM114 286h1v1h-1zM130 286h1v1h-1zM133 286h1v1h-1zM195 286h2v1h-2zM110 287h2v1h-2zM113 287h2v1h-2zM133 287h1v1h-1zM194 287h1v1h-1zM197 287h1v1h-1zM114 288h1v1h-1zM117 288h1v1h-1zM162 288h1v1h-1zM173 288h1v1h-1zM194 288h1v1h-1zM197 288h1v1h-1zM110 289h1v1h-1zM115 289h1v1h-1zM131 289h1v1h-1zM195 289h2v1h-2zM174 290h1v1h-1zM183 290h1v1h-1zM64 291h1v1h-1zM183 291h1v1h-1zM176 292h1v1h-1zM182 292h3v1h-3zM177 293h1v1h-1zM181 293h3v1h-3zM165 294h1v1h-1zM168 294h1v1h-1zM183 294h1v1h-1zM186 294h1v1h-1zM120 295h1v1h-1zM165 295h1v1h-1zM184 295h2v1h-2zM106 297h3v1h-3zM110 297h1v1h-1zM120 297h1v1h-1zM166 297h1v1h-1zM170 297h1v1h-1zM108 298h3v1h-3zM122 298h2v1h-2zM181 298h2v1h-2zM208 298h1v1h-1zM105 299h1v1h-1zM108 299h1v1h-1zM110 299h1v1h-1zM181 299h2v1h-2zM109 300h1v1h-1zM169 300h1v1h-1zM179 300h1v1h-1zM67 301h1v1h-1zM104 301h1v1h-1zM101 302h2v1h-2zM100 304h1v1h-1zM68 305h1v1h-1zM100 305h1v1h-1zM180 305h1v1h-1zM100 306h1v1h-1zM100 307h1v1h-1zM176 307h1v1h-1zM100 308h1v1h-1zM154 308h1v1h-1zM100 309h1v1h-1zM69 310h1v1h-1zM69 311h1v1h-1zM154 311h1v1h-1zM181 311h1v1h-1zM100 312h1v1h-1zM100 313h1v1h-1zM175 313h3v1h-3zM173 314h1v1h-1zM177 314h3v1h-3zM194 314h1v1h-1zM198 314h4v1h-4zM101 315h1v1h-1zM177 315h1v1h-1zM191 315h1v1h-1zM202 315h1v1h-1zM70 316h1v1h-1zM188 316h1v1h-1zM200 316h1v1h-1zM70 317h1v1h-1zM103 317h1v1h-1zM198 317h1v1h-1zM70 318h1v1h-1zM156 318h1v1h-1zM159 318h1v1h-1zM197 318h1v1h-1zM114 319h1v1h-1zM116 319h1v1h-1zM119 319h1v1h-1zM156 319h1v1h-1zM159 319h1v1h-1zM178 319h1v1h-1zM185 319h1v1h-1zM120 320h1v1h-1zM175 320h1v1h-1zM196 320h1v1h-1zM62 321h1v1h-1zM103 321h1v1h-1zM120 321h1v1h-1zM196 321h1v1h-1zM71 322h1v1h-1zM196 322h1v1h-1zM61 323h1v1h-1zM66 323h1v1h-1zM101 323h1v1h-1zM113 323h1v1h-1zM67 324h1v1h-1zM72 324h1v1h-1zM120 324h1v1h-1zM195 324h1v1h-1zM120 325h1v1h-1zM186 325h1v1h-1zM193 325h2v1h-2zM64 326h1v1h-1zM69 326h1v1h-1zM100 326h1v1h-1zM104 326h1v1h-1zM116 326h1v1h-1zM188 326h1v1h-1zM190 326h1v1h-1zM69 327h1v1h-1zM73 327h1v1h-1zM103 327h1v1h-1zM111 327h1v1h-1zM117 327h1v1h-1zM119 327h1v1h-1zM133 327h1v1h-1zM135 327h1v1h-1zM108 329h1v1h-1zM110 332h1v1h-1zM94 334h1v1h-1zM93 335h1v1h-1zM91 336h1v1h-1zM114 336h1v1h-1zM82 337h2v1h-2zM116 337h1v1h-1zM116 338h1v1h-1zM114 339h2v1h-2z"/><path fill="#d64238" d="M129 214h2v1h-2zM128 215h1v1h-1zM130 215h1v1h-1zM136 215h1v1h-1zM130 216h1v1h-1zM137 216h1v1h-1zM127 217h1v1h-1zM129 217h1v1h-1zM182 217h2v1h-2zM149 218h1v1h-1zM126 219h1v1h-1zM138 219h1v1h-1zM124 220h1v1h-1zM150 220h1v1h-1zM124 221h1v1h-1zM139 221h1v1h-1zM151 221h1v1h-1zM114 222h1v1h-1zM140 222h1v1h-1zM152 222h1v1h-1zM115 223h1v1h-1zM141 223h1v1h-1zM115 224h1v1h-1zM129 224h2v1h-2zM142 224h1v1h-1zM64 225h1v1h-1zM129 225h1v1h-1zM131 225h1v1h-1zM143 225h1v1h-1zM45 226h9v1h-9zM113 226h1v1h-1zM131 226h1v1h-1zM41 227h1v1h-1zM67 227h1v1h-1zM111 227h2v1h-2zM159 227h1v1h-1zM37 228h1v1h-1zM68 228h1v1h-1zM102 228h1v1h-1zM104 228h1v1h-1zM134 228h1v1h-1zM145 228h1v1h-1zM33 229h2v1h-2zM70 229h1v1h-1zM113 229h1v1h-1zM134 229h1v1h-1zM146 229h1v1h-1zM28 230h2v1h-2zM73 230h1v1h-1zM147 230h1v1h-1zM26 231h1v1h-1zM76 231h2v1h-2zM104 231h2v1h-2zM111 231h1v1h-1zM129 231h2v1h-2zM148 231h1v1h-1zM161 231h3v1h-3zM25 232h1v1h-1zM81 232h2v1h-2zM104 232h1v1h-1zM106 232h1v1h-1zM127 232h4v1h-4zM149 232h1v1h-1zM104 233h1v1h-1zM126 233h1v1h-1zM128 233h1v1h-1zM198 233h1v1h-1zM24 234h1v1h-1zM105 234h2v1h-2zM177 234h1v1h-1zM24 235h1v1h-1zM151 235h1v1h-1zM166 235h1v1h-1zM176 235h1v1h-1zM180 235h1v1h-1zM199 235h1v1h-1zM24 236h1v1h-1zM127 236h1v1h-1zM152 236h1v1h-1zM24 237h1v1h-1zM126 237h1v1h-1zM153 237h1v1h-1zM24 238h1v1h-1zM24 239h1v1h-1zM135 239h1v1h-1zM154 239h1v1h-1zM167 239h1v1h-1zM24 240h1v1h-1zM135 240h1v1h-1zM154 240h1v1h-1zM167 240h1v1h-1zM24 241h1v1h-1zM95 241h1v1h-1zM24 242h1v1h-1zM154 242h1v1h-1zM168 242h1v1h-1zM185 242h1v1h-1zM188 242h1v1h-1zM24 243h1v1h-1zM95 243h1v1h-1zM153 243h1v1h-1zM185 243h1v1h-1zM188 243h1v1h-1zM24 244h1v1h-1zM123 244h1v1h-1zM151 244h1v1h-1zM93 245h1v1h-1zM109 245h1v1h-1zM123 245h1v1h-1zM128 245h1v1h-1zM148 245h1v1h-1zM170 245h1v1h-1zM25 246h1v1h-1zM91 246h1v1h-1zM108 246h1v1h-1zM110 246h1v1h-1zM146 246h1v1h-1zM171 246h1v1h-1zM89 247h1v1h-1zM108 247h1v1h-1zM125 247h1v1h-1zM172 247h1v1h-1zM191 247h1v1h-1zM194 247h1v1h-1zM108 248h1v1h-1zM195 248h1v1h-1zM89 249h1v1h-1zM94 249h1v1h-1zM125 249h1v1h-1zM95 250h1v1h-1zM124 250h2v1h-2zM144 250h1v1h-1zM173 250h1v1h-1zM130 252h2v1h-2zM130 253h2v1h-2zM174 253h1v1h-1zM181 253h1v1h-1zM184 253h1v1h-1zM195 253h1v1h-1zM30 254h1v1h-1zM34 254h1v1h-1zM128 254h2v1h-2zM143 254h1v1h-1zM189 254h1v1h-1zM194 254h1v1h-1zM87 255h3v1h-3zM126 255h1v1h-1zM143 255h1v1h-1zM175 255h1v1h-1zM193 255h1v1h-1zM201 255h1v1h-1zM36 256h1v1h-1zM135 256h1v1h-1zM200 256h1v1h-1zM135 257h2v1h-2zM140 257h1v1h-1zM142 257h1v1h-1zM193 257h2v1h-2zM200 257h1v1h-1zM203 257h1v1h-1zM127 258h2v1h-2zM176 258h1v1h-1zM192 258h1v1h-1zM195 258h1v1h-1zM201 258h1v1h-1zM203 258h1v1h-1zM203 259h1v1h-1zM33 261h1v1h-1zM40 261h1v1h-1zM42 261h1v1h-1zM93 261h1v1h-1zM107 261h1v1h-1zM177 261h1v1h-1zM33 262h1v1h-1zM92 262h1v1h-1zM94 262h1v1h-1zM104 262h1v1h-1zM45 263h1v1h-1zM93 263h1v1h-1zM104 263h1v1h-1zM46 264h1v1h-1zM87 264h1v1h-1zM105 264h1v1h-1zM142 264h1v1h-1zM87 265h1v1h-1zM57 266h1v1h-1zM88 266h1v1h-1zM178 266h1v1h-1zM26 267h1v1h-1zM30 267h1v1h-1zM58 267h1v1h-1zM90 267h3v1h-3zM143 267h1v1h-1zM178 267h1v1h-1zM38 268h2v1h-2zM94 268h1v1h-1zM143 268h1v1h-1zM31 269h1v1h-1zM31 270h1v1h-1zM36 270h1v1h-1zM41 270h1v1h-1zM59 270h1v1h-1zM94 270h1v1h-1zM112 270h1v1h-1zM179 270h1v1h-1zM140 271h2v1h-2zM179 271h1v1h-1zM26 272h1v1h-1zM30 272h1v1h-1zM105 272h1v1h-1zM138 272h1v1h-1zM143 272h1v1h-1zM91 273h1v1h-1zM114 273h1v1h-1zM92 274h1v1h-1zM114 274h1v1h-1zM119 274h1v1h-1zM127 274h2v1h-2zM41 275h1v1h-1zM93 275h1v1h-1zM119 275h1v1h-1zM133 275h1v1h-1zM180 275h1v1h-1zM36 276h1v1h-1zM60 276h1v1h-1zM134 276h1v1h-1zM140 276h1v1h-1zM142 276h1v1h-1zM144 276h1v1h-1zM182 276h1v1h-1zM37 277h3v1h-3zM100 277h1v1h-1zM114 277h1v1h-1zM128 277h2v1h-2zM133 277h1v1h-1zM37 278h1v1h-1zM97 278h1v1h-1zM100 278h1v1h-1zM116 278h1v1h-1zM36 279h2v1h-2zM98 279h3v1h-3zM147 279h1v1h-1zM36 280h2v1h-2zM61 280h1v1h-1zM107 280h1v1h-1zM110 280h1v1h-1zM117 280h1v1h-1zM183 280h1v1h-1zM107 281h2v1h-2zM111 281h1v1h-1zM150 281h1v1h-1zM28 282h1v1h-1zM44 282h1v1h-1zM110 282h2v1h-2zM122 282h2v1h-2zM151 282h1v1h-1zM169 282h1v1h-1zM44 283h1v1h-1zM62 283h1v1h-1zM153 283h2v1h-2zM161 283h1v1h-1zM43 284h1v1h-1zM45 284h1v1h-1zM55 284h1v1h-1zM157 284h1v1h-1zM43 285h1v1h-1zM45 285h1v1h-1zM53 285h1v1h-1zM56 285h1v1h-1zM133 285h1v1h-1zM172 285h1v1h-1zM43 286h1v1h-1zM52 286h1v1h-1zM115 286h1v1h-1zM184 286h1v1h-1zM53 287h2v1h-2zM63 287h1v1h-1zM117 287h1v1h-1zM129 287h1v1h-1zM184 287h1v1h-1zM110 288h1v1h-1zM129 288h1v1h-1zM133 288h1v1h-1zM117 289h1v1h-1zM130 289h1v1h-1zM132 289h1v1h-1zM159 289h1v1h-1zM173 289h1v1h-1zM111 290h1v1h-1zM112 291h1v1h-1zM161 291h1v1h-1zM113 292h1v1h-1zM175 292h1v1h-1zM185 292h1v1h-1zM166 293h2v1h-2zM176 293h1v1h-1zM186 293h1v1h-1zM120 294h4v1h-4zM147 294h1v1h-1zM177 294h6v1h-6zM65 295h1v1h-1zM119 295h1v1h-1zM146 295h2v1h-2zM169 295h1v1h-1zM182 295h2v1h-2zM186 295h1v1h-1zM119 296h1v1h-1zM125 296h1v1h-1zM165 296h1v1h-1zM183 296h2v1h-2zM111 297h1v1h-1zM125 297h1v1h-1zM181 297h3v1h-3zM66 298h1v1h-1zM106 298h2v1h-2zM121 298h1v1h-1zM124 298h1v1h-1zM180 298h1v1h-1zM183 298h1v1h-1zM189 298h3v1h-3zM106 299h2v1h-2zM167 299h1v1h-1zM178 299h3v1h-3zM183 299h1v1h-1zM189 299h3v1h-3zM105 300h1v1h-1zM108 300h1v1h-1zM110 300h1v1h-1zM170 300h1v1h-1zM176 300h1v1h-1zM180 300h3v1h-3zM208 300h1v1h-1zM180 301h1v1h-1zM67 302h1v1h-1zM103 302h1v1h-1zM180 302h1v1h-1zM101 303h1v1h-1zM126 303h2v1h-2zM180 303h1v1h-1zM126 304h2v1h-2zM180 304h1v1h-1zM68 306h1v1h-1zM155 308h1v1h-1zM176 308h1v1h-1zM176 309h1v1h-1zM181 309h1v1h-1zM100 310h1v1h-1zM181 310h1v1h-1zM100 311h1v1h-1zM153 311h1v1h-1zM155 311h1v1h-1zM69 312h1v1h-1zM176 312h1v1h-1zM181 312h1v1h-1zM174 313h1v1h-1zM180 314h1v1h-1zM193 314h1v1h-1zM202 314h1v1h-1zM178 315h1v1h-1zM190 315h1v1h-1zM102 316h1v1h-1zM187 316h1v1h-1zM201 316h1v1h-1zM108 317h1v1h-1zM111 317h2v1h-2zM173 317h1v1h-1zM178 317h1v1h-1zM186 317h1v1h-1zM199 317h1v1h-1zM119 318h1v1h-1zM178 318h1v1h-1zM185 318h1v1h-1zM70 319h1v1h-1zM115 319h1v1h-1zM120 319h1v1h-1zM174 319h1v1h-1zM157 320h2v1h-2zM178 320h1v1h-1zM61 321h1v1h-1zM63 321h1v1h-1zM176 321h2v1h-2zM65 322h1v1h-1zM102 322h1v1h-1zM104 322h1v1h-1zM71 323h1v1h-1zM106 323h1v1h-1zM196 323h1v1h-1zM112 324h3v1h-3zM134 324h2v1h-2zM185 324h1v1h-1zM72 325h1v1h-1zM109 325h2v1h-2zM115 325h1v1h-1zM136 325h1v1h-1zM195 325h1v1h-1zM72 326h1v1h-1zM120 326h1v1h-1zM132 326h1v1h-1zM136 326h1v1h-1zM191 326h2v1h-2zM195 326h1v1h-1zM65 327h1v1h-1zM105 327h1v1h-1zM109 327h1v1h-1zM195 327h2v1h-2zM67 328h2v1h-2zM73 328h1v1h-1zM104 328h1v1h-1zM196 328h2v1h-2zM73 329h1v1h-1zM99 329h1v1h-1zM108 331h1v1h-1zM112 331h1v1h-1zM109 332h1v1h-1zM74 333h1v1h-1zM75 334h1v1h-1zM116 336h1v1h-1zM79 337h1v1h-1zM87 337h1v1h-1zM113 337h1v1h-1zM113 338h1v1h-1z"/><path fill="#dc4c2c" d="M146 214h2v1h-2zM146 215h2v1h-2zM140 217h1v1h-1zM143 217h1v1h-1zM144 218h1v1h-1zM144 219h1v1h-1zM140 220h1v1h-1zM144 220h1v1h-1zM142 221h2v1h-2zM58 224h1v1h-1zM58 225h1v1h-1zM102 225h1v1h-1zM153 225h1v1h-1zM156 225h1v1h-1zM58 226h3v1h-3zM102 226h1v1h-1zM153 226h1v1h-1zM153 227h2v1h-2zM153 228h2v1h-2zM158 228h1v1h-1zM38 229h2v1h-2zM52 229h1v1h-1zM56 229h1v1h-1zM60 229h4v1h-4zM153 229h1v1h-1zM41 230h1v1h-1zM51 230h1v1h-1zM57 230h4v1h-4zM64 230h1v1h-1zM153 230h1v1h-1zM158 230h1v1h-1zM33 231h1v1h-1zM41 231h1v1h-1zM47 231h5v1h-5zM58 231h2v1h-2zM65 231h1v1h-1zM153 231h1v1h-1zM158 231h1v1h-1zM42 232h8v1h-8zM65 232h1v1h-1zM153 232h1v1h-1zM158 232h1v1h-1zM31 233h1v1h-1zM42 233h1v1h-1zM65 233h3v1h-3zM72 233h5v1h-5zM88 233h1v1h-1zM92 233h1v1h-1zM154 233h1v1h-1zM158 233h1v1h-1zM164 233h1v1h-1zM200 233h1v1h-1zM30 234h1v1h-1zM66 234h7v1h-7zM78 234h2v1h-2zM87 234h1v1h-1zM155 234h5v1h-5zM200 234h1v1h-1zM30 235h1v1h-1zM81 235h3v1h-3zM87 235h1v1h-1zM156 235h2v1h-2zM165 235h1v1h-1zM30 236h1v1h-1zM84 236h4v1h-4zM157 236h1v1h-1zM30 237h1v1h-1zM87 237h1v1h-1zM93 237h1v1h-1zM30 238h1v1h-1zM31 239h1v1h-1zM41 239h2v1h-2zM156 239h1v1h-1zM31 240h3v1h-3zM40 240h3v1h-3zM33 241h9v1h-9zM94 241h1v1h-1zM34 242h8v1h-8zM94 242h1v1h-1zM165 242h1v1h-1zM36 243h6v1h-6zM165 243h1v1h-1zM36 244h6v1h-6zM91 244h2v1h-2zM155 244h1v1h-1zM166 244h1v1h-1zM36 245h6v1h-6zM89 245h1v1h-1zM153 245h1v1h-1zM36 246h7v1h-7zM151 246h1v1h-1zM169 246h1v1h-1zM35 247h2v1h-2zM40 247h4v1h-4zM86 247h1v1h-1zM35 248h1v1h-1zM41 248h3v1h-3zM85 248h1v1h-1zM35 249h1v1h-1zM84 249h1v1h-1zM146 249h1v1h-1zM190 249h1v1h-1zM35 250h1v1h-1zM83 250h1v1h-1zM91 250h3v1h-3zM146 250h1v1h-1zM194 250h1v1h-1zM36 251h1v1h-1zM45 251h2v1h-2zM83 251h1v1h-1zM90 251h1v1h-1zM94 251h1v1h-1zM146 251h1v1h-1zM194 251h1v1h-1zM37 252h1v1h-1zM45 252h2v1h-2zM83 252h1v1h-1zM37 253h1v1h-1zM44 253h4v1h-4zM51 253h2v1h-2zM83 253h1v1h-1zM90 253h1v1h-1zM172 253h1v1h-1zM191 253h2v1h-2zM37 254h1v1h-1zM43 254h2v1h-2zM47 254h7v1h-7zM82 254h1v1h-1zM91 254h1v1h-1zM145 254h1v1h-1zM43 255h2v1h-2zM50 255h3v1h-3zM82 255h1v1h-1zM145 255h1v1h-1zM173 255h1v1h-1zM38 256h1v1h-1zM43 256h1v1h-1zM50 256h3v1h-3zM82 256h2v1h-2zM39 257h1v1h-1zM43 257h1v1h-1zM50 257h2v1h-2zM84 257h1v1h-1zM39 258h1v1h-1zM42 258h1v1h-1zM50 258h1v1h-1zM138 258h2v1h-2zM144 258h1v1h-1zM174 258h1v1h-1zM40 259h2v1h-2zM49 259h1v1h-1zM85 259h1v1h-1zM137 259h1v1h-1zM141 259h1v1h-1zM144 259h1v1h-1zM48 260h1v1h-1zM142 260h1v1h-1zM175 260h1v1h-1zM47 261h1v1h-1zM84 261h1v1h-1zM142 261h1v1h-1zM175 261h1v1h-1zM82 262h2v1h-2zM139 262h1v1h-1zM141 262h1v1h-1zM47 263h1v1h-1zM82 263h1v1h-1zM144 263h1v1h-1zM82 264h1v1h-1zM144 264h1v1h-1zM51 265h1v1h-1zM56 265h1v1h-1zM58 265h1v1h-1zM82 265h2v1h-2zM176 265h1v1h-1zM83 266h1v1h-1zM176 266h1v1h-1zM59 267h1v1h-1zM83 267h1v1h-1zM145 267h1v1h-1zM176 267h1v1h-1zM84 268h3v1h-3zM89 268h1v1h-1zM30 269h1v1h-1zM84 269h2v1h-2zM90 269h3v1h-3zM177 269h1v1h-1zM30 270h1v1h-1zM84 270h2v1h-2zM146 270h1v1h-1zM60 271h1v1h-1zM85 271h4v1h-4zM109 271h1v1h-1zM112 271h1v1h-1zM38 272h2v1h-2zM85 272h2v1h-2zM109 272h1v1h-1zM147 272h1v1h-1zM38 273h2v1h-2zM86 273h1v1h-1zM113 273h1v1h-1zM141 273h1v1h-1zM147 273h1v1h-1zM178 273h1v1h-1zM86 274h2v1h-2zM105 274h1v1h-1zM107 274h1v1h-1zM110 274h1v1h-1zM140 274h2v1h-2zM146 274h1v1h-1zM178 274h1v1h-1zM87 275h1v1h-1zM107 275h1v1h-1zM112 275h1v1h-1zM178 275h1v1h-1zM61 276h1v1h-1zM87 276h2v1h-2zM91 276h1v1h-1zM109 276h1v1h-1zM88 277h3v1h-3zM102 277h1v1h-1zM146 277h1v1h-1zM150 277h2v1h-2zM178 277h1v1h-1zM89 278h1v1h-1zM95 278h1v1h-1zM109 278h1v1h-1zM112 278h1v1h-1zM152 278h2v1h-2zM178 278h1v1h-1zM181 278h2v1h-2zM114 279h2v1h-2zM153 279h1v1h-1zM178 279h1v1h-1zM62 280h1v1h-1zM97 280h1v1h-1zM113 280h1v1h-1zM116 280h1v1h-1zM154 280h1v1h-1zM165 280h4v1h-4zM178 280h1v1h-1zM98 281h1v1h-1zM155 281h1v1h-1zM163 281h1v1h-1zM180 281h1v1h-1zM99 282h1v1h-1zM101 282h1v1h-1zM103 282h1v1h-1zM115 282h1v1h-1zM156 282h1v1h-1zM160 282h1v1h-1zM171 282h1v1h-1zM63 283h1v1h-1zM108 283h1v1h-1zM158 283h1v1h-1zM105 284h2v1h-2zM109 284h1v1h-1zM173 284h1v1h-1zM106 285h2v1h-2zM109 285h1v1h-1zM111 285h2v1h-2zM107 286h1v1h-1zM64 288h1v1h-1zM174 288h1v1h-1zM182 289h1v1h-1zM181 290h1v1h-1zM177 291h4v1h-4zM65 292h1v1h-1zM110 292h1v1h-1zM105 294h2v1h-2zM112 294h1v1h-1zM66 295h1v1h-1zM108 295h2v1h-2zM111 295h1v1h-1zM167 296h1v1h-1zM168 297h1v1h-1zM104 298h1v1h-1zM98 299h2v1h-2zM98 300h1v1h-1zM101 300h1v1h-1zM103 300h1v1h-1zM68 302h1v1h-1zM177 302h1v1h-1zM98 303h1v1h-1zM177 303h2v1h-2zM98 304h1v1h-1zM177 304h2v1h-2zM98 305h1v1h-1zM177 305h1v1h-1zM98 306h1v1h-1zM177 306h1v1h-1zM179 306h1v1h-1zM98 307h1v1h-1zM179 307h1v1h-1zM178 308h2v1h-2zM178 309h2v1h-2zM70 310h1v1h-1zM178 310h2v1h-2zM70 311h1v1h-1zM178 311h2v1h-2zM98 313h1v1h-1zM98 314h1v1h-1zM71 315h1v1h-1zM99 315h1v1h-1zM71 316h1v1h-1zM175 316h1v1h-1zM194 316h2v1h-2zM175 317h1v1h-1zM191 317h4v1h-4zM101 318h1v1h-1zM104 318h1v1h-1zM108 318h1v1h-1zM188 318h2v1h-2zM193 318h2v1h-2zM104 319h1v1h-1zM112 319h1v1h-1zM187 319h1v1h-1zM194 319h1v1h-1zM104 320h1v1h-1zM116 320h3v1h-3zM186 320h1v1h-1zM194 320h1v1h-1zM72 321h1v1h-1zM101 321h1v1h-1zM105 321h1v1h-1zM119 321h1v1h-1zM194 321h1v1h-1zM107 322h1v1h-1zM111 322h1v1h-1zM73 323h1v1h-1zM108 323h1v1h-1zM119 323h1v1h-1zM193 323h1v1h-1zM64 324h1v1h-1zM117 324h1v1h-1zM186 324h1v1h-1zM192 324h1v1h-1zM65 325h2v1h-2zM117 325h2v1h-2zM74 326h1v1h-1zM99 326h1v1h-1zM118 326h1v1h-1zM110 328h1v1h-1zM98 329h1v1h-1zM109 329h1v1h-1zM109 330h1v1h-1zM111 330h1v1h-1zM75 333h1v1h-1zM94 333h1v1h-1zM79 336h1v1h-1zM87 336h1v1h-1z"/><path fill="#df542b" d="M141 217h2v1h-2zM140 218h1v1h-1zM143 218h1v1h-1zM140 219h1v1h-1zM143 219h1v1h-1zM143 220h1v1h-1zM59 224h2v1h-2zM59 225h2v1h-2zM154 225h2v1h-2zM154 226h1v1h-1zM156 226h1v1h-1zM155 227h1v1h-1zM157 227h1v1h-1zM155 228h1v1h-1zM53 229h3v1h-3zM154 229h1v1h-1zM158 229h1v1h-1zM36 230h1v1h-1zM40 230h1v1h-1zM52 230h1v1h-1zM56 230h1v1h-1zM61 230h3v1h-3zM154 230h1v1h-1zM34 231h1v1h-1zM57 231h1v1h-1zM60 231h1v1h-1zM64 231h1v1h-1zM154 231h1v1h-1zM32 232h1v1h-1zM41 232h1v1h-1zM50 232h2v1h-2zM58 232h2v1h-2zM64 232h1v1h-1zM154 232h1v1h-1zM43 233h2v1h-2zM64 233h1v1h-1zM89 233h3v1h-3zM155 233h3v1h-3zM161 233h1v1h-1zM202 233h1v1h-1zM31 234h1v1h-1zM42 234h1v1h-1zM65 234h1v1h-1zM73 234h1v1h-1zM77 234h1v1h-1zM93 234h1v1h-1zM160 234h1v1h-1zM202 234h1v1h-1zM66 235h6v1h-6zM79 235h2v1h-2zM158 235h1v1h-1zM42 236h1v1h-1zM82 236h2v1h-2zM88 236h1v1h-1zM93 236h1v1h-1zM158 236h1v1h-1zM31 237h1v1h-1zM42 237h1v1h-1zM84 237h3v1h-3zM88 237h3v1h-3zM157 237h1v1h-1zM31 238h1v1h-1zM41 238h3v1h-3zM86 238h5v1h-5zM93 238h1v1h-1zM157 238h1v1h-1zM32 239h1v1h-1zM40 239h1v1h-1zM43 239h1v1h-1zM88 239h2v1h-2zM93 239h1v1h-1zM34 240h1v1h-1zM39 240h1v1h-1zM89 240h1v1h-1zM156 240h1v1h-1zM42 241h1v1h-1zM156 241h1v1h-1zM165 241h1v1h-1zM42 242h1v1h-1zM156 242h1v1h-1zM164 242h1v1h-1zM42 243h1v1h-1zM93 243h1v1h-1zM156 243h1v1h-1zM163 243h2v1h-2zM42 244h1v1h-1zM90 244h1v1h-1zM165 244h1v1h-1zM42 245h1v1h-1zM154 245h1v1h-1zM167 245h1v1h-1zM43 246h1v1h-1zM87 246h1v1h-1zM152 246h1v1h-1zM37 247h3v1h-3zM44 247h1v1h-1zM85 247h1v1h-1zM147 247h1v1h-1zM170 247h1v1h-1zM36 248h1v1h-1zM40 248h1v1h-1zM44 248h1v1h-1zM84 248h1v1h-1zM171 248h1v1h-1zM36 249h1v1h-1zM43 249h3v1h-3zM83 249h1v1h-1zM191 249h1v1h-1zM193 249h1v1h-1zM36 250h1v1h-1zM44 250h3v1h-3zM52 250h1v1h-1zM190 250h1v1h-1zM37 251h1v1h-1zM44 251h1v1h-1zM52 251h1v1h-1zM44 252h1v1h-1zM47 252h1v1h-1zM51 252h2v1h-2zM82 252h1v1h-1zM90 252h1v1h-1zM94 252h1v1h-1zM146 252h1v1h-1zM190 252h1v1h-1zM193 252h1v1h-1zM43 253h1v1h-1zM48 253h3v1h-3zM53 253h1v1h-1zM82 253h1v1h-1zM94 253h1v1h-1zM146 253h1v1h-1zM42 254h1v1h-1zM54 254h1v1h-1zM92 254h2v1h-2zM172 254h1v1h-1zM42 255h1v1h-1zM53 255h2v1h-2zM42 256h1v1h-1zM53 256h1v1h-1zM81 256h1v1h-1zM145 256h1v1h-1zM173 256h1v1h-1zM40 257h3v1h-3zM52 257h1v1h-1zM81 257h3v1h-3zM40 258h2v1h-2zM51 258h1v1h-1zM50 259h1v1h-1zM174 259h1v1h-1zM49 260h1v1h-1zM141 260h1v1h-1zM144 260h1v1h-1zM81 261h3v1h-3zM138 261h1v1h-1zM141 261h1v1h-1zM144 261h1v1h-1zM47 262h1v1h-1zM81 262h1v1h-1zM140 262h1v1h-1zM144 262h1v1h-1zM175 262h1v1h-1zM48 263h1v1h-1zM81 263h1v1h-1zM175 263h1v1h-1zM50 264h1v1h-1zM57 264h1v1h-1zM175 264h1v1h-1zM145 265h1v1h-1zM82 266h1v1h-1zM145 266h1v1h-1zM29 268h1v1h-1zM83 268h1v1h-1zM87 268h2v1h-2zM146 268h1v1h-1zM176 268h1v1h-1zM26 269h1v1h-1zM83 269h1v1h-1zM86 269h1v1h-1zM89 269h1v1h-1zM146 269h1v1h-1zM26 270h1v1h-1zM60 270h1v1h-1zM86 270h2v1h-2zM89 270h1v1h-1zM147 270h1v1h-1zM177 270h1v1h-1zM29 271h1v1h-1zM84 271h1v1h-1zM147 271h1v1h-1zM84 272h1v1h-1zM148 272h1v1h-1zM85 273h1v1h-1zM110 273h1v1h-1zM140 273h1v1h-1zM148 273h1v1h-1zM85 274h1v1h-1zM106 274h1v1h-1zM112 274h1v1h-1zM147 274h1v1h-1zM165 274h2v1h-2zM61 275h1v1h-1zM86 275h1v1h-1zM102 275h3v1h-3zM106 275h1v1h-1zM110 275h2v1h-2zM146 275h1v1h-1zM164 275h3v1h-3zM86 276h1v1h-1zM102 276h1v1h-1zM106 276h1v1h-1zM112 276h1v1h-1zM146 276h1v1h-1zM163 276h3v1h-3zM178 276h1v1h-1zM87 277h1v1h-1zM91 277h3v1h-3zM109 277h1v1h-1zM112 277h1v1h-1zM147 277h3v1h-3zM152 277h2v1h-2zM159 277h1v1h-1zM88 278h1v1h-1zM90 278h1v1h-1zM106 278h1v1h-1zM159 278h1v1h-1zM89 279h2v1h-2zM96 279h1v1h-1zM103 279h1v1h-1zM105 279h1v1h-1zM154 279h1v1h-1zM177 279h1v1h-1zM177 280h1v1h-1zM113 281h1v1h-1zM178 281h2v1h-2zM102 282h1v1h-1zM114 282h1v1h-1zM159 282h1v1h-1zM180 282h1v1h-1zM100 283h1v1h-1zM104 283h1v1h-1zM173 283h1v1h-1zM107 284h2v1h-2zM182 284h1v1h-1zM105 285h1v1h-1zM108 285h1v1h-1zM106 286h1v1h-1zM64 287h1v1h-1zM108 288h1v1h-1zM182 288h1v1h-1zM175 289h1v1h-1zM109 290h1v1h-1zM176 290h1v1h-1zM65 291h1v1h-1zM105 293h1v1h-1zM110 293h2v1h-2zM107 294h2v1h-2zM111 294h1v1h-1zM104 295h1v1h-1zM110 295h1v1h-1zM104 296h1v1h-1zM104 297h1v1h-1zM67 298h1v1h-1zM97 298h2v1h-2zM97 299h1v1h-1zM97 300h1v1h-1zM102 300h1v1h-1zM97 301h1v1h-1zM97 302h1v1h-1zM97 303h1v1h-1zM69 305h1v1h-1zM178 305h1v1h-1zM178 306h1v1h-1zM178 307h1v1h-1zM70 309h1v1h-1zM97 311h1v1h-1zM97 312h1v1h-1zM71 314h1v1h-1zM98 315h1v1h-1zM99 316h1v1h-1zM100 317h1v1h-1zM190 318h3v1h-3zM101 319h1v1h-1zM109 319h3v1h-3zM192 319h2v1h-2zM72 320h1v1h-1zM111 320h2v1h-2zM193 320h1v1h-1zM111 321h1v1h-1zM115 321h1v1h-1zM186 321h1v1h-1zM193 321h1v1h-1zM115 322h1v1h-1zM119 322h1v1h-1zM193 322h1v1h-1zM100 323h1v1h-1zM110 323h1v1h-1zM116 323h1v1h-1zM192 323h1v1h-1zM118 324h1v1h-1zM74 325h1v1h-1zM190 325h1v1h-1zM110 329h2v1h-2zM97 330h1v1h-1zM110 330h1v1h-1zM96 331h1v1h-1zM95 332h1v1h-1zM77 334h1v1h-1zM92 334h1v1h-1zM78 335h1v1h-1zM90 335h1v1h-1zM82 336h2v1h-2zM86 336h1v1h-1z"/><path fill="#e15d2a" d="M141 218h2v1h-2zM141 220h2v1h-2zM155 226h1v1h-1zM156 227h1v1h-1zM156 228h2v1h-2zM155 229h1v1h-1zM37 230h1v1h-1zM39 230h1v1h-1zM53 230h1v1h-1zM55 230h1v1h-1zM35 231h1v1h-1zM40 231h1v1h-1zM52 231h1v1h-1zM56 231h1v1h-1zM61 231h1v1h-1zM63 231h1v1h-1zM33 232h1v1h-1zM52 232h1v1h-1zM57 232h1v1h-1zM60 232h1v1h-1zM155 232h1v1h-1zM157 232h1v1h-1zM32 233h1v1h-1zM41 233h1v1h-1zM45 233h5v1h-5zM162 233h2v1h-2zM201 233h1v1h-1zM43 234h1v1h-1zM64 234h1v1h-1zM74 234h3v1h-3zM88 234h1v1h-1zM164 234h1v1h-1zM201 234h1v1h-1zM31 235h1v1h-1zM42 235h2v1h-2zM65 235h1v1h-1zM72 235h1v1h-1zM78 235h1v1h-1zM88 235h1v1h-1zM93 235h1v1h-1zM159 235h1v1h-1zM31 236h1v1h-1zM43 236h1v1h-1zM67 236h5v1h-5zM79 236h3v1h-3zM89 236h2v1h-2zM165 236h1v1h-1zM41 237h1v1h-1zM43 237h1v1h-1zM82 237h2v1h-2zM91 237h2v1h-2zM158 237h1v1h-1zM32 238h1v1h-1zM84 238h2v1h-2zM91 238h2v1h-2zM33 239h1v1h-1zM86 239h2v1h-2zM90 239h1v1h-1zM35 240h4v1h-4zM43 240h1v1h-1zM87 240h2v1h-2zM90 240h1v1h-1zM93 240h1v1h-1zM165 240h1v1h-1zM43 241h1v1h-1zM88 241h4v1h-4zM93 241h1v1h-1zM89 242h3v1h-3zM93 242h1v1h-1zM162 242h2v1h-2zM90 243h3v1h-3zM161 243h2v1h-2zM43 244h1v1h-1zM89 244h1v1h-1zM156 244h1v1h-1zM160 244h5v1h-5zM43 245h1v1h-1zM88 245h1v1h-1zM155 245h1v1h-1zM165 245h2v1h-2zM44 246h1v1h-1zM86 246h1v1h-1zM153 246h1v1h-1zM168 246h1v1h-1zM84 247h1v1h-1zM148 247h4v1h-4zM37 248h1v1h-1zM39 248h1v1h-1zM45 248h1v1h-1zM83 248h1v1h-1zM147 248h1v1h-1zM40 249h3v1h-3zM46 249h1v1h-1zM52 249h2v1h-2zM147 249h1v1h-1zM171 249h1v1h-1zM192 249h1v1h-1zM37 250h1v1h-1zM40 250h1v1h-1zM43 250h1v1h-1zM47 250h1v1h-1zM51 250h1v1h-1zM53 250h1v1h-1zM82 250h1v1h-1zM147 250h1v1h-1zM171 250h1v1h-1zM193 250h1v1h-1zM38 251h2v1h-2zM47 251h1v1h-1zM51 251h1v1h-1zM53 251h1v1h-1zM82 251h1v1h-1zM91 251h3v1h-3zM147 251h1v1h-1zM171 251h1v1h-1zM190 251h1v1h-1zM193 251h1v1h-1zM38 252h2v1h-2zM43 252h1v1h-1zM48 252h1v1h-1zM50 252h1v1h-1zM53 252h1v1h-1zM91 252h1v1h-1zM147 252h1v1h-1zM171 252h1v1h-1zM191 252h2v1h-2zM38 253h1v1h-1zM42 253h1v1h-1zM54 253h1v1h-1zM91 253h1v1h-1zM93 253h1v1h-1zM171 253h1v1h-1zM41 254h1v1h-1zM81 254h1v1h-1zM146 254h1v1h-1zM38 255h1v1h-1zM41 255h1v1h-1zM55 255h1v1h-1zM81 255h1v1h-1zM172 255h1v1h-1zM39 256h3v1h-3zM54 256h1v1h-1zM53 257h2v1h-2zM145 257h1v1h-1zM173 257h1v1h-1zM52 258h1v1h-1zM81 258h2v1h-2zM84 258h1v1h-1zM145 258h1v1h-1zM173 258h1v1h-1zM51 259h1v1h-1zM81 259h1v1h-1zM84 259h1v1h-1zM138 259h1v1h-1zM140 259h1v1h-1zM145 259h1v1h-1zM50 260h2v1h-2zM81 260h2v1h-2zM84 260h1v1h-1zM138 260h1v1h-1zM174 260h1v1h-1zM48 261h1v1h-1zM174 261h1v1h-1zM49 263h1v1h-1zM145 263h1v1h-1zM58 264h1v1h-1zM81 264h1v1h-1zM145 264h1v1h-1zM55 265h1v1h-1zM81 265h1v1h-1zM175 265h1v1h-1zM59 266h1v1h-1zM146 266h1v1h-1zM175 266h1v1h-1zM82 267h1v1h-1zM146 267h1v1h-1zM175 267h1v1h-1zM27 268h2v1h-2zM82 268h1v1h-1zM60 269h1v1h-1zM87 269h2v1h-2zM147 269h1v1h-1zM176 269h1v1h-1zM83 270h1v1h-1zM88 270h1v1h-1zM27 271h2v1h-2zM110 271h2v1h-2zM148 271h1v1h-1zM177 271h1v1h-1zM110 272h1v1h-1zM112 272h1v1h-1zM177 272h1v1h-1zM84 273h1v1h-1zM164 273h4v1h-4zM111 274h1v1h-1zM148 274h1v1h-1zM163 274h2v1h-2zM167 274h1v1h-1zM85 275h1v1h-1zM105 275h1v1h-1zM147 275h1v1h-1zM163 275h1v1h-1zM167 275h1v1h-1zM103 276h1v1h-1zM149 276h3v1h-3zM161 276h2v1h-2zM166 276h1v1h-1zM103 277h1v1h-1zM106 277h1v1h-1zM154 277h1v1h-1zM157 277h2v1h-2zM160 277h6v1h-6zM87 278h1v1h-1zM91 278h1v1h-1zM103 278h1v1h-1zM110 278h2v1h-2zM154 278h1v1h-1zM158 278h1v1h-1zM160 278h1v1h-1zM165 278h1v1h-1zM177 278h1v1h-1zM62 279h1v1h-1zM88 279h1v1h-1zM104 279h1v1h-1zM158 279h2v1h-2zM165 279h3v1h-3zM89 280h2v1h-2zM155 280h1v1h-1zM159 280h1v1h-1zM164 280h1v1h-1zM169 280h1v1h-1zM176 280h1v1h-1zM90 281h1v1h-1zM115 281h1v1h-1zM156 281h1v1h-1zM159 281h4v1h-4zM170 281h1v1h-1zM177 281h1v1h-1zM63 282h1v1h-1zM157 282h2v1h-2zM172 282h2v1h-2zM99 283h1v1h-1zM101 283h1v1h-1zM181 283h1v1h-1zM174 285h1v1h-1zM182 285h1v1h-1zM64 286h1v1h-1zM105 286h1v1h-1zM174 286h1v1h-1zM182 286h1v1h-1zM107 287h1v1h-1zM174 287h1v1h-1zM182 287h1v1h-1zM181 289h1v1h-1zM177 290h1v1h-1zM179 290h2v1h-2zM109 291h1v1h-1zM109 292h1v1h-1zM106 293h2v1h-2zM109 293h1v1h-1zM66 294h1v1h-1zM104 294h1v1h-1zM109 294h2v1h-2zM67 297h1v1h-1zM96 297h2v1h-2zM96 298h1v1h-1zM99 298h1v1h-1zM96 299h1v1h-1zM100 299h1v1h-1zM103 299h1v1h-1zM68 301h1v1h-1zM69 304h1v1h-1zM97 304h1v1h-1zM97 305h1v1h-1zM97 306h1v1h-1zM97 307h1v1h-1zM70 308h1v1h-1zM97 308h1v1h-1zM97 309h1v1h-1zM97 310h1v1h-1zM71 313h1v1h-1zM97 313h1v1h-1zM97 314h1v1h-1zM105 318h1v1h-1zM107 318h1v1h-1zM72 319h1v1h-1zM108 319h1v1h-1zM188 319h4v1h-4zM101 320h1v1h-1zM105 320h1v1h-1zM110 320h1v1h-1zM187 320h1v1h-1zM192 320h1v1h-1zM106 321h1v1h-1zM110 321h1v1h-1zM116 321h1v1h-1zM118 321h1v1h-1zM192 321h1v1h-1zM73 322h1v1h-1zM108 322h1v1h-1zM110 322h1v1h-1zM116 322h1v1h-1zM192 322h1v1h-1zM109 323h1v1h-1zM117 323h2v1h-2zM186 323h1v1h-1zM74 324h1v1h-1zM191 324h1v1h-1zM99 325h1v1h-1zM188 325h2v1h-2zM75 328h1v1h-1zM98 328h1v1h-1zM75 329h1v1h-1zM75 332h1v1h-1zM93 333h1v1h-1zM89 335h1v1h-1zM80 336h2v1h-2zM84 336h2v1h-2z"/><path fill="#e3672a" d="M141 219h2v1h-2zM156 229h2v1h-2zM38 230h1v1h-1zM54 230h1v1h-1zM155 230h3v1h-3zM53 231h1v1h-1zM55 231h1v1h-1zM62 231h1v1h-1zM155 231h1v1h-1zM157 231h1v1h-1zM40 232h1v1h-1zM56 232h1v1h-1zM61 232h1v1h-1zM63 232h1v1h-1zM156 232h1v1h-1zM50 233h2v1h-2zM59 233h2v1h-2zM63 233h1v1h-1zM41 234h1v1h-1zM44 234h1v1h-1zM62 234h2v1h-2zM89 234h4v1h-4zM161 234h1v1h-1zM41 235h1v1h-1zM63 235h2v1h-2zM73 235h1v1h-1zM77 235h1v1h-1zM89 235h1v1h-1zM92 235h1v1h-1zM41 236h1v1h-1zM66 236h1v1h-1zM72 236h1v1h-1zM78 236h1v1h-1zM91 236h2v1h-2zM68 237h5v1h-5zM79 237h3v1h-3zM40 238h1v1h-1zM81 238h3v1h-3zM158 238h1v1h-1zM39 239h1v1h-1zM84 239h2v1h-2zM91 239h2v1h-2zM157 239h1v1h-1zM86 240h1v1h-1zM91 240h2v1h-2zM87 241h1v1h-1zM92 241h1v1h-1zM164 241h1v1h-1zM43 242h1v1h-1zM88 242h1v1h-1zM92 242h1v1h-1zM157 242h1v1h-1zM160 242h2v1h-2zM43 243h1v1h-1zM89 243h1v1h-1zM157 243h1v1h-1zM159 243h2v1h-2zM88 244h1v1h-1zM157 244h3v1h-3zM87 245h1v1h-1zM160 245h5v1h-5zM85 246h1v1h-1zM154 246h1v1h-1zM167 246h1v1h-1zM152 247h1v1h-1zM169 247h1v1h-1zM38 248h1v1h-1zM52 248h3v1h-3zM150 248h1v1h-1zM170 248h1v1h-1zM37 249h1v1h-1zM39 249h1v1h-1zM51 249h1v1h-1zM54 249h1v1h-1zM82 249h1v1h-1zM38 250h2v1h-2zM41 250h2v1h-2zM48 250h1v1h-1zM50 250h1v1h-1zM148 250h1v1h-1zM191 250h2v1h-2zM40 251h2v1h-2zM43 251h1v1h-1zM48 251h1v1h-1zM50 251h1v1h-1zM148 251h1v1h-1zM191 251h2v1h-2zM40 252h3v1h-3zM49 252h1v1h-1zM54 252h1v1h-1zM92 252h2v1h-2zM170 252h1v1h-1zM39 253h3v1h-3zM81 253h1v1h-1zM92 253h1v1h-1zM147 253h1v1h-1zM38 254h1v1h-1zM40 254h1v1h-1zM55 254h1v1h-1zM171 254h1v1h-1zM39 255h2v1h-2zM146 255h1v1h-1zM171 255h1v1h-1zM55 256h1v1h-1zM146 256h1v1h-1zM172 256h1v1h-1zM55 257h1v1h-1zM80 257h1v1h-1zM172 257h1v1h-1zM53 258h2v1h-2zM80 258h1v1h-1zM83 258h1v1h-1zM52 259h1v1h-1zM80 259h1v1h-1zM82 259h2v1h-2zM139 259h1v1h-1zM173 259h1v1h-1zM52 260h1v1h-1zM80 260h1v1h-1zM83 260h1v1h-1zM139 260h2v1h-2zM145 260h1v1h-1zM173 260h1v1h-1zM49 261h3v1h-3zM80 261h1v1h-1zM139 261h2v1h-2zM145 261h1v1h-1zM48 262h2v1h-2zM145 262h1v1h-1zM174 262h1v1h-1zM50 263h1v1h-1zM57 263h2v1h-2zM174 263h1v1h-1zM51 264h1v1h-1zM56 264h1v1h-1zM174 264h1v1h-1zM52 265h1v1h-1zM146 265h1v1h-1zM174 265h1v1h-1zM81 266h1v1h-1zM174 266h1v1h-1zM147 268h1v1h-1zM175 268h1v1h-1zM29 269h1v1h-1zM82 269h1v1h-1zM29 270h1v1h-1zM148 270h1v1h-1zM83 271h1v1h-1zM111 272h1v1h-1zM149 272h1v1h-1zM164 272h5v1h-5zM111 273h2v1h-2zM149 273h1v1h-1zM163 273h1v1h-1zM168 273h1v1h-1zM177 273h1v1h-1zM61 274h1v1h-1zM149 274h1v1h-1zM168 274h1v1h-1zM177 274h1v1h-1zM148 275h2v1h-2zM162 275h1v1h-1zM168 275h1v1h-1zM104 276h2v1h-2zM110 276h2v1h-2zM147 276h2v1h-2zM152 276h9v1h-9zM167 276h2v1h-2zM86 277h1v1h-1zM110 277h2v1h-2zM155 277h2v1h-2zM166 277h1v1h-1zM177 277h1v1h-1zM92 278h1v1h-1zM94 278h1v1h-1zM105 278h1v1h-1zM155 278h3v1h-3zM161 278h4v1h-4zM166 278h1v1h-1zM91 279h1v1h-1zM155 279h1v1h-1zM157 279h1v1h-1zM160 279h1v1h-1zM164 279h1v1h-1zM168 279h2v1h-2zM176 279h1v1h-1zM88 280h1v1h-1zM91 280h1v1h-1zM114 280h2v1h-2zM156 280h3v1h-3zM160 280h1v1h-1zM163 280h1v1h-1zM175 280h1v1h-1zM89 281h1v1h-1zM114 281h1v1h-1zM157 281h2v1h-2zM175 281h2v1h-2zM90 282h1v1h-1zM98 282h1v1h-1zM174 282h1v1h-1zM178 282h2v1h-2zM102 283h2v1h-2zM174 283h1v1h-1zM180 283h1v1h-1zM100 284h1v1h-1zM104 284h1v1h-1zM174 284h1v1h-1zM181 284h1v1h-1zM64 285h1v1h-1zM104 286h1v1h-1zM103 287h4v1h-4zM107 288h1v1h-1zM108 289h1v1h-1zM65 290h1v1h-1zM178 290h1v1h-1zM105 292h1v1h-1zM104 293h1v1h-1zM108 293h1v1h-1zM96 295h1v1h-1zM96 296h2v1h-2zM98 297h1v1h-1zM103 298h1v1h-1zM101 299h2v1h-2zM68 300h1v1h-1zM96 300h1v1h-1zM96 301h1v1h-1zM70 307h1v1h-1zM71 312h1v1h-1zM98 316h1v1h-1zM99 317h1v1h-1zM72 318h1v1h-1zM100 318h1v1h-1zM106 318h1v1h-1zM105 319h1v1h-1zM108 320h2v1h-2zM191 320h1v1h-1zM73 321h1v1h-1zM107 321h3v1h-3zM117 321h1v1h-1zM100 322h1v1h-1zM109 322h1v1h-1zM117 322h2v1h-2zM186 322h1v1h-1zM99 324h1v1h-1zM75 327h1v1h-1zM75 330h1v1h-1zM75 331h1v1h-1zM94 332h1v1h-1zM76 333h1v1h-1zM91 334h1v1h-1zM88 335h1v1h-1z"/><path fill="#e67329" d="M36 231h1v1h-1zM39 231h1v1h-1zM54 231h1v1h-1zM156 231h1v1h-1zM34 232h1v1h-1zM53 232h3v1h-3zM62 232h1v1h-1zM40 233h1v1h-1zM52 233h1v1h-1zM58 233h1v1h-1zM61 233h2v1h-2zM32 234h1v1h-1zM47 234h2v1h-2zM61 234h1v1h-1zM162 234h2v1h-2zM62 235h1v1h-1zM74 235h3v1h-3zM90 235h2v1h-2zM160 235h1v1h-1zM164 235h1v1h-1zM65 236h1v1h-1zM73 236h1v1h-1zM77 236h1v1h-1zM159 236h1v1h-1zM32 237h1v1h-1zM44 237h1v1h-1zM67 237h1v1h-1zM73 237h1v1h-1zM78 237h1v1h-1zM165 237h1v1h-1zM44 238h1v1h-1zM69 238h4v1h-4zM78 238h3v1h-3zM165 238h1v1h-1zM34 239h1v1h-1zM38 239h1v1h-1zM44 239h1v1h-1zM80 239h4v1h-4zM158 239h1v1h-1zM165 239h1v1h-1zM84 240h2v1h-2zM157 240h1v1h-1zM86 241h1v1h-1zM157 241h1v1h-1zM160 241h4v1h-4zM87 242h1v1h-1zM159 242h1v1h-1zM88 243h1v1h-1zM158 243h1v1h-1zM44 245h1v1h-1zM86 245h1v1h-1zM156 245h1v1h-1zM158 245h2v1h-2zM163 246h4v1h-4zM45 247h1v1h-1zM53 247h3v1h-3zM83 247h1v1h-1zM168 247h1v1h-1zM46 248h1v1h-1zM51 248h1v1h-1zM55 248h1v1h-1zM82 248h1v1h-1zM148 248h2v1h-2zM151 248h1v1h-1zM38 249h1v1h-1zM47 249h4v1h-4zM55 249h1v1h-1zM148 249h2v1h-2zM170 249h1v1h-1zM49 250h1v1h-1zM54 250h1v1h-1zM170 250h1v1h-1zM42 251h1v1h-1zM49 251h1v1h-1zM54 251h1v1h-1zM170 251h1v1h-1zM81 252h1v1h-1zM148 252h1v1h-1zM55 253h1v1h-1zM170 253h1v1h-1zM39 254h1v1h-1zM56 254h1v1h-1zM147 254h1v1h-1zM170 254h1v1h-1zM56 255h1v1h-1zM80 255h1v1h-1zM56 256h1v1h-1zM80 256h1v1h-1zM171 256h1v1h-1zM56 257h1v1h-1zM146 257h1v1h-1zM55 258h2v1h-2zM146 258h1v1h-1zM172 258h1v1h-1zM53 259h2v1h-2zM172 259h1v1h-1zM53 260h1v1h-1zM172 260h1v1h-1zM52 261h1v1h-1zM173 261h1v1h-1zM50 262h2v1h-2zM57 262h1v1h-1zM80 262h1v1h-1zM173 262h1v1h-1zM51 263h1v1h-1zM56 263h1v1h-1zM80 263h1v1h-1zM146 263h1v1h-1zM173 263h1v1h-1zM146 264h1v1h-1zM173 264h1v1h-1zM53 265h2v1h-2zM59 265h1v1h-1zM173 265h1v1h-1zM147 266h1v1h-1zM173 266h1v1h-1zM81 267h1v1h-1zM147 267h1v1h-1zM173 267h2v1h-2zM60 268h1v1h-1zM173 268h2v1h-2zM27 269h2v1h-2zM148 269h1v1h-1zM175 269h1v1h-1zM27 270h2v1h-2zM176 270h1v1h-1zM149 271h1v1h-1zM164 271h6v1h-6zM83 272h1v1h-1zM163 272h1v1h-1zM169 272h1v1h-1zM61 273h1v1h-1zM162 273h1v1h-1zM169 273h1v1h-1zM84 274h1v1h-1zM162 274h1v1h-1zM150 275h2v1h-2zM157 275h2v1h-2zM161 275h1v1h-1zM177 275h1v1h-1zM85 276h1v1h-1zM177 276h1v1h-1zM104 277h2v1h-2zM167 277h2v1h-2zM62 278h1v1h-1zM86 278h1v1h-1zM93 278h1v1h-1zM104 278h1v1h-1zM167 278h3v1h-3zM87 279h1v1h-1zM95 279h1v1h-1zM156 279h1v1h-1zM161 279h1v1h-1zM163 279h1v1h-1zM96 280h1v1h-1zM161 280h2v1h-2zM170 280h1v1h-1zM63 281h1v1h-1zM91 281h1v1h-1zM97 281h1v1h-1zM171 281h1v1h-1zM173 281h2v1h-2zM91 282h1v1h-1zM175 282h3v1h-3zM90 283h1v1h-1zM64 284h1v1h-1zM101 284h1v1h-1zM100 285h2v1h-2zM104 285h1v1h-1zM101 286h3v1h-3zM102 287h1v1h-1zM102 288h5v1h-5zM175 288h1v1h-1zM181 288h1v1h-1zM65 289h1v1h-1zM104 289h1v1h-1zM176 289h1v1h-1zM180 289h1v1h-1zM104 290h2v1h-2zM108 290h1v1h-1zM104 291h2v1h-2zM104 292h1v1h-1zM106 292h3v1h-3zM66 293h1v1h-1zM95 294h2v1h-2zM95 295h1v1h-1zM67 296h1v1h-1zM95 296h1v1h-1zM103 297h1v1h-1zM100 298h1v1h-1zM68 299h1v1h-1zM96 302h1v1h-1zM69 303h1v1h-1zM96 303h1v1h-1zM70 306h1v1h-1zM71 311h1v1h-1zM96 313h1v1h-1zM72 315h1v1h-1zM97 315h1v1h-1zM72 316h1v1h-1zM72 317h1v1h-1zM100 319h1v1h-1zM106 319h2v1h-2zM106 320h2v1h-2zM188 320h1v1h-1zM190 320h1v1h-1zM100 321h1v1h-1zM191 321h1v1h-1zM74 323h1v1h-1zM191 323h1v1h-1zM187 324h1v1h-1zM75 326h1v1h-1zM98 327h1v1h-1zM97 329h1v1h-1zM96 330h1v1h-1zM95 331h1v1h-1zM78 334h1v1h-1zM79 335h1v1h-1zM87 335h1v1h-1z"/><path fill="#e97f28" d="M37 231h2v1h-2zM39 232h1v1h-1zM33 233h1v1h-1zM53 233h2v1h-2zM56 233h2v1h-2zM45 234h2v1h-2zM49 234h1v1h-1zM60 234h1v1h-1zM32 235h1v1h-1zM44 235h1v1h-1zM61 235h1v1h-1zM32 236h1v1h-1zM44 236h1v1h-1zM62 236h3v1h-3zM74 236h1v1h-1zM76 236h1v1h-1zM40 237h1v1h-1zM66 237h1v1h-1zM74 237h1v1h-1zM76 237h2v1h-2zM159 237h1v1h-1zM33 238h1v1h-1zM68 238h1v1h-1zM73 238h5v1h-5zM159 238h1v1h-1zM35 239h1v1h-1zM69 239h11v1h-11zM159 239h1v1h-1zM44 240h1v1h-1zM80 240h4v1h-4zM158 240h1v1h-1zM164 240h1v1h-1zM44 241h1v1h-1zM84 241h2v1h-2zM158 241h2v1h-2zM86 242h1v1h-1zM158 242h1v1h-1zM44 243h1v1h-1zM87 243h1v1h-1zM44 244h1v1h-1zM87 244h1v1h-1zM85 245h1v1h-1zM157 245h1v1h-1zM45 246h1v1h-1zM84 246h1v1h-1zM155 246h1v1h-1zM159 246h4v1h-4zM82 247h1v1h-1zM153 247h1v1h-1zM164 247h4v1h-4zM50 248h1v1h-1zM169 248h1v1h-1zM150 249h1v1h-1zM55 250h1v1h-1zM81 250h1v1h-1zM149 250h1v1h-1zM169 250h1v1h-1zM81 251h1v1h-1zM149 251h1v1h-1zM169 251h1v1h-1zM55 252h1v1h-1zM169 252h1v1h-1zM56 253h1v1h-1zM148 253h1v1h-1zM169 253h1v1h-1zM80 254h1v1h-1zM169 254h1v1h-1zM147 255h1v1h-1zM170 255h1v1h-1zM170 256h1v1h-1zM171 257h1v1h-1zM57 258h1v1h-1zM79 258h1v1h-1zM171 258h1v1h-1zM55 259h3v1h-3zM79 259h1v1h-1zM146 259h1v1h-1zM171 259h1v1h-1zM54 260h4v1h-4zM146 260h1v1h-1zM171 260h1v1h-1zM53 261h1v1h-1zM56 261h2v1h-2zM146 261h1v1h-1zM171 261h2v1h-2zM52 262h1v1h-1zM56 262h1v1h-1zM58 262h1v1h-1zM146 262h1v1h-1zM172 262h1v1h-1zM172 263h1v1h-1zM52 264h1v1h-1zM55 264h1v1h-1zM59 264h1v1h-1zM80 264h1v1h-1zM172 264h1v1h-1zM80 265h1v1h-1zM147 265h1v1h-1zM172 265h1v1h-1zM172 266h1v1h-1zM60 267h1v1h-1zM148 267h1v1h-1zM171 267h2v1h-2zM81 268h1v1h-1zM148 268h1v1h-1zM171 268h2v1h-2zM170 269h5v1h-5zM82 270h1v1h-1zM149 270h1v1h-1zM165 270h1v1h-1zM169 270h4v1h-4zM163 271h1v1h-1zM170 271h2v1h-2zM176 271h1v1h-1zM61 272h1v1h-1zM150 272h1v1h-1zM162 272h1v1h-1zM170 272h1v1h-1zM176 272h1v1h-1zM83 273h1v1h-1zM150 273h1v1h-1zM150 274h1v1h-1zM161 274h1v1h-1zM169 274h1v1h-1zM84 275h1v1h-1zM152 275h3v1h-3zM156 275h1v1h-1zM159 275h2v1h-2zM169 275h1v1h-1zM169 276h1v1h-1zM62 277h1v1h-1zM85 277h1v1h-1zM169 277h1v1h-1zM176 278h1v1h-1zM92 279h1v1h-1zM162 279h1v1h-1zM170 279h1v1h-1zM175 279h1v1h-1zM174 280h1v1h-1zM172 281h1v1h-1zM89 282h1v1h-1zM91 283h1v1h-1zM175 283h1v1h-1zM178 283h2v1h-2zM90 284h2v1h-2zM99 284h1v1h-1zM102 284h2v1h-2zM175 284h1v1h-1zM180 284h1v1h-1zM91 285h1v1h-1zM102 285h2v1h-2zM175 285h1v1h-1zM181 285h1v1h-1zM92 286h1v1h-1zM175 286h1v1h-1zM181 286h1v1h-1zM101 287h1v1h-1zM175 287h1v1h-1zM181 287h1v1h-1zM65 288h1v1h-1zM103 289h1v1h-1zM105 289h3v1h-3zM177 289h3v1h-3zM103 290h1v1h-1zM106 291h1v1h-1zM108 291h1v1h-1zM95 293h1v1h-1zM103 294h1v1h-1zM67 295h1v1h-1zM97 295h1v1h-1zM103 295h1v1h-1zM98 296h1v1h-1zM103 296h1v1h-1zM95 297h1v1h-1zM99 297h1v1h-1zM95 298h1v1h-1zM102 298h1v1h-1zM95 299h1v1h-1zM69 302h1v1h-1zM96 304h1v1h-1zM70 305h1v1h-1zM96 305h1v1h-1zM96 306h1v1h-1zM71 310h1v1h-1zM96 310h1v1h-1zM96 311h1v1h-1zM96 312h1v1h-1zM72 314h1v1h-1zM96 314h1v1h-1zM98 317h1v1h-1zM99 318h1v1h-1zM73 320h1v1h-1zM100 320h1v1h-1zM189 320h1v1h-1zM187 321h1v1h-1zM191 322h1v1h-1zM99 323h1v1h-1zM190 324h1v1h-1zM75 325h1v1h-1zM98 326h1v1h-1zM77 333h1v1h-1zM92 333h1v1h-1zM90 334h1v1h-1zM82 335h3v1h-3zM86 335h1v1h-1z"/><path fill="#ea9028" d="M35 232h1v1h-1zM55 233h1v1h-1zM40 234h1v1h-1zM50 234h3v1h-3zM59 234h1v1h-1zM40 235h1v1h-1zM45 235h1v1h-1zM60 235h1v1h-1zM161 235h3v1h-3zM40 236h1v1h-1zM61 236h1v1h-1zM75 236h1v1h-1zM160 236h1v1h-1zM164 236h1v1h-1zM62 237h4v1h-4zM75 237h1v1h-1zM39 238h1v1h-1zM63 238h1v1h-1zM66 238h2v1h-2zM36 239h2v1h-2zM68 239h1v1h-1zM75 240h5v1h-5zM159 240h3v1h-3zM82 241h2v1h-2zM44 242h1v1h-1zM85 242h1v1h-1zM86 243h1v1h-1zM86 244h1v1h-1zM45 245h1v1h-1zM54 246h2v1h-2zM83 246h1v1h-1zM156 246h3v1h-3zM46 247h1v1h-1zM52 247h1v1h-1zM56 247h1v1h-1zM154 247h1v1h-1zM159 247h1v1h-1zM163 247h1v1h-1zM47 248h3v1h-3zM56 248h1v1h-1zM81 248h1v1h-1zM152 248h1v1h-1zM164 248h2v1h-2zM168 248h1v1h-1zM56 249h1v1h-1zM81 249h1v1h-1zM151 249h1v1h-1zM168 249h2v1h-2zM150 250h1v1h-1zM167 250h2v1h-2zM55 251h1v1h-1zM167 251h2v1h-2zM56 252h1v1h-1zM167 252h2v1h-2zM80 253h1v1h-1zM168 253h1v1h-1zM148 254h1v1h-1zM168 254h1v1h-1zM57 255h1v1h-1zM169 255h1v1h-1zM57 256h1v1h-1zM147 256h1v1h-1zM169 256h1v1h-1zM57 257h1v1h-1zM79 257h1v1h-1zM147 257h1v1h-1zM169 257h2v1h-2zM170 258h1v1h-1zM170 259h1v1h-1zM79 260h1v1h-1zM170 260h1v1h-1zM54 261h2v1h-2zM58 261h1v1h-1zM170 261h1v1h-1zM53 262h3v1h-3zM170 262h2v1h-2zM52 263h1v1h-1zM55 263h1v1h-1zM59 263h1v1h-1zM171 263h1v1h-1zM53 264h2v1h-2zM147 264h1v1h-1zM171 264h1v1h-1zM171 265h1v1h-1zM80 266h1v1h-1zM148 266h1v1h-1zM171 266h1v1h-1zM170 267h1v1h-1zM169 268h2v1h-2zM149 269h1v1h-1zM169 269h1v1h-1zM163 270h2v1h-2zM166 270h3v1h-3zM173 270h3v1h-3zM61 271h1v1h-1zM82 271h1v1h-1zM150 271h1v1h-1zM162 271h1v1h-1zM172 271h1v1h-1zM161 272h1v1h-1zM161 273h1v1h-1zM170 273h1v1h-1zM176 273h1v1h-1zM151 274h1v1h-1zM158 274h3v1h-3zM155 275h1v1h-1zM62 276h1v1h-1zM170 278h1v1h-1zM86 279h1v1h-1zM93 279h2v1h-2zM63 280h1v1h-1zM87 280h1v1h-1zM92 280h1v1h-1zM171 280h1v1h-1zM173 280h1v1h-1zM88 281h1v1h-1zM64 283h1v1h-1zM89 283h1v1h-1zM98 283h1v1h-1zM176 283h2v1h-2zM90 285h1v1h-1zM92 285h1v1h-1zM91 286h1v1h-1zM100 286h1v1h-1zM65 287h1v1h-1zM92 287h1v1h-1zM176 288h1v1h-1zM180 288h1v1h-1zM102 289h1v1h-1zM106 290h2v1h-2zM103 291h1v1h-1zM107 291h1v1h-1zM66 292h1v1h-1zM94 292h2v1h-2zM103 292h1v1h-1zM94 293h1v1h-1zM96 293h1v1h-1zM103 293h1v1h-1zM68 298h1v1h-1zM101 298h1v1h-1zM95 300h1v1h-1zM96 307h1v1h-1zM96 308h1v1h-1zM71 309h1v1h-1zM96 309h1v1h-1zM96 315h1v1h-1zM97 316h1v1h-1zM73 319h1v1h-1zM74 322h1v1h-1zM75 324h1v1h-1zM98 325h1v1h-1zM76 328h1v1h-1zM97 328h1v1h-1zM76 329h1v1h-1zM76 332h1v1h-1zM93 332h1v1h-1zM80 335h2v1h-2zM85 335h1v1h-1z"/><path fill="#eba328" d="M36 232h1v1h-1zM38 232h1v1h-1zM39 233h1v1h-1zM33 234h1v1h-1zM53 234h1v1h-1zM58 234h1v1h-1zM46 235h3v1h-3zM45 236h1v1h-1zM33 237h1v1h-1zM45 237h1v1h-1zM61 237h1v1h-1zM160 237h1v1h-1zM34 238h1v1h-1zM45 238h1v1h-1zM61 238h2v1h-2zM64 238h2v1h-2zM160 238h1v1h-1zM62 239h3v1h-3zM66 239h2v1h-2zM160 239h1v1h-1zM164 239h1v1h-1zM56 240h2v1h-2zM68 240h7v1h-7zM162 240h2v1h-2zM80 241h2v1h-2zM84 242h1v1h-1zM85 243h1v1h-1zM85 244h1v1h-1zM84 245h1v1h-1zM53 246h1v1h-1zM51 247h1v1h-1zM81 247h1v1h-1zM155 247h4v1h-4zM160 247h3v1h-3zM153 248h1v1h-1zM159 248h1v1h-1zM163 248h1v1h-1zM166 248h2v1h-2zM163 249h5v1h-5zM56 250h1v1h-1zM164 250h3v1h-3zM56 251h1v1h-1zM165 251h2v1h-2zM149 252h1v1h-1zM166 252h1v1h-1zM57 253h1v1h-1zM149 253h1v1h-1zM167 253h1v1h-1zM57 254h1v1h-1zM167 254h1v1h-1zM148 255h1v1h-1zM168 255h1v1h-1zM79 256h1v1h-1zM168 256h1v1h-1zM168 257h1v1h-1zM147 258h1v1h-1zM168 258h2v1h-2zM58 259h1v1h-1zM147 259h1v1h-1zM169 259h1v1h-1zM58 260h1v1h-1zM169 260h1v1h-1zM79 261h1v1h-1zM169 261h1v1h-1zM59 262h1v1h-1zM147 262h1v1h-1zM169 262h1v1h-1zM53 263h2v1h-2zM147 263h1v1h-1zM170 263h1v1h-1zM170 264h1v1h-1zM148 265h1v1h-1zM170 265h1v1h-1zM60 266h1v1h-1zM170 266h1v1h-1zM169 267h1v1h-1zM149 268h1v1h-1zM165 268h1v1h-1zM168 268h1v1h-1zM81 269h1v1h-1zM163 269h6v1h-6zM61 270h1v1h-1zM162 270h1v1h-1zM161 271h1v1h-1zM173 271h3v1h-3zM82 272h1v1h-1zM160 272h1v1h-1zM171 272h1v1h-1zM151 273h1v1h-1zM159 273h2v1h-2zM83 274h1v1h-1zM152 274h1v1h-1zM157 274h1v1h-1zM176 274h1v1h-1zM62 275h1v1h-1zM176 275h1v1h-1zM84 276h1v1h-1zM170 277h1v1h-1zM176 277h1v1h-1zM85 278h1v1h-1zM171 279h1v1h-1zM174 279h1v1h-1zM95 280h1v1h-1zM172 280h1v1h-1zM92 281h1v1h-1zM64 282h1v1h-1zM92 282h1v1h-1zM97 282h1v1h-1zM89 284h1v1h-1zM92 284h1v1h-1zM176 284h4v1h-4zM176 285h1v1h-1zM180 285h1v1h-1zM65 286h1v1h-1zM180 286h1v1h-1zM93 287h1v1h-1zM180 287h1v1h-1zM92 288h2v1h-2zM101 288h1v1h-1zM177 288h3v1h-3zM93 289h1v1h-1zM102 290h1v1h-1zM66 291h1v1h-1zM94 291h1v1h-1zM67 294h1v1h-1zM94 294h1v1h-1zM97 294h1v1h-1zM94 295h1v1h-1zM94 296h1v1h-1zM68 297h1v1h-1zM100 297h1v1h-1zM102 297h1v1h-1zM69 301h1v1h-1zM95 301h1v1h-1zM70 304h1v1h-1zM71 307h1v1h-1zM71 308h1v1h-1zM72 313h1v1h-1zM99 319h1v1h-1zM74 321h1v1h-1zM190 321h1v1h-1zM99 322h1v1h-1zM187 322h1v1h-1zM187 323h1v1h-1zM98 324h1v1h-1zM188 324h2v1h-2zM76 327h1v1h-1zM96 329h1v1h-1zM76 330h1v1h-1zM95 330h1v1h-1zM76 331h1v1h-1zM94 331h1v1h-1zM91 333h1v1h-1zM79 334h1v1h-1zM88 334h2v1h-2z"/><path fill="#ecb628" d="M37 232h1v1h-1zM34 233h1v1h-1zM54 234h4v1h-4zM49 235h2v1h-2zM59 235h1v1h-1zM33 236h1v1h-1zM46 236h1v1h-1zM60 236h1v1h-1zM161 236h1v1h-1zM163 236h1v1h-1zM39 237h1v1h-1zM60 237h1v1h-1zM164 237h1v1h-1zM38 238h1v1h-1zM60 238h1v1h-1zM164 238h1v1h-1zM45 239h1v1h-1zM58 239h4v1h-4zM65 239h1v1h-1zM161 239h1v1h-1zM55 240h1v1h-1zM58 240h2v1h-2zM63 240h1v1h-1zM67 240h1v1h-1zM55 241h3v1h-3zM77 241h3v1h-3zM82 242h2v1h-2zM84 243h1v1h-1zM45 244h1v1h-1zM84 244h1v1h-1zM83 245h1v1h-1zM46 246h1v1h-1zM56 246h1v1h-1zM82 246h1v1h-1zM47 247h1v1h-1zM50 247h1v1h-1zM158 248h1v1h-1zM160 248h3v1h-3zM152 249h1v1h-1zM159 249h4v1h-4zM151 250h1v1h-1zM162 250h2v1h-2zM57 251h1v1h-1zM150 251h1v1h-1zM163 251h2v1h-2zM57 252h1v1h-1zM80 252h1v1h-1zM164 252h2v1h-2zM165 253h2v1h-2zM149 254h1v1h-1zM166 254h1v1h-1zM79 255h1v1h-1zM166 255h2v1h-2zM148 256h1v1h-1zM167 256h1v1h-1zM58 257h1v1h-1zM167 257h1v1h-1zM58 258h1v1h-1zM167 258h1v1h-1zM167 259h2v1h-2zM147 260h1v1h-1zM167 260h2v1h-2zM59 261h1v1h-1zM147 261h1v1h-1zM168 261h1v1h-1zM79 262h1v1h-1zM168 262h1v1h-1zM79 263h1v1h-1zM169 263h1v1h-1zM148 264h1v1h-1zM169 266h1v1h-1zM80 267h1v1h-1zM149 267h1v1h-1zM165 267h4v1h-4zM164 268h1v1h-1zM166 268h2v1h-2zM61 269h1v1h-1zM162 269h1v1h-1zM150 270h1v1h-1zM161 270h1v1h-1zM160 271h1v1h-1zM151 272h1v1h-1zM159 272h1v1h-1zM172 272h1v1h-1zM174 272h2v1h-2zM152 273h1v1h-1zM158 273h1v1h-1zM62 274h1v1h-1zM153 274h4v1h-4zM170 274h1v1h-1zM83 275h1v1h-1zM170 275h1v1h-1zM170 276h1v1h-1zM176 276h1v1h-1zM84 277h1v1h-1zM171 278h1v1h-1zM175 278h1v1h-1zM63 279h1v1h-1zM172 279h2v1h-2zM93 280h2v1h-2zM64 281h1v1h-1zM96 281h1v1h-1zM88 282h1v1h-1zM92 283h1v1h-1zM65 285h1v1h-1zM99 285h1v1h-1zM177 285h3v1h-3zM93 286h1v1h-1zM176 286h1v1h-1zM179 286h1v1h-1zM91 287h1v1h-1zM100 287h1v1h-1zM176 287h1v1h-1zM179 287h1v1h-1zM66 290h1v1h-1zM93 290h2v1h-2zM95 291h1v1h-1zM102 291h1v1h-1zM98 295h1v1h-1zM68 296h1v1h-1zM99 296h1v1h-1zM102 296h1v1h-1zM94 297h1v1h-1zM101 297h1v1h-1zM69 300h1v1h-1zM95 302h1v1h-1zM70 303h1v1h-1zM95 303h1v1h-1zM71 306h1v1h-1zM72 312h1v1h-1zM95 312h1v1h-1zM95 313h1v1h-1zM73 317h1v1h-1zM97 317h1v1h-1zM73 318h1v1h-1zM98 318h1v1h-1zM99 320h1v1h-1zM99 321h1v1h-1zM188 321h2v1h-2zM190 322h1v1h-1zM75 323h1v1h-1zM190 323h1v1h-1zM76 326h1v1h-1zM97 327h1v1h-1zM77 332h1v1h-1zM92 332h1v1h-1zM78 333h1v1h-1zM87 334h1v1h-1z"/><path fill="#e5d52a" d="M35 233h1v1h-1zM34 234h1v1h-1zM39 235h1v1h-1zM54 235h1v1h-1zM57 235h1v1h-1zM39 236h1v1h-1zM48 236h2v1h-2zM52 236h2v1h-2zM34 237h1v1h-1zM59 237h1v1h-1zM162 237h2v1h-2zM36 238h2v1h-2zM46 238h1v1h-1zM55 238h1v1h-1zM57 238h2v1h-2zM163 238h1v1h-1zM54 239h1v1h-1zM162 239h1v1h-1zM54 240h1v1h-1zM54 241h1v1h-1zM59 241h2v1h-2zM69 241h6v1h-6zM57 242h1v1h-1zM79 242h2v1h-2zM55 243h1v1h-1zM82 243h1v1h-1zM55 244h1v1h-1zM46 245h1v1h-1zM53 245h1v1h-1zM82 245h1v1h-1zM47 246h1v1h-1zM51 246h1v1h-1zM57 246h1v1h-1zM80 247h1v1h-1zM80 248h1v1h-1zM80 249h1v1h-1zM153 249h1v1h-1zM157 249h1v1h-1zM80 250h1v1h-1zM159 250h1v1h-1zM160 251h1v1h-1zM150 252h1v1h-1zM161 252h2v1h-2zM162 253h2v1h-2zM58 254h1v1h-1zM164 254h1v1h-1zM149 255h1v1h-1zM164 255h1v1h-1zM165 256h1v1h-1zM78 257h1v1h-1zM165 257h1v1h-1zM59 259h1v1h-1zM148 259h1v1h-1zM166 259h1v1h-1zM78 260h1v1h-1zM148 260h1v1h-1zM166 260h1v1h-1zM148 261h1v1h-1zM166 261h1v1h-1zM148 262h1v1h-1zM166 262h1v1h-1zM60 263h1v1h-1zM166 263h1v1h-1zM60 264h1v1h-1zM165 264h3v1h-3zM165 265h1v1h-1zM79 266h1v1h-1zM149 266h1v1h-1zM164 266h1v1h-1zM61 267h1v1h-1zM163 267h1v1h-1zM162 268h1v1h-1zM81 271h1v1h-1zM159 271h1v1h-1zM62 272h1v1h-1zM152 272h1v1h-1zM158 272h1v1h-1zM153 273h1v1h-1zM172 273h1v1h-1zM174 273h1v1h-1zM82 274h1v1h-1zM171 274h1v1h-1zM175 274h1v1h-1zM83 276h1v1h-1zM63 277h1v1h-1zM171 277h1v1h-1zM175 277h1v1h-1zM84 278h1v1h-1zM172 278h3v1h-3zM64 280h1v1h-1zM95 281h1v1h-1zM65 283h1v1h-1zM97 283h1v1h-1zM88 284h1v1h-1zM93 284h1v1h-1zM99 286h1v1h-1zM94 287h1v1h-1zM66 288h1v1h-1zM91 288h1v1h-1zM94 288h1v1h-1zM95 290h1v1h-1zM93 293h1v1h-1zM97 293h1v1h-1zM93 294h1v1h-1zM68 295h1v1h-1zM100 296h2v1h-2zM69 298h1v1h-1zM94 300h1v1h-1zM70 302h1v1h-1zM95 307h1v1h-1zM95 308h1v1h-1zM72 309h1v1h-1zM95 309h1v1h-1zM72 310h1v1h-1zM95 310h1v1h-1zM73 314h1v1h-1zM95 315h1v1h-1zM97 318h1v1h-1zM98 319h1v1h-1zM98 322h1v1h-1zM188 322h2v1h-2zM188 323h2v1h-2zM97 325h1v1h-1zM77 328h1v1h-1zM77 329h1v1h-1zM95 329h1v1h-1zM94 330h1v1h-1zM77 331h1v1h-1zM79 333h1v1h-1zM90 333h1v1h-1zM81 334h2v1h-2z"/><path fill="#d1d232" d="M36 233h2v1h-2zM55 235h2v1h-2zM50 236h2v1h-2zM54 236h1v1h-1zM58 236h1v1h-1zM38 237h1v1h-1zM47 237h1v1h-1zM53 237h2v1h-2zM58 237h1v1h-1zM54 238h1v1h-1zM56 238h1v1h-1zM162 238h1v1h-1zM46 239h1v1h-1zM61 241h3v1h-3zM66 241h3v1h-3zM54 242h1v1h-1zM58 242h1v1h-1zM78 242h1v1h-1zM54 243h1v1h-1zM56 243h1v1h-1zM81 243h1v1h-1zM46 244h1v1h-1zM54 244h1v1h-1zM56 244h1v1h-1zM82 244h1v1h-1zM57 245h1v1h-1zM81 245h1v1h-1zM80 246h1v1h-1zM152 250h1v1h-1zM158 250h1v1h-1zM58 251h1v1h-1zM151 251h1v1h-1zM159 251h1v1h-1zM58 252h1v1h-1zM160 252h1v1h-1zM58 253h1v1h-1zM79 253h1v1h-1zM150 253h1v1h-1zM161 253h1v1h-1zM162 254h2v1h-2zM163 255h1v1h-1zM78 256h1v1h-1zM149 256h1v1h-1zM164 256h1v1h-1zM59 257h1v1h-1zM164 257h1v1h-1zM59 258h1v1h-1zM165 258h1v1h-1zM165 259h1v1h-1zM165 260h1v1h-1zM78 261h1v1h-1zM165 261h1v1h-1zM60 262h1v1h-1zM165 262h1v1h-1zM165 263h1v1h-1zM149 265h1v1h-1zM164 265h1v1h-1zM61 266h1v1h-1zM162 267h1v1h-1zM150 268h1v1h-1zM161 268h1v1h-1zM80 269h1v1h-1zM160 269h1v1h-1zM62 270h1v1h-1zM62 271h1v1h-1zM81 272h1v1h-1zM154 273h1v1h-1zM156 273h1v1h-1zM173 273h1v1h-1zM171 275h1v1h-1zM175 275h1v1h-1zM63 276h1v1h-1zM171 276h1v1h-1zM175 276h1v1h-1zM86 281h1v1h-1zM94 281h1v1h-1zM65 282h1v1h-1zM87 282h1v1h-1zM93 282h1v1h-1zM96 282h1v1h-1zM93 283h1v1h-1zM88 285h1v1h-1zM89 286h1v1h-1zM66 287h1v1h-1zM90 287h1v1h-1zM100 288h1v1h-1zM92 290h1v1h-1zM101 290h1v1h-1zM96 291h1v1h-1zM67 292h1v1h-1zM98 294h1v1h-1zM93 295h1v1h-1zM99 295h1v1h-1zM93 296h1v1h-1zM69 297h1v1h-1zM94 301h1v1h-1zM71 304h1v1h-1zM72 308h1v1h-1zM96 317h1v1h-1zM74 319h1v1h-1zM98 320h1v1h-1zM75 321h1v1h-1zM98 321h1v1h-1zM76 324h1v1h-1zM97 324h1v1h-1zM77 327h1v1h-1zM96 327h1v1h-1zM77 330h1v1h-1zM78 332h1v1h-1zM91 332h1v1h-1zM89 333h1v1h-1z"/><path fill="#e9c629" d="M38 233h1v1h-1zM39 234h1v1h-1zM33 235h1v1h-1zM51 235h3v1h-3zM58 235h1v1h-1zM47 236h1v1h-1zM59 236h1v1h-1zM162 236h1v1h-1zM46 237h1v1h-1zM161 237h1v1h-1zM35 238h1v1h-1zM59 238h1v1h-1zM161 238h1v1h-1zM55 239h3v1h-3zM163 239h1v1h-1zM45 240h1v1h-1zM60 240h3v1h-3zM64 240h3v1h-3zM45 241h1v1h-1zM58 241h1v1h-1zM75 241h2v1h-2zM45 242h1v1h-1zM55 242h2v1h-2zM81 242h1v1h-1zM45 243h1v1h-1zM83 243h1v1h-1zM83 244h1v1h-1zM54 245h3v1h-3zM52 246h1v1h-1zM81 246h1v1h-1zM48 247h2v1h-2zM57 247h1v1h-1zM57 248h1v1h-1zM154 248h4v1h-4zM57 249h1v1h-1zM158 249h1v1h-1zM57 250h1v1h-1zM160 250h2v1h-2zM80 251h1v1h-1zM161 251h2v1h-2zM163 252h1v1h-1zM164 253h1v1h-1zM79 254h1v1h-1zM165 254h1v1h-1zM58 255h1v1h-1zM165 255h1v1h-1zM58 256h1v1h-1zM166 256h1v1h-1zM148 257h1v1h-1zM166 257h1v1h-1zM78 258h1v1h-1zM148 258h1v1h-1zM166 258h1v1h-1zM78 259h1v1h-1zM59 260h1v1h-1zM167 261h1v1h-1zM167 262h1v1h-1zM148 263h1v1h-1zM167 263h2v1h-2zM79 264h1v1h-1zM168 264h2v1h-2zM60 265h1v1h-1zM79 265h1v1h-1zM166 265h4v1h-4zM165 266h4v1h-4zM164 267h1v1h-1zM61 268h1v1h-1zM80 268h1v1h-1zM163 268h1v1h-1zM150 269h1v1h-1zM161 269h1v1h-1zM81 270h1v1h-1zM160 270h1v1h-1zM151 271h1v1h-1zM173 272h1v1h-1zM62 273h1v1h-1zM82 273h1v1h-1zM157 273h1v1h-1zM171 273h1v1h-1zM175 273h1v1h-1zM63 278h1v1h-1zM85 279h1v1h-1zM86 280h1v1h-1zM87 281h1v1h-1zM93 281h1v1h-1zM88 283h1v1h-1zM65 284h1v1h-1zM98 284h1v1h-1zM89 285h1v1h-1zM93 285h1v1h-1zM90 286h1v1h-1zM177 286h2v1h-2zM177 287h2v1h-2zM66 289h1v1h-1zM92 289h1v1h-1zM94 289h1v1h-1zM101 289h1v1h-1zM93 291h1v1h-1zM93 292h1v1h-1zM96 292h1v1h-1zM102 292h1v1h-1zM67 293h1v1h-1zM102 293h1v1h-1zM102 294h1v1h-1zM102 295h1v1h-1zM94 298h1v1h-1zM69 299h1v1h-1zM94 299h1v1h-1zM95 304h1v1h-1zM71 305h1v1h-1zM95 305h1v1h-1zM95 306h1v1h-1zM72 311h1v1h-1zM95 311h1v1h-1zM95 314h1v1h-1zM73 315h1v1h-1zM73 316h1v1h-1zM96 316h1v1h-1zM74 320h1v1h-1zM75 322h1v1h-1zM98 323h1v1h-1zM76 325h1v1h-1zM97 326h1v1h-1zM96 328h1v1h-1zM93 331h1v1h-1zM80 334h1v1h-1zM83 334h4v1h-4z"/><path fill="#a8c848" d="M35 234h1v1h-1zM37 234h1v1h-1zM38 235h1v1h-1zM38 236h1v1h-1zM36 237h2v1h-2zM49 237h3v1h-3zM47 238h1v1h-1zM52 238h1v1h-1zM46 240h1v1h-1zM46 241h1v1h-1zM53 241h1v1h-1zM46 242h1v1h-1zM53 242h1v1h-1zM60 242h2v1h-2zM74 242h2v1h-2zM46 243h1v1h-1zM53 243h1v1h-1zM58 243h1v1h-1zM78 243h1v1h-1zM79 244h1v1h-1zM58 245h1v1h-1zM79 245h1v1h-1zM58 246h1v1h-1zM79 246h1v1h-1zM58 247h1v1h-1zM79 247h1v1h-1zM153 250h1v1h-1zM157 250h1v1h-1zM79 251h1v1h-1zM158 251h1v1h-1zM151 252h1v1h-1zM159 252h1v1h-1zM160 253h1v1h-1zM59 254h1v1h-1zM78 254h1v1h-1zM59 255h1v1h-1zM162 256h1v1h-1zM77 257h1v1h-1zM163 257h1v1h-1zM77 258h1v1h-1zM149 258h1v1h-1zM163 258h1v1h-1zM60 259h1v1h-1zM77 259h1v1h-1zM149 259h1v1h-1zM163 259h1v1h-1zM60 260h1v1h-1zM149 260h1v1h-1zM163 260h1v1h-1zM149 261h1v1h-1zM163 261h1v1h-1zM149 262h1v1h-1zM163 262h1v1h-1zM163 263h1v1h-1zM163 264h1v1h-1zM61 265h1v1h-1zM78 265h1v1h-1zM163 265h1v1h-1zM162 266h1v1h-1zM150 267h1v1h-1zM62 268h1v1h-1zM79 268h1v1h-1zM160 268h1v1h-1zM80 270h1v1h-1zM152 271h1v1h-1zM153 272h1v1h-1zM63 273h1v1h-1zM81 273h1v1h-1zM173 274h1v1h-1zM172 275h1v1h-1zM174 275h1v1h-1zM82 276h1v1h-1zM172 276h1v1h-1zM174 276h1v1h-1zM173 277h1v1h-1zM64 278h1v1h-1zM83 278h1v1h-1zM65 281h1v1h-1zM95 282h1v1h-1zM94 283h1v1h-1zM96 283h1v1h-1zM66 284h1v1h-1zM87 284h1v1h-1zM94 284h1v1h-1zM97 284h1v1h-1zM94 285h1v1h-1zM99 287h1v1h-1zM90 288h1v1h-1zM67 289h1v1h-1zM100 289h1v1h-1zM92 292h1v1h-1zM97 292h1v1h-1zM101 292h1v1h-1zM68 293h1v1h-1zM92 293h1v1h-1zM98 293h1v1h-1zM101 293h1v1h-1zM99 294h1v1h-1zM69 295h1v1h-1zM93 299h1v1h-1zM70 300h1v1h-1zM71 303h1v1h-1zM72 305h1v1h-1zM94 305h1v1h-1zM94 306h1v1h-1zM94 311h1v1h-1zM73 312h1v1h-1zM74 315h1v1h-1zM94 315h1v1h-1zM74 316h1v1h-1zM95 317h1v1h-1zM96 318h1v1h-1zM75 320h1v1h-1zM76 322h1v1h-1zM97 322h1v1h-1zM96 324h1v1h-1zM77 325h1v1h-1zM96 325h1v1h-1zM94 329h1v1h-1zM78 331h1v1h-1zM90 332h1v1h-1zM80 333h1v1h-1zM83 333h2v1h-2z"/><path fill="#9ac654" d="M36 234h1v1h-1zM35 235h1v1h-1zM35 236h1v1h-1zM47 239h1v1h-1zM62 242h1v1h-1zM69 242h5v1h-5zM59 243h1v1h-1zM77 243h1v1h-1zM47 244h1v1h-1zM52 244h1v1h-1zM58 244h1v1h-1zM78 244h1v1h-1zM48 245h1v1h-1zM51 245h1v1h-1zM79 248h1v1h-1zM79 249h1v1h-1zM79 250h1v1h-1zM152 251h1v1h-1zM59 253h1v1h-1zM78 253h1v1h-1zM160 254h1v1h-1zM150 255h1v1h-1zM161 255h1v1h-1zM77 256h1v1h-1zM161 256h1v1h-1zM60 257h1v1h-1zM162 257h1v1h-1zM60 258h1v1h-1zM162 258h1v1h-1zM77 260h1v1h-1zM61 263h1v1h-1zM162 263h1v1h-1zM61 264h1v1h-1zM162 264h1v1h-1zM162 265h1v1h-1zM78 266h1v1h-1zM150 266h1v1h-1zM161 266h1v1h-1zM62 267h1v1h-1zM160 267h1v1h-1zM151 269h1v1h-1zM159 269h1v1h-1zM63 271h1v1h-1zM80 271h1v1h-1zM63 272h1v1h-1zM156 272h1v1h-1zM81 274h1v1h-1zM173 275h1v1h-1zM64 276h1v1h-1zM173 276h1v1h-1zM64 277h1v1h-1zM65 280h1v1h-1zM85 281h1v1h-1zM86 282h1v1h-1zM66 283h1v1h-1zM95 283h1v1h-1zM87 285h1v1h-1zM88 286h1v1h-1zM89 287h1v1h-1zM67 288h1v1h-1zM95 288h1v1h-1zM91 290h1v1h-1zM96 290h1v1h-1zM92 294h1v1h-1zM100 294h1v1h-1zM92 295h1v1h-1zM92 296h1v1h-1zM70 298h1v1h-1zM70 299h1v1h-1zM93 300h1v1h-1zM71 302h1v1h-1zM72 304h1v1h-1zM94 307h1v1h-1zM94 308h1v1h-1zM73 309h1v1h-1zM94 309h1v1h-1zM73 310h1v1h-1zM94 310h1v1h-1zM73 311h1v1h-1zM74 314h1v1h-1zM94 316h1v1h-1zM75 319h1v1h-1zM97 320h1v1h-1zM76 321h1v1h-1zM97 321h1v1h-1zM96 323h1v1h-1zM77 324h1v1h-1zM78 327h1v1h-1zM95 327h1v1h-1zM78 328h1v1h-1zM78 329h1v1h-1zM78 330h1v1h-1zM92 330h1v1h-1zM91 331h1v1h-1zM79 332h1v1h-1zM81 333h2v1h-2z"/><path fill="#b9cb3c" d="M38 234h1v1h-1zM34 235h1v1h-1zM34 236h1v1h-1zM55 236h3v1h-3zM35 237h1v1h-1zM48 237h1v1h-1zM52 237h1v1h-1zM55 237h3v1h-3zM53 238h1v1h-1zM53 239h1v1h-1zM53 240h1v1h-1zM64 241h2v1h-2zM59 242h1v1h-1zM76 242h2v1h-2zM57 243h1v1h-1zM79 243h2v1h-2zM53 244h1v1h-1zM57 244h1v1h-1zM80 244h2v1h-2zM47 245h1v1h-1zM52 245h1v1h-1zM80 245h1v1h-1zM48 246h3v1h-3zM58 248h1v1h-1zM58 249h1v1h-1zM154 249h3v1h-3zM58 250h1v1h-1zM79 252h1v1h-1zM150 254h1v1h-1zM161 254h1v1h-1zM78 255h1v1h-1zM162 255h1v1h-1zM59 256h1v1h-1zM163 256h1v1h-1zM149 257h1v1h-1zM164 258h1v1h-1zM164 259h1v1h-1zM164 260h1v1h-1zM60 261h1v1h-1zM164 261h1v1h-1zM78 262h1v1h-1zM164 262h1v1h-1zM78 263h1v1h-1zM149 263h1v1h-1zM164 263h1v1h-1zM78 264h1v1h-1zM149 264h1v1h-1zM164 264h1v1h-1zM163 266h1v1h-1zM79 267h1v1h-1zM161 267h1v1h-1zM62 269h1v1h-1zM151 270h1v1h-1zM159 270h1v1h-1zM158 271h1v1h-1zM157 272h1v1h-1zM155 273h1v1h-1zM63 274h1v1h-1zM172 274h1v1h-1zM174 274h1v1h-1zM63 275h1v1h-1zM82 275h1v1h-1zM83 277h1v1h-1zM172 277h1v1h-1zM174 277h1v1h-1zM64 279h1v1h-1zM84 279h1v1h-1zM85 280h1v1h-1zM94 282h1v1h-1zM87 283h1v1h-1zM66 285h1v1h-1zM98 285h1v1h-1zM66 286h1v1h-1zM94 286h1v1h-1zM91 289h1v1h-1zM95 289h1v1h-1zM67 290h1v1h-1zM67 291h1v1h-1zM92 291h1v1h-1zM101 291h1v1h-1zM68 294h1v1h-1zM101 294h1v1h-1zM100 295h2v1h-2zM69 296h1v1h-1zM93 297h1v1h-1zM93 298h1v1h-1zM70 301h1v1h-1zM94 302h1v1h-1zM94 303h1v1h-1zM94 304h1v1h-1zM72 306h1v1h-1zM72 307h1v1h-1zM94 312h1v1h-1zM73 313h1v1h-1zM94 313h1v1h-1zM94 314h1v1h-1zM95 316h1v1h-1zM74 317h1v1h-1zM74 318h1v1h-1zM97 319h1v1h-1zM76 323h1v1h-1zM97 323h1v1h-1zM77 326h1v1h-1zM96 326h1v1h-1zM95 328h1v1h-1zM93 330h1v1h-1zM92 331h1v1h-1zM85 333h4v1h-4z"/><path fill="#8cc45f" d="M36 235h2v1h-2zM36 236h2v1h-2zM48 238h1v1h-1zM51 238h1v1h-1zM52 239h1v1h-1zM52 240h1v1h-1zM63 242h6v1h-6zM60 243h1v1h-1zM76 243h1v1h-1zM59 244h1v1h-1zM49 245h2v1h-2zM78 245h1v1h-1zM78 246h1v1h-1zM59 250h1v1h-1zM154 250h1v1h-1zM156 250h1v1h-1zM59 251h1v1h-1zM59 252h1v1h-1zM151 253h1v1h-1zM159 253h1v1h-1zM77 255h1v1h-1zM160 255h1v1h-1zM60 256h1v1h-1zM150 256h1v1h-1zM161 257h1v1h-1zM162 259h1v1h-1zM162 260h1v1h-1zM61 261h1v1h-1zM77 261h1v1h-1zM162 261h1v1h-1zM61 262h1v1h-1zM77 262h1v1h-1zM162 262h1v1h-1zM77 264h1v1h-1zM161 264h1v1h-1zM161 265h1v1h-1zM62 266h1v1h-1zM78 267h1v1h-1zM79 269h1v1h-1zM63 270h1v1h-1zM158 270h1v1h-1zM157 271h1v1h-1zM80 272h1v1h-1zM154 272h2v1h-2zM64 275h1v1h-1zM81 275h1v1h-1zM82 277h1v1h-1zM65 279h1v1h-1zM83 279h1v1h-1zM84 280h1v1h-1zM66 282h1v1h-1zM86 283h1v1h-1zM95 284h2v1h-2zM97 285h1v1h-1zM67 286h1v1h-1zM95 286h1v1h-1zM98 286h1v1h-1zM67 287h1v1h-1zM95 287h1v1h-1zM99 288h1v1h-1zM90 289h1v1h-1zM100 290h1v1h-1zM68 291h1v1h-1zM97 291h1v1h-1zM68 292h1v1h-1zM99 293h2v1h-2zM69 294h1v1h-1zM70 296h1v1h-1zM70 297h1v1h-1zM92 297h1v1h-1zM92 298h1v1h-1zM71 301h1v1h-1zM93 301h1v1h-1zM93 302h1v1h-1zM73 306h1v1h-1zM73 307h1v1h-1zM73 308h1v1h-1zM93 312h1v1h-1zM74 313h1v1h-1zM93 313h1v1h-1zM93 314h1v1h-1zM75 317h1v1h-1zM75 318h1v1h-1zM95 318h1v1h-1zM96 319h1v1h-1zM76 320h1v1h-1zM96 322h1v1h-1zM77 323h1v1h-1zM95 324h1v1h-1zM95 325h1v1h-1zM78 326h1v1h-1zM95 326h1v1h-1zM94 328h1v1h-1zM93 329h1v1h-1zM87 332h3v1h-3z"/><path fill="#7fc26b" d="M49 238h2v1h-2zM47 240h1v1h-1zM47 241h1v1h-1zM52 241h1v1h-1zM47 242h1v1h-1zM52 242h1v1h-1zM47 243h1v1h-1zM52 243h1v1h-1zM61 243h1v1h-1zM74 243h2v1h-2zM48 244h1v1h-1zM51 244h1v1h-1zM76 244h2v1h-2zM59 245h1v1h-1zM77 245h1v1h-1zM59 246h1v1h-1zM59 247h1v1h-1zM78 247h1v1h-1zM59 248h1v1h-1zM59 249h1v1h-1zM155 250h1v1h-1zM157 251h1v1h-1zM78 252h1v1h-1zM158 252h1v1h-1zM60 254h1v1h-1zM77 254h1v1h-1zM60 255h1v1h-1zM160 256h1v1h-1zM76 257h1v1h-1zM76 258h1v1h-1zM161 258h1v1h-1zM61 259h1v1h-1zM76 259h1v1h-1zM161 259h1v1h-1zM61 260h1v1h-1zM161 260h1v1h-1zM161 261h1v1h-1zM161 262h1v1h-1zM77 263h1v1h-1zM161 263h1v1h-1zM62 265h1v1h-1zM77 265h1v1h-1zM150 265h1v1h-1zM160 266h1v1h-1zM63 268h1v1h-1zM151 268h1v1h-1zM159 268h1v1h-1zM63 269h1v1h-1zM152 270h1v1h-1zM153 271h1v1h-1zM64 273h1v1h-1zM80 273h1v1h-1zM64 274h1v1h-1zM81 276h1v1h-1zM65 278h1v1h-1zM82 278h1v1h-1zM66 281h1v1h-1zM85 282h1v1h-1zM86 284h1v1h-1zM67 285h1v1h-1zM86 285h1v1h-1zM95 285h1v1h-1zM87 286h1v1h-1zM88 287h1v1h-1zM89 288h1v1h-1zM68 289h1v1h-1zM96 289h1v1h-1zM68 290h1v1h-1zM91 291h1v1h-1zM100 291h1v1h-1zM91 292h1v1h-1zM98 292h1v1h-1zM100 292h1v1h-1zM69 293h1v1h-1zM70 295h1v1h-1zM92 299h1v1h-1zM71 300h1v1h-1zM72 303h1v1h-1zM93 303h1v1h-1zM73 304h1v1h-1zM93 304h1v1h-1zM73 305h1v1h-1zM93 305h1v1h-1zM93 306h1v1h-1zM93 311h1v1h-1zM75 315h1v1h-1zM93 315h1v1h-1zM75 316h1v1h-1zM94 317h1v1h-1zM76 319h1v1h-1zM96 320h1v1h-1zM96 321h1v1h-1zM77 322h1v1h-1zM95 323h1v1h-1zM78 325h1v1h-1zM94 327h1v1h-1zM92 329h1v1h-1zM91 330h1v1h-1zM79 331h1v1h-1zM90 331h1v1h-1zM80 332h1v1h-1zM84 332h3v1h-3z"/><path fill="#7cc377" d="M48 239h1v1h-1zM51 239h1v1h-1zM62 243h2v1h-2zM70 243h4v1h-4zM49 244h2v1h-2zM60 244h1v1h-1zM75 244h1v1h-1zM76 245h1v1h-1zM77 246h1v1h-1zM78 248h1v1h-1zM153 251h1v1h-1zM152 252h1v1h-1zM60 253h1v1h-1zM151 254h1v1h-1zM159 254h1v1h-1zM76 256h1v1h-1zM61 257h1v1h-1zM150 257h1v1h-1zM160 257h1v1h-1zM61 258h1v1h-1zM150 258h1v1h-1zM76 260h1v1h-1zM62 264h1v1h-1zM150 264h1v1h-1zM160 265h1v1h-1zM77 266h1v1h-1zM63 267h1v1h-1zM159 267h1v1h-1zM78 268h1v1h-1zM158 269h1v1h-1zM79 270h1v1h-1zM64 271h1v1h-1zM156 271h1v1h-1zM64 272h1v1h-1zM80 274h1v1h-1zM65 275h1v1h-1zM65 276h1v1h-1zM65 277h1v1h-1zM66 280h1v1h-1zM83 280h1v1h-1zM84 281h1v1h-1zM85 283h1v1h-1zM67 284h1v1h-1zM96 285h1v1h-1zM86 286h1v1h-1zM96 286h2v1h-2zM96 287h1v1h-1zM98 287h1v1h-1zM68 288h1v1h-1zM96 288h1v1h-1zM99 289h1v1h-1zM90 290h1v1h-1zM97 290h1v1h-1zM98 291h1v1h-1zM69 292h1v1h-1zM99 292h1v1h-1zM91 293h1v1h-1zM70 294h1v1h-1zM91 294h1v1h-1zM91 295h1v1h-1zM91 296h1v1h-1zM91 297h1v1h-1zM71 298h1v1h-1zM71 299h1v1h-1zM92 300h1v1h-1zM72 302h1v1h-1zM74 305h1v1h-1zM74 306h1v1h-1zM93 307h1v1h-1zM93 308h1v1h-1zM93 309h1v1h-1zM93 310h1v1h-1zM74 312h1v1h-1zM92 313h1v1h-1zM75 314h1v1h-1zM92 314h1v1h-1zM93 316h1v1h-1zM76 317h1v1h-1zM76 318h1v1h-1zM94 318h1v1h-1zM95 319h1v1h-1zM77 320h1v1h-1zM77 321h1v1h-1zM95 322h1v1h-1zM78 324h1v1h-1zM94 324h1v1h-1zM94 325h1v1h-1zM79 326h1v1h-1zM94 326h1v1h-1zM79 327h1v1h-1zM79 328h1v1h-1zM93 328h1v1h-1zM79 329h1v1h-1zM91 329h1v1h-1zM79 330h1v1h-1zM90 330h1v1h-1zM89 331h1v1h-1zM81 332h3v1h-3z"/><path fill="#78c382" d="M49 239h2v1h-2zM48 240h1v1h-1zM51 240h1v1h-1zM51 241h1v1h-1zM51 242h1v1h-1zM48 243h1v1h-1zM51 243h1v1h-1zM64 243h6v1h-6zM61 244h1v1h-1zM73 244h2v1h-2zM60 245h1v1h-1zM75 245h1v1h-1zM60 246h1v1h-1zM60 251h1v1h-1zM78 251h1v1h-1zM154 251h1v1h-1zM156 251h1v1h-1zM60 252h1v1h-1zM77 253h1v1h-1zM158 253h1v1h-1zM61 255h1v1h-1zM76 255h1v1h-1zM159 255h1v1h-1zM61 256h1v1h-1zM75 257h1v1h-1zM160 258h1v1h-1zM150 259h1v1h-1zM62 260h1v1h-1zM150 260h1v1h-1zM62 261h1v1h-1zM76 261h1v1h-1zM150 261h1v1h-1zM62 262h1v1h-1zM76 262h1v1h-1zM150 262h1v1h-1zM62 263h1v1h-1zM76 263h1v1h-1zM150 263h1v1h-1zM160 263h1v1h-1zM76 264h1v1h-1zM160 264h1v1h-1zM76 265h1v1h-1zM63 266h1v1h-1zM77 267h1v1h-1zM151 267h1v1h-1zM64 269h1v1h-1zM78 269h1v1h-1zM152 269h1v1h-1zM64 270h1v1h-1zM157 270h1v1h-1zM79 271h1v1h-1zM154 271h2v1h-2zM65 273h1v1h-1zM65 274h1v1h-1zM80 275h1v1h-1zM81 277h1v1h-1zM66 279h1v1h-1zM82 279h1v1h-1zM84 282h1v1h-1zM67 283h1v1h-1zM85 284h1v1h-1zM68 286h1v1h-1zM68 287h1v1h-1zM87 287h1v1h-1zM97 287h1v1h-1zM88 288h1v1h-1zM97 288h2v1h-2zM89 289h1v1h-1zM97 289h2v1h-2zM69 290h1v1h-1zM98 290h2v1h-2zM69 291h1v1h-1zM90 291h1v1h-1zM99 291h1v1h-1zM70 292h1v1h-1zM70 293h1v1h-1zM71 294h1v1h-1zM71 295h1v1h-1zM71 296h1v1h-1zM90 296h1v1h-1zM71 297h1v1h-1zM90 297h1v1h-1zM91 298h1v1h-1zM72 301h1v1h-1zM92 301h1v1h-1zM92 302h1v1h-1zM73 303h1v1h-1zM92 303h1v1h-1zM74 304h1v1h-1zM92 304h1v1h-1zM92 305h1v1h-1zM74 307h1v1h-1zM74 308h1v1h-1zM74 309h1v1h-1zM74 310h1v1h-1zM74 311h1v1h-1zM92 312h1v1h-1zM75 313h1v1h-1zM76 315h1v1h-1zM92 315h1v1h-1zM76 316h1v1h-1zM93 317h1v1h-1zM77 318h1v1h-1zM77 319h1v1h-1zM94 319h1v1h-1zM95 320h1v1h-1zM95 321h1v1h-1zM78 322h1v1h-1zM78 323h1v1h-1zM94 323h1v1h-1zM79 324h1v1h-1zM93 324h1v1h-1zM79 325h1v1h-1zM93 325h1v1h-1zM93 326h1v1h-1zM93 327h1v1h-1zM91 328h2v1h-2zM86 329h1v1h-1zM90 329h1v1h-1zM87 330h1v1h-1zM89 330h1v1h-1zM80 331h1v1h-1zM85 331h4v1h-4z"/><path fill="#74c38d" d="M49 240h2v1h-2zM48 241h1v1h-1zM48 242h1v1h-1zM49 243h2v1h-2zM62 244h2v1h-2zM69 244h4v1h-4zM61 245h1v1h-1zM74 245h1v1h-1zM76 246h1v1h-1zM60 247h1v1h-1zM77 247h1v1h-1zM60 248h1v1h-1zM60 249h1v1h-1zM78 249h1v1h-1zM60 250h1v1h-1zM78 250h1v1h-1zM155 251h1v1h-1zM157 252h1v1h-1zM61 253h1v1h-1zM152 253h1v1h-1zM61 254h1v1h-1zM76 254h1v1h-1zM151 255h1v1h-1zM75 256h1v1h-1zM62 257h1v1h-1zM62 258h1v1h-1zM75 258h1v1h-1zM62 259h1v1h-1zM75 259h1v1h-1zM160 259h1v1h-1zM75 260h1v1h-1zM160 260h1v1h-1zM160 261h1v1h-1zM160 262h1v1h-1zM63 265h1v1h-1zM76 266h1v1h-1zM159 266h1v1h-1zM64 267h1v1h-1zM64 268h1v1h-1zM77 268h1v1h-1zM158 268h1v1h-1zM78 270h1v1h-1zM153 270h1v1h-1zM65 272h1v1h-1zM79 272h1v1h-1zM79 273h1v1h-1zM66 274h1v1h-1zM66 275h1v1h-1zM66 276h1v1h-1zM80 276h1v1h-1zM66 277h1v1h-1zM66 278h1v1h-1zM81 278h1v1h-1zM82 280h1v1h-1zM67 281h1v1h-1zM83 281h1v1h-1zM67 282h1v1h-1zM84 283h1v1h-1zM68 285h1v1h-1zM85 285h1v1h-1zM85 286h1v1h-1zM86 287h1v1h-1zM69 288h1v1h-1zM87 288h1v1h-1zM69 289h1v1h-1zM70 290h1v1h-1zM89 290h1v1h-1zM70 291h1v1h-1zM71 292h1v1h-1zM90 292h1v1h-1zM71 293h1v1h-1zM90 293h1v1h-1zM90 294h1v1h-1zM72 295h1v1h-1zM90 295h1v1h-1zM72 296h1v1h-1zM72 297h1v1h-1zM72 298h1v1h-1zM90 298h1v1h-1zM72 299h1v1h-1zM91 299h1v1h-1zM72 300h1v1h-1zM91 300h1v1h-1zM73 302h1v1h-1zM74 303h1v1h-1zM75 304h1v1h-1zM75 305h2v1h-2zM75 306h1v1h-1zM92 306h1v1h-1zM75 307h1v1h-1zM92 307h1v1h-1zM92 308h1v1h-1zM92 310h1v1h-1zM92 311h1v1h-1zM75 312h1v1h-1zM91 313h1v1h-1zM76 314h1v1h-1zM91 314h1v1h-1zM77 315h1v1h-1zM77 316h1v1h-1zM92 316h1v1h-1zM77 317h1v1h-1zM78 318h1v1h-1zM93 318h1v1h-1zM78 319h1v1h-1zM93 319h1v1h-1zM78 320h1v1h-1zM83 320h2v1h-2zM94 320h1v1h-1zM78 321h1v1h-1zM82 321h4v1h-4zM94 321h1v1h-1zM79 322h1v1h-1zM82 322h3v1h-3zM94 322h1v1h-1zM79 323h4v1h-4zM93 323h1v1h-1zM80 324h2v1h-2zM92 324h1v1h-1zM80 325h1v1h-1zM92 325h1v1h-1zM80 326h1v1h-1zM92 326h1v1h-1zM80 327h1v1h-1zM83 327h5v1h-5zM90 327h3v1h-3zM80 328h1v1h-1zM83 328h8v1h-8zM80 329h1v1h-1zM84 329h2v1h-2zM87 329h3v1h-3zM80 330h1v1h-1zM84 330h3v1h-3zM88 330h1v1h-1zM83 331h2v1h-2z"/><path fill="#71c499" d="M49 241h2v1h-2zM49 242h2v1h-2zM64 244h5v1h-5zM62 245h1v1h-1zM70 245h4v1h-4zM61 246h1v1h-1zM75 246h1v1h-1zM61 252h1v1h-1zM77 252h1v1h-1zM153 252h1v1h-1zM62 254h1v1h-1zM158 254h1v1h-1zM62 255h1v1h-1zM75 255h1v1h-1zM62 256h1v1h-1zM74 256h1v1h-1zM151 256h1v1h-1zM159 256h1v1h-1zM74 257h1v1h-1zM63 261h1v1h-1zM75 261h1v1h-1zM63 262h1v1h-1zM75 262h1v1h-1zM63 263h1v1h-1zM75 263h1v1h-1zM63 264h1v1h-1zM75 264h1v1h-1zM75 265h1v1h-1zM159 265h1v1h-1zM64 266h1v1h-1zM75 266h1v1h-1zM151 266h1v1h-1zM76 267h1v1h-1zM65 269h1v1h-1zM77 269h1v1h-1zM65 270h1v1h-1zM156 270h1v1h-1zM65 271h1v1h-1zM66 273h1v1h-1zM67 274h1v1h-1zM79 274h1v1h-1zM67 275h1v1h-1zM79 275h1v1h-1zM67 276h1v1h-1zM80 277h1v1h-1zM81 279h1v1h-1zM67 280h1v1h-1zM82 281h1v1h-1zM83 282h1v1h-1zM68 283h1v1h-1zM68 284h1v1h-1zM84 284h1v1h-1zM69 287h1v1h-1zM85 287h1v1h-1zM85 288h2v1h-2zM70 289h1v1h-1zM87 289h2v1h-2zM71 290h2v1h-2zM88 290h1v1h-1zM71 291h2v1h-2zM89 291h1v1h-1zM72 292h1v1h-1zM72 293h2v1h-2zM72 294h2v1h-2zM73 295h1v1h-1zM89 295h1v1h-1zM73 296h1v1h-1zM89 296h1v1h-1zM73 297h1v1h-1zM89 297h1v1h-1zM73 298h1v1h-1zM89 298h1v1h-1zM73 299h1v1h-1zM90 299h1v1h-1zM73 300h1v1h-1zM73 301h1v1h-1zM91 301h1v1h-1zM74 302h1v1h-1zM91 302h1v1h-1zM75 303h2v1h-2zM91 303h1v1h-1zM76 304h2v1h-2zM91 304h1v1h-1zM77 305h3v1h-3zM91 305h1v1h-1zM76 306h5v1h-5zM91 306h1v1h-1zM76 307h1v1h-1zM78 307h2v1h-2zM75 308h1v1h-1zM75 309h1v1h-1zM92 309h1v1h-1zM75 310h1v1h-1zM75 311h1v1h-1zM91 312h1v1h-1zM76 313h1v1h-1zM90 313h1v1h-1zM77 314h1v1h-1zM90 314h1v1h-1zM91 315h1v1h-1zM78 316h2v1h-2zM78 317h5v1h-5zM92 317h1v1h-1zM79 318h5v1h-5zM92 318h1v1h-1zM79 319h6v1h-6zM92 319h1v1h-1zM79 320h4v1h-4zM85 320h2v1h-2zM93 320h1v1h-1zM79 321h3v1h-3zM86 321h3v1h-3zM92 321h2v1h-2zM80 322h2v1h-2zM85 322h3v1h-3zM92 322h2v1h-2zM83 323h3v1h-3zM90 323h3v1h-3zM82 324h3v1h-3zM91 324h1v1h-1zM81 325h5v1h-5zM91 325h1v1h-1zM81 326h6v1h-6zM90 326h2v1h-2zM81 327h2v1h-2zM88 327h2v1h-2zM81 328h2v1h-2zM81 329h3v1h-3zM81 330h1v1h-1zM83 330h1v1h-1zM81 331h2v1h-2z"/><path fill="#70c6af" d="M63 245h7v1h-7zM62 246h2v1h-2zM74 246h1v1h-1zM61 247h1v1h-1zM76 247h1v1h-1zM61 248h1v1h-1zM77 248h1v1h-1zM61 249h1v1h-1zM61 250h1v1h-1zM61 251h1v1h-1zM154 252h1v1h-1zM156 252h1v1h-1zM62 253h1v1h-1zM76 253h1v1h-1zM157 253h1v1h-1zM75 254h1v1h-1zM152 254h1v1h-1zM63 255h1v1h-1zM74 255h1v1h-1zM63 256h1v1h-1zM63 257h1v1h-1zM159 257h1v1h-1zM63 258h1v1h-1zM74 258h1v1h-1zM63 259h1v1h-1zM74 259h1v1h-1zM63 260h1v1h-1zM74 260h1v1h-1zM74 264h1v1h-1zM159 264h1v1h-1zM64 265h1v1h-1zM74 265h1v1h-1zM65 266h1v1h-1zM74 266h1v1h-1zM65 267h1v1h-1zM75 267h1v1h-1zM158 267h1v1h-1zM65 268h1v1h-1zM75 268h2v1h-2zM152 268h1v1h-1zM76 269h1v1h-1zM157 269h1v1h-1zM77 270h1v1h-1zM154 270h1v1h-1zM78 271h1v1h-1zM66 272h1v1h-1zM67 273h1v1h-1zM68 274h1v1h-1zM68 275h2v1h-2zM68 276h1v1h-1zM79 276h1v1h-1zM67 277h1v1h-1zM67 278h1v1h-1zM80 278h1v1h-1zM67 279h1v1h-1zM74 279h1v1h-1zM73 280h2v1h-2zM81 280h1v1h-1zM81 281h1v1h-1zM68 282h1v1h-1zM82 282h1v1h-1zM83 283h1v1h-1zM69 284h1v1h-1zM76 284h3v1h-3zM69 285h1v1h-1zM79 285h1v1h-1zM84 285h1v1h-1zM69 286h1v1h-1zM80 286h1v1h-1zM84 286h1v1h-1zM80 287h1v1h-1zM84 287h1v1h-1zM70 288h2v1h-2zM80 288h1v1h-1zM84 288h1v1h-1zM71 289h3v1h-3zM85 289h2v1h-2zM73 290h2v1h-2zM86 290h2v1h-2zM73 291h3v1h-3zM86 291h3v1h-3zM73 292h3v1h-3zM86 292h4v1h-4zM74 293h1v1h-1zM89 293h1v1h-1zM74 294h1v1h-1zM89 294h1v1h-1zM74 295h1v1h-1zM88 295h1v1h-1zM74 296h1v1h-1zM85 296h4v1h-4zM74 297h1v1h-1zM80 297h2v1h-2zM86 297h3v1h-3zM74 298h2v1h-2zM80 298h2v1h-2zM87 298h2v1h-2zM74 299h2v1h-2zM89 299h1v1h-1zM74 300h2v1h-2zM90 300h1v1h-1zM74 301h2v1h-2zM83 301h2v1h-2zM90 301h1v1h-1zM75 302h2v1h-2zM90 302h1v1h-1zM77 303h1v1h-1zM90 303h1v1h-1zM78 304h1v1h-1zM90 304h1v1h-1zM80 305h2v1h-2zM90 305h1v1h-1zM81 306h1v1h-1zM77 307h1v1h-1zM80 307h2v1h-2zM91 307h1v1h-1zM76 308h5v1h-5zM91 308h1v1h-1zM76 309h1v1h-1zM91 309h1v1h-1zM76 310h1v1h-1zM91 310h1v1h-1zM76 311h1v1h-1zM90 311h2v1h-2zM76 312h1v1h-1zM89 312h2v1h-2zM77 313h2v1h-2zM88 313h2v1h-2zM78 314h1v1h-1zM82 314h8v1h-8zM78 315h13v1h-13zM80 316h5v1h-5zM90 316h2v1h-2zM83 317h1v1h-1zM91 317h1v1h-1zM84 318h1v1h-1zM91 318h1v1h-1zM85 319h1v1h-1zM91 319h1v1h-1zM87 320h6v1h-6zM89 321h3v1h-3zM88 322h4v1h-4zM86 323h4v1h-4zM85 324h6v1h-6zM86 325h5v1h-5zM87 326h3v1h-3zM82 330h1v1h-1z"/><path fill="#70c9c8" d="M64 246h10v1h-10zM62 247h3v1h-3zM62 248h1v1h-1zM77 251h1v1h-1zM62 252h1v1h-1zM155 252h1v1h-1zM63 253h1v1h-1zM153 253h1v1h-1zM63 254h2v1h-2zM74 254h1v1h-1zM64 255h2v1h-2zM73 255h1v1h-1zM158 255h1v1h-1zM64 256h2v1h-2zM73 256h1v1h-1zM64 257h2v1h-2zM73 257h1v1h-1zM151 257h1v1h-1zM64 258h2v1h-2zM73 258h1v1h-1zM159 258h1v1h-1zM64 259h1v1h-1zM159 259h1v1h-1zM64 260h1v1h-1zM64 261h1v1h-1zM74 261h1v1h-1zM64 262h1v1h-1zM74 262h1v1h-1zM64 263h1v1h-1zM73 263h2v1h-2zM159 263h1v1h-1zM64 264h2v1h-2zM73 264h1v1h-1zM65 265h1v1h-1zM73 265h1v1h-1zM151 265h1v1h-1zM66 266h1v1h-1zM73 266h1v1h-1zM66 267h1v1h-1zM73 267h2v1h-2zM66 268h1v1h-1zM74 268h1v1h-1zM66 269h1v1h-1zM73 269h3v1h-3zM153 269h1v1h-1zM73 270h4v1h-4zM155 270h1v1h-1zM66 271h1v1h-1zM72 271h3v1h-3zM77 271h1v1h-1zM78 272h1v1h-1zM68 273h2v1h-2zM78 273h1v1h-1zM69 274h2v1h-2zM78 274h1v1h-1zM70 275h1v1h-1zM78 275h1v1h-1zM69 276h2v1h-2zM78 276h1v1h-1zM68 277h2v1h-2zM79 277h1v1h-1zM68 278h1v1h-1zM73 278h3v1h-3zM68 279h1v1h-1zM72 279h2v1h-2zM75 279h2v1h-2zM80 279h1v1h-1zM68 280h1v1h-1zM71 280h2v1h-2zM75 280h2v1h-2zM80 280h1v1h-1zM68 281h1v1h-1zM71 281h6v1h-6zM80 281h1v1h-1zM71 282h7v1h-7zM80 282h2v1h-2zM69 283h1v1h-1zM72 283h11v1h-11zM70 284h1v1h-1zM73 284h3v1h-3zM79 284h5v1h-5zM70 285h1v1h-1zM74 285h5v1h-5zM80 285h4v1h-4zM70 286h1v1h-1zM74 286h1v1h-1zM78 286h2v1h-2zM81 286h3v1h-3zM70 287h4v1h-4zM79 287h1v1h-1zM81 287h3v1h-3zM72 288h3v1h-3zM79 288h1v1h-1zM81 288h3v1h-3zM74 289h2v1h-2zM78 289h7v1h-7zM75 290h6v1h-6zM84 290h2v1h-2zM76 291h5v1h-5zM85 291h1v1h-1zM76 292h4v1h-4zM85 292h1v1h-1zM75 293h2v1h-2zM85 293h4v1h-4zM75 294h1v1h-1zM84 294h5v1h-5zM75 295h1v1h-1zM83 295h5v1h-5zM75 296h1v1h-1zM80 296h5v1h-5zM75 297h5v1h-5zM82 297h4v1h-4zM76 298h4v1h-4zM82 298h5v1h-5zM76 299h13v1h-13zM76 300h11v1h-11zM89 300h1v1h-1zM76 301h3v1h-3zM81 301h2v1h-2zM85 301h1v1h-1zM77 302h2v1h-2zM82 302h4v1h-4zM78 303h2v1h-2zM81 303h5v1h-5zM89 303h1v1h-1zM79 304h11v1h-11zM82 305h8v1h-8zM82 306h1v1h-1zM89 306h2v1h-2zM82 307h1v1h-1zM90 307h1v1h-1zM81 308h1v1h-1zM90 308h1v1h-1zM77 309h5v1h-5zM90 309h1v1h-1zM77 310h6v1h-6zM89 310h2v1h-2zM77 311h6v1h-6zM88 311h2v1h-2zM77 312h7v1h-7zM88 312h1v1h-1zM79 313h9v1h-9zM79 314h3v1h-3zM85 316h5v1h-5zM84 317h2v1h-2zM88 317h3v1h-3zM85 318h1v1h-1zM88 318h3v1h-3zM86 319h5v1h-5z"/><path fill="#6dc5d8" d="M65 247h2v1h-2zM75 247h1v1h-1zM63 248h2v1h-2zM62 249h2v1h-2zM77 249h1v1h-1zM62 250h1v1h-1zM77 250h1v1h-1zM62 251h1v1h-1zM63 252h2v1h-2zM76 252h1v1h-1zM64 253h2v1h-2zM75 253h1v1h-1zM65 254h1v1h-1zM73 254h1v1h-1zM66 256h1v1h-1zM72 256h1v1h-1zM66 257h1v1h-1zM72 257h1v1h-1zM66 258h2v1h-2zM72 258h1v1h-1zM151 258h1v1h-1zM65 259h3v1h-3zM72 259h2v1h-2zM65 260h3v1h-3zM69 260h2v1h-2zM72 260h2v1h-2zM159 260h1v1h-1zM65 261h9v1h-9zM159 261h1v1h-1zM65 262h9v1h-9zM159 262h1v1h-1zM65 263h8v1h-8zM66 264h3v1h-3zM70 264h3v1h-3zM151 264h1v1h-1zM66 265h2v1h-2zM71 265h2v1h-2zM67 266h1v1h-1zM72 266h1v1h-1zM158 266h1v1h-1zM67 267h2v1h-2zM72 267h1v1h-1zM152 267h1v1h-1zM67 268h1v1h-1zM72 268h2v1h-2zM157 268h1v1h-1zM71 269h2v1h-2zM156 269h1v1h-1zM66 270h1v1h-1zM71 270h2v1h-2zM71 271h1v1h-1zM75 271h2v1h-2zM67 272h1v1h-1zM70 272h5v1h-5zM77 272h1v1h-1zM70 273h3v1h-3zM71 274h2v1h-2zM71 275h2v1h-2zM71 276h2v1h-2zM77 276h1v1h-1zM70 277h9v1h-9zM69 278h4v1h-4zM76 278h4v1h-4zM69 279h3v1h-3zM77 279h3v1h-3zM69 280h2v1h-2zM77 280h3v1h-3zM69 281h2v1h-2zM77 281h3v1h-3zM69 282h2v1h-2zM78 282h2v1h-2zM70 283h2v1h-2zM71 284h2v1h-2zM71 285h3v1h-3zM71 286h3v1h-3zM75 286h3v1h-3zM74 287h2v1h-2zM78 287h1v1h-1zM75 288h1v1h-1zM78 288h1v1h-1zM76 289h2v1h-2zM81 290h3v1h-3zM81 291h1v1h-1zM84 291h1v1h-1zM80 292h1v1h-1zM84 292h1v1h-1zM77 293h5v1h-5zM84 293h1v1h-1zM76 294h8v1h-8zM76 295h7v1h-7zM76 296h4v1h-4zM87 300h2v1h-2zM79 301h2v1h-2zM86 301h4v1h-4zM79 302h3v1h-3zM86 302h1v1h-1zM89 302h1v1h-1zM80 303h1v1h-1zM86 303h3v1h-3zM83 306h6v1h-6zM83 307h1v1h-1zM85 307h5v1h-5zM82 308h2v1h-2zM86 308h4v1h-4zM82 309h2v1h-2zM86 309h4v1h-4zM83 310h1v1h-1zM87 310h2v1h-2zM83 311h1v1h-1zM87 311h1v1h-1zM84 312h1v1h-1zM87 312h1v1h-1zM86 317h2v1h-2zM86 318h2v1h-2z"/><path fill="#6abfe5" d="M67 247h2v1h-2zM74 247h1v1h-1zM65 248h1v1h-1zM76 248h1v1h-1zM64 249h1v1h-1zM63 250h1v1h-1zM63 251h2v1h-2zM65 252h1v1h-1zM154 253h1v1h-1zM156 253h1v1h-1zM66 254h1v1h-1zM157 254h1v1h-1zM66 255h1v1h-1zM72 255h1v1h-1zM152 255h1v1h-1zM158 256h1v1h-1zM67 257h1v1h-1zM71 257h1v1h-1zM68 258h4v1h-4zM68 259h4v1h-4zM151 259h1v1h-1zM68 260h1v1h-1zM71 260h1v1h-1zM151 260h1v1h-1zM151 261h1v1h-1zM151 262h1v1h-1zM151 263h1v1h-1zM69 264h1v1h-1zM68 265h3v1h-3zM68 266h4v1h-4zM69 267h3v1h-3zM68 268h4v1h-4zM67 269h1v1h-1zM70 269h1v1h-1zM154 269h1v1h-1zM70 270h1v1h-1zM67 271h1v1h-1zM70 271h1v1h-1zM68 272h2v1h-2zM75 272h2v1h-2zM73 273h2v1h-2zM77 273h1v1h-1zM73 274h1v1h-1zM77 274h1v1h-1zM73 275h1v1h-1zM77 275h1v1h-1zM73 276h2v1h-2zM76 276h1v1h-1zM76 287h2v1h-2zM76 288h2v1h-2zM82 291h2v1h-2zM81 292h3v1h-3zM82 293h2v1h-2zM87 302h2v1h-2zM84 307h1v1h-1zM84 308h2v1h-2zM84 309h2v1h-2zM84 310h3v1h-3zM84 311h1v1h-1zM86 311h1v1h-1zM85 312h2v1h-2z"/><path fill="#5ca5dd" d="M69 247h1v1h-1zM73 247h1v1h-1zM66 248h1v1h-1zM65 249h1v1h-1zM64 250h1v1h-1zM65 251h1v1h-1zM66 253h1v1h-1zM74 253h1v1h-1zM155 253h1v1h-1zM72 254h1v1h-1zM153 254h1v1h-1zM67 256h1v1h-1zM71 256h1v1h-1zM152 256h1v1h-1zM68 257h1v1h-1zM70 257h1v1h-1zM158 257h1v1h-1zM158 265h1v1h-1zM152 266h1v1h-1zM157 267h1v1h-1zM153 268h1v1h-1zM68 269h2v1h-2zM155 269h1v1h-1zM67 270h1v1h-1zM69 270h1v1h-1zM68 271h2v1h-2zM75 273h2v1h-2zM74 274h1v1h-1zM74 275h1v1h-1zM76 275h1v1h-1zM75 276h1v1h-1zM85 311h1v1h-1z"/><path fill="#4f8ad1" d="M70 247h3v1h-3zM67 248h1v1h-1zM75 248h1v1h-1zM76 249h1v1h-1zM65 250h1v1h-1zM76 251h1v1h-1zM66 252h1v1h-1zM75 252h1v1h-1zM73 253h1v1h-1zM156 254h1v1h-1zM67 255h1v1h-1zM157 255h1v1h-1zM69 257h1v1h-1zM158 258h1v1h-1zM158 264h1v1h-1zM156 268h1v1h-1zM68 270h1v1h-1zM75 274h2v1h-2zM75 275h1v1h-1z"/><path fill="#4373c2" d="M68 248h1v1h-1zM74 248h1v1h-1zM66 250h1v1h-1zM74 252h1v1h-1zM67 253h1v1h-1zM71 254h1v1h-1zM69 256h1v1h-1zM157 256h1v1h-1zM152 258h1v1h-1zM158 261h1v1h-1zM152 264h1v1h-1zM156 267h1v1h-1z"/><path fill="#3f6abd" d="M69 248h1v1h-1zM67 249h1v1h-1zM75 249h1v1h-1zM75 251h1v1h-1zM67 252h1v1h-1zM154 255h1v1h-1zM156 255h1v1h-1zM153 256h1v1h-1zM157 257h1v1h-1zM152 259h1v1h-1zM152 263h1v1h-1zM157 265h1v1h-1zM153 266h1v1h-1zM154 267h1v1h-1z"/><path fill="#3d66ba" d="M70 248h1v1h-1zM72 248h2v1h-2zM67 250h1v1h-1zM75 250h1v1h-1zM67 251h1v1h-1zM73 252h1v1h-1zM71 253h1v1h-1zM68 255h1v1h-1zM70 255h1v1h-1zM155 255h1v1h-1zM157 258h1v1h-1zM152 260h1v1h-1zM152 261h1v1h-1zM152 262h1v1h-1zM157 264h1v1h-1zM156 266h1v1h-1zM155 267h1v1h-1z"/><path fill="#3c62b7" d="M71 248h1v1h-1zM68 249h1v1h-1zM74 251h1v1h-1zM72 252h1v1h-1zM68 254h1v1h-1zM70 254h1v1h-1zM69 255h1v1h-1zM154 256h1v1h-1zM156 256h1v1h-1zM153 257h1v1h-1zM157 259h1v1h-1zM157 263h1v1h-1zM153 265h1v1h-1zM154 266h1v1h-1z"/><path fill="#497ec9" d="M66 249h1v1h-1zM76 250h1v1h-1zM66 251h1v1h-1zM72 253h1v1h-1zM67 254h1v1h-1zM154 254h2v1h-2zM71 255h1v1h-1zM153 255h1v1h-1zM68 256h1v1h-1zM70 256h1v1h-1zM152 257h1v1h-1zM158 259h1v1h-1zM158 260h1v1h-1zM158 262h1v1h-1zM158 263h1v1h-1zM152 265h1v1h-1zM157 266h1v1h-1zM153 267h1v1h-1zM154 268h2v1h-2z"/><path fill="#385ab2" d="M69 249h1v1h-1zM73 249h1v1h-1zM68 250h1v1h-1zM74 250h1v1h-1zM68 251h1v1h-1zM73 251h1v1h-1zM69 254h1v1h-1zM154 257h1v1h-1zM156 258h1v1h-1zM153 259h1v1h-1zM153 263h1v1h-1zM156 264h1v1h-1zM154 265h2v1h-2z"/><path fill="#3656af" d="M70 249h3v1h-3zM73 250h1v1h-1zM72 251h1v1h-1zM69 252h2v1h-2zM69 253h1v1h-1zM155 257h1v1h-1zM154 258h1v1h-1zM156 259h1v1h-1zM153 260h1v1h-1zM153 261h1v1h-1zM153 262h1v1h-1zM156 263h1v1h-1zM154 264h1v1h-1z"/><path fill="#3a5eb4" d="M74 249h1v1h-1zM68 252h1v1h-1zM71 252h1v1h-1zM68 253h1v1h-1zM70 253h1v1h-1zM155 256h1v1h-1zM156 257h1v1h-1zM153 258h1v1h-1zM157 260h1v1h-1zM157 261h1v1h-1zM157 262h1v1h-1zM153 264h1v1h-1zM156 265h1v1h-1zM155 266h1v1h-1z"/><path fill="#3452ac" d="M69 250h1v1h-1zM72 250h1v1h-1zM69 251h3v1h-3zM155 258h1v1h-1zM154 259h1v1h-1zM156 260h1v1h-1zM156 261h1v1h-1zM156 262h1v1h-1zM154 263h1v1h-1zM155 264h1v1h-1z"/><path fill="#3350aa" d="M70 250h2v1h-2zM155 259h1v1h-1zM154 260h2v1h-2zM154 261h2v1h-2zM154 262h2v1h-2zM155 263h1v1h-1z"/></g><rect x="23.5" y="196" width="188.3" height="9" fill="url(#cb)" stroke="#555" stroke-width="0.5"/><path d="M23.5 196v1.5" stroke="#333" stroke-width="0.5"/><path d="M52.5 196v1.5" stroke="#333" stroke-width="0.5"/><path d="M81.5 196v1.5" stroke="#333" stroke-width="0.5"/><path d="M110.6 196v1.5" stroke="#333" stroke-width="0.5"/><path d="M139.6 196v1.5" stroke="#333" stroke-width="0.5"/><path d="M168.6 196v1.5" stroke="#333" stroke-width="0.5"/><path d="M197.6 196v1.5" stroke="#333" stroke-width="0.5"/><rect x="23.5" y="212.2" width="188.2" height="131.6" fill="none" stroke="#222" stroke-width="1"/><path d="M62.4 343.8v-2.5M62.4 212.2v2.5M106 343.8v-2.5M106 212.2v2.5M149.6 343.8v-2.5M149.6 212.2v2.5M193.1 343.8v-2.5M193.1 212.2v2.5M23.5 227.7h2.5M211.7 227.7h-2.5M23.5 266.4h2.5M211.7 266.4h-2.5M23.5 305.1h2.5M211.7 305.1h-2.5" stroke="#222" stroke-width="0.8" fill="none"/><rect x="245.6" y="211.9" width="169.4" height="133.6" fill="none" stroke="#222" stroke-width="1"/><path d="M283.4 345.5v-2.5M283.4 211.9v2.5M320.9 345.5v-2.5M320.9 211.9v2.5M358.5 345.5v-2.5M358.5 211.9v2.5M396 345.5v-2.5M396 211.9v2.5M245.6 336.8h2.5M415 336.8h-2.5M245.6 318.2h2.5M415 318.2h-2.5M245.6 299.6h2.5M415 299.6h-2.5M245.6 281h2.5M415 281h-2.5M245.6 262.4h2.5M415 262.4h-2.5M245.6 243.8h2.5M415 243.8h-2.5M245.6 225.2h2.5M415 225.2h-2.5" stroke="#222" stroke-width="0.8" fill="none"/><path d="M249.2 253.8C249.6 251.8 249.7 246.4 250.6 246.3C251.5 246.2 251.6 250 252.5 253.3C253.4 256.6 253.2 255.9 254.1 258.8C255 261.7 255.1 261.2 256 264.3C256.9 267.4 256.7 267.8 257.5 270.5C258.3 273.2 258.2 274.1 259.1 274.5C260 274.9 259.8 274 260.7 272.1C261.6 270.2 261.5 269.1 262.5 267.4C263.5 265.7 263.6 266.3 264.6 265.8C265.6 265.3 265.3 264.6 266.1 265.5C266.9 266.4 266.8 266.2 267.7 269C268.6 271.8 268.4 272 269.3 276C270.2 280 270.3 281 270.9 283.9C271.5 286.8 271 287.6 271.6 286.7C272.2 285.8 272.3 283.5 273.2 280.7C274.1 277.9 274 277.1 274.8 276.3C275.6 275.5 275.5 277 276.3 277.6C277.1 278.2 277.1 278.7 277.9 278.7C278.7 278.7 278.6 277.3 279.2 277.6C279.8 277.9 279.6 277.5 280.3 280C281 282.5 281 283.3 281.8 287C282.6 290.7 282.7 290.4 283.4 294C284.1 297.6 283.9 296.3 284.5 300.5C285.1 304.7 284.8 305 285.5 309.8C286.2 314.6 286.2 315 287 318.4C287.8 321.8 287.7 321.6 288.6 322.6C289.5 323.6 289.4 323 290.2 322.3C291 321.6 290.9 321 291.7 320C292.5 319 292.4 318.7 293.3 318.4C294.2 318.1 294.1 319.8 294.9 318.9C295.7 318 295.6 318.1 296.4 315.2C297.2 312.3 297.1 311.3 298 308.2C298.9 305.1 298.9 303.7 299.6 303.5C300.3 303.3 300.2 304.9 300.7 307.4C301.2 309.9 300.8 312.6 301.3 313C301.8 313.4 301.9 310.7 302.7 309C303.5 307.3 303.4 308.5 304.3 306.6C305.2 304.7 305.1 303.7 305.9 301.9C306.7 300.1 306.5 301.2 307.3 300C308.1 298.8 308.2 298.5 309 297.4C309.8 296.3 309.5 292.3 310.2 295.7C310.9 299.1 310.8 310.4 311.6 310.2C312.4 310 312.5 299.4 313.3 294.9C314.1 290.4 314 295.2 314.6 293.2C315.2 291.2 315 293.4 315.5 287.3C316 281.2 315.9 272.5 316.3 270.3C316.7 268.1 316.7 274.5 317.1 279C317.5 283.5 317.5 288.7 317.9 287.3C318.3 285.9 318.2 278.5 318.7 273.7C319.2 268.9 319.1 269.9 319.7 269.4C320.3 268.9 320.3 272.2 320.9 272C321.5 271.8 321.4 270.2 322.1 268.6C322.8 267 322.8 265.3 323.5 266C324.2 266.7 324.1 270 324.8 271.1C325.5 272.2 325.2 272.1 326 270.3C326.8 268.5 326.8 267.5 327.7 264.3C328.6 261.1 328.7 262.7 329.4 258.4C330.1 254.1 329.7 253.4 330.3 248.3C330.9 243.2 330.9 240.1 331.5 239.1C332.1 238.1 331.9 240.7 332.4 244.6C332.9 248.5 332.7 248.9 333.3 253.8C333.9 258.7 333.9 259.5 334.6 262.9C335.3 266.3 335.3 264.4 336.1 266.6C336.9 268.8 336.8 268.4 337.5 271.1C338.2 273.8 338.1 277.8 338.8 276.6C339.5 275.4 339.4 272.4 340.1 266.6C340.8 260.8 340.8 261 341.6 255C342.4 249 342.3 248.5 343.1 244.1C343.9 239.7 343.8 239 344.7 238.6C345.6 238.2 345.5 239.4 346.3 242.5C347.1 245.6 347.1 244.5 347.8 250.4C348.5 256.3 348.5 257 349.1 264.5C349.7 272 349.6 272.2 350.2 278.6C350.8 285 350.8 285.6 351.3 288.5C351.8 291.4 351.6 291.6 352.1 289.3C352.6 287 352.6 287 353.1 280C353.6 273 353.4 265.4 353.8 262.9C354.2 260.4 354.1 265.3 354.6 270.7C355.1 276.1 355.2 276.3 355.7 283.3C356.2 290.3 356.1 288.8 356.5 297C356.9 305.2 356.7 305.9 357.2 314C357.7 322.1 357.7 323 358.2 327.5C358.7 332 358.3 328.9 358.9 331C359.5 333.1 359.8 335.2 360.6 335.2C361.4 335.2 361.2 335.7 362 331C362.8 326.3 362.9 324.2 363.7 317.4C364.5 310.6 364.3 310.7 365 305.5C365.7 300.3 365.4 300.2 366.2 297.8C367 295.4 366.8 297.1 367.9 296.6C369 296.1 369.5 297.5 370.5 295.8C371.5 294.1 371.2 292.8 371.8 290.2C372.4 287.6 372.1 289.2 372.8 286C373.5 282.8 373.4 279.4 374.3 278.2C375.2 277 375.2 281.7 376.1 281.6C377 281.5 376.9 280.3 377.8 278C378.7 275.7 378.5 274.4 379.4 273.1C380.3 271.8 380.1 272.2 381 273C381.9 273.8 381.9 275.5 382.8 276C383.7 276.5 383.6 277.7 384.5 275C385.4 272.3 385.3 270.6 386.1 266C386.9 261.4 386.7 259.1 387.6 257.6C388.5 256.1 388.4 256.5 389.4 260.5C390.4 264.5 390.3 267.1 391.2 272.7C392.1 278.3 391.9 280.7 392.7 281.6C393.5 282.5 393.4 277.8 394.3 276C395.2 274.2 395 275.5 396.1 274.9C397.2 274.3 397.3 277.9 398.3 273.8C399.3 269.7 399 266.2 399.8 259.4C400.6 252.6 400.4 252.1 401.2 248.3C402 244.5 401.8 245.6 402.7 245C403.6 244.4 403.7 247 404.5 246.1C405.3 245.2 404.8 246.1 405.6 241.6C406.4 237.1 406.7 234.7 407.6 229.4C408.5 224.1 408.1 221.4 408.9 221.7C409.7 222 409.7 224.6 410.5 230.5C411.3 236.4 411.6 240.3 412 243.9" fill="none" stroke="#111" stroke-width="1.3" stroke-linejoin="round"/><g font-family='"Liberation Sans", Arial, sans-serif'><text x="127.7" y="143.5" font-size="7.0" text-anchor="end" font-weight="normal" fill="#1a1a1a">-10</text><text x="127.7" y="126.7" font-size="7.0" text-anchor="end" font-weight="normal" fill="#1a1a1a">-8</text><text x="127.7" y="110.2" font-size="7.0" text-anchor="end" font-weight="normal" fill="#1a1a1a">-6</text><text x="127.7" y="93.6" font-size="7.0" text-anchor="end" font-weight="normal" fill="#1a1a1a">-4</text><text x="127.7" y="77.1" font-size="7.0" text-anchor="end" font-weight="normal" fill="#1a1a1a">-2</text><text x="127.7" y="60.5" font-size="7.0" text-anchor="end" font-weight="normal" fill="#1a1a1a">0</text><text x="127.7" y="43.9" font-size="7.0" text-anchor="end" font-weight="normal" fill="#1a1a1a">2</text><text x="127.7" y="27.4" font-size="7.0" text-anchor="end" font-weight="normal" fill="#1a1a1a">4</text><text x="127.7" y="10.8" font-size="7.0" text-anchor="end" font-weight="normal" fill="#1a1a1a">6</text><text x="167" y="149.6" font-size="7.0" text-anchor="middle" font-weight="normal" fill="#1a1a1a">-5</text><text x="207.6" y="149.6" font-size="7.0" text-anchor="middle" font-weight="normal" fill="#1a1a1a">0</text><text x="248.2" y="149.6" font-size="7.0" text-anchor="middle" font-weight="normal" fill="#1a1a1a">5</text><text x="288.8" y="149.6" font-size="7.0" text-anchor="middle" font-weight="normal" fill="#1a1a1a">10</text><text x="218.4" y="157.7" font-size="7.8" text-anchor="middle" font-weight="normal" fill="#1a1a1a">First Coordinate</text><text x="113.5" y="70.6" font-size="7.8" text-anchor="middle" font-weight="normal" fill="#1a1a1a" transform="rotate(-90 113.5 70.6)">Second Coordinate</text><text x="205.2" y="178.4" font-size="12.5" text-anchor="middle" font-weight="bold" fill="#1a1a1a">A</text><text x="23.5" y="195" font-size="4.2" text-anchor="middle" font-weight="normal" fill="#444">0</text><text x="52.5" y="195" font-size="4.2" text-anchor="middle" font-weight="normal" fill="#444">1</text><text x="81.5" y="195" font-size="4.2" text-anchor="middle" font-weight="normal" fill="#444">2</text><text x="110.6" y="195" font-size="4.2" text-anchor="middle" font-weight="normal" fill="#444">3</text><text x="139.6" y="195" font-size="4.2" text-anchor="middle" font-weight="normal" fill="#444">4</text><text x="168.6" y="195" font-size="4.2" text-anchor="middle" font-weight="normal" fill="#444">5</text><text x="197.6" y="195" font-size="4.2" text-anchor="middle" font-weight="normal" fill="#444">6</text><text x="21.8" y="230.6" font-size="8.2" text-anchor="end" font-weight="normal" fill="#1a1a1a">5</text><text x="21.8" y="269.3" font-size="8.2" text-anchor="end" font-weight="normal" fill="#1a1a1a">0</text><text x="21.8" y="308" font-size="8.2" text-anchor="end" font-weight="normal" fill="#1a1a1a">-5</text><text x="21.8" y="346.7" font-size="8.2" text-anchor="end" font-weight="normal" fill="#1a1a1a">-10</text><text x="62.4" y="353" font-size="8.2" text-anchor="middle" font-weight="normal" fill="#1a1a1a">-5</text><text x="106" y="353" font-size="8.2" text-anchor="middle" font-weight="normal" fill="#1a1a1a">0</text><text x="149.6" y="353" font-size="8.2" text-anchor="middle" font-weight="normal" fill="#1a1a1a">5</text><text x="193.1" y="353" font-size="8.2" text-anchor="middle" font-weight="normal" fill="#1a1a1a">10</text><text x="117.6" y="361.6" font-size="8.4" text-anchor="middle" font-weight="normal" fill="#1a1a1a">First Coordinate</text><text x="6.4" y="278.2" font-size="8.4" text-anchor="middle" font-weight="normal" fill="#1a1a1a" transform="rotate(-90 6.4 278.2)">Second Coordinate</text><text x="102.5" y="381.4" font-size="12.5" text-anchor="middle" font-weight="bold" fill="#1a1a1a">B</text><text x="81.4" y="258" font-size="12" text-anchor="middle" font-weight="normal" fill="#1a1a1a">A</text><text x="166.3" y="263.3" font-size="11.5" text-anchor="middle" font-weight="normal" fill="#1a1a1a">B</text><text x="244.3" y="339.3" font-size="7.0" text-anchor="end" font-weight="normal" fill="#1a1a1a">0</text><text x="244.3" y="320.7" font-size="7.0" text-anchor="end" font-weight="normal" fill="#1a1a1a">1</text><text x="244.3" y="302.1" font-size="7.0" text-anchor="end" font-weight="normal" fill="#1a1a1a">2</text><text x="244.3" y="283.5" font-size="7.0" text-anchor="end" font-weight="normal" fill="#1a1a1a">3</text><text x="244.3" y="264.9" font-size="7.0" text-anchor="end" font-weight="normal" fill="#1a1a1a">4</text><text x="244.3" y="246.3" font-size="7.0" text-anchor="end" font-weight="normal" fill="#1a1a1a">5</text><text x="244.3" y="227.7" font-size="7.0" text-anchor="end" font-weight="normal" fill="#1a1a1a">6</text><text x="245.9" y="354.1" font-size="7.0" text-anchor="middle" font-weight="normal" fill="#1a1a1a">-10</text><text x="283.4" y="354.1" font-size="7.0" text-anchor="middle" font-weight="normal" fill="#1a1a1a">-5</text><text x="320.9" y="354.1" font-size="7.0" text-anchor="middle" font-weight="normal" fill="#1a1a1a">0</text><text x="358.5" y="354.1" font-size="7.0" text-anchor="middle" font-weight="normal" fill="#1a1a1a">5</text><text x="396" y="354.1" font-size="7.0" text-anchor="middle" font-weight="normal" fill="#1a1a1a">10</text><text x="330.5" y="361.9" font-size="7.6" text-anchor="middle" font-weight="normal" fill="#1a1a1a">First Coordinate</text><text x="237" y="279" font-size="7.6" text-anchor="middle" font-weight="normal" fill="#1a1a1a" transform="rotate(-90 237 279)">Free Energy (kcal/mol)</text><text x="321" y="381.7" font-size="12.5" text-anchor="middle" font-weight="bold" fill="#1a1a1a">C</text><text x="299" y="327.6" font-size="11" text-anchor="middle" font-weight="normal" fill="#1a1a1a">A</text><text x="369.1" y="340.8" font-size="11" text-anchor="middle" font-weight="normal" fill="#1a1a1a">B</text></g></svg>
</body></html>
